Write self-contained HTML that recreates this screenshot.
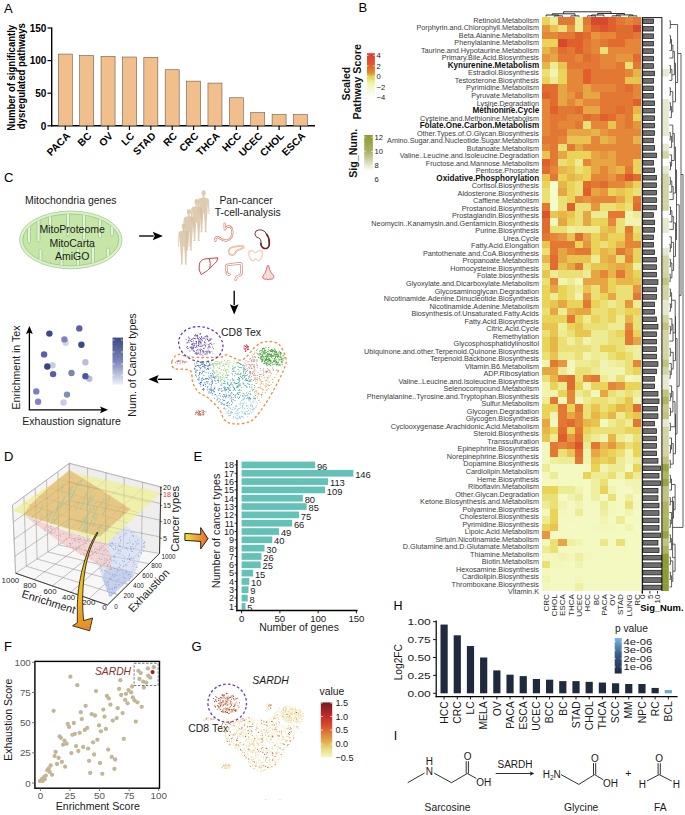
<!DOCTYPE html>
<html><head><meta charset="utf-8"><style>
html,body{margin:0;padding:0;background:#fff;overflow:hidden;width:685px;height:815px;}
svg{display:block;font-family:"Liberation Sans", sans-serif;}
</style></head><body>
<svg width="685" height="815" viewBox="0 0 685 815">
<rect x="0" y="0" width="685" height="815" fill="#fff"/>
<text x="4.00" y="12.60" font-size="13" text-anchor="start" fill="#000">A</text>
<line x1="51.70" y1="27.40" x2="51.70" y2="126.40" stroke="#000" stroke-width="1.4"/>
<line x1="51.00" y1="125.80" x2="315.00" y2="125.80" stroke="#000" stroke-width="1.4"/>
<line x1="47.50" y1="125.80" x2="51.70" y2="125.80" stroke="#000" stroke-width="1.2"/>
<text x="46.40" y="129.60" font-size="10" text-anchor="end" font-weight="bold" fill="#000">0</text>
<line x1="47.50" y1="93.20" x2="51.70" y2="93.20" stroke="#000" stroke-width="1.2"/>
<text x="46.40" y="97.00" font-size="10" text-anchor="end" font-weight="bold" fill="#000">50</text>
<line x1="47.50" y1="60.60" x2="51.70" y2="60.60" stroke="#000" stroke-width="1.2"/>
<text x="46.40" y="64.40" font-size="10" text-anchor="end" font-weight="bold" fill="#000">100</text>
<line x1="47.50" y1="28.00" x2="51.70" y2="28.00" stroke="#000" stroke-width="1.2"/>
<text x="46.40" y="31.80" font-size="10" text-anchor="end" font-weight="bold" fill="#000">150</text>
<rect x="58.30" y="54.08" width="14.00" height="71.72" fill="#f1bf8b" stroke="#6b5a4a" stroke-width="0.6"/>
<line x1="65.30" y1="125.80" x2="65.30" y2="130.00" stroke="#000" stroke-width="1.2"/>
<text x="70.90" y="136.60" font-size="10.2" text-anchor="end" font-weight="bold" fill="#000" transform="rotate(-45 70.89999999999999 136.6)">PACA</text>
<rect x="79.68" y="55.58" width="14.00" height="70.22" fill="#f1bf8b" stroke="#6b5a4a" stroke-width="0.6"/>
<line x1="86.68" y1="125.80" x2="86.68" y2="130.00" stroke="#000" stroke-width="1.2"/>
<text x="92.28" y="136.60" font-size="10.2" text-anchor="end" font-weight="bold" fill="#000" transform="rotate(-45 92.27999999999999 136.6)">BC</text>
<rect x="101.06" y="56.36" width="14.00" height="69.44" fill="#f1bf8b" stroke="#6b5a4a" stroke-width="0.6"/>
<line x1="108.06" y1="125.80" x2="108.06" y2="130.00" stroke="#000" stroke-width="1.2"/>
<text x="113.66" y="136.60" font-size="10.2" text-anchor="end" font-weight="bold" fill="#000" transform="rotate(-45 113.66 136.6)">OV</text>
<rect x="122.44" y="57.01" width="14.00" height="68.79" fill="#f1bf8b" stroke="#6b5a4a" stroke-width="0.6"/>
<line x1="129.44" y1="125.80" x2="129.44" y2="130.00" stroke="#000" stroke-width="1.2"/>
<text x="135.04" y="136.60" font-size="10.2" text-anchor="end" font-weight="bold" fill="#000" transform="rotate(-45 135.04 136.6)">LC</text>
<rect x="143.82" y="57.34" width="14.00" height="68.46" fill="#f1bf8b" stroke="#6b5a4a" stroke-width="0.6"/>
<line x1="150.82" y1="125.80" x2="150.82" y2="130.00" stroke="#000" stroke-width="1.2"/>
<text x="156.42" y="136.60" font-size="10.2" text-anchor="end" font-weight="bold" fill="#000" transform="rotate(-45 156.42 136.6)">STAD</text>
<rect x="165.20" y="69.73" width="14.00" height="56.07" fill="#f1bf8b" stroke="#6b5a4a" stroke-width="0.6"/>
<line x1="172.20" y1="125.80" x2="172.20" y2="130.00" stroke="#000" stroke-width="1.2"/>
<text x="177.80" y="136.60" font-size="10.2" text-anchor="end" font-weight="bold" fill="#000" transform="rotate(-45 177.79999999999998 136.6)">RC</text>
<rect x="186.58" y="81.14" width="14.00" height="44.66" fill="#f1bf8b" stroke="#6b5a4a" stroke-width="0.6"/>
<line x1="193.58" y1="125.80" x2="193.58" y2="130.00" stroke="#000" stroke-width="1.2"/>
<text x="199.18" y="136.60" font-size="10.2" text-anchor="end" font-weight="bold" fill="#000" transform="rotate(-45 199.17999999999998 136.6)">CRC</text>
<rect x="207.96" y="83.09" width="14.00" height="42.71" fill="#f1bf8b" stroke="#6b5a4a" stroke-width="0.6"/>
<line x1="214.96" y1="125.80" x2="214.96" y2="130.00" stroke="#000" stroke-width="1.2"/>
<text x="220.56" y="136.60" font-size="10.2" text-anchor="end" font-weight="bold" fill="#000" transform="rotate(-45 220.55999999999997 136.6)">THCA</text>
<rect x="229.34" y="97.76" width="14.00" height="28.04" fill="#f1bf8b" stroke="#6b5a4a" stroke-width="0.6"/>
<line x1="236.34" y1="125.80" x2="236.34" y2="130.00" stroke="#000" stroke-width="1.2"/>
<text x="241.94" y="136.60" font-size="10.2" text-anchor="end" font-weight="bold" fill="#000" transform="rotate(-45 241.93999999999997 136.6)">HCC</text>
<rect x="250.72" y="112.63" width="14.00" height="13.17" fill="#f1bf8b" stroke="#6b5a4a" stroke-width="0.6"/>
<line x1="257.72" y1="125.80" x2="257.72" y2="130.00" stroke="#000" stroke-width="1.2"/>
<text x="263.32" y="136.60" font-size="10.2" text-anchor="end" font-weight="bold" fill="#000" transform="rotate(-45 263.32 136.6)">UCEC</text>
<rect x="272.10" y="114.59" width="14.00" height="11.21" fill="#f1bf8b" stroke="#6b5a4a" stroke-width="0.6"/>
<line x1="279.10" y1="125.80" x2="279.10" y2="130.00" stroke="#000" stroke-width="1.2"/>
<text x="284.70" y="136.60" font-size="10.2" text-anchor="end" font-weight="bold" fill="#000" transform="rotate(-45 284.7 136.6)">CHOL</text>
<rect x="293.48" y="114.59" width="14.00" height="11.21" fill="#f1bf8b" stroke="#6b5a4a" stroke-width="0.6"/>
<line x1="300.48" y1="125.80" x2="300.48" y2="130.00" stroke="#000" stroke-width="1.2"/>
<text x="306.08" y="136.60" font-size="10.2" text-anchor="end" font-weight="bold" fill="#000" transform="rotate(-45 306.08 136.6)">ESCA</text>
<text x="0" y="0" font-size="10.1" text-anchor="middle" font-weight="bold" fill="#000" transform="translate(14.80 77.80) rotate(-90) scale(0.945 1)">Number of significantly</text>
<text x="0" y="0" font-size="10.1" text-anchor="middle" font-weight="bold" fill="#000" transform="translate(25.00 76.20) rotate(-90) scale(0.95 1)">dysregulated pathways</text>
<text x="358.50" y="12.20" font-size="13" text-anchor="start" fill="#000">B</text>
<rect x="541.95" y="17.06" width="8.61" height="7.80" fill="#e9d458" shape-rendering="crispEdges"/>
<rect x="550.21" y="17.06" width="8.61" height="7.80" fill="#edec94" shape-rendering="crispEdges"/>
<rect x="558.46" y="17.06" width="8.61" height="7.80" fill="#e37834" shape-rendering="crispEdges"/>
<rect x="566.72" y="17.06" width="8.61" height="7.80" fill="#e37834" shape-rendering="crispEdges"/>
<rect x="574.97" y="17.06" width="8.61" height="7.80" fill="#edec94" shape-rendering="crispEdges"/>
<rect x="583.23" y="17.06" width="8.61" height="7.80" fill="#e37834" shape-rendering="crispEdges"/>
<rect x="591.49" y="17.06" width="8.61" height="7.80" fill="#d8482d" shape-rendering="crispEdges"/>
<rect x="599.74" y="17.06" width="8.61" height="7.80" fill="#d8482d" shape-rendering="crispEdges"/>
<rect x="608.00" y="17.06" width="8.61" height="7.80" fill="#df5f2d" shape-rendering="crispEdges"/>
<rect x="616.25" y="17.06" width="8.61" height="7.80" fill="#e37834" shape-rendering="crispEdges"/>
<rect x="624.51" y="17.06" width="8.61" height="7.80" fill="#e48739" shape-rendering="crispEdges"/>
<rect x="632.77" y="17.06" width="8.61" height="7.80" fill="#e37834" shape-rendering="crispEdges"/>
<rect x="541.95" y="24.51" width="8.61" height="7.80" fill="#e5963e" shape-rendering="crispEdges"/>
<rect x="550.21" y="24.51" width="8.61" height="7.80" fill="#e8c550" shape-rendering="crispEdges"/>
<rect x="558.46" y="24.51" width="8.61" height="7.80" fill="#ebe076" shape-rendering="crispEdges"/>
<rect x="566.72" y="24.51" width="8.61" height="7.80" fill="#e5963e" shape-rendering="crispEdges"/>
<rect x="574.97" y="24.51" width="8.61" height="7.80" fill="#edec94" shape-rendering="crispEdges"/>
<rect x="583.23" y="24.51" width="8.61" height="7.80" fill="#e48739" shape-rendering="crispEdges"/>
<rect x="591.49" y="24.51" width="8.61" height="7.80" fill="#df5f2d" shape-rendering="crispEdges"/>
<rect x="599.74" y="24.51" width="8.61" height="7.80" fill="#dc542d" shape-rendering="crispEdges"/>
<rect x="608.00" y="24.51" width="8.61" height="7.80" fill="#df5f2d" shape-rendering="crispEdges"/>
<rect x="616.25" y="24.51" width="8.61" height="7.80" fill="#e16c30" shape-rendering="crispEdges"/>
<rect x="624.51" y="24.51" width="8.61" height="7.80" fill="#e16c30" shape-rendering="crispEdges"/>
<rect x="632.77" y="24.51" width="8.61" height="7.80" fill="#d8482d" shape-rendering="crispEdges"/>
<rect x="541.95" y="31.96" width="8.61" height="7.80" fill="#e48739" shape-rendering="crispEdges"/>
<rect x="550.21" y="31.96" width="8.61" height="7.80" fill="#e48739" shape-rendering="crispEdges"/>
<rect x="558.46" y="31.96" width="8.61" height="7.80" fill="#e37834" shape-rendering="crispEdges"/>
<rect x="566.72" y="31.96" width="8.61" height="7.80" fill="#e37834" shape-rendering="crispEdges"/>
<rect x="574.97" y="31.96" width="8.61" height="7.80" fill="#df5f2d" shape-rendering="crispEdges"/>
<rect x="583.23" y="31.96" width="8.61" height="7.80" fill="#e16c30" shape-rendering="crispEdges"/>
<rect x="591.49" y="31.96" width="8.61" height="7.80" fill="#e5963e" shape-rendering="crispEdges"/>
<rect x="599.74" y="31.96" width="8.61" height="7.80" fill="#e48739" shape-rendering="crispEdges"/>
<rect x="608.00" y="31.96" width="8.61" height="7.80" fill="#e48739" shape-rendering="crispEdges"/>
<rect x="616.25" y="31.96" width="8.61" height="7.80" fill="#e16c30" shape-rendering="crispEdges"/>
<rect x="624.51" y="31.96" width="8.61" height="7.80" fill="#e16c30" shape-rendering="crispEdges"/>
<rect x="632.77" y="31.96" width="8.61" height="7.80" fill="#e37834" shape-rendering="crispEdges"/>
<rect x="541.95" y="39.41" width="8.61" height="7.80" fill="#e9d458" shape-rendering="crispEdges"/>
<rect x="550.21" y="39.41" width="8.61" height="7.80" fill="#e9d458" shape-rendering="crispEdges"/>
<rect x="558.46" y="39.41" width="8.61" height="7.80" fill="#d8482d" shape-rendering="crispEdges"/>
<rect x="566.72" y="39.41" width="8.61" height="7.80" fill="#df5f2d" shape-rendering="crispEdges"/>
<rect x="574.97" y="39.41" width="8.61" height="7.80" fill="#df5f2d" shape-rendering="crispEdges"/>
<rect x="583.23" y="39.41" width="8.61" height="7.80" fill="#e37834" shape-rendering="crispEdges"/>
<rect x="591.49" y="39.41" width="8.61" height="7.80" fill="#e48739" shape-rendering="crispEdges"/>
<rect x="599.74" y="39.41" width="8.61" height="7.80" fill="#e37834" shape-rendering="crispEdges"/>
<rect x="608.00" y="39.41" width="8.61" height="7.80" fill="#e16c30" shape-rendering="crispEdges"/>
<rect x="616.25" y="39.41" width="8.61" height="7.80" fill="#e16c30" shape-rendering="crispEdges"/>
<rect x="624.51" y="39.41" width="8.61" height="7.80" fill="#e48739" shape-rendering="crispEdges"/>
<rect x="632.77" y="39.41" width="8.61" height="7.80" fill="#e48739" shape-rendering="crispEdges"/>
<rect x="541.95" y="46.86" width="8.61" height="7.80" fill="#e8b648" shape-rendering="crispEdges"/>
<rect x="550.21" y="46.86" width="8.61" height="7.80" fill="#e5963e" shape-rendering="crispEdges"/>
<rect x="558.46" y="46.86" width="8.61" height="7.80" fill="#e16c30" shape-rendering="crispEdges"/>
<rect x="566.72" y="46.86" width="8.61" height="7.80" fill="#e37834" shape-rendering="crispEdges"/>
<rect x="574.97" y="46.86" width="8.61" height="7.80" fill="#df5f2d" shape-rendering="crispEdges"/>
<rect x="583.23" y="46.86" width="8.61" height="7.80" fill="#e37834" shape-rendering="crispEdges"/>
<rect x="591.49" y="46.86" width="8.61" height="7.80" fill="#e48739" shape-rendering="crispEdges"/>
<rect x="599.74" y="46.86" width="8.61" height="7.80" fill="#ebe076" shape-rendering="crispEdges"/>
<rect x="608.00" y="46.86" width="8.61" height="7.80" fill="#e48739" shape-rendering="crispEdges"/>
<rect x="616.25" y="46.86" width="8.61" height="7.80" fill="#e48739" shape-rendering="crispEdges"/>
<rect x="624.51" y="46.86" width="8.61" height="7.80" fill="#e48739" shape-rendering="crispEdges"/>
<rect x="632.77" y="46.86" width="8.61" height="7.80" fill="#e48739" shape-rendering="crispEdges"/>
<rect x="541.95" y="54.31" width="8.61" height="7.80" fill="#e5963e" shape-rendering="crispEdges"/>
<rect x="550.21" y="54.31" width="8.61" height="7.80" fill="#e6a643" shape-rendering="crispEdges"/>
<rect x="558.46" y="54.31" width="8.61" height="7.80" fill="#e37834" shape-rendering="crispEdges"/>
<rect x="566.72" y="54.31" width="8.61" height="7.80" fill="#e37834" shape-rendering="crispEdges"/>
<rect x="574.97" y="54.31" width="8.61" height="7.80" fill="#e48739" shape-rendering="crispEdges"/>
<rect x="583.23" y="54.31" width="8.61" height="7.80" fill="#e16c30" shape-rendering="crispEdges"/>
<rect x="591.49" y="54.31" width="8.61" height="7.80" fill="#e37834" shape-rendering="crispEdges"/>
<rect x="599.74" y="54.31" width="8.61" height="7.80" fill="#e48739" shape-rendering="crispEdges"/>
<rect x="608.00" y="54.31" width="8.61" height="7.80" fill="#e48739" shape-rendering="crispEdges"/>
<rect x="616.25" y="54.31" width="8.61" height="7.80" fill="#e5963e" shape-rendering="crispEdges"/>
<rect x="624.51" y="54.31" width="8.61" height="7.80" fill="#e5963e" shape-rendering="crispEdges"/>
<rect x="632.77" y="54.31" width="8.61" height="7.80" fill="#e16c30" shape-rendering="crispEdges"/>
<rect x="541.95" y="61.76" width="8.61" height="7.80" fill="#e8b648" shape-rendering="crispEdges"/>
<rect x="550.21" y="61.76" width="8.61" height="7.80" fill="#edec94" shape-rendering="crispEdges"/>
<rect x="558.46" y="61.76" width="8.61" height="7.80" fill="#e8c550" shape-rendering="crispEdges"/>
<rect x="566.72" y="61.76" width="8.61" height="7.80" fill="#e37834" shape-rendering="crispEdges"/>
<rect x="574.97" y="61.76" width="8.61" height="7.80" fill="#e37834" shape-rendering="crispEdges"/>
<rect x="583.23" y="61.76" width="8.61" height="7.80" fill="#e37834" shape-rendering="crispEdges"/>
<rect x="591.49" y="61.76" width="8.61" height="7.80" fill="#e37834" shape-rendering="crispEdges"/>
<rect x="599.74" y="61.76" width="8.61" height="7.80" fill="#e48739" shape-rendering="crispEdges"/>
<rect x="608.00" y="61.76" width="8.61" height="7.80" fill="#e48739" shape-rendering="crispEdges"/>
<rect x="616.25" y="61.76" width="8.61" height="7.80" fill="#e37834" shape-rendering="crispEdges"/>
<rect x="624.51" y="61.76" width="8.61" height="7.80" fill="#ebe076" shape-rendering="crispEdges"/>
<rect x="632.77" y="61.76" width="8.61" height="7.80" fill="#e37834" shape-rendering="crispEdges"/>
<rect x="541.95" y="69.21" width="8.61" height="7.80" fill="#ebe076" shape-rendering="crispEdges"/>
<rect x="550.21" y="69.21" width="8.61" height="7.80" fill="#f0f4b0" shape-rendering="crispEdges"/>
<rect x="558.46" y="69.21" width="8.61" height="7.80" fill="#e9d458" shape-rendering="crispEdges"/>
<rect x="566.72" y="69.21" width="8.61" height="7.80" fill="#e48739" shape-rendering="crispEdges"/>
<rect x="574.97" y="69.21" width="8.61" height="7.80" fill="#e48739" shape-rendering="crispEdges"/>
<rect x="583.23" y="69.21" width="8.61" height="7.80" fill="#df5f2d" shape-rendering="crispEdges"/>
<rect x="591.49" y="69.21" width="8.61" height="7.80" fill="#e37834" shape-rendering="crispEdges"/>
<rect x="599.74" y="69.21" width="8.61" height="7.80" fill="#e37834" shape-rendering="crispEdges"/>
<rect x="608.00" y="69.21" width="8.61" height="7.80" fill="#e37834" shape-rendering="crispEdges"/>
<rect x="616.25" y="69.21" width="8.61" height="7.80" fill="#e37834" shape-rendering="crispEdges"/>
<rect x="624.51" y="69.21" width="8.61" height="7.80" fill="#e48739" shape-rendering="crispEdges"/>
<rect x="632.77" y="69.21" width="8.61" height="7.80" fill="#e8b648" shape-rendering="crispEdges"/>
<rect x="541.95" y="76.66" width="8.61" height="7.80" fill="#e9d458" shape-rendering="crispEdges"/>
<rect x="550.21" y="76.66" width="8.61" height="7.80" fill="#edec94" shape-rendering="crispEdges"/>
<rect x="558.46" y="76.66" width="8.61" height="7.80" fill="#e9d458" shape-rendering="crispEdges"/>
<rect x="566.72" y="76.66" width="8.61" height="7.80" fill="#e48739" shape-rendering="crispEdges"/>
<rect x="574.97" y="76.66" width="8.61" height="7.80" fill="#e48739" shape-rendering="crispEdges"/>
<rect x="583.23" y="76.66" width="8.61" height="7.80" fill="#df5f2d" shape-rendering="crispEdges"/>
<rect x="591.49" y="76.66" width="8.61" height="7.80" fill="#e37834" shape-rendering="crispEdges"/>
<rect x="599.74" y="76.66" width="8.61" height="7.80" fill="#e37834" shape-rendering="crispEdges"/>
<rect x="608.00" y="76.66" width="8.61" height="7.80" fill="#e37834" shape-rendering="crispEdges"/>
<rect x="616.25" y="76.66" width="8.61" height="7.80" fill="#e37834" shape-rendering="crispEdges"/>
<rect x="624.51" y="76.66" width="8.61" height="7.80" fill="#e8c550" shape-rendering="crispEdges"/>
<rect x="632.77" y="76.66" width="8.61" height="7.80" fill="#e8c550" shape-rendering="crispEdges"/>
<rect x="541.95" y="84.11" width="8.61" height="7.80" fill="#e16c30" shape-rendering="crispEdges"/>
<rect x="550.21" y="84.11" width="8.61" height="7.80" fill="#e16c30" shape-rendering="crispEdges"/>
<rect x="558.46" y="84.11" width="8.61" height="7.80" fill="#e6a643" shape-rendering="crispEdges"/>
<rect x="566.72" y="84.11" width="8.61" height="7.80" fill="#e48739" shape-rendering="crispEdges"/>
<rect x="574.97" y="84.11" width="8.61" height="7.80" fill="#e48739" shape-rendering="crispEdges"/>
<rect x="583.23" y="84.11" width="8.61" height="7.80" fill="#e6a643" shape-rendering="crispEdges"/>
<rect x="591.49" y="84.11" width="8.61" height="7.80" fill="#e48739" shape-rendering="crispEdges"/>
<rect x="599.74" y="84.11" width="8.61" height="7.80" fill="#e48739" shape-rendering="crispEdges"/>
<rect x="608.00" y="84.11" width="8.61" height="7.80" fill="#e48739" shape-rendering="crispEdges"/>
<rect x="616.25" y="84.11" width="8.61" height="7.80" fill="#e37834" shape-rendering="crispEdges"/>
<rect x="624.51" y="84.11" width="8.61" height="7.80" fill="#e16c30" shape-rendering="crispEdges"/>
<rect x="632.77" y="84.11" width="8.61" height="7.80" fill="#e48739" shape-rendering="crispEdges"/>
<rect x="541.95" y="91.56" width="8.61" height="7.80" fill="#df5f2d" shape-rendering="crispEdges"/>
<rect x="550.21" y="91.56" width="8.61" height="7.80" fill="#e16c30" shape-rendering="crispEdges"/>
<rect x="558.46" y="91.56" width="8.61" height="7.80" fill="#e6a643" shape-rendering="crispEdges"/>
<rect x="566.72" y="91.56" width="8.61" height="7.80" fill="#e5963e" shape-rendering="crispEdges"/>
<rect x="574.97" y="91.56" width="8.61" height="7.80" fill="#e37834" shape-rendering="crispEdges"/>
<rect x="583.23" y="91.56" width="8.61" height="7.80" fill="#e6a643" shape-rendering="crispEdges"/>
<rect x="591.49" y="91.56" width="8.61" height="7.80" fill="#e6a643" shape-rendering="crispEdges"/>
<rect x="599.74" y="91.56" width="8.61" height="7.80" fill="#e37834" shape-rendering="crispEdges"/>
<rect x="608.00" y="91.56" width="8.61" height="7.80" fill="#e37834" shape-rendering="crispEdges"/>
<rect x="616.25" y="91.56" width="8.61" height="7.80" fill="#e37834" shape-rendering="crispEdges"/>
<rect x="624.51" y="91.56" width="8.61" height="7.80" fill="#e37834" shape-rendering="crispEdges"/>
<rect x="632.77" y="91.56" width="8.61" height="7.80" fill="#e48739" shape-rendering="crispEdges"/>
<rect x="541.95" y="99.01" width="8.61" height="7.80" fill="#e48739" shape-rendering="crispEdges"/>
<rect x="550.21" y="99.01" width="8.61" height="7.80" fill="#e16c30" shape-rendering="crispEdges"/>
<rect x="558.46" y="99.01" width="8.61" height="7.80" fill="#e6a643" shape-rendering="crispEdges"/>
<rect x="566.72" y="99.01" width="8.61" height="7.80" fill="#e48739" shape-rendering="crispEdges"/>
<rect x="574.97" y="99.01" width="8.61" height="7.80" fill="#e6a643" shape-rendering="crispEdges"/>
<rect x="583.23" y="99.01" width="8.61" height="7.80" fill="#e48739" shape-rendering="crispEdges"/>
<rect x="591.49" y="99.01" width="8.61" height="7.80" fill="#e48739" shape-rendering="crispEdges"/>
<rect x="599.74" y="99.01" width="8.61" height="7.80" fill="#e37834" shape-rendering="crispEdges"/>
<rect x="608.00" y="99.01" width="8.61" height="7.80" fill="#e37834" shape-rendering="crispEdges"/>
<rect x="616.25" y="99.01" width="8.61" height="7.80" fill="#e37834" shape-rendering="crispEdges"/>
<rect x="624.51" y="99.01" width="8.61" height="7.80" fill="#e37834" shape-rendering="crispEdges"/>
<rect x="632.77" y="99.01" width="8.61" height="7.80" fill="#df5f2d" shape-rendering="crispEdges"/>
<rect x="541.95" y="106.46" width="8.61" height="7.80" fill="#e48739" shape-rendering="crispEdges"/>
<rect x="550.21" y="106.46" width="8.61" height="7.80" fill="#df5f2d" shape-rendering="crispEdges"/>
<rect x="558.46" y="106.46" width="8.61" height="7.80" fill="#e37834" shape-rendering="crispEdges"/>
<rect x="566.72" y="106.46" width="8.61" height="7.80" fill="#e37834" shape-rendering="crispEdges"/>
<rect x="574.97" y="106.46" width="8.61" height="7.80" fill="#e16c30" shape-rendering="crispEdges"/>
<rect x="583.23" y="106.46" width="8.61" height="7.80" fill="#e6a643" shape-rendering="crispEdges"/>
<rect x="591.49" y="106.46" width="8.61" height="7.80" fill="#e6a643" shape-rendering="crispEdges"/>
<rect x="599.74" y="106.46" width="8.61" height="7.80" fill="#e37834" shape-rendering="crispEdges"/>
<rect x="608.00" y="106.46" width="8.61" height="7.80" fill="#e37834" shape-rendering="crispEdges"/>
<rect x="616.25" y="106.46" width="8.61" height="7.80" fill="#e16c30" shape-rendering="crispEdges"/>
<rect x="624.51" y="106.46" width="8.61" height="7.80" fill="#e37834" shape-rendering="crispEdges"/>
<rect x="632.77" y="106.46" width="8.61" height="7.80" fill="#e8b648" shape-rendering="crispEdges"/>
<rect x="541.95" y="113.91" width="8.61" height="7.80" fill="#e48739" shape-rendering="crispEdges"/>
<rect x="550.21" y="113.91" width="8.61" height="7.80" fill="#e37834" shape-rendering="crispEdges"/>
<rect x="558.46" y="113.91" width="8.61" height="7.80" fill="#e37834" shape-rendering="crispEdges"/>
<rect x="566.72" y="113.91" width="8.61" height="7.80" fill="#e48739" shape-rendering="crispEdges"/>
<rect x="574.97" y="113.91" width="8.61" height="7.80" fill="#e48739" shape-rendering="crispEdges"/>
<rect x="583.23" y="113.91" width="8.61" height="7.80" fill="#e16c30" shape-rendering="crispEdges"/>
<rect x="591.49" y="113.91" width="8.61" height="7.80" fill="#e37834" shape-rendering="crispEdges"/>
<rect x="599.74" y="113.91" width="8.61" height="7.80" fill="#df5f2d" shape-rendering="crispEdges"/>
<rect x="608.00" y="113.91" width="8.61" height="7.80" fill="#e16c30" shape-rendering="crispEdges"/>
<rect x="616.25" y="113.91" width="8.61" height="7.80" fill="#e48739" shape-rendering="crispEdges"/>
<rect x="624.51" y="113.91" width="8.61" height="7.80" fill="#e37834" shape-rendering="crispEdges"/>
<rect x="632.77" y="113.91" width="8.61" height="7.80" fill="#e9d458" shape-rendering="crispEdges"/>
<rect x="541.95" y="121.36" width="8.61" height="7.80" fill="#e48739" shape-rendering="crispEdges"/>
<rect x="550.21" y="121.36" width="8.61" height="7.80" fill="#e37834" shape-rendering="crispEdges"/>
<rect x="558.46" y="121.36" width="8.61" height="7.80" fill="#e48739" shape-rendering="crispEdges"/>
<rect x="566.72" y="121.36" width="8.61" height="7.80" fill="#e48739" shape-rendering="crispEdges"/>
<rect x="574.97" y="121.36" width="8.61" height="7.80" fill="#e37834" shape-rendering="crispEdges"/>
<rect x="583.23" y="121.36" width="8.61" height="7.80" fill="#ebe076" shape-rendering="crispEdges"/>
<rect x="591.49" y="121.36" width="8.61" height="7.80" fill="#e48739" shape-rendering="crispEdges"/>
<rect x="599.74" y="121.36" width="8.61" height="7.80" fill="#e48739" shape-rendering="crispEdges"/>
<rect x="608.00" y="121.36" width="8.61" height="7.80" fill="#e8c550" shape-rendering="crispEdges"/>
<rect x="616.25" y="121.36" width="8.61" height="7.80" fill="#e48739" shape-rendering="crispEdges"/>
<rect x="624.51" y="121.36" width="8.61" height="7.80" fill="#e37834" shape-rendering="crispEdges"/>
<rect x="632.77" y="121.36" width="8.61" height="7.80" fill="#e5963e" shape-rendering="crispEdges"/>
<rect x="541.95" y="128.81" width="8.61" height="7.80" fill="#e48739" shape-rendering="crispEdges"/>
<rect x="550.21" y="128.81" width="8.61" height="7.80" fill="#e37834" shape-rendering="crispEdges"/>
<rect x="558.46" y="128.81" width="8.61" height="7.80" fill="#e37834" shape-rendering="crispEdges"/>
<rect x="566.72" y="128.81" width="8.61" height="7.80" fill="#e6a643" shape-rendering="crispEdges"/>
<rect x="574.97" y="128.81" width="8.61" height="7.80" fill="#e6a643" shape-rendering="crispEdges"/>
<rect x="583.23" y="128.81" width="8.61" height="7.80" fill="#e6a643" shape-rendering="crispEdges"/>
<rect x="591.49" y="128.81" width="8.61" height="7.80" fill="#e8b648" shape-rendering="crispEdges"/>
<rect x="599.74" y="128.81" width="8.61" height="7.80" fill="#e5963e" shape-rendering="crispEdges"/>
<rect x="608.00" y="128.81" width="8.61" height="7.80" fill="#e48739" shape-rendering="crispEdges"/>
<rect x="616.25" y="128.81" width="8.61" height="7.80" fill="#e48739" shape-rendering="crispEdges"/>
<rect x="624.51" y="128.81" width="8.61" height="7.80" fill="#e48739" shape-rendering="crispEdges"/>
<rect x="632.77" y="128.81" width="8.61" height="7.80" fill="#e48739" shape-rendering="crispEdges"/>
<rect x="541.95" y="136.26" width="8.61" height="7.80" fill="#e37834" shape-rendering="crispEdges"/>
<rect x="550.21" y="136.26" width="8.61" height="7.80" fill="#e37834" shape-rendering="crispEdges"/>
<rect x="558.46" y="136.26" width="8.61" height="7.80" fill="#e48739" shape-rendering="crispEdges"/>
<rect x="566.72" y="136.26" width="8.61" height="7.80" fill="#e8c550" shape-rendering="crispEdges"/>
<rect x="574.97" y="136.26" width="8.61" height="7.80" fill="#e8c550" shape-rendering="crispEdges"/>
<rect x="583.23" y="136.26" width="8.61" height="7.80" fill="#e8c550" shape-rendering="crispEdges"/>
<rect x="591.49" y="136.26" width="8.61" height="7.80" fill="#e48739" shape-rendering="crispEdges"/>
<rect x="599.74" y="136.26" width="8.61" height="7.80" fill="#e8b648" shape-rendering="crispEdges"/>
<rect x="608.00" y="136.26" width="8.61" height="7.80" fill="#e6a643" shape-rendering="crispEdges"/>
<rect x="616.25" y="136.26" width="8.61" height="7.80" fill="#e48739" shape-rendering="crispEdges"/>
<rect x="624.51" y="136.26" width="8.61" height="7.80" fill="#e48739" shape-rendering="crispEdges"/>
<rect x="632.77" y="136.26" width="8.61" height="7.80" fill="#e8b648" shape-rendering="crispEdges"/>
<rect x="541.95" y="143.71" width="8.61" height="7.80" fill="#e48739" shape-rendering="crispEdges"/>
<rect x="550.21" y="143.71" width="8.61" height="7.80" fill="#e37834" shape-rendering="crispEdges"/>
<rect x="558.46" y="143.71" width="8.61" height="7.80" fill="#ebe076" shape-rendering="crispEdges"/>
<rect x="566.72" y="143.71" width="8.61" height="7.80" fill="#e37834" shape-rendering="crispEdges"/>
<rect x="574.97" y="143.71" width="8.61" height="7.80" fill="#e6a643" shape-rendering="crispEdges"/>
<rect x="583.23" y="143.71" width="8.61" height="7.80" fill="#e48739" shape-rendering="crispEdges"/>
<rect x="591.49" y="143.71" width="8.61" height="7.80" fill="#e48739" shape-rendering="crispEdges"/>
<rect x="599.74" y="143.71" width="8.61" height="7.80" fill="#e48739" shape-rendering="crispEdges"/>
<rect x="608.00" y="143.71" width="8.61" height="7.80" fill="#e48739" shape-rendering="crispEdges"/>
<rect x="616.25" y="143.71" width="8.61" height="7.80" fill="#e48739" shape-rendering="crispEdges"/>
<rect x="624.51" y="143.71" width="8.61" height="7.80" fill="#e48739" shape-rendering="crispEdges"/>
<rect x="632.77" y="143.71" width="8.61" height="7.80" fill="#e48739" shape-rendering="crispEdges"/>
<rect x="541.95" y="151.16" width="8.61" height="7.80" fill="#e8c550" shape-rendering="crispEdges"/>
<rect x="550.21" y="151.16" width="8.61" height="7.80" fill="#e37834" shape-rendering="crispEdges"/>
<rect x="558.46" y="151.16" width="8.61" height="7.80" fill="#e6a643" shape-rendering="crispEdges"/>
<rect x="566.72" y="151.16" width="8.61" height="7.80" fill="#e9d458" shape-rendering="crispEdges"/>
<rect x="574.97" y="151.16" width="8.61" height="7.80" fill="#e9d458" shape-rendering="crispEdges"/>
<rect x="583.23" y="151.16" width="8.61" height="7.80" fill="#e9d458" shape-rendering="crispEdges"/>
<rect x="591.49" y="151.16" width="8.61" height="7.80" fill="#e6a643" shape-rendering="crispEdges"/>
<rect x="599.74" y="151.16" width="8.61" height="7.80" fill="#e5963e" shape-rendering="crispEdges"/>
<rect x="608.00" y="151.16" width="8.61" height="7.80" fill="#e6a643" shape-rendering="crispEdges"/>
<rect x="616.25" y="151.16" width="8.61" height="7.80" fill="#e48739" shape-rendering="crispEdges"/>
<rect x="624.51" y="151.16" width="8.61" height="7.80" fill="#e48739" shape-rendering="crispEdges"/>
<rect x="632.77" y="151.16" width="8.61" height="7.80" fill="#e48739" shape-rendering="crispEdges"/>
<rect x="541.95" y="158.61" width="8.61" height="7.80" fill="#df5f2d" shape-rendering="crispEdges"/>
<rect x="550.21" y="158.61" width="8.61" height="7.80" fill="#e37834" shape-rendering="crispEdges"/>
<rect x="558.46" y="158.61" width="8.61" height="7.80" fill="#ebe076" shape-rendering="crispEdges"/>
<rect x="566.72" y="158.61" width="8.61" height="7.80" fill="#e9d458" shape-rendering="crispEdges"/>
<rect x="574.97" y="158.61" width="8.61" height="7.80" fill="#edec94" shape-rendering="crispEdges"/>
<rect x="583.23" y="158.61" width="8.61" height="7.80" fill="#e48739" shape-rendering="crispEdges"/>
<rect x="591.49" y="158.61" width="8.61" height="7.80" fill="#e6a643" shape-rendering="crispEdges"/>
<rect x="599.74" y="158.61" width="8.61" height="7.80" fill="#e6a643" shape-rendering="crispEdges"/>
<rect x="608.00" y="158.61" width="8.61" height="7.80" fill="#e6a643" shape-rendering="crispEdges"/>
<rect x="616.25" y="158.61" width="8.61" height="7.80" fill="#e48739" shape-rendering="crispEdges"/>
<rect x="624.51" y="158.61" width="8.61" height="7.80" fill="#e48739" shape-rendering="crispEdges"/>
<rect x="632.77" y="158.61" width="8.61" height="7.80" fill="#e9d458" shape-rendering="crispEdges"/>
<rect x="541.95" y="166.06" width="8.61" height="7.80" fill="#e16c30" shape-rendering="crispEdges"/>
<rect x="550.21" y="166.06" width="8.61" height="7.80" fill="#e48739" shape-rendering="crispEdges"/>
<rect x="558.46" y="166.06" width="8.61" height="7.80" fill="#e8b648" shape-rendering="crispEdges"/>
<rect x="566.72" y="166.06" width="8.61" height="7.80" fill="#e8c550" shape-rendering="crispEdges"/>
<rect x="574.97" y="166.06" width="8.61" height="7.80" fill="#ebe076" shape-rendering="crispEdges"/>
<rect x="583.23" y="166.06" width="8.61" height="7.80" fill="#e9d458" shape-rendering="crispEdges"/>
<rect x="591.49" y="166.06" width="8.61" height="7.80" fill="#e6a643" shape-rendering="crispEdges"/>
<rect x="599.74" y="166.06" width="8.61" height="7.80" fill="#e48739" shape-rendering="crispEdges"/>
<rect x="608.00" y="166.06" width="8.61" height="7.80" fill="#e6a643" shape-rendering="crispEdges"/>
<rect x="616.25" y="166.06" width="8.61" height="7.80" fill="#e8b648" shape-rendering="crispEdges"/>
<rect x="624.51" y="166.06" width="8.61" height="7.80" fill="#e37834" shape-rendering="crispEdges"/>
<rect x="632.77" y="166.06" width="8.61" height="7.80" fill="#e9d458" shape-rendering="crispEdges"/>
<rect x="541.95" y="173.51" width="8.61" height="7.80" fill="#e8c550" shape-rendering="crispEdges"/>
<rect x="550.21" y="173.51" width="8.61" height="7.80" fill="#e37834" shape-rendering="crispEdges"/>
<rect x="558.46" y="173.51" width="8.61" height="7.80" fill="#e9d458" shape-rendering="crispEdges"/>
<rect x="566.72" y="173.51" width="8.61" height="7.80" fill="#e8b648" shape-rendering="crispEdges"/>
<rect x="574.97" y="173.51" width="8.61" height="7.80" fill="#e8c550" shape-rendering="crispEdges"/>
<rect x="583.23" y="173.51" width="8.61" height="7.80" fill="#e9d458" shape-rendering="crispEdges"/>
<rect x="591.49" y="173.51" width="8.61" height="7.80" fill="#e48739" shape-rendering="crispEdges"/>
<rect x="599.74" y="173.51" width="8.61" height="7.80" fill="#e48739" shape-rendering="crispEdges"/>
<rect x="608.00" y="173.51" width="8.61" height="7.80" fill="#e5963e" shape-rendering="crispEdges"/>
<rect x="616.25" y="173.51" width="8.61" height="7.80" fill="#e37834" shape-rendering="crispEdges"/>
<rect x="624.51" y="173.51" width="8.61" height="7.80" fill="#dc542d" shape-rendering="crispEdges"/>
<rect x="632.77" y="173.51" width="8.61" height="7.80" fill="#e16c30" shape-rendering="crispEdges"/>
<rect x="541.95" y="180.96" width="8.61" height="7.80" fill="#e9d458" shape-rendering="crispEdges"/>
<rect x="550.21" y="180.96" width="8.61" height="7.80" fill="#f4fccc" shape-rendering="crispEdges"/>
<rect x="558.46" y="180.96" width="8.61" height="7.80" fill="#e8b648" shape-rendering="crispEdges"/>
<rect x="566.72" y="180.96" width="8.61" height="7.80" fill="#e9d458" shape-rendering="crispEdges"/>
<rect x="574.97" y="180.96" width="8.61" height="7.80" fill="#ebe076" shape-rendering="crispEdges"/>
<rect x="583.23" y="180.96" width="8.61" height="7.80" fill="#e16c30" shape-rendering="crispEdges"/>
<rect x="591.49" y="180.96" width="8.61" height="7.80" fill="#e37834" shape-rendering="crispEdges"/>
<rect x="599.74" y="180.96" width="8.61" height="7.80" fill="#e16c30" shape-rendering="crispEdges"/>
<rect x="608.00" y="180.96" width="8.61" height="7.80" fill="#e48739" shape-rendering="crispEdges"/>
<rect x="616.25" y="180.96" width="8.61" height="7.80" fill="#e48739" shape-rendering="crispEdges"/>
<rect x="624.51" y="180.96" width="8.61" height="7.80" fill="#e6a643" shape-rendering="crispEdges"/>
<rect x="632.77" y="180.96" width="8.61" height="7.80" fill="#e9d458" shape-rendering="crispEdges"/>
<rect x="541.95" y="188.41" width="8.61" height="7.80" fill="#ebe076" shape-rendering="crispEdges"/>
<rect x="550.21" y="188.41" width="8.61" height="7.80" fill="#f4fccc" shape-rendering="crispEdges"/>
<rect x="558.46" y="188.41" width="8.61" height="7.80" fill="#e6a643" shape-rendering="crispEdges"/>
<rect x="566.72" y="188.41" width="8.61" height="7.80" fill="#e9d458" shape-rendering="crispEdges"/>
<rect x="574.97" y="188.41" width="8.61" height="7.80" fill="#ebe076" shape-rendering="crispEdges"/>
<rect x="583.23" y="188.41" width="8.61" height="7.80" fill="#df5f2d" shape-rendering="crispEdges"/>
<rect x="591.49" y="188.41" width="8.61" height="7.80" fill="#e6a643" shape-rendering="crispEdges"/>
<rect x="599.74" y="188.41" width="8.61" height="7.80" fill="#e5963e" shape-rendering="crispEdges"/>
<rect x="608.00" y="188.41" width="8.61" height="7.80" fill="#e9d458" shape-rendering="crispEdges"/>
<rect x="616.25" y="188.41" width="8.61" height="7.80" fill="#e8c550" shape-rendering="crispEdges"/>
<rect x="624.51" y="188.41" width="8.61" height="7.80" fill="#e9d458" shape-rendering="crispEdges"/>
<rect x="632.77" y="188.41" width="8.61" height="7.80" fill="#ebe076" shape-rendering="crispEdges"/>
<rect x="541.95" y="195.86" width="8.61" height="7.80" fill="#ebe076" shape-rendering="crispEdges"/>
<rect x="550.21" y="195.86" width="8.61" height="7.80" fill="#f4fccc" shape-rendering="crispEdges"/>
<rect x="558.46" y="195.86" width="8.61" height="7.80" fill="#ebe076" shape-rendering="crispEdges"/>
<rect x="566.72" y="195.86" width="8.61" height="7.80" fill="#e9d458" shape-rendering="crispEdges"/>
<rect x="574.97" y="195.86" width="8.61" height="7.80" fill="#e48739" shape-rendering="crispEdges"/>
<rect x="583.23" y="195.86" width="8.61" height="7.80" fill="#e5963e" shape-rendering="crispEdges"/>
<rect x="591.49" y="195.86" width="8.61" height="7.80" fill="#e48739" shape-rendering="crispEdges"/>
<rect x="599.74" y="195.86" width="8.61" height="7.80" fill="#e48739" shape-rendering="crispEdges"/>
<rect x="608.00" y="195.86" width="8.61" height="7.80" fill="#e48739" shape-rendering="crispEdges"/>
<rect x="616.25" y="195.86" width="8.61" height="7.80" fill="#e6a643" shape-rendering="crispEdges"/>
<rect x="624.51" y="195.86" width="8.61" height="7.80" fill="#e9d458" shape-rendering="crispEdges"/>
<rect x="632.77" y="195.86" width="8.61" height="7.80" fill="#e37834" shape-rendering="crispEdges"/>
<rect x="541.95" y="203.31" width="8.61" height="7.80" fill="#e37834" shape-rendering="crispEdges"/>
<rect x="550.21" y="203.31" width="8.61" height="7.80" fill="#f4fccc" shape-rendering="crispEdges"/>
<rect x="558.46" y="203.31" width="8.61" height="7.80" fill="#ebe076" shape-rendering="crispEdges"/>
<rect x="566.72" y="203.31" width="8.61" height="7.80" fill="#df5f2d" shape-rendering="crispEdges"/>
<rect x="574.97" y="203.31" width="8.61" height="7.80" fill="#ebe076" shape-rendering="crispEdges"/>
<rect x="583.23" y="203.31" width="8.61" height="7.80" fill="#ebe076" shape-rendering="crispEdges"/>
<rect x="591.49" y="203.31" width="8.61" height="7.80" fill="#e5963e" shape-rendering="crispEdges"/>
<rect x="599.74" y="203.31" width="8.61" height="7.80" fill="#ebe076" shape-rendering="crispEdges"/>
<rect x="608.00" y="203.31" width="8.61" height="7.80" fill="#ebe076" shape-rendering="crispEdges"/>
<rect x="616.25" y="203.31" width="8.61" height="7.80" fill="#e9d458" shape-rendering="crispEdges"/>
<rect x="624.51" y="203.31" width="8.61" height="7.80" fill="#ebe076" shape-rendering="crispEdges"/>
<rect x="632.77" y="203.31" width="8.61" height="7.80" fill="#e16c30" shape-rendering="crispEdges"/>
<rect x="541.95" y="210.76" width="8.61" height="7.80" fill="#dc542d" shape-rendering="crispEdges"/>
<rect x="550.21" y="210.76" width="8.61" height="7.80" fill="#e8c550" shape-rendering="crispEdges"/>
<rect x="558.46" y="210.76" width="8.61" height="7.80" fill="#e8b648" shape-rendering="crispEdges"/>
<rect x="566.72" y="210.76" width="8.61" height="7.80" fill="#e8c550" shape-rendering="crispEdges"/>
<rect x="574.97" y="210.76" width="8.61" height="7.80" fill="#ebe076" shape-rendering="crispEdges"/>
<rect x="583.23" y="210.76" width="8.61" height="7.80" fill="#e6a643" shape-rendering="crispEdges"/>
<rect x="591.49" y="210.76" width="8.61" height="7.80" fill="#edec94" shape-rendering="crispEdges"/>
<rect x="599.74" y="210.76" width="8.61" height="7.80" fill="#edec94" shape-rendering="crispEdges"/>
<rect x="608.00" y="210.76" width="8.61" height="7.80" fill="#e37834" shape-rendering="crispEdges"/>
<rect x="616.25" y="210.76" width="8.61" height="7.80" fill="#e37834" shape-rendering="crispEdges"/>
<rect x="624.51" y="210.76" width="8.61" height="7.80" fill="#f0f4b0" shape-rendering="crispEdges"/>
<rect x="632.77" y="210.76" width="8.61" height="7.80" fill="#edec94" shape-rendering="crispEdges"/>
<rect x="541.95" y="218.21" width="8.61" height="7.80" fill="#e16c30" shape-rendering="crispEdges"/>
<rect x="550.21" y="218.21" width="8.61" height="7.80" fill="#f2f7bb" shape-rendering="crispEdges"/>
<rect x="558.46" y="218.21" width="8.61" height="7.80" fill="#e6a643" shape-rendering="crispEdges"/>
<rect x="566.72" y="218.21" width="8.61" height="7.80" fill="#e9d458" shape-rendering="crispEdges"/>
<rect x="574.97" y="218.21" width="8.61" height="7.80" fill="#ebe076" shape-rendering="crispEdges"/>
<rect x="583.23" y="218.21" width="8.61" height="7.80" fill="#e6a643" shape-rendering="crispEdges"/>
<rect x="591.49" y="218.21" width="8.61" height="7.80" fill="#e9d458" shape-rendering="crispEdges"/>
<rect x="599.74" y="218.21" width="8.61" height="7.80" fill="#e9d458" shape-rendering="crispEdges"/>
<rect x="608.00" y="218.21" width="8.61" height="7.80" fill="#e48739" shape-rendering="crispEdges"/>
<rect x="616.25" y="218.21" width="8.61" height="7.80" fill="#ebe076" shape-rendering="crispEdges"/>
<rect x="624.51" y="218.21" width="8.61" height="7.80" fill="#f0f4b0" shape-rendering="crispEdges"/>
<rect x="632.77" y="218.21" width="8.61" height="7.80" fill="#f0f4b0" shape-rendering="crispEdges"/>
<rect x="541.95" y="225.66" width="8.61" height="7.80" fill="#e16c30" shape-rendering="crispEdges"/>
<rect x="550.21" y="225.66" width="8.61" height="7.80" fill="#ebe076" shape-rendering="crispEdges"/>
<rect x="558.46" y="225.66" width="8.61" height="7.80" fill="#ebe076" shape-rendering="crispEdges"/>
<rect x="566.72" y="225.66" width="8.61" height="7.80" fill="#eeef9f" shape-rendering="crispEdges"/>
<rect x="574.97" y="225.66" width="8.61" height="7.80" fill="#edec94" shape-rendering="crispEdges"/>
<rect x="583.23" y="225.66" width="8.61" height="7.80" fill="#edec94" shape-rendering="crispEdges"/>
<rect x="591.49" y="225.66" width="8.61" height="7.80" fill="#edec94" shape-rendering="crispEdges"/>
<rect x="599.74" y="225.66" width="8.61" height="7.80" fill="#e8c550" shape-rendering="crispEdges"/>
<rect x="608.00" y="225.66" width="8.61" height="7.80" fill="#e8b648" shape-rendering="crispEdges"/>
<rect x="616.25" y="225.66" width="8.61" height="7.80" fill="#ebe076" shape-rendering="crispEdges"/>
<rect x="624.51" y="225.66" width="8.61" height="7.80" fill="#e37834" shape-rendering="crispEdges"/>
<rect x="632.77" y="225.66" width="8.61" height="7.80" fill="#ebe076" shape-rendering="crispEdges"/>
<rect x="541.95" y="233.11" width="8.61" height="7.80" fill="#e37834" shape-rendering="crispEdges"/>
<rect x="550.21" y="233.11" width="8.61" height="7.80" fill="#e48739" shape-rendering="crispEdges"/>
<rect x="558.46" y="233.11" width="8.61" height="7.80" fill="#e5963e" shape-rendering="crispEdges"/>
<rect x="566.72" y="233.11" width="8.61" height="7.80" fill="#e8c550" shape-rendering="crispEdges"/>
<rect x="574.97" y="233.11" width="8.61" height="7.80" fill="#e16c30" shape-rendering="crispEdges"/>
<rect x="583.23" y="233.11" width="8.61" height="7.80" fill="#e6a643" shape-rendering="crispEdges"/>
<rect x="591.49" y="233.11" width="8.61" height="7.80" fill="#e9d458" shape-rendering="crispEdges"/>
<rect x="599.74" y="233.11" width="8.61" height="7.80" fill="#e8b648" shape-rendering="crispEdges"/>
<rect x="608.00" y="233.11" width="8.61" height="7.80" fill="#e9d458" shape-rendering="crispEdges"/>
<rect x="616.25" y="233.11" width="8.61" height="7.80" fill="#e9d458" shape-rendering="crispEdges"/>
<rect x="624.51" y="233.11" width="8.61" height="7.80" fill="#e48739" shape-rendering="crispEdges"/>
<rect x="632.77" y="233.11" width="8.61" height="7.80" fill="#e9d458" shape-rendering="crispEdges"/>
<rect x="541.95" y="240.56" width="8.61" height="7.80" fill="#e8c550" shape-rendering="crispEdges"/>
<rect x="550.21" y="240.56" width="8.61" height="7.80" fill="#e37834" shape-rendering="crispEdges"/>
<rect x="558.46" y="240.56" width="8.61" height="7.80" fill="#e37834" shape-rendering="crispEdges"/>
<rect x="566.72" y="240.56" width="8.61" height="7.80" fill="#e37834" shape-rendering="crispEdges"/>
<rect x="574.97" y="240.56" width="8.61" height="7.80" fill="#e9d458" shape-rendering="crispEdges"/>
<rect x="583.23" y="240.56" width="8.61" height="7.80" fill="#e5963e" shape-rendering="crispEdges"/>
<rect x="591.49" y="240.56" width="8.61" height="7.80" fill="#e9d458" shape-rendering="crispEdges"/>
<rect x="599.74" y="240.56" width="8.61" height="7.80" fill="#ebe076" shape-rendering="crispEdges"/>
<rect x="608.00" y="240.56" width="8.61" height="7.80" fill="#e9d458" shape-rendering="crispEdges"/>
<rect x="616.25" y="240.56" width="8.61" height="7.80" fill="#e8b648" shape-rendering="crispEdges"/>
<rect x="624.51" y="240.56" width="8.61" height="7.80" fill="#e48739" shape-rendering="crispEdges"/>
<rect x="632.77" y="240.56" width="8.61" height="7.80" fill="#e48739" shape-rendering="crispEdges"/>
<rect x="541.95" y="248.01" width="8.61" height="7.80" fill="#ebe076" shape-rendering="crispEdges"/>
<rect x="550.21" y="248.01" width="8.61" height="7.80" fill="#e37834" shape-rendering="crispEdges"/>
<rect x="558.46" y="248.01" width="8.61" height="7.80" fill="#e6a643" shape-rendering="crispEdges"/>
<rect x="566.72" y="248.01" width="8.61" height="7.80" fill="#e48739" shape-rendering="crispEdges"/>
<rect x="574.97" y="248.01" width="8.61" height="7.80" fill="#e37834" shape-rendering="crispEdges"/>
<rect x="583.23" y="248.01" width="8.61" height="7.80" fill="#e37834" shape-rendering="crispEdges"/>
<rect x="591.49" y="248.01" width="8.61" height="7.80" fill="#e9d458" shape-rendering="crispEdges"/>
<rect x="599.74" y="248.01" width="8.61" height="7.80" fill="#e8b648" shape-rendering="crispEdges"/>
<rect x="608.00" y="248.01" width="8.61" height="7.80" fill="#e8c550" shape-rendering="crispEdges"/>
<rect x="616.25" y="248.01" width="8.61" height="7.80" fill="#e37834" shape-rendering="crispEdges"/>
<rect x="624.51" y="248.01" width="8.61" height="7.80" fill="#e5963e" shape-rendering="crispEdges"/>
<rect x="632.77" y="248.01" width="8.61" height="7.80" fill="#e9d458" shape-rendering="crispEdges"/>
<rect x="541.95" y="255.46" width="8.61" height="7.80" fill="#e8b648" shape-rendering="crispEdges"/>
<rect x="550.21" y="255.46" width="8.61" height="7.80" fill="#e16c30" shape-rendering="crispEdges"/>
<rect x="558.46" y="255.46" width="8.61" height="7.80" fill="#e6a643" shape-rendering="crispEdges"/>
<rect x="566.72" y="255.46" width="8.61" height="7.80" fill="#e8c550" shape-rendering="crispEdges"/>
<rect x="574.97" y="255.46" width="8.61" height="7.80" fill="#e8c550" shape-rendering="crispEdges"/>
<rect x="583.23" y="255.46" width="8.61" height="7.80" fill="#e8c550" shape-rendering="crispEdges"/>
<rect x="591.49" y="255.46" width="8.61" height="7.80" fill="#edec94" shape-rendering="crispEdges"/>
<rect x="599.74" y="255.46" width="8.61" height="7.80" fill="#e8b648" shape-rendering="crispEdges"/>
<rect x="608.00" y="255.46" width="8.61" height="7.80" fill="#e6a643" shape-rendering="crispEdges"/>
<rect x="616.25" y="255.46" width="8.61" height="7.80" fill="#ebe076" shape-rendering="crispEdges"/>
<rect x="624.51" y="255.46" width="8.61" height="7.80" fill="#e48739" shape-rendering="crispEdges"/>
<rect x="632.77" y="255.46" width="8.61" height="7.80" fill="#e9d458" shape-rendering="crispEdges"/>
<rect x="541.95" y="262.91" width="8.61" height="7.80" fill="#ebe076" shape-rendering="crispEdges"/>
<rect x="550.21" y="262.91" width="8.61" height="7.80" fill="#e16c30" shape-rendering="crispEdges"/>
<rect x="558.46" y="262.91" width="8.61" height="7.80" fill="#e8c550" shape-rendering="crispEdges"/>
<rect x="566.72" y="262.91" width="8.61" height="7.80" fill="#e6a643" shape-rendering="crispEdges"/>
<rect x="574.97" y="262.91" width="8.61" height="7.80" fill="#e37834" shape-rendering="crispEdges"/>
<rect x="583.23" y="262.91" width="8.61" height="7.80" fill="#ebe076" shape-rendering="crispEdges"/>
<rect x="591.49" y="262.91" width="8.61" height="7.80" fill="#e8c550" shape-rendering="crispEdges"/>
<rect x="599.74" y="262.91" width="8.61" height="7.80" fill="#e8c550" shape-rendering="crispEdges"/>
<rect x="608.00" y="262.91" width="8.61" height="7.80" fill="#e8b648" shape-rendering="crispEdges"/>
<rect x="616.25" y="262.91" width="8.61" height="7.80" fill="#e6a643" shape-rendering="crispEdges"/>
<rect x="624.51" y="262.91" width="8.61" height="7.80" fill="#e8b648" shape-rendering="crispEdges"/>
<rect x="632.77" y="262.91" width="8.61" height="7.80" fill="#eeef9f" shape-rendering="crispEdges"/>
<rect x="541.95" y="270.36" width="8.61" height="7.80" fill="#e8c550" shape-rendering="crispEdges"/>
<rect x="550.21" y="270.36" width="8.61" height="7.80" fill="#edec94" shape-rendering="crispEdges"/>
<rect x="558.46" y="270.36" width="8.61" height="7.80" fill="#ebe076" shape-rendering="crispEdges"/>
<rect x="566.72" y="270.36" width="8.61" height="7.80" fill="#ebe076" shape-rendering="crispEdges"/>
<rect x="574.97" y="270.36" width="8.61" height="7.80" fill="#ebe076" shape-rendering="crispEdges"/>
<rect x="583.23" y="270.36" width="8.61" height="7.80" fill="#edec94" shape-rendering="crispEdges"/>
<rect x="591.49" y="270.36" width="8.61" height="7.80" fill="#e6a643" shape-rendering="crispEdges"/>
<rect x="599.74" y="270.36" width="8.61" height="7.80" fill="#e48739" shape-rendering="crispEdges"/>
<rect x="608.00" y="270.36" width="8.61" height="7.80" fill="#e8b648" shape-rendering="crispEdges"/>
<rect x="616.25" y="270.36" width="8.61" height="7.80" fill="#e37834" shape-rendering="crispEdges"/>
<rect x="624.51" y="270.36" width="8.61" height="7.80" fill="#e8b648" shape-rendering="crispEdges"/>
<rect x="632.77" y="270.36" width="8.61" height="7.80" fill="#e9d458" shape-rendering="crispEdges"/>
<rect x="541.95" y="277.81" width="8.61" height="7.80" fill="#ebe076" shape-rendering="crispEdges"/>
<rect x="550.21" y="277.81" width="8.61" height="7.80" fill="#e48739" shape-rendering="crispEdges"/>
<rect x="558.46" y="277.81" width="8.61" height="7.80" fill="#f0f4b0" shape-rendering="crispEdges"/>
<rect x="566.72" y="277.81" width="8.61" height="7.80" fill="#edec94" shape-rendering="crispEdges"/>
<rect x="574.97" y="277.81" width="8.61" height="7.80" fill="#f2f7bb" shape-rendering="crispEdges"/>
<rect x="583.23" y="277.81" width="8.61" height="7.80" fill="#e6a643" shape-rendering="crispEdges"/>
<rect x="591.49" y="277.81" width="8.61" height="7.80" fill="#e6a643" shape-rendering="crispEdges"/>
<rect x="599.74" y="277.81" width="8.61" height="7.80" fill="#e6a643" shape-rendering="crispEdges"/>
<rect x="608.00" y="277.81" width="8.61" height="7.80" fill="#e9d458" shape-rendering="crispEdges"/>
<rect x="616.25" y="277.81" width="8.61" height="7.80" fill="#e8b648" shape-rendering="crispEdges"/>
<rect x="624.51" y="277.81" width="8.61" height="7.80" fill="#e8b648" shape-rendering="crispEdges"/>
<rect x="632.77" y="277.81" width="8.61" height="7.80" fill="#e8c550" shape-rendering="crispEdges"/>
<rect x="541.95" y="285.26" width="8.61" height="7.80" fill="#e9d458" shape-rendering="crispEdges"/>
<rect x="550.21" y="285.26" width="8.61" height="7.80" fill="#e6a643" shape-rendering="crispEdges"/>
<rect x="558.46" y="285.26" width="8.61" height="7.80" fill="#e9d458" shape-rendering="crispEdges"/>
<rect x="566.72" y="285.26" width="8.61" height="7.80" fill="#ebe076" shape-rendering="crispEdges"/>
<rect x="574.97" y="285.26" width="8.61" height="7.80" fill="#edec94" shape-rendering="crispEdges"/>
<rect x="583.23" y="285.26" width="8.61" height="7.80" fill="#e8c550" shape-rendering="crispEdges"/>
<rect x="591.49" y="285.26" width="8.61" height="7.80" fill="#ebe076" shape-rendering="crispEdges"/>
<rect x="599.74" y="285.26" width="8.61" height="7.80" fill="#e6a643" shape-rendering="crispEdges"/>
<rect x="608.00" y="285.26" width="8.61" height="7.80" fill="#e9d458" shape-rendering="crispEdges"/>
<rect x="616.25" y="285.26" width="8.61" height="7.80" fill="#ebe076" shape-rendering="crispEdges"/>
<rect x="624.51" y="285.26" width="8.61" height="7.80" fill="#ebe076" shape-rendering="crispEdges"/>
<rect x="632.77" y="285.26" width="8.61" height="7.80" fill="#e5963e" shape-rendering="crispEdges"/>
<rect x="541.95" y="292.71" width="8.61" height="7.80" fill="#e9d458" shape-rendering="crispEdges"/>
<rect x="550.21" y="292.71" width="8.61" height="7.80" fill="#edec94" shape-rendering="crispEdges"/>
<rect x="558.46" y="292.71" width="8.61" height="7.80" fill="#e9d458" shape-rendering="crispEdges"/>
<rect x="566.72" y="292.71" width="8.61" height="7.80" fill="#ebe076" shape-rendering="crispEdges"/>
<rect x="574.97" y="292.71" width="8.61" height="7.80" fill="#f0f4b0" shape-rendering="crispEdges"/>
<rect x="583.23" y="292.71" width="8.61" height="7.80" fill="#e5963e" shape-rendering="crispEdges"/>
<rect x="591.49" y="292.71" width="8.61" height="7.80" fill="#ebe076" shape-rendering="crispEdges"/>
<rect x="599.74" y="292.71" width="8.61" height="7.80" fill="#e9d458" shape-rendering="crispEdges"/>
<rect x="608.00" y="292.71" width="8.61" height="7.80" fill="#e6a643" shape-rendering="crispEdges"/>
<rect x="616.25" y="292.71" width="8.61" height="7.80" fill="#ebe076" shape-rendering="crispEdges"/>
<rect x="624.51" y="292.71" width="8.61" height="7.80" fill="#ebe076" shape-rendering="crispEdges"/>
<rect x="632.77" y="292.71" width="8.61" height="7.80" fill="#e37834" shape-rendering="crispEdges"/>
<rect x="541.95" y="300.16" width="8.61" height="7.80" fill="#e9d458" shape-rendering="crispEdges"/>
<rect x="550.21" y="300.16" width="8.61" height="7.80" fill="#e8c550" shape-rendering="crispEdges"/>
<rect x="558.46" y="300.16" width="8.61" height="7.80" fill="#e6a643" shape-rendering="crispEdges"/>
<rect x="566.72" y="300.16" width="8.61" height="7.80" fill="#e9d458" shape-rendering="crispEdges"/>
<rect x="574.97" y="300.16" width="8.61" height="7.80" fill="#e9d458" shape-rendering="crispEdges"/>
<rect x="583.23" y="300.16" width="8.61" height="7.80" fill="#e37834" shape-rendering="crispEdges"/>
<rect x="591.49" y="300.16" width="8.61" height="7.80" fill="#e9d458" shape-rendering="crispEdges"/>
<rect x="599.74" y="300.16" width="8.61" height="7.80" fill="#ebe076" shape-rendering="crispEdges"/>
<rect x="608.00" y="300.16" width="8.61" height="7.80" fill="#edec94" shape-rendering="crispEdges"/>
<rect x="616.25" y="300.16" width="8.61" height="7.80" fill="#ebe076" shape-rendering="crispEdges"/>
<rect x="624.51" y="300.16" width="8.61" height="7.80" fill="#e5963e" shape-rendering="crispEdges"/>
<rect x="632.77" y="300.16" width="8.61" height="7.80" fill="#edec94" shape-rendering="crispEdges"/>
<rect x="541.95" y="307.61" width="8.61" height="7.80" fill="#ebe076" shape-rendering="crispEdges"/>
<rect x="550.21" y="307.61" width="8.61" height="7.80" fill="#e6a643" shape-rendering="crispEdges"/>
<rect x="558.46" y="307.61" width="8.61" height="7.80" fill="#edec94" shape-rendering="crispEdges"/>
<rect x="566.72" y="307.61" width="8.61" height="7.80" fill="#e8b648" shape-rendering="crispEdges"/>
<rect x="574.97" y="307.61" width="8.61" height="7.80" fill="#e6a643" shape-rendering="crispEdges"/>
<rect x="583.23" y="307.61" width="8.61" height="7.80" fill="#e6a643" shape-rendering="crispEdges"/>
<rect x="591.49" y="307.61" width="8.61" height="7.80" fill="#ebe076" shape-rendering="crispEdges"/>
<rect x="599.74" y="307.61" width="8.61" height="7.80" fill="#ebe076" shape-rendering="crispEdges"/>
<rect x="608.00" y="307.61" width="8.61" height="7.80" fill="#e9d458" shape-rendering="crispEdges"/>
<rect x="616.25" y="307.61" width="8.61" height="7.80" fill="#ebe076" shape-rendering="crispEdges"/>
<rect x="624.51" y="307.61" width="8.61" height="7.80" fill="#e9d458" shape-rendering="crispEdges"/>
<rect x="632.77" y="307.61" width="8.61" height="7.80" fill="#e9d458" shape-rendering="crispEdges"/>
<rect x="541.95" y="315.06" width="8.61" height="7.80" fill="#e9d458" shape-rendering="crispEdges"/>
<rect x="550.21" y="315.06" width="8.61" height="7.80" fill="#e9d458" shape-rendering="crispEdges"/>
<rect x="558.46" y="315.06" width="8.61" height="7.80" fill="#e9d458" shape-rendering="crispEdges"/>
<rect x="566.72" y="315.06" width="8.61" height="7.80" fill="#e37834" shape-rendering="crispEdges"/>
<rect x="574.97" y="315.06" width="8.61" height="7.80" fill="#e9d458" shape-rendering="crispEdges"/>
<rect x="583.23" y="315.06" width="8.61" height="7.80" fill="#edec94" shape-rendering="crispEdges"/>
<rect x="591.49" y="315.06" width="8.61" height="7.80" fill="#e9d458" shape-rendering="crispEdges"/>
<rect x="599.74" y="315.06" width="8.61" height="7.80" fill="#ebe076" shape-rendering="crispEdges"/>
<rect x="608.00" y="315.06" width="8.61" height="7.80" fill="#e9d458" shape-rendering="crispEdges"/>
<rect x="616.25" y="315.06" width="8.61" height="7.80" fill="#edec94" shape-rendering="crispEdges"/>
<rect x="624.51" y="315.06" width="8.61" height="7.80" fill="#e8b648" shape-rendering="crispEdges"/>
<rect x="632.77" y="315.06" width="8.61" height="7.80" fill="#ebe076" shape-rendering="crispEdges"/>
<rect x="541.95" y="322.51" width="8.61" height="7.80" fill="#e8c550" shape-rendering="crispEdges"/>
<rect x="550.21" y="322.51" width="8.61" height="7.80" fill="#e8c550" shape-rendering="crispEdges"/>
<rect x="558.46" y="322.51" width="8.61" height="7.80" fill="#eeef9f" shape-rendering="crispEdges"/>
<rect x="566.72" y="322.51" width="8.61" height="7.80" fill="#e9d458" shape-rendering="crispEdges"/>
<rect x="574.97" y="322.51" width="8.61" height="7.80" fill="#e8c550" shape-rendering="crispEdges"/>
<rect x="583.23" y="322.51" width="8.61" height="7.80" fill="#ebe076" shape-rendering="crispEdges"/>
<rect x="591.49" y="322.51" width="8.61" height="7.80" fill="#ebe076" shape-rendering="crispEdges"/>
<rect x="599.74" y="322.51" width="8.61" height="7.80" fill="#ebe076" shape-rendering="crispEdges"/>
<rect x="608.00" y="322.51" width="8.61" height="7.80" fill="#edec94" shape-rendering="crispEdges"/>
<rect x="616.25" y="322.51" width="8.61" height="7.80" fill="#edec94" shape-rendering="crispEdges"/>
<rect x="624.51" y="322.51" width="8.61" height="7.80" fill="#e48739" shape-rendering="crispEdges"/>
<rect x="632.77" y="322.51" width="8.61" height="7.80" fill="#ebe076" shape-rendering="crispEdges"/>
<rect x="541.95" y="329.96" width="8.61" height="7.80" fill="#ebe076" shape-rendering="crispEdges"/>
<rect x="550.21" y="329.96" width="8.61" height="7.80" fill="#e8c550" shape-rendering="crispEdges"/>
<rect x="558.46" y="329.96" width="8.61" height="7.80" fill="#edec94" shape-rendering="crispEdges"/>
<rect x="566.72" y="329.96" width="8.61" height="7.80" fill="#ebe076" shape-rendering="crispEdges"/>
<rect x="574.97" y="329.96" width="8.61" height="7.80" fill="#e8c550" shape-rendering="crispEdges"/>
<rect x="583.23" y="329.96" width="8.61" height="7.80" fill="#e8c550" shape-rendering="crispEdges"/>
<rect x="591.49" y="329.96" width="8.61" height="7.80" fill="#edec94" shape-rendering="crispEdges"/>
<rect x="599.74" y="329.96" width="8.61" height="7.80" fill="#edec94" shape-rendering="crispEdges"/>
<rect x="608.00" y="329.96" width="8.61" height="7.80" fill="#ebe076" shape-rendering="crispEdges"/>
<rect x="616.25" y="329.96" width="8.61" height="7.80" fill="#e9d458" shape-rendering="crispEdges"/>
<rect x="624.51" y="329.96" width="8.61" height="7.80" fill="#e37834" shape-rendering="crispEdges"/>
<rect x="632.77" y="329.96" width="8.61" height="7.80" fill="#e9d458" shape-rendering="crispEdges"/>
<rect x="541.95" y="337.41" width="8.61" height="7.80" fill="#e9d458" shape-rendering="crispEdges"/>
<rect x="550.21" y="337.41" width="8.61" height="7.80" fill="#e8b648" shape-rendering="crispEdges"/>
<rect x="558.46" y="337.41" width="8.61" height="7.80" fill="#ebe076" shape-rendering="crispEdges"/>
<rect x="566.72" y="337.41" width="8.61" height="7.80" fill="#eeef9f" shape-rendering="crispEdges"/>
<rect x="574.97" y="337.41" width="8.61" height="7.80" fill="#ebe076" shape-rendering="crispEdges"/>
<rect x="583.23" y="337.41" width="8.61" height="7.80" fill="#f0f4b0" shape-rendering="crispEdges"/>
<rect x="591.49" y="337.41" width="8.61" height="7.80" fill="#edec94" shape-rendering="crispEdges"/>
<rect x="599.74" y="337.41" width="8.61" height="7.80" fill="#edec94" shape-rendering="crispEdges"/>
<rect x="608.00" y="337.41" width="8.61" height="7.80" fill="#ebe076" shape-rendering="crispEdges"/>
<rect x="616.25" y="337.41" width="8.61" height="7.80" fill="#ebe076" shape-rendering="crispEdges"/>
<rect x="624.51" y="337.41" width="8.61" height="7.80" fill="#e37834" shape-rendering="crispEdges"/>
<rect x="632.77" y="337.41" width="8.61" height="7.80" fill="#e6a643" shape-rendering="crispEdges"/>
<rect x="541.95" y="344.86" width="8.61" height="7.80" fill="#e9d458" shape-rendering="crispEdges"/>
<rect x="550.21" y="344.86" width="8.61" height="7.80" fill="#e8b648" shape-rendering="crispEdges"/>
<rect x="558.46" y="344.86" width="8.61" height="7.80" fill="#ebe076" shape-rendering="crispEdges"/>
<rect x="566.72" y="344.86" width="8.61" height="7.80" fill="#ebe076" shape-rendering="crispEdges"/>
<rect x="574.97" y="344.86" width="8.61" height="7.80" fill="#ebe076" shape-rendering="crispEdges"/>
<rect x="583.23" y="344.86" width="8.61" height="7.80" fill="#ebe076" shape-rendering="crispEdges"/>
<rect x="591.49" y="344.86" width="8.61" height="7.80" fill="#edec94" shape-rendering="crispEdges"/>
<rect x="599.74" y="344.86" width="8.61" height="7.80" fill="#e9d458" shape-rendering="crispEdges"/>
<rect x="608.00" y="344.86" width="8.61" height="7.80" fill="#e9d458" shape-rendering="crispEdges"/>
<rect x="616.25" y="344.86" width="8.61" height="7.80" fill="#ebe076" shape-rendering="crispEdges"/>
<rect x="624.51" y="344.86" width="8.61" height="7.80" fill="#edec94" shape-rendering="crispEdges"/>
<rect x="632.77" y="344.86" width="8.61" height="7.80" fill="#eeef9f" shape-rendering="crispEdges"/>
<rect x="541.95" y="352.31" width="8.61" height="7.80" fill="#ebe076" shape-rendering="crispEdges"/>
<rect x="550.21" y="352.31" width="8.61" height="7.80" fill="#e8c550" shape-rendering="crispEdges"/>
<rect x="558.46" y="352.31" width="8.61" height="7.80" fill="#edec94" shape-rendering="crispEdges"/>
<rect x="566.72" y="352.31" width="8.61" height="7.80" fill="#edec94" shape-rendering="crispEdges"/>
<rect x="574.97" y="352.31" width="8.61" height="7.80" fill="#ebe076" shape-rendering="crispEdges"/>
<rect x="583.23" y="352.31" width="8.61" height="7.80" fill="#f0f4b0" shape-rendering="crispEdges"/>
<rect x="591.49" y="352.31" width="8.61" height="7.80" fill="#edec94" shape-rendering="crispEdges"/>
<rect x="599.74" y="352.31" width="8.61" height="7.80" fill="#eeef9f" shape-rendering="crispEdges"/>
<rect x="608.00" y="352.31" width="8.61" height="7.80" fill="#ebe076" shape-rendering="crispEdges"/>
<rect x="616.25" y="352.31" width="8.61" height="7.80" fill="#e9d458" shape-rendering="crispEdges"/>
<rect x="624.51" y="352.31" width="8.61" height="7.80" fill="#ebe076" shape-rendering="crispEdges"/>
<rect x="632.77" y="352.31" width="8.61" height="7.80" fill="#eeef9f" shape-rendering="crispEdges"/>
<rect x="541.95" y="359.76" width="8.61" height="7.80" fill="#f0f4b0" shape-rendering="crispEdges"/>
<rect x="550.21" y="359.76" width="8.61" height="7.80" fill="#e37834" shape-rendering="crispEdges"/>
<rect x="558.46" y="359.76" width="8.61" height="7.80" fill="#e5963e" shape-rendering="crispEdges"/>
<rect x="566.72" y="359.76" width="8.61" height="7.80" fill="#f2f7bb" shape-rendering="crispEdges"/>
<rect x="574.97" y="359.76" width="8.61" height="7.80" fill="#edec94" shape-rendering="crispEdges"/>
<rect x="583.23" y="359.76" width="8.61" height="7.80" fill="#edec94" shape-rendering="crispEdges"/>
<rect x="591.49" y="359.76" width="8.61" height="7.80" fill="#ece582" shape-rendering="crispEdges"/>
<rect x="599.74" y="359.76" width="8.61" height="7.80" fill="#f0f4b0" shape-rendering="crispEdges"/>
<rect x="608.00" y="359.76" width="8.61" height="7.80" fill="#eeef9f" shape-rendering="crispEdges"/>
<rect x="616.25" y="359.76" width="8.61" height="7.80" fill="#edec94" shape-rendering="crispEdges"/>
<rect x="624.51" y="359.76" width="8.61" height="7.80" fill="#ebe076" shape-rendering="crispEdges"/>
<rect x="632.77" y="359.76" width="8.61" height="7.80" fill="#e48739" shape-rendering="crispEdges"/>
<rect x="541.95" y="367.21" width="8.61" height="7.80" fill="#e6a643" shape-rendering="crispEdges"/>
<rect x="550.21" y="367.21" width="8.61" height="7.80" fill="#e6a643" shape-rendering="crispEdges"/>
<rect x="558.46" y="367.21" width="8.61" height="7.80" fill="#edec94" shape-rendering="crispEdges"/>
<rect x="566.72" y="367.21" width="8.61" height="7.80" fill="#f2f7bb" shape-rendering="crispEdges"/>
<rect x="574.97" y="367.21" width="8.61" height="7.80" fill="#ebe076" shape-rendering="crispEdges"/>
<rect x="583.23" y="367.21" width="8.61" height="7.80" fill="#ebe076" shape-rendering="crispEdges"/>
<rect x="591.49" y="367.21" width="8.61" height="7.80" fill="#edec94" shape-rendering="crispEdges"/>
<rect x="599.74" y="367.21" width="8.61" height="7.80" fill="#f0f4b0" shape-rendering="crispEdges"/>
<rect x="608.00" y="367.21" width="8.61" height="7.80" fill="#f0f4b0" shape-rendering="crispEdges"/>
<rect x="616.25" y="367.21" width="8.61" height="7.80" fill="#f0f4b0" shape-rendering="crispEdges"/>
<rect x="624.51" y="367.21" width="8.61" height="7.80" fill="#ebe076" shape-rendering="crispEdges"/>
<rect x="632.77" y="367.21" width="8.61" height="7.80" fill="#e9d458" shape-rendering="crispEdges"/>
<rect x="541.95" y="374.66" width="8.61" height="7.80" fill="#ebe076" shape-rendering="crispEdges"/>
<rect x="550.21" y="374.66" width="8.61" height="7.80" fill="#e8b648" shape-rendering="crispEdges"/>
<rect x="558.46" y="374.66" width="8.61" height="7.80" fill="#e37834" shape-rendering="crispEdges"/>
<rect x="566.72" y="374.66" width="8.61" height="7.80" fill="#e16c30" shape-rendering="crispEdges"/>
<rect x="574.97" y="374.66" width="8.61" height="7.80" fill="#ebe076" shape-rendering="crispEdges"/>
<rect x="583.23" y="374.66" width="8.61" height="7.80" fill="#e48739" shape-rendering="crispEdges"/>
<rect x="591.49" y="374.66" width="8.61" height="7.80" fill="#e37834" shape-rendering="crispEdges"/>
<rect x="599.74" y="374.66" width="8.61" height="7.80" fill="#edec94" shape-rendering="crispEdges"/>
<rect x="608.00" y="374.66" width="8.61" height="7.80" fill="#f0f4b0" shape-rendering="crispEdges"/>
<rect x="616.25" y="374.66" width="8.61" height="7.80" fill="#ebe076" shape-rendering="crispEdges"/>
<rect x="624.51" y="374.66" width="8.61" height="7.80" fill="#f2f7bb" shape-rendering="crispEdges"/>
<rect x="632.77" y="374.66" width="8.61" height="7.80" fill="#f0f4b0" shape-rendering="crispEdges"/>
<rect x="541.95" y="382.11" width="8.61" height="7.80" fill="#f0f4b0" shape-rendering="crispEdges"/>
<rect x="550.21" y="382.11" width="8.61" height="7.80" fill="#e9d458" shape-rendering="crispEdges"/>
<rect x="558.46" y="382.11" width="8.61" height="7.80" fill="#edec94" shape-rendering="crispEdges"/>
<rect x="566.72" y="382.11" width="8.61" height="7.80" fill="#e16c30" shape-rendering="crispEdges"/>
<rect x="574.97" y="382.11" width="8.61" height="7.80" fill="#e9d458" shape-rendering="crispEdges"/>
<rect x="583.23" y="382.11" width="8.61" height="7.80" fill="#f0f4b0" shape-rendering="crispEdges"/>
<rect x="591.49" y="382.11" width="8.61" height="7.80" fill="#e9d458" shape-rendering="crispEdges"/>
<rect x="599.74" y="382.11" width="8.61" height="7.80" fill="#e9d458" shape-rendering="crispEdges"/>
<rect x="608.00" y="382.11" width="8.61" height="7.80" fill="#e48739" shape-rendering="crispEdges"/>
<rect x="616.25" y="382.11" width="8.61" height="7.80" fill="#e5963e" shape-rendering="crispEdges"/>
<rect x="624.51" y="382.11" width="8.61" height="7.80" fill="#e9d458" shape-rendering="crispEdges"/>
<rect x="632.77" y="382.11" width="8.61" height="7.80" fill="#e9d458" shape-rendering="crispEdges"/>
<rect x="541.95" y="389.56" width="8.61" height="7.80" fill="#f0f4b0" shape-rendering="crispEdges"/>
<rect x="550.21" y="389.56" width="8.61" height="7.80" fill="#f0f4b0" shape-rendering="crispEdges"/>
<rect x="558.46" y="389.56" width="8.61" height="7.80" fill="#e9d458" shape-rendering="crispEdges"/>
<rect x="566.72" y="389.56" width="8.61" height="7.80" fill="#e48739" shape-rendering="crispEdges"/>
<rect x="574.97" y="389.56" width="8.61" height="7.80" fill="#edec94" shape-rendering="crispEdges"/>
<rect x="583.23" y="389.56" width="8.61" height="7.80" fill="#ebe076" shape-rendering="crispEdges"/>
<rect x="591.49" y="389.56" width="8.61" height="7.80" fill="#f2f7bb" shape-rendering="crispEdges"/>
<rect x="599.74" y="389.56" width="8.61" height="7.80" fill="#e6a643" shape-rendering="crispEdges"/>
<rect x="608.00" y="389.56" width="8.61" height="7.80" fill="#ebe076" shape-rendering="crispEdges"/>
<rect x="616.25" y="389.56" width="8.61" height="7.80" fill="#edec94" shape-rendering="crispEdges"/>
<rect x="624.51" y="389.56" width="8.61" height="7.80" fill="#ebe076" shape-rendering="crispEdges"/>
<rect x="632.77" y="389.56" width="8.61" height="7.80" fill="#edec94" shape-rendering="crispEdges"/>
<rect x="541.95" y="397.01" width="8.61" height="7.80" fill="#edec94" shape-rendering="crispEdges"/>
<rect x="550.21" y="397.01" width="8.61" height="7.80" fill="#e37834" shape-rendering="crispEdges"/>
<rect x="558.46" y="397.01" width="8.61" height="7.80" fill="#f2f7bb" shape-rendering="crispEdges"/>
<rect x="566.72" y="397.01" width="8.61" height="7.80" fill="#e48739" shape-rendering="crispEdges"/>
<rect x="574.97" y="397.01" width="8.61" height="7.80" fill="#f2f7bb" shape-rendering="crispEdges"/>
<rect x="583.23" y="397.01" width="8.61" height="7.80" fill="#edec94" shape-rendering="crispEdges"/>
<rect x="591.49" y="397.01" width="8.61" height="7.80" fill="#ebe076" shape-rendering="crispEdges"/>
<rect x="599.74" y="397.01" width="8.61" height="7.80" fill="#ebe076" shape-rendering="crispEdges"/>
<rect x="608.00" y="397.01" width="8.61" height="7.80" fill="#edec94" shape-rendering="crispEdges"/>
<rect x="616.25" y="397.01" width="8.61" height="7.80" fill="#ebe076" shape-rendering="crispEdges"/>
<rect x="624.51" y="397.01" width="8.61" height="7.80" fill="#e8c550" shape-rendering="crispEdges"/>
<rect x="632.77" y="397.01" width="8.61" height="7.80" fill="#f0f4b0" shape-rendering="crispEdges"/>
<rect x="541.95" y="404.46" width="8.61" height="7.80" fill="#e9d458" shape-rendering="crispEdges"/>
<rect x="550.21" y="404.46" width="8.61" height="7.80" fill="#e9d458" shape-rendering="crispEdges"/>
<rect x="558.46" y="404.46" width="8.61" height="7.80" fill="#e37834" shape-rendering="crispEdges"/>
<rect x="566.72" y="404.46" width="8.61" height="7.80" fill="#e9d458" shape-rendering="crispEdges"/>
<rect x="574.97" y="404.46" width="8.61" height="7.80" fill="#e37834" shape-rendering="crispEdges"/>
<rect x="583.23" y="404.46" width="8.61" height="7.80" fill="#ebe076" shape-rendering="crispEdges"/>
<rect x="591.49" y="404.46" width="8.61" height="7.80" fill="#e8c550" shape-rendering="crispEdges"/>
<rect x="599.74" y="404.46" width="8.61" height="7.80" fill="#ebe076" shape-rendering="crispEdges"/>
<rect x="608.00" y="404.46" width="8.61" height="7.80" fill="#e9d458" shape-rendering="crispEdges"/>
<rect x="616.25" y="404.46" width="8.61" height="7.80" fill="#e8b648" shape-rendering="crispEdges"/>
<rect x="624.51" y="404.46" width="8.61" height="7.80" fill="#e8c550" shape-rendering="crispEdges"/>
<rect x="632.77" y="404.46" width="8.61" height="7.80" fill="#e16c30" shape-rendering="crispEdges"/>
<rect x="541.95" y="411.91" width="8.61" height="7.80" fill="#e9d458" shape-rendering="crispEdges"/>
<rect x="550.21" y="411.91" width="8.61" height="7.80" fill="#f0f4b0" shape-rendering="crispEdges"/>
<rect x="558.46" y="411.91" width="8.61" height="7.80" fill="#e37834" shape-rendering="crispEdges"/>
<rect x="566.72" y="411.91" width="8.61" height="7.80" fill="#e6a643" shape-rendering="crispEdges"/>
<rect x="574.97" y="411.91" width="8.61" height="7.80" fill="#e48739" shape-rendering="crispEdges"/>
<rect x="583.23" y="411.91" width="8.61" height="7.80" fill="#ebe076" shape-rendering="crispEdges"/>
<rect x="591.49" y="411.91" width="8.61" height="7.80" fill="#e8b648" shape-rendering="crispEdges"/>
<rect x="599.74" y="411.91" width="8.61" height="7.80" fill="#e9d458" shape-rendering="crispEdges"/>
<rect x="608.00" y="411.91" width="8.61" height="7.80" fill="#e8b648" shape-rendering="crispEdges"/>
<rect x="616.25" y="411.91" width="8.61" height="7.80" fill="#edec94" shape-rendering="crispEdges"/>
<rect x="624.51" y="411.91" width="8.61" height="7.80" fill="#e9d458" shape-rendering="crispEdges"/>
<rect x="632.77" y="411.91" width="8.61" height="7.80" fill="#e8c550" shape-rendering="crispEdges"/>
<rect x="541.95" y="419.36" width="8.61" height="7.80" fill="#e6a643" shape-rendering="crispEdges"/>
<rect x="550.21" y="419.36" width="8.61" height="7.80" fill="#f2f7bb" shape-rendering="crispEdges"/>
<rect x="558.46" y="419.36" width="8.61" height="7.80" fill="#e37834" shape-rendering="crispEdges"/>
<rect x="566.72" y="419.36" width="8.61" height="7.80" fill="#e16c30" shape-rendering="crispEdges"/>
<rect x="574.97" y="419.36" width="8.61" height="7.80" fill="#e48739" shape-rendering="crispEdges"/>
<rect x="583.23" y="419.36" width="8.61" height="7.80" fill="#e8b648" shape-rendering="crispEdges"/>
<rect x="591.49" y="419.36" width="8.61" height="7.80" fill="#e8c550" shape-rendering="crispEdges"/>
<rect x="599.74" y="419.36" width="8.61" height="7.80" fill="#f2f7bb" shape-rendering="crispEdges"/>
<rect x="608.00" y="419.36" width="8.61" height="7.80" fill="#edec94" shape-rendering="crispEdges"/>
<rect x="616.25" y="419.36" width="8.61" height="7.80" fill="#ebe076" shape-rendering="crispEdges"/>
<rect x="624.51" y="419.36" width="8.61" height="7.80" fill="#edec94" shape-rendering="crispEdges"/>
<rect x="632.77" y="419.36" width="8.61" height="7.80" fill="#e37834" shape-rendering="crispEdges"/>
<rect x="541.95" y="426.81" width="8.61" height="7.80" fill="#e8b648" shape-rendering="crispEdges"/>
<rect x="550.21" y="426.81" width="8.61" height="7.80" fill="#e9d458" shape-rendering="crispEdges"/>
<rect x="558.46" y="426.81" width="8.61" height="7.80" fill="#e16c30" shape-rendering="crispEdges"/>
<rect x="566.72" y="426.81" width="8.61" height="7.80" fill="#e9d458" shape-rendering="crispEdges"/>
<rect x="574.97" y="426.81" width="8.61" height="7.80" fill="#e37834" shape-rendering="crispEdges"/>
<rect x="583.23" y="426.81" width="8.61" height="7.80" fill="#e9d458" shape-rendering="crispEdges"/>
<rect x="591.49" y="426.81" width="8.61" height="7.80" fill="#ebe076" shape-rendering="crispEdges"/>
<rect x="599.74" y="426.81" width="8.61" height="7.80" fill="#ebe076" shape-rendering="crispEdges"/>
<rect x="608.00" y="426.81" width="8.61" height="7.80" fill="#ebe076" shape-rendering="crispEdges"/>
<rect x="616.25" y="426.81" width="8.61" height="7.80" fill="#ebe076" shape-rendering="crispEdges"/>
<rect x="624.51" y="426.81" width="8.61" height="7.80" fill="#e9d458" shape-rendering="crispEdges"/>
<rect x="632.77" y="426.81" width="8.61" height="7.80" fill="#e9d458" shape-rendering="crispEdges"/>
<rect x="541.95" y="434.26" width="8.61" height="7.80" fill="#e8c550" shape-rendering="crispEdges"/>
<rect x="550.21" y="434.26" width="8.61" height="7.80" fill="#edec94" shape-rendering="crispEdges"/>
<rect x="558.46" y="434.26" width="8.61" height="7.80" fill="#df5f2d" shape-rendering="crispEdges"/>
<rect x="566.72" y="434.26" width="8.61" height="7.80" fill="#e5963e" shape-rendering="crispEdges"/>
<rect x="574.97" y="434.26" width="8.61" height="7.80" fill="#e16c30" shape-rendering="crispEdges"/>
<rect x="583.23" y="434.26" width="8.61" height="7.80" fill="#ebe076" shape-rendering="crispEdges"/>
<rect x="591.49" y="434.26" width="8.61" height="7.80" fill="#edec94" shape-rendering="crispEdges"/>
<rect x="599.74" y="434.26" width="8.61" height="7.80" fill="#f0f4b0" shape-rendering="crispEdges"/>
<rect x="608.00" y="434.26" width="8.61" height="7.80" fill="#e8b648" shape-rendering="crispEdges"/>
<rect x="616.25" y="434.26" width="8.61" height="7.80" fill="#edec94" shape-rendering="crispEdges"/>
<rect x="624.51" y="434.26" width="8.61" height="7.80" fill="#f0f4b0" shape-rendering="crispEdges"/>
<rect x="632.77" y="434.26" width="8.61" height="7.80" fill="#ebe076" shape-rendering="crispEdges"/>
<rect x="541.95" y="441.71" width="8.61" height="7.80" fill="#f2f7bb" shape-rendering="crispEdges"/>
<rect x="550.21" y="441.71" width="8.61" height="7.80" fill="#e37834" shape-rendering="crispEdges"/>
<rect x="558.46" y="441.71" width="8.61" height="7.80" fill="#e48739" shape-rendering="crispEdges"/>
<rect x="566.72" y="441.71" width="8.61" height="7.80" fill="#e37834" shape-rendering="crispEdges"/>
<rect x="574.97" y="441.71" width="8.61" height="7.80" fill="#dc542d" shape-rendering="crispEdges"/>
<rect x="583.23" y="441.71" width="8.61" height="7.80" fill="#edec94" shape-rendering="crispEdges"/>
<rect x="591.49" y="441.71" width="8.61" height="7.80" fill="#e37834" shape-rendering="crispEdges"/>
<rect x="599.74" y="441.71" width="8.61" height="7.80" fill="#e8b648" shape-rendering="crispEdges"/>
<rect x="608.00" y="441.71" width="8.61" height="7.80" fill="#e5963e" shape-rendering="crispEdges"/>
<rect x="616.25" y="441.71" width="8.61" height="7.80" fill="#e8c550" shape-rendering="crispEdges"/>
<rect x="624.51" y="441.71" width="8.61" height="7.80" fill="#ebe076" shape-rendering="crispEdges"/>
<rect x="632.77" y="441.71" width="8.61" height="7.80" fill="#e9d458" shape-rendering="crispEdges"/>
<rect x="541.95" y="449.16" width="8.61" height="7.80" fill="#f2f7bb" shape-rendering="crispEdges"/>
<rect x="550.21" y="449.16" width="8.61" height="7.80" fill="#e37834" shape-rendering="crispEdges"/>
<rect x="558.46" y="449.16" width="8.61" height="7.80" fill="#ebe076" shape-rendering="crispEdges"/>
<rect x="566.72" y="449.16" width="8.61" height="7.80" fill="#e8c550" shape-rendering="crispEdges"/>
<rect x="574.97" y="449.16" width="8.61" height="7.80" fill="#e16c30" shape-rendering="crispEdges"/>
<rect x="583.23" y="449.16" width="8.61" height="7.80" fill="#f0f4b0" shape-rendering="crispEdges"/>
<rect x="591.49" y="449.16" width="8.61" height="7.80" fill="#e6a643" shape-rendering="crispEdges"/>
<rect x="599.74" y="449.16" width="8.61" height="7.80" fill="#e8c550" shape-rendering="crispEdges"/>
<rect x="608.00" y="449.16" width="8.61" height="7.80" fill="#e9d458" shape-rendering="crispEdges"/>
<rect x="616.25" y="449.16" width="8.61" height="7.80" fill="#ebe076" shape-rendering="crispEdges"/>
<rect x="624.51" y="449.16" width="8.61" height="7.80" fill="#f0f4b0" shape-rendering="crispEdges"/>
<rect x="632.77" y="449.16" width="8.61" height="7.80" fill="#e9d458" shape-rendering="crispEdges"/>
<rect x="541.95" y="456.61" width="8.61" height="7.80" fill="#f2f7bb" shape-rendering="crispEdges"/>
<rect x="550.21" y="456.61" width="8.61" height="7.80" fill="#eeef9f" shape-rendering="crispEdges"/>
<rect x="558.46" y="456.61" width="8.61" height="7.80" fill="#edec94" shape-rendering="crispEdges"/>
<rect x="566.72" y="456.61" width="8.61" height="7.80" fill="#edec94" shape-rendering="crispEdges"/>
<rect x="574.97" y="456.61" width="8.61" height="7.80" fill="#e37834" shape-rendering="crispEdges"/>
<rect x="583.23" y="456.61" width="8.61" height="7.80" fill="#f0f4b0" shape-rendering="crispEdges"/>
<rect x="591.49" y="456.61" width="8.61" height="7.80" fill="#e8c550" shape-rendering="crispEdges"/>
<rect x="599.74" y="456.61" width="8.61" height="7.80" fill="#e9d458" shape-rendering="crispEdges"/>
<rect x="608.00" y="456.61" width="8.61" height="7.80" fill="#e8c550" shape-rendering="crispEdges"/>
<rect x="616.25" y="456.61" width="8.61" height="7.80" fill="#edec94" shape-rendering="crispEdges"/>
<rect x="624.51" y="456.61" width="8.61" height="7.80" fill="#f0f4b0" shape-rendering="crispEdges"/>
<rect x="632.77" y="456.61" width="8.61" height="7.80" fill="#edec94" shape-rendering="crispEdges"/>
<rect x="541.95" y="464.06" width="8.61" height="7.80" fill="#edec94" shape-rendering="crispEdges"/>
<rect x="550.21" y="464.06" width="8.61" height="7.80" fill="#f3f9c1" shape-rendering="crispEdges"/>
<rect x="558.46" y="464.06" width="8.61" height="7.80" fill="#f3f9c1" shape-rendering="crispEdges"/>
<rect x="566.72" y="464.06" width="8.61" height="7.80" fill="#f3f9c1" shape-rendering="crispEdges"/>
<rect x="574.97" y="464.06" width="8.61" height="7.80" fill="#f3f9c1" shape-rendering="crispEdges"/>
<rect x="583.23" y="464.06" width="8.61" height="7.80" fill="#f3f9c1" shape-rendering="crispEdges"/>
<rect x="591.49" y="464.06" width="8.61" height="7.80" fill="#e9d458" shape-rendering="crispEdges"/>
<rect x="599.74" y="464.06" width="8.61" height="7.80" fill="#f0f4b0" shape-rendering="crispEdges"/>
<rect x="608.00" y="464.06" width="8.61" height="7.80" fill="#edec94" shape-rendering="crispEdges"/>
<rect x="616.25" y="464.06" width="8.61" height="7.80" fill="#edec94" shape-rendering="crispEdges"/>
<rect x="624.51" y="464.06" width="8.61" height="7.80" fill="#f3f9c1" shape-rendering="crispEdges"/>
<rect x="632.77" y="464.06" width="8.61" height="7.80" fill="#e9d458" shape-rendering="crispEdges"/>
<rect x="541.95" y="471.51" width="8.61" height="7.80" fill="#f2f7bb" shape-rendering="crispEdges"/>
<rect x="550.21" y="471.51" width="8.61" height="7.80" fill="#edec94" shape-rendering="crispEdges"/>
<rect x="558.46" y="471.51" width="8.61" height="7.80" fill="#f3f9c1" shape-rendering="crispEdges"/>
<rect x="566.72" y="471.51" width="8.61" height="7.80" fill="#f3f9c1" shape-rendering="crispEdges"/>
<rect x="574.97" y="471.51" width="8.61" height="7.80" fill="#f3f9c1" shape-rendering="crispEdges"/>
<rect x="583.23" y="471.51" width="8.61" height="7.80" fill="#e9d458" shape-rendering="crispEdges"/>
<rect x="591.49" y="471.51" width="8.61" height="7.80" fill="#edec94" shape-rendering="crispEdges"/>
<rect x="599.74" y="471.51" width="8.61" height="7.80" fill="#edec94" shape-rendering="crispEdges"/>
<rect x="608.00" y="471.51" width="8.61" height="7.80" fill="#ebe076" shape-rendering="crispEdges"/>
<rect x="616.25" y="471.51" width="8.61" height="7.80" fill="#f0f4b0" shape-rendering="crispEdges"/>
<rect x="624.51" y="471.51" width="8.61" height="7.80" fill="#e9d458" shape-rendering="crispEdges"/>
<rect x="632.77" y="471.51" width="8.61" height="7.80" fill="#edec94" shape-rendering="crispEdges"/>
<rect x="541.95" y="478.96" width="8.61" height="7.80" fill="#f3f9c1" shape-rendering="crispEdges"/>
<rect x="550.21" y="478.96" width="8.61" height="7.80" fill="#f3f9c1" shape-rendering="crispEdges"/>
<rect x="558.46" y="478.96" width="8.61" height="7.80" fill="#f3f9c1" shape-rendering="crispEdges"/>
<rect x="566.72" y="478.96" width="8.61" height="7.80" fill="#f3f9c1" shape-rendering="crispEdges"/>
<rect x="574.97" y="478.96" width="8.61" height="7.80" fill="#f3f9c1" shape-rendering="crispEdges"/>
<rect x="583.23" y="478.96" width="8.61" height="7.80" fill="#f3f9c1" shape-rendering="crispEdges"/>
<rect x="591.49" y="478.96" width="8.61" height="7.80" fill="#eeef9f" shape-rendering="crispEdges"/>
<rect x="599.74" y="478.96" width="8.61" height="7.80" fill="#ebe076" shape-rendering="crispEdges"/>
<rect x="608.00" y="478.96" width="8.61" height="7.80" fill="#f3f9c1" shape-rendering="crispEdges"/>
<rect x="616.25" y="478.96" width="8.61" height="7.80" fill="#f3f9c1" shape-rendering="crispEdges"/>
<rect x="624.51" y="478.96" width="8.61" height="7.80" fill="#f0f4b0" shape-rendering="crispEdges"/>
<rect x="632.77" y="478.96" width="8.61" height="7.80" fill="#f0f4b0" shape-rendering="crispEdges"/>
<rect x="541.95" y="486.41" width="8.61" height="7.80" fill="#e9d458" shape-rendering="crispEdges"/>
<rect x="550.21" y="486.41" width="8.61" height="7.80" fill="#e9d458" shape-rendering="crispEdges"/>
<rect x="558.46" y="486.41" width="8.61" height="7.80" fill="#edec94" shape-rendering="crispEdges"/>
<rect x="566.72" y="486.41" width="8.61" height="7.80" fill="#edec94" shape-rendering="crispEdges"/>
<rect x="574.97" y="486.41" width="8.61" height="7.80" fill="#f0f4b0" shape-rendering="crispEdges"/>
<rect x="583.23" y="486.41" width="8.61" height="7.80" fill="#f3f9c1" shape-rendering="crispEdges"/>
<rect x="591.49" y="486.41" width="8.61" height="7.80" fill="#eeef9f" shape-rendering="crispEdges"/>
<rect x="599.74" y="486.41" width="8.61" height="7.80" fill="#e9d458" shape-rendering="crispEdges"/>
<rect x="608.00" y="486.41" width="8.61" height="7.80" fill="#f0f4b0" shape-rendering="crispEdges"/>
<rect x="616.25" y="486.41" width="8.61" height="7.80" fill="#f3f9c1" shape-rendering="crispEdges"/>
<rect x="624.51" y="486.41" width="8.61" height="7.80" fill="#f3f9c1" shape-rendering="crispEdges"/>
<rect x="632.77" y="486.41" width="8.61" height="7.80" fill="#f0f4b0" shape-rendering="crispEdges"/>
<rect x="541.95" y="493.86" width="8.61" height="7.80" fill="#ebe076" shape-rendering="crispEdges"/>
<rect x="550.21" y="493.86" width="8.61" height="7.80" fill="#ebe076" shape-rendering="crispEdges"/>
<rect x="558.46" y="493.86" width="8.61" height="7.80" fill="#f3f9c1" shape-rendering="crispEdges"/>
<rect x="566.72" y="493.86" width="8.61" height="7.80" fill="#f0f4b0" shape-rendering="crispEdges"/>
<rect x="574.97" y="493.86" width="8.61" height="7.80" fill="#edec94" shape-rendering="crispEdges"/>
<rect x="583.23" y="493.86" width="8.61" height="7.80" fill="#f3f9c1" shape-rendering="crispEdges"/>
<rect x="591.49" y="493.86" width="8.61" height="7.80" fill="#eeef9f" shape-rendering="crispEdges"/>
<rect x="599.74" y="493.86" width="8.61" height="7.80" fill="#f3f9c1" shape-rendering="crispEdges"/>
<rect x="608.00" y="493.86" width="8.61" height="7.80" fill="#ebe076" shape-rendering="crispEdges"/>
<rect x="616.25" y="493.86" width="8.61" height="7.80" fill="#f3f9c1" shape-rendering="crispEdges"/>
<rect x="624.51" y="493.86" width="8.61" height="7.80" fill="#eeef9f" shape-rendering="crispEdges"/>
<rect x="632.77" y="493.86" width="8.61" height="7.80" fill="#f3f9c1" shape-rendering="crispEdges"/>
<rect x="541.95" y="501.31" width="8.61" height="7.80" fill="#edec94" shape-rendering="crispEdges"/>
<rect x="550.21" y="501.31" width="8.61" height="7.80" fill="#ebe076" shape-rendering="crispEdges"/>
<rect x="558.46" y="501.31" width="8.61" height="7.80" fill="#f0f4b0" shape-rendering="crispEdges"/>
<rect x="566.72" y="501.31" width="8.61" height="7.80" fill="#f3f9c1" shape-rendering="crispEdges"/>
<rect x="574.97" y="501.31" width="8.61" height="7.80" fill="#f0f4b0" shape-rendering="crispEdges"/>
<rect x="583.23" y="501.31" width="8.61" height="7.80" fill="#f3f9c1" shape-rendering="crispEdges"/>
<rect x="591.49" y="501.31" width="8.61" height="7.80" fill="#f3f9c1" shape-rendering="crispEdges"/>
<rect x="599.74" y="501.31" width="8.61" height="7.80" fill="#edec94" shape-rendering="crispEdges"/>
<rect x="608.00" y="501.31" width="8.61" height="7.80" fill="#f2f7bb" shape-rendering="crispEdges"/>
<rect x="616.25" y="501.31" width="8.61" height="7.80" fill="#f3f9c1" shape-rendering="crispEdges"/>
<rect x="624.51" y="501.31" width="8.61" height="7.80" fill="#ebe076" shape-rendering="crispEdges"/>
<rect x="632.77" y="501.31" width="8.61" height="7.80" fill="#f2f7bb" shape-rendering="crispEdges"/>
<rect x="541.95" y="508.76" width="8.61" height="7.80" fill="#f2f7bb" shape-rendering="crispEdges"/>
<rect x="550.21" y="508.76" width="8.61" height="7.80" fill="#e9d458" shape-rendering="crispEdges"/>
<rect x="558.46" y="508.76" width="8.61" height="7.80" fill="#f2f7bb" shape-rendering="crispEdges"/>
<rect x="566.72" y="508.76" width="8.61" height="7.80" fill="#f3f9c1" shape-rendering="crispEdges"/>
<rect x="574.97" y="508.76" width="8.61" height="7.80" fill="#edec94" shape-rendering="crispEdges"/>
<rect x="583.23" y="508.76" width="8.61" height="7.80" fill="#f3f9c1" shape-rendering="crispEdges"/>
<rect x="591.49" y="508.76" width="8.61" height="7.80" fill="#f3f9c1" shape-rendering="crispEdges"/>
<rect x="599.74" y="508.76" width="8.61" height="7.80" fill="#eeef9f" shape-rendering="crispEdges"/>
<rect x="608.00" y="508.76" width="8.61" height="7.80" fill="#f2f7bb" shape-rendering="crispEdges"/>
<rect x="616.25" y="508.76" width="8.61" height="7.80" fill="#f3f9c1" shape-rendering="crispEdges"/>
<rect x="624.51" y="508.76" width="8.61" height="7.80" fill="#f0f4b0" shape-rendering="crispEdges"/>
<rect x="632.77" y="508.76" width="8.61" height="7.80" fill="#f3f9c1" shape-rendering="crispEdges"/>
<rect x="541.95" y="516.21" width="8.61" height="7.80" fill="#edec94" shape-rendering="crispEdges"/>
<rect x="550.21" y="516.21" width="8.61" height="7.80" fill="#e9d458" shape-rendering="crispEdges"/>
<rect x="558.46" y="516.21" width="8.61" height="7.80" fill="#f3f9c1" shape-rendering="crispEdges"/>
<rect x="566.72" y="516.21" width="8.61" height="7.80" fill="#f3f9c1" shape-rendering="crispEdges"/>
<rect x="574.97" y="516.21" width="8.61" height="7.80" fill="#f3f9c1" shape-rendering="crispEdges"/>
<rect x="583.23" y="516.21" width="8.61" height="7.80" fill="#f3f9c1" shape-rendering="crispEdges"/>
<rect x="591.49" y="516.21" width="8.61" height="7.80" fill="#f3f9c1" shape-rendering="crispEdges"/>
<rect x="599.74" y="516.21" width="8.61" height="7.80" fill="#f0f4b0" shape-rendering="crispEdges"/>
<rect x="608.00" y="516.21" width="8.61" height="7.80" fill="#f3f9c1" shape-rendering="crispEdges"/>
<rect x="616.25" y="516.21" width="8.61" height="7.80" fill="#edec94" shape-rendering="crispEdges"/>
<rect x="624.51" y="516.21" width="8.61" height="7.80" fill="#f3f9c1" shape-rendering="crispEdges"/>
<rect x="632.77" y="516.21" width="8.61" height="7.80" fill="#f3f9c1" shape-rendering="crispEdges"/>
<rect x="541.95" y="523.66" width="8.61" height="7.80" fill="#e9d458" shape-rendering="crispEdges"/>
<rect x="550.21" y="523.66" width="8.61" height="7.80" fill="#e8c550" shape-rendering="crispEdges"/>
<rect x="558.46" y="523.66" width="8.61" height="7.80" fill="#f3f9c1" shape-rendering="crispEdges"/>
<rect x="566.72" y="523.66" width="8.61" height="7.80" fill="#f3fac6" shape-rendering="crispEdges"/>
<rect x="574.97" y="523.66" width="8.61" height="7.80" fill="#f3f9c1" shape-rendering="crispEdges"/>
<rect x="583.23" y="523.66" width="8.61" height="7.80" fill="#f3f9c1" shape-rendering="crispEdges"/>
<rect x="591.49" y="523.66" width="8.61" height="7.80" fill="#f2f7bb" shape-rendering="crispEdges"/>
<rect x="599.74" y="523.66" width="8.61" height="7.80" fill="#f2f7bb" shape-rendering="crispEdges"/>
<rect x="608.00" y="523.66" width="8.61" height="7.80" fill="#f2f7bb" shape-rendering="crispEdges"/>
<rect x="616.25" y="523.66" width="8.61" height="7.80" fill="#f3f9c1" shape-rendering="crispEdges"/>
<rect x="624.51" y="523.66" width="8.61" height="7.80" fill="#f0f4b0" shape-rendering="crispEdges"/>
<rect x="632.77" y="523.66" width="8.61" height="7.80" fill="#f3f9c1" shape-rendering="crispEdges"/>
<rect x="541.95" y="531.11" width="8.61" height="7.80" fill="#e5963e" shape-rendering="crispEdges"/>
<rect x="550.21" y="531.11" width="8.61" height="7.80" fill="#f3f9c1" shape-rendering="crispEdges"/>
<rect x="558.46" y="531.11" width="8.61" height="7.80" fill="#f3f9c1" shape-rendering="crispEdges"/>
<rect x="566.72" y="531.11" width="8.61" height="7.80" fill="#f3f9c1" shape-rendering="crispEdges"/>
<rect x="574.97" y="531.11" width="8.61" height="7.80" fill="#f3f9c1" shape-rendering="crispEdges"/>
<rect x="583.23" y="531.11" width="8.61" height="7.80" fill="#f3f9c1" shape-rendering="crispEdges"/>
<rect x="591.49" y="531.11" width="8.61" height="7.80" fill="#f3f9c1" shape-rendering="crispEdges"/>
<rect x="599.74" y="531.11" width="8.61" height="7.80" fill="#f3f9c1" shape-rendering="crispEdges"/>
<rect x="608.00" y="531.11" width="8.61" height="7.80" fill="#f3f9c1" shape-rendering="crispEdges"/>
<rect x="616.25" y="531.11" width="8.61" height="7.80" fill="#f3f9c1" shape-rendering="crispEdges"/>
<rect x="624.51" y="531.11" width="8.61" height="7.80" fill="#f3f9c1" shape-rendering="crispEdges"/>
<rect x="632.77" y="531.11" width="8.61" height="7.80" fill="#f3f9c1" shape-rendering="crispEdges"/>
<rect x="541.95" y="538.56" width="8.61" height="7.80" fill="#f2f7bb" shape-rendering="crispEdges"/>
<rect x="550.21" y="538.56" width="8.61" height="7.80" fill="#ebe076" shape-rendering="crispEdges"/>
<rect x="558.46" y="538.56" width="8.61" height="7.80" fill="#e6a643" shape-rendering="crispEdges"/>
<rect x="566.72" y="538.56" width="8.61" height="7.80" fill="#eeef9f" shape-rendering="crispEdges"/>
<rect x="574.97" y="538.56" width="8.61" height="7.80" fill="#f0f4b0" shape-rendering="crispEdges"/>
<rect x="583.23" y="538.56" width="8.61" height="7.80" fill="#f3f9c1" shape-rendering="crispEdges"/>
<rect x="591.49" y="538.56" width="8.61" height="7.80" fill="#f3f9c1" shape-rendering="crispEdges"/>
<rect x="599.74" y="538.56" width="8.61" height="7.80" fill="#ece788" shape-rendering="crispEdges"/>
<rect x="608.00" y="538.56" width="8.61" height="7.80" fill="#f3f9c1" shape-rendering="crispEdges"/>
<rect x="616.25" y="538.56" width="8.61" height="7.80" fill="#ebe076" shape-rendering="crispEdges"/>
<rect x="624.51" y="538.56" width="8.61" height="7.80" fill="#f3f9c1" shape-rendering="crispEdges"/>
<rect x="632.77" y="538.56" width="8.61" height="7.80" fill="#f3f9c1" shape-rendering="crispEdges"/>
<rect x="541.95" y="546.01" width="8.61" height="7.80" fill="#edec94" shape-rendering="crispEdges"/>
<rect x="550.21" y="546.01" width="8.61" height="7.80" fill="#ebe076" shape-rendering="crispEdges"/>
<rect x="558.46" y="546.01" width="8.61" height="7.80" fill="#f3f9c1" shape-rendering="crispEdges"/>
<rect x="566.72" y="546.01" width="8.61" height="7.80" fill="#f3f9c1" shape-rendering="crispEdges"/>
<rect x="574.97" y="546.01" width="8.61" height="7.80" fill="#f3f9c1" shape-rendering="crispEdges"/>
<rect x="583.23" y="546.01" width="8.61" height="7.80" fill="#f3f9c1" shape-rendering="crispEdges"/>
<rect x="591.49" y="546.01" width="8.61" height="7.80" fill="#f3f9c1" shape-rendering="crispEdges"/>
<rect x="599.74" y="546.01" width="8.61" height="7.80" fill="#f3f9c1" shape-rendering="crispEdges"/>
<rect x="608.00" y="546.01" width="8.61" height="7.80" fill="#f3f9c1" shape-rendering="crispEdges"/>
<rect x="616.25" y="546.01" width="8.61" height="7.80" fill="#f3f9c1" shape-rendering="crispEdges"/>
<rect x="624.51" y="546.01" width="8.61" height="7.80" fill="#f3f9c1" shape-rendering="crispEdges"/>
<rect x="632.77" y="546.01" width="8.61" height="7.80" fill="#f3f9c1" shape-rendering="crispEdges"/>
<rect x="541.95" y="553.46" width="8.61" height="7.80" fill="#f2f7bb" shape-rendering="crispEdges"/>
<rect x="550.21" y="553.46" width="8.61" height="7.80" fill="#f2f7bb" shape-rendering="crispEdges"/>
<rect x="558.46" y="553.46" width="8.61" height="7.80" fill="#f0f4b0" shape-rendering="crispEdges"/>
<rect x="566.72" y="553.46" width="8.61" height="7.80" fill="#f2f7bb" shape-rendering="crispEdges"/>
<rect x="574.97" y="553.46" width="8.61" height="7.80" fill="#eeef9f" shape-rendering="crispEdges"/>
<rect x="583.23" y="553.46" width="8.61" height="7.80" fill="#f2f7bb" shape-rendering="crispEdges"/>
<rect x="591.49" y="553.46" width="8.61" height="7.80" fill="#f3f9c1" shape-rendering="crispEdges"/>
<rect x="599.74" y="553.46" width="8.61" height="7.80" fill="#f3f9c1" shape-rendering="crispEdges"/>
<rect x="608.00" y="553.46" width="8.61" height="7.80" fill="#f3f9c1" shape-rendering="crispEdges"/>
<rect x="616.25" y="553.46" width="8.61" height="7.80" fill="#f3f9c1" shape-rendering="crispEdges"/>
<rect x="624.51" y="553.46" width="8.61" height="7.80" fill="#f3f9c1" shape-rendering="crispEdges"/>
<rect x="632.77" y="553.46" width="8.61" height="7.80" fill="#f3f9c1" shape-rendering="crispEdges"/>
<rect x="541.95" y="560.91" width="8.61" height="7.80" fill="#ebe076" shape-rendering="crispEdges"/>
<rect x="550.21" y="560.91" width="8.61" height="7.80" fill="#f2f7bb" shape-rendering="crispEdges"/>
<rect x="558.46" y="560.91" width="8.61" height="7.80" fill="#f2f7bb" shape-rendering="crispEdges"/>
<rect x="566.72" y="560.91" width="8.61" height="7.80" fill="#f3f9c1" shape-rendering="crispEdges"/>
<rect x="574.97" y="560.91" width="8.61" height="7.80" fill="#f0f4b0" shape-rendering="crispEdges"/>
<rect x="583.23" y="560.91" width="8.61" height="7.80" fill="#f3f9c1" shape-rendering="crispEdges"/>
<rect x="591.49" y="560.91" width="8.61" height="7.80" fill="#f3f9c1" shape-rendering="crispEdges"/>
<rect x="599.74" y="560.91" width="8.61" height="7.80" fill="#f3f9c1" shape-rendering="crispEdges"/>
<rect x="608.00" y="560.91" width="8.61" height="7.80" fill="#f3f9c1" shape-rendering="crispEdges"/>
<rect x="616.25" y="560.91" width="8.61" height="7.80" fill="#f3f9c1" shape-rendering="crispEdges"/>
<rect x="624.51" y="560.91" width="8.61" height="7.80" fill="#f3f9c1" shape-rendering="crispEdges"/>
<rect x="632.77" y="560.91" width="8.61" height="7.80" fill="#f3f9c1" shape-rendering="crispEdges"/>
<rect x="541.95" y="568.36" width="8.61" height="7.80" fill="#f2f7bb" shape-rendering="crispEdges"/>
<rect x="550.21" y="568.36" width="8.61" height="7.80" fill="#f3f9c1" shape-rendering="crispEdges"/>
<rect x="558.46" y="568.36" width="8.61" height="7.80" fill="#f3f9c1" shape-rendering="crispEdges"/>
<rect x="566.72" y="568.36" width="8.61" height="7.80" fill="#f3f9c1" shape-rendering="crispEdges"/>
<rect x="574.97" y="568.36" width="8.61" height="7.80" fill="#f3f9c1" shape-rendering="crispEdges"/>
<rect x="583.23" y="568.36" width="8.61" height="7.80" fill="#f3f9c1" shape-rendering="crispEdges"/>
<rect x="591.49" y="568.36" width="8.61" height="7.80" fill="#f3f9c1" shape-rendering="crispEdges"/>
<rect x="599.74" y="568.36" width="8.61" height="7.80" fill="#f3f9c1" shape-rendering="crispEdges"/>
<rect x="608.00" y="568.36" width="8.61" height="7.80" fill="#f3f9c1" shape-rendering="crispEdges"/>
<rect x="616.25" y="568.36" width="8.61" height="7.80" fill="#f3f9c1" shape-rendering="crispEdges"/>
<rect x="624.51" y="568.36" width="8.61" height="7.80" fill="#f3f9c1" shape-rendering="crispEdges"/>
<rect x="632.77" y="568.36" width="8.61" height="7.80" fill="#f3f9c1" shape-rendering="crispEdges"/>
<rect x="541.95" y="575.81" width="8.61" height="7.80" fill="#f0f4b0" shape-rendering="crispEdges"/>
<rect x="550.21" y="575.81" width="8.61" height="7.80" fill="#f3f9c1" shape-rendering="crispEdges"/>
<rect x="558.46" y="575.81" width="8.61" height="7.80" fill="#f3f9c1" shape-rendering="crispEdges"/>
<rect x="566.72" y="575.81" width="8.61" height="7.80" fill="#f3fac6" shape-rendering="crispEdges"/>
<rect x="574.97" y="575.81" width="8.61" height="7.80" fill="#f2f7bb" shape-rendering="crispEdges"/>
<rect x="583.23" y="575.81" width="8.61" height="7.80" fill="#f3f9c1" shape-rendering="crispEdges"/>
<rect x="591.49" y="575.81" width="8.61" height="7.80" fill="#f3f9c1" shape-rendering="crispEdges"/>
<rect x="599.74" y="575.81" width="8.61" height="7.80" fill="#f3f9c1" shape-rendering="crispEdges"/>
<rect x="608.00" y="575.81" width="8.61" height="7.80" fill="#f3f9c1" shape-rendering="crispEdges"/>
<rect x="616.25" y="575.81" width="8.61" height="7.80" fill="#f3f9c1" shape-rendering="crispEdges"/>
<rect x="624.51" y="575.81" width="8.61" height="7.80" fill="#f3f9c1" shape-rendering="crispEdges"/>
<rect x="632.77" y="575.81" width="8.61" height="7.80" fill="#f3f9c1" shape-rendering="crispEdges"/>
<rect x="541.95" y="583.26" width="8.61" height="7.80" fill="#f2f7bb" shape-rendering="crispEdges"/>
<rect x="550.21" y="583.26" width="8.61" height="7.80" fill="#f3f9c1" shape-rendering="crispEdges"/>
<rect x="558.46" y="583.26" width="8.61" height="7.80" fill="#f3f9c1" shape-rendering="crispEdges"/>
<rect x="566.72" y="583.26" width="8.61" height="7.80" fill="#f3f9c1" shape-rendering="crispEdges"/>
<rect x="574.97" y="583.26" width="8.61" height="7.80" fill="#eeef9f" shape-rendering="crispEdges"/>
<rect x="583.23" y="583.26" width="8.61" height="7.80" fill="#f3f9c1" shape-rendering="crispEdges"/>
<rect x="591.49" y="583.26" width="8.61" height="7.80" fill="#f3f9c1" shape-rendering="crispEdges"/>
<rect x="599.74" y="583.26" width="8.61" height="7.80" fill="#f3f9c1" shape-rendering="crispEdges"/>
<rect x="608.00" y="583.26" width="8.61" height="7.80" fill="#f3f9c1" shape-rendering="crispEdges"/>
<rect x="616.25" y="583.26" width="8.61" height="7.80" fill="#f3f9c1" shape-rendering="crispEdges"/>
<rect x="624.51" y="583.26" width="8.61" height="7.80" fill="#f3f9c1" shape-rendering="crispEdges"/>
<rect x="632.77" y="583.26" width="8.61" height="7.80" fill="#f3f9c1" shape-rendering="crispEdges"/>
<text x="539.00" y="22.80" font-size="7.26" text-anchor="end" fill="#3c3c3c">Retinoid.Metabolism</text>
<text x="539.00" y="30.32" font-size="7.26" text-anchor="end" fill="#3c3c3c">Porphyrin.and.Chlorophyll.Metabolism</text>
<text x="539.00" y="37.84" font-size="7.26" text-anchor="end" fill="#3c3c3c">Beta.Alanine.Metabolism</text>
<text x="539.00" y="45.36" font-size="7.26" text-anchor="end" fill="#3c3c3c">Phenylalanine.Metabolism</text>
<text x="539.00" y="52.88" font-size="7.26" text-anchor="end" fill="#3c3c3c">Taurine.and.Hypotaurine.Metabolism</text>
<text x="539.00" y="60.40" font-size="7.26" text-anchor="end" fill="#3c3c3c">Primary.Bile.Acid.Biosynthesis</text>
<text x="539.30" y="68.22" font-size="8.15" text-anchor="end" font-weight="bold" fill="#111">Kynurenine.Metabolism</text>
<text x="539.00" y="75.44" font-size="7.26" text-anchor="end" fill="#3c3c3c">Estradiol.Biosynthesis</text>
<text x="539.00" y="82.96" font-size="7.26" text-anchor="end" fill="#3c3c3c">Testosterone.Biosynthesis</text>
<text x="539.00" y="90.48" font-size="7.26" text-anchor="end" fill="#3c3c3c">Pyrimidine.Metabolism</text>
<text x="539.00" y="98.00" font-size="7.26" text-anchor="end" fill="#3c3c3c">Pyruvate.Metabolism</text>
<text x="539.00" y="105.52" font-size="7.26" text-anchor="end" fill="#3c3c3c">Lysine.Degradation</text>
<text x="539.30" y="113.34" font-size="8.15" text-anchor="end" font-weight="bold" fill="#111">Methionine.Cycle</text>
<text x="539.00" y="120.56" font-size="7.26" text-anchor="end" fill="#3c3c3c">Cysteine.and.Methionine.Metabolism</text>
<text x="539.30" y="128.38" font-size="8.15" text-anchor="end" font-weight="bold" fill="#111">Folate.One.Carbon.Metabolism</text>
<text x="539.00" y="135.60" font-size="7.26" text-anchor="end" fill="#3c3c3c">Other.Types.of.O.Glycan.Biosynthesis</text>
<text x="539.00" y="143.12" font-size="7.26" text-anchor="end" fill="#3c3c3c">Amino.Sugar.and.Nucleotide.Sugar.Metabolism</text>
<text x="539.00" y="150.64" font-size="7.26" text-anchor="end" fill="#3c3c3c">Butanoate.Metabolism</text>
<text x="539.00" y="158.16" font-size="7.26" text-anchor="end" fill="#3c3c3c">Valine..Leucine.and.Isoleucine.Degradation</text>
<text x="539.00" y="165.68" font-size="7.26" text-anchor="end" fill="#3c3c3c">Fructose.and.Mannose.Metabolism</text>
<text x="539.00" y="173.20" font-size="7.26" text-anchor="end" fill="#3c3c3c">Pentose.Phosphate</text>
<text x="539.30" y="181.02" font-size="8.15" text-anchor="end" font-weight="bold" fill="#111">Oxidative.Phosphorylation</text>
<text x="539.00" y="188.24" font-size="7.26" text-anchor="end" fill="#3c3c3c">Cortisol.Biosynthesis</text>
<text x="539.00" y="195.76" font-size="7.26" text-anchor="end" fill="#3c3c3c">Aldosterone.Biosynthesis</text>
<text x="539.00" y="203.28" font-size="7.26" text-anchor="end" fill="#3c3c3c">Caffiene.Metabolism</text>
<text x="539.00" y="210.80" font-size="7.26" text-anchor="end" fill="#3c3c3c">Prostanoid.Biosynthesis</text>
<text x="539.00" y="218.32" font-size="7.26" text-anchor="end" fill="#3c3c3c">Prostaglandin.Biosynthesis</text>
<text x="539.00" y="225.84" font-size="7.26" text-anchor="end" fill="#3c3c3c">Neomycin..Kanamysin.and.Gentamicin.Biosynthesis</text>
<text x="539.00" y="233.36" font-size="7.26" text-anchor="end" fill="#3c3c3c">Purine.Biosynthesis</text>
<text x="539.00" y="240.88" font-size="7.26" text-anchor="end" fill="#3c3c3c">Urea.Cycle</text>
<text x="539.00" y="248.40" font-size="7.26" text-anchor="end" fill="#3c3c3c">Fatty.Acid.Elongation</text>
<text x="539.00" y="255.92" font-size="7.26" text-anchor="end" fill="#3c3c3c">Pantothenate.and.CoA.Biosynthesis</text>
<text x="539.00" y="263.44" font-size="7.26" text-anchor="end" fill="#3c3c3c">Propanoate.Metabolism</text>
<text x="539.00" y="270.96" font-size="7.26" text-anchor="end" fill="#3c3c3c">Homocysteine.Biosynthesis</text>
<text x="539.00" y="278.48" font-size="7.26" text-anchor="end" fill="#3c3c3c">Folate.biosynthesis</text>
<text x="539.00" y="286.00" font-size="7.26" text-anchor="end" fill="#3c3c3c">Glyoxylate.and.Dicarboxylate.Metabolism</text>
<text x="539.00" y="293.52" font-size="7.26" text-anchor="end" fill="#3c3c3c">Glycosaminoglycan.Degradation</text>
<text x="539.00" y="301.04" font-size="7.26" text-anchor="end" fill="#3c3c3c">Nicotinamide.Adenine.Dinucleotide.Biosynthesis</text>
<text x="539.00" y="308.56" font-size="7.26" text-anchor="end" fill="#3c3c3c">Nicotinamide.Adenine.Metabolism</text>
<text x="539.00" y="316.08" font-size="7.26" text-anchor="end" fill="#3c3c3c">Biosynthesis.of.Unsaturated.Fatty.Acids</text>
<text x="539.00" y="323.60" font-size="7.26" text-anchor="end" fill="#3c3c3c">Fatty.Acid.Biosynthesis</text>
<text x="539.00" y="331.12" font-size="7.26" text-anchor="end" fill="#3c3c3c">Citric.Acid.Cycle</text>
<text x="539.00" y="338.64" font-size="7.26" text-anchor="end" fill="#3c3c3c">Remethylation</text>
<text x="539.00" y="346.16" font-size="7.26" text-anchor="end" fill="#3c3c3c">Glycosphosphatidylinositol</text>
<text x="539.00" y="353.68" font-size="7.26" text-anchor="end" fill="#3c3c3c">Ubiquinone.and.other.Terpenoid.Quinone.Biosynthesis</text>
<text x="539.00" y="361.20" font-size="7.26" text-anchor="end" fill="#3c3c3c">Terpenoid.Backbone.Biosynthesis</text>
<text x="539.00" y="368.72" font-size="7.26" text-anchor="end" fill="#3c3c3c">Vitamin.B6.Metabolism</text>
<text x="539.00" y="376.24" font-size="7.26" text-anchor="end" fill="#3c3c3c">ADP.Ribosylation</text>
<text x="539.00" y="383.76" font-size="7.26" text-anchor="end" fill="#3c3c3c">Valine..Leucine.and.Isoleucine.Biosynthesis</text>
<text x="539.00" y="391.28" font-size="7.26" text-anchor="end" fill="#3c3c3c">Selenocompound.Metabolism</text>
<text x="539.00" y="398.80" font-size="7.26" text-anchor="end" fill="#3c3c3c">Phenylalanine..Tyrosine.and.Tryptophan.Biosynthesis</text>
<text x="539.00" y="406.32" font-size="7.26" text-anchor="end" fill="#3c3c3c">Sulfur.Metabolism</text>
<text x="539.00" y="413.84" font-size="7.26" text-anchor="end" fill="#3c3c3c">Glycogen.Degradation</text>
<text x="539.00" y="421.36" font-size="7.26" text-anchor="end" fill="#3c3c3c">Glycogen.Biosynthesis</text>
<text x="539.00" y="428.88" font-size="7.26" text-anchor="end" fill="#3c3c3c">Cyclooxygenase.Arachidonic.Acid.Metabolism</text>
<text x="539.00" y="436.40" font-size="7.26" text-anchor="end" fill="#3c3c3c">Steroid.Biosynthesis</text>
<text x="539.00" y="443.92" font-size="7.26" text-anchor="end" fill="#3c3c3c">Transsulfuration</text>
<text x="539.00" y="451.44" font-size="7.26" text-anchor="end" fill="#3c3c3c">Epinephrine.Biosynthesis</text>
<text x="539.00" y="458.96" font-size="7.26" text-anchor="end" fill="#3c3c3c">Norepinephrine.Biosynthesis</text>
<text x="539.00" y="466.48" font-size="7.26" text-anchor="end" fill="#3c3c3c">Dopamine.Biosynthesis</text>
<text x="539.00" y="474.00" font-size="7.26" text-anchor="end" fill="#3c3c3c">Cardiolipin.Metabolism</text>
<text x="539.00" y="481.52" font-size="7.26" text-anchor="end" fill="#3c3c3c">Heme.Biosynthesis</text>
<text x="539.00" y="489.04" font-size="7.26" text-anchor="end" fill="#3c3c3c">Riboflavin.Metabolism</text>
<text x="539.00" y="496.56" font-size="7.26" text-anchor="end" fill="#3c3c3c">Other.Glycan.Degradation</text>
<text x="539.00" y="504.08" font-size="7.26" text-anchor="end" fill="#3c3c3c">Ketone.Biosynthesis.and.Metabolism</text>
<text x="539.00" y="511.60" font-size="7.26" text-anchor="end" fill="#3c3c3c">Polyamine.Biosynthesis</text>
<text x="539.00" y="519.12" font-size="7.26" text-anchor="end" fill="#3c3c3c">Cholesterol.Biosynthesis</text>
<text x="539.00" y="526.64" font-size="7.26" text-anchor="end" fill="#3c3c3c">Pyrimidine.Biosynthesis</text>
<text x="539.00" y="534.16" font-size="7.26" text-anchor="end" fill="#3c3c3c">Lipoic.Acid.Metabolism</text>
<text x="539.00" y="541.68" font-size="7.26" text-anchor="end" fill="#3c3c3c">Sirtuin.Nicotinamide.Metabolism</text>
<text x="539.00" y="549.20" font-size="7.26" text-anchor="end" fill="#3c3c3c">D.Glutamine.and.D.Glutamate.Metabolism</text>
<text x="539.00" y="556.72" font-size="7.26" text-anchor="end" fill="#3c3c3c">Thiamine.Metabolism</text>
<text x="539.00" y="564.24" font-size="7.26" text-anchor="end" fill="#3c3c3c">Biotin.Metabolism</text>
<text x="539.00" y="571.76" font-size="7.26" text-anchor="end" fill="#3c3c3c">Hexosamine.Biosynthesis</text>
<text x="539.00" y="579.28" font-size="7.26" text-anchor="end" fill="#3c3c3c">Cardiolipin.Biosynthesis</text>
<text x="539.00" y="586.80" font-size="7.26" text-anchor="end" fill="#3c3c3c">Thromboxane.Biosynthesis</text>
<text x="539.00" y="594.32" font-size="7.26" text-anchor="end" fill="#3c3c3c">Vitamin.K</text>
<text x="548.98" y="594.20" font-size="8.0" text-anchor="end" fill="#262626" transform="rotate(-90 548.9780000000001 594.2)">CRC</text>
<text x="557.23" y="594.20" font-size="8.0" text-anchor="end" fill="#262626" transform="rotate(-90 557.234 594.2)">CHOL</text>
<text x="565.49" y="594.20" font-size="8.0" text-anchor="end" fill="#262626" transform="rotate(-90 565.49 594.2)">ESCA</text>
<text x="573.75" y="594.20" font-size="8.0" text-anchor="end" fill="#262626" transform="rotate(-90 573.746 594.2)">THCA</text>
<text x="582.00" y="594.20" font-size="8.0" text-anchor="end" fill="#262626" transform="rotate(-90 582.0020000000001 594.2)">UCEC</text>
<text x="590.26" y="594.20" font-size="8.0" text-anchor="end" fill="#262626" transform="rotate(-90 590.258 594.2)">HCC</text>
<text x="598.51" y="594.20" font-size="8.0" text-anchor="end" fill="#262626" transform="rotate(-90 598.514 594.2)">BC</text>
<text x="606.77" y="594.20" font-size="8.0" text-anchor="end" fill="#262626" transform="rotate(-90 606.77 594.2)">PACA</text>
<text x="615.03" y="594.20" font-size="8.0" text-anchor="end" fill="#262626" transform="rotate(-90 615.0260000000001 594.2)">OV</text>
<text x="623.28" y="594.20" font-size="8.0" text-anchor="end" fill="#262626" transform="rotate(-90 623.282 594.2)">STAD</text>
<text x="631.54" y="594.20" font-size="8.0" text-anchor="end" fill="#262626" transform="rotate(-90 631.538 594.2)">LUNG</text>
<text x="639.79" y="594.20" font-size="8.0" text-anchor="end" fill="#262626" transform="rotate(-90 639.794 594.2)">RC</text>
<rect x="662.00" y="17.06" width="6.80" height="7.80" fill="#ffffff"/>
<rect x="642.90" y="18.98" width="10.65" height="4.60" fill="#6f6f6f" stroke="#111" stroke-width="0.7"/>
<rect x="662.00" y="24.51" width="6.80" height="7.80" fill="#ffffff"/>
<rect x="642.90" y="26.43" width="10.65" height="4.60" fill="#6f6f6f" stroke="#111" stroke-width="0.7"/>
<rect x="662.00" y="31.96" width="6.80" height="7.80" fill="#ffffff"/>
<rect x="642.90" y="33.89" width="10.65" height="4.60" fill="#6f6f6f" stroke="#111" stroke-width="0.7"/>
<rect x="662.00" y="39.41" width="6.80" height="7.80" fill="#ffffff"/>
<rect x="642.90" y="41.34" width="10.65" height="4.60" fill="#6f6f6f" stroke="#111" stroke-width="0.7"/>
<rect x="662.00" y="46.86" width="6.80" height="7.80" fill="#ffffff"/>
<rect x="642.90" y="48.78" width="10.65" height="4.60" fill="#6f6f6f" stroke="#111" stroke-width="0.7"/>
<rect x="662.00" y="54.31" width="6.80" height="7.80" fill="#ffffff"/>
<rect x="642.90" y="56.23" width="10.65" height="4.60" fill="#6f6f6f" stroke="#111" stroke-width="0.7"/>
<rect x="662.00" y="61.76" width="6.80" height="7.80" fill="#ffffff"/>
<rect x="642.90" y="63.69" width="10.65" height="4.60" fill="#6f6f6f" stroke="#111" stroke-width="0.7"/>
<rect x="662.00" y="69.21" width="6.80" height="7.80" fill="#e6e8d0"/>
<rect x="642.90" y="71.14" width="11.71" height="4.60" fill="#6f6f6f" stroke="#111" stroke-width="0.7"/>
<rect x="662.00" y="76.66" width="6.80" height="7.80" fill="#ffffff"/>
<rect x="642.90" y="78.59" width="10.65" height="4.60" fill="#6f6f6f" stroke="#111" stroke-width="0.7"/>
<rect x="662.00" y="84.11" width="6.80" height="7.80" fill="#ffffff"/>
<rect x="642.90" y="86.04" width="10.65" height="4.60" fill="#6f6f6f" stroke="#111" stroke-width="0.7"/>
<rect x="662.00" y="91.56" width="6.80" height="7.80" fill="#ffffff"/>
<rect x="642.90" y="93.49" width="10.65" height="4.60" fill="#6f6f6f" stroke="#111" stroke-width="0.7"/>
<rect x="662.00" y="99.01" width="6.80" height="7.80" fill="#e6e8d0"/>
<rect x="642.90" y="100.94" width="11.71" height="4.60" fill="#6f6f6f" stroke="#111" stroke-width="0.7"/>
<rect x="662.00" y="106.46" width="6.80" height="7.80" fill="#e6e8d0"/>
<rect x="642.90" y="108.39" width="11.71" height="4.60" fill="#6f6f6f" stroke="#111" stroke-width="0.7"/>
<rect x="662.00" y="113.91" width="6.80" height="7.80" fill="#e6e8d0"/>
<rect x="642.90" y="115.84" width="11.71" height="4.60" fill="#6f6f6f" stroke="#111" stroke-width="0.7"/>
<rect x="662.00" y="121.36" width="6.80" height="7.80" fill="#e6e8d0"/>
<rect x="642.90" y="123.29" width="11.71" height="4.60" fill="#6f6f6f" stroke="#111" stroke-width="0.7"/>
<rect x="662.00" y="128.81" width="6.80" height="7.80" fill="#e6e8d0"/>
<rect x="642.90" y="130.73" width="11.71" height="4.60" fill="#6f6f6f" stroke="#111" stroke-width="0.7"/>
<rect x="662.00" y="136.26" width="6.80" height="7.80" fill="#ffffff"/>
<rect x="642.90" y="138.18" width="10.65" height="4.60" fill="#6f6f6f" stroke="#111" stroke-width="0.7"/>
<rect x="662.00" y="143.71" width="6.80" height="7.80" fill="#e6e8d0"/>
<rect x="642.90" y="145.63" width="11.71" height="4.60" fill="#6f6f6f" stroke="#111" stroke-width="0.7"/>
<rect x="662.00" y="151.16" width="6.80" height="7.80" fill="#d2d5a3"/>
<rect x="642.90" y="153.09" width="13.54" height="4.60" fill="#6f6f6f" stroke="#111" stroke-width="0.7"/>
<rect x="662.00" y="158.61" width="6.80" height="7.80" fill="#ffffff"/>
<rect x="642.90" y="160.53" width="10.65" height="4.60" fill="#6f6f6f" stroke="#111" stroke-width="0.7"/>
<rect x="662.00" y="166.06" width="6.80" height="7.80" fill="#e6e8d0"/>
<rect x="642.90" y="167.98" width="11.71" height="4.60" fill="#6f6f6f" stroke="#111" stroke-width="0.7"/>
<rect x="662.00" y="173.51" width="6.80" height="7.80" fill="#d2d5a3"/>
<rect x="642.90" y="175.44" width="13.54" height="4.60" fill="#6f6f6f" stroke="#111" stroke-width="0.7"/>
<rect x="662.00" y="180.96" width="6.80" height="7.80" fill="#d2d5a3"/>
<rect x="642.90" y="182.88" width="13.54" height="4.60" fill="#6f6f6f" stroke="#111" stroke-width="0.7"/>
<rect x="662.00" y="188.41" width="6.80" height="7.80" fill="#d2d5a3"/>
<rect x="642.90" y="190.34" width="13.54" height="4.60" fill="#6f6f6f" stroke="#111" stroke-width="0.7"/>
<rect x="662.00" y="195.86" width="6.80" height="7.80" fill="#d2d5a3"/>
<rect x="642.90" y="197.78" width="13.54" height="4.60" fill="#6f6f6f" stroke="#111" stroke-width="0.7"/>
<rect x="662.00" y="203.31" width="6.80" height="7.80" fill="#d2d5a3"/>
<rect x="642.90" y="205.23" width="13.54" height="4.60" fill="#6f6f6f" stroke="#111" stroke-width="0.7"/>
<rect x="662.00" y="210.76" width="6.80" height="7.80" fill="#ffffff"/>
<rect x="642.90" y="212.69" width="10.65" height="4.60" fill="#6f6f6f" stroke="#111" stroke-width="0.7"/>
<rect x="662.00" y="218.21" width="6.80" height="7.80" fill="#e6e8d0"/>
<rect x="642.90" y="220.13" width="11.71" height="4.60" fill="#6f6f6f" stroke="#111" stroke-width="0.7"/>
<rect x="662.00" y="225.66" width="6.80" height="7.80" fill="#e6e8d0"/>
<rect x="642.90" y="227.59" width="11.71" height="4.60" fill="#6f6f6f" stroke="#111" stroke-width="0.7"/>
<rect x="662.00" y="233.11" width="6.80" height="7.80" fill="#ffffff"/>
<rect x="642.90" y="235.03" width="10.65" height="4.60" fill="#6f6f6f" stroke="#111" stroke-width="0.7"/>
<rect x="662.00" y="240.56" width="6.80" height="7.80" fill="#ffffff"/>
<rect x="642.90" y="242.48" width="10.65" height="4.60" fill="#6f6f6f" stroke="#111" stroke-width="0.7"/>
<rect x="662.00" y="248.01" width="6.80" height="7.80" fill="#e6e8d0"/>
<rect x="642.90" y="249.94" width="11.71" height="4.60" fill="#6f6f6f" stroke="#111" stroke-width="0.7"/>
<rect x="662.00" y="255.46" width="6.80" height="7.80" fill="#d2d5a3"/>
<rect x="642.90" y="257.38" width="13.54" height="4.60" fill="#6f6f6f" stroke="#111" stroke-width="0.7"/>
<rect x="662.00" y="262.91" width="6.80" height="7.80" fill="#d2d5a3"/>
<rect x="642.90" y="264.83" width="13.54" height="4.60" fill="#6f6f6f" stroke="#111" stroke-width="0.7"/>
<rect x="662.00" y="270.36" width="6.80" height="7.80" fill="#d2d5a3"/>
<rect x="642.90" y="272.29" width="13.54" height="4.60" fill="#6f6f6f" stroke="#111" stroke-width="0.7"/>
<rect x="662.00" y="277.81" width="6.80" height="7.80" fill="#c0c480"/>
<rect x="642.90" y="279.74" width="15.06" height="4.60" fill="#6f6f6f" stroke="#111" stroke-width="0.7"/>
<rect x="662.00" y="285.26" width="6.80" height="7.80" fill="#d2d5a3"/>
<rect x="642.90" y="287.19" width="13.54" height="4.60" fill="#6f6f6f" stroke="#111" stroke-width="0.7"/>
<rect x="662.00" y="292.71" width="6.80" height="7.80" fill="#d2d5a3"/>
<rect x="642.90" y="294.63" width="13.54" height="4.60" fill="#6f6f6f" stroke="#111" stroke-width="0.7"/>
<rect x="662.00" y="300.16" width="6.80" height="7.80" fill="#e6e8d0"/>
<rect x="642.90" y="302.08" width="11.71" height="4.60" fill="#6f6f6f" stroke="#111" stroke-width="0.7"/>
<rect x="662.00" y="307.61" width="6.80" height="7.80" fill="#e6e8d0"/>
<rect x="642.90" y="309.54" width="11.71" height="4.60" fill="#6f6f6f" stroke="#111" stroke-width="0.7"/>
<rect x="662.00" y="315.06" width="6.80" height="7.80" fill="#d2d5a3"/>
<rect x="642.90" y="316.99" width="13.54" height="4.60" fill="#6f6f6f" stroke="#111" stroke-width="0.7"/>
<rect x="662.00" y="322.51" width="6.80" height="7.80" fill="#c0c480"/>
<rect x="642.90" y="324.44" width="15.06" height="4.60" fill="#6f6f6f" stroke="#111" stroke-width="0.7"/>
<rect x="662.00" y="329.96" width="6.80" height="7.80" fill="#d2d5a3"/>
<rect x="642.90" y="331.88" width="13.54" height="4.60" fill="#6f6f6f" stroke="#111" stroke-width="0.7"/>
<rect x="662.00" y="337.41" width="6.80" height="7.80" fill="#d2d5a3"/>
<rect x="642.90" y="339.33" width="13.54" height="4.60" fill="#6f6f6f" stroke="#111" stroke-width="0.7"/>
<rect x="662.00" y="344.86" width="6.80" height="7.80" fill="#d2d5a3"/>
<rect x="642.90" y="346.79" width="13.54" height="4.60" fill="#6f6f6f" stroke="#111" stroke-width="0.7"/>
<rect x="662.00" y="352.31" width="6.80" height="7.80" fill="#d2d5a3"/>
<rect x="642.90" y="354.24" width="13.54" height="4.60" fill="#6f6f6f" stroke="#111" stroke-width="0.7"/>
<rect x="662.00" y="359.76" width="6.80" height="7.80" fill="#c0c480"/>
<rect x="642.90" y="361.69" width="15.06" height="4.60" fill="#6f6f6f" stroke="#111" stroke-width="0.7"/>
<rect x="662.00" y="367.21" width="6.80" height="7.80" fill="#d2d5a3"/>
<rect x="642.90" y="369.13" width="13.54" height="4.60" fill="#6f6f6f" stroke="#111" stroke-width="0.7"/>
<rect x="662.00" y="374.66" width="6.80" height="7.80" fill="#e6e8d0"/>
<rect x="642.90" y="376.58" width="11.71" height="4.60" fill="#6f6f6f" stroke="#111" stroke-width="0.7"/>
<rect x="662.00" y="382.11" width="6.80" height="7.80" fill="#e6e8d0"/>
<rect x="642.90" y="384.04" width="11.71" height="4.60" fill="#6f6f6f" stroke="#111" stroke-width="0.7"/>
<rect x="662.00" y="389.56" width="6.80" height="7.80" fill="#c0c480"/>
<rect x="642.90" y="391.49" width="15.06" height="4.60" fill="#6f6f6f" stroke="#111" stroke-width="0.7"/>
<rect x="662.00" y="397.01" width="6.80" height="7.80" fill="#afb662"/>
<rect x="642.90" y="398.94" width="16.12" height="4.60" fill="#6f6f6f" stroke="#111" stroke-width="0.7"/>
<rect x="662.00" y="404.46" width="6.80" height="7.80" fill="#c5c98b"/>
<rect x="642.90" y="406.38" width="14.60" height="4.60" fill="#6f6f6f" stroke="#111" stroke-width="0.7"/>
<rect x="662.00" y="411.91" width="6.80" height="7.80" fill="#c0c480"/>
<rect x="642.90" y="413.83" width="15.06" height="4.60" fill="#6f6f6f" stroke="#111" stroke-width="0.7"/>
<rect x="662.00" y="419.36" width="6.80" height="7.80" fill="#e6e8d0"/>
<rect x="642.90" y="421.29" width="11.71" height="4.60" fill="#6f6f6f" stroke="#111" stroke-width="0.7"/>
<rect x="662.00" y="426.81" width="6.80" height="7.80" fill="#d2d5a3"/>
<rect x="642.90" y="428.74" width="13.54" height="4.60" fill="#6f6f6f" stroke="#111" stroke-width="0.7"/>
<rect x="662.00" y="434.26" width="6.80" height="7.80" fill="#d2d5a3"/>
<rect x="642.90" y="436.19" width="13.54" height="4.60" fill="#6f6f6f" stroke="#111" stroke-width="0.7"/>
<rect x="662.00" y="441.71" width="6.80" height="7.80" fill="#d2d5a3"/>
<rect x="642.90" y="443.63" width="13.54" height="4.60" fill="#6f6f6f" stroke="#111" stroke-width="0.7"/>
<rect x="662.00" y="449.16" width="6.80" height="7.80" fill="#d2d5a3"/>
<rect x="642.90" y="451.08" width="13.54" height="4.60" fill="#6f6f6f" stroke="#111" stroke-width="0.7"/>
<rect x="662.00" y="456.61" width="6.80" height="7.80" fill="#c0c480"/>
<rect x="642.90" y="458.54" width="15.06" height="4.60" fill="#6f6f6f" stroke="#111" stroke-width="0.7"/>
<rect x="662.00" y="464.06" width="6.80" height="7.80" fill="#98a342"/>
<rect x="642.90" y="465.99" width="17.64" height="4.60" fill="#6f6f6f" stroke="#111" stroke-width="0.7"/>
<rect x="662.00" y="471.51" width="6.80" height="7.80" fill="#afb662"/>
<rect x="642.90" y="473.44" width="16.12" height="4.60" fill="#6f6f6f" stroke="#111" stroke-width="0.7"/>
<rect x="662.00" y="478.96" width="6.80" height="7.80" fill="#98a342"/>
<rect x="642.90" y="480.88" width="17.64" height="4.60" fill="#6f6f6f" stroke="#111" stroke-width="0.7"/>
<rect x="662.00" y="486.41" width="6.80" height="7.80" fill="#c0c480"/>
<rect x="642.90" y="488.33" width="15.06" height="4.60" fill="#6f6f6f" stroke="#111" stroke-width="0.7"/>
<rect x="662.00" y="493.86" width="6.80" height="7.80" fill="#c0c480"/>
<rect x="642.90" y="495.79" width="15.06" height="4.60" fill="#6f6f6f" stroke="#111" stroke-width="0.7"/>
<rect x="662.00" y="501.31" width="6.80" height="7.80" fill="#afb662"/>
<rect x="642.90" y="503.24" width="16.12" height="4.60" fill="#6f6f6f" stroke="#111" stroke-width="0.7"/>
<rect x="662.00" y="508.76" width="6.80" height="7.80" fill="#afb662"/>
<rect x="642.90" y="510.69" width="16.12" height="4.60" fill="#6f6f6f" stroke="#111" stroke-width="0.7"/>
<rect x="662.00" y="516.21" width="6.80" height="7.80" fill="#afb662"/>
<rect x="642.90" y="518.13" width="16.12" height="4.60" fill="#6f6f6f" stroke="#111" stroke-width="0.7"/>
<rect x="662.00" y="523.66" width="6.80" height="7.80" fill="#afb662"/>
<rect x="642.90" y="525.59" width="16.12" height="4.60" fill="#6f6f6f" stroke="#111" stroke-width="0.7"/>
<rect x="662.00" y="531.11" width="6.80" height="7.80" fill="#98a342"/>
<rect x="642.90" y="533.03" width="17.64" height="4.60" fill="#6f6f6f" stroke="#111" stroke-width="0.7"/>
<rect x="662.00" y="538.56" width="6.80" height="7.80" fill="#c0c480"/>
<rect x="642.90" y="540.49" width="15.06" height="4.60" fill="#6f6f6f" stroke="#111" stroke-width="0.7"/>
<rect x="662.00" y="546.01" width="6.80" height="7.80" fill="#afb662"/>
<rect x="642.90" y="547.94" width="16.12" height="4.60" fill="#6f6f6f" stroke="#111" stroke-width="0.7"/>
<rect x="662.00" y="553.46" width="6.80" height="7.80" fill="#8e9b36"/>
<rect x="642.90" y="555.38" width="18.40" height="4.60" fill="#6f6f6f" stroke="#111" stroke-width="0.7"/>
<rect x="662.00" y="560.91" width="6.80" height="7.80" fill="#8e9b36"/>
<rect x="642.90" y="562.84" width="18.40" height="4.60" fill="#6f6f6f" stroke="#111" stroke-width="0.7"/>
<rect x="662.00" y="568.36" width="6.80" height="7.80" fill="#8e9b36"/>
<rect x="642.90" y="570.28" width="18.40" height="4.60" fill="#6f6f6f" stroke="#111" stroke-width="0.7"/>
<rect x="662.00" y="575.81" width="6.80" height="7.80" fill="#8e9b36"/>
<rect x="642.90" y="577.74" width="18.40" height="4.60" fill="#6f6f6f" stroke="#111" stroke-width="0.7"/>
<rect x="662.00" y="583.26" width="6.80" height="7.80" fill="#8e9b36"/>
<rect x="642.90" y="585.19" width="18.40" height="4.60" fill="#6f6f6f" stroke="#111" stroke-width="0.7"/>
<line x1="642.30" y1="17.30" x2="642.30" y2="593.50" stroke="#000" stroke-width="1.1"/>
<line x1="642.30" y1="17.60" x2="661.90" y2="17.60" stroke="#000" stroke-width="0.9"/>
<line x1="661.90" y1="17.30" x2="661.90" y2="591.00" stroke="#000" stroke-width="0.9"/>
<line x1="642.30" y1="591.00" x2="642.30" y2="593.60" stroke="#000" stroke-width="0.8"/>
<text x="645.00" y="594.60" font-size="8.0" text-anchor="end" fill="#222" transform="rotate(-90 645.0 594.6)">0</text>
<line x1="649.90" y1="591.00" x2="649.90" y2="593.60" stroke="#000" stroke-width="0.8"/>
<text x="652.60" y="594.60" font-size="8.0" text-anchor="end" fill="#222" transform="rotate(-90 652.6 594.6)">5</text>
<line x1="657.50" y1="591.00" x2="657.50" y2="593.60" stroke="#000" stroke-width="0.8"/>
<text x="660.20" y="594.60" font-size="8.0" text-anchor="end" fill="#222" transform="rotate(-90 660.2 594.6)">10</text>
<text x="640.30" y="610.80" font-size="9.4" text-anchor="start" font-weight="bold" fill="#000">Sig_Num.</text>
<path d="M 669.4 20.8 L 670.4 20.8 L 670.4 28.2 L 669.4 28.2 M 669.4 35.7 L 670.5 35.7 L 670.5 43.1 L 669.4 43.1 M 670.5 39.4 L 671.5 39.4 L 671.5 50.6 L 669.4 50.6 M 671.5 45.0 L 672.9 45.0 L 672.9 58.0 L 669.4 58.0 M 669.4 65.5 L 670.4 65.5 L 670.4 72.9 L 669.4 72.9 M 670.4 69.2 L 671.9 69.2 L 671.9 80.4 L 669.4 80.4 M 672.9 51.5 L 674.4 51.5 L 674.4 74.8 L 671.9 74.8 M 669.4 87.8 L 670.3 87.8 L 670.3 95.3 L 669.4 95.3 M 669.4 102.7 L 670.4 102.7 L 670.4 110.2 L 669.4 110.2 M 670.4 106.5 L 671.4 106.5 L 671.4 117.6 L 669.4 117.6 M 670.3 91.6 L 672.8 91.6 L 672.8 112.0 L 671.4 112.0 M 674.4 63.2 L 675.5 63.2 L 675.5 101.8 L 672.8 101.8 M 670.4 24.5 L 677.6 24.5 L 677.6 82.5 L 675.5 82.5 M 669.4 132.5 L 670.3 132.5 L 670.3 140.0 L 669.4 140.0 M 670.3 136.3 L 671.6 136.3 L 671.6 147.4 L 669.4 147.4 M 669.4 125.1 L 672.8 125.1 L 672.8 141.8 L 671.6 141.8 M 669.4 162.3 L 670.5 162.3 L 670.5 169.8 L 669.4 169.8 M 669.4 154.9 L 671.6 154.9 L 671.6 166.1 L 670.5 166.1 M 672.8 133.5 L 674.3 133.5 L 674.3 160.5 L 671.6 160.5 M 669.4 177.2 L 670.3 177.2 L 670.3 184.7 L 669.4 184.7 M 670.3 181.0 L 671.8 181.0 L 671.8 192.1 L 669.4 192.1 M 671.8 186.5 L 673.2 186.5 L 673.2 199.6 L 669.4 199.6 M 674.3 147.0 L 675.5 147.0 L 675.5 193.1 L 673.2 193.1 M 669.4 207.0 L 670.5 207.0 L 670.5 214.5 L 669.4 214.5 M 670.5 210.8 L 671.9 210.8 L 671.9 221.9 L 669.4 221.9 M 671.9 216.3 L 673.3 216.3 L 673.3 229.4 L 669.4 229.4 M 669.4 244.3 L 670.3 244.3 L 670.3 251.7 L 669.4 251.7 M 669.4 236.8 L 671.3 236.8 L 671.3 248.0 L 670.3 248.0 M 669.4 259.2 L 670.4 259.2 L 670.4 266.6 L 669.4 266.6 M 669.4 274.1 L 670.2 274.1 L 670.2 281.5 L 669.4 281.5 M 670.4 262.9 L 671.9 262.9 L 671.9 277.8 L 670.2 277.8 M 671.3 242.4 L 673.6 242.4 L 673.6 270.4 L 671.9 270.4 M 673.3 222.9 L 675.5 222.9 L 675.5 256.4 L 673.6 256.4 M 675.5 170.0 L 676.5 170.0 L 676.5 239.6 L 675.5 239.6 M 669.4 289.0 L 670.4 289.0 L 670.4 296.4 L 669.4 296.4 M 669.4 303.9 L 670.4 303.9 L 670.4 311.3 L 669.4 311.3 M 670.4 292.7 L 671.6 292.7 L 671.6 307.6 L 670.4 307.6 M 669.4 326.2 L 670.4 326.2 L 670.4 333.7 L 669.4 333.7 M 669.4 318.8 L 671.9 318.8 L 671.9 330.0 L 670.4 330.0 M 671.9 324.4 L 673.0 324.4 L 673.0 341.1 L 669.4 341.1 M 671.6 300.2 L 675.2 300.2 L 675.2 332.8 L 673.0 332.8 M 669.4 348.6 L 670.4 348.6 L 670.4 356.0 L 669.4 356.0 M 669.4 370.9 L 670.2 370.9 L 670.2 378.4 L 669.4 378.4 M 669.4 363.5 L 671.3 363.5 L 671.3 374.7 L 670.2 374.7 M 670.4 352.3 L 673.2 352.3 L 673.2 369.1 L 671.3 369.1 M 675.2 316.5 L 675.5 316.5 L 675.5 360.7 L 673.2 360.7 M 669.4 393.3 L 670.3 393.3 L 670.3 400.7 L 669.4 400.7 M 669.4 385.8 L 671.6 385.8 L 671.6 397.0 L 670.3 397.0 M 669.4 408.2 L 670.5 408.2 L 670.5 415.6 L 669.4 415.6 M 671.6 391.4 L 672.9 391.4 L 672.9 411.9 L 670.5 411.9 M 669.4 423.1 L 670.4 423.1 L 670.4 430.5 L 669.4 430.5 M 672.9 401.7 L 675.0 401.7 L 675.0 426.8 L 670.4 426.8 M 669.4 445.4 L 670.5 445.4 L 670.5 452.9 L 669.4 452.9 M 669.4 438.0 L 671.5 438.0 L 671.5 449.2 L 670.5 449.2 M 669.4 460.3 L 670.3 460.3 L 670.3 467.8 L 669.4 467.8 M 671.5 443.6 L 673.2 443.6 L 673.2 464.1 L 670.3 464.1 M 675.0 414.2 L 675.5 414.2 L 675.5 453.8 L 673.2 453.8 M 675.5 338.6 L 677.0 338.6 L 677.0 434.0 L 675.5 434.0 M 676.5 204.8 L 679.2 204.8 L 679.2 386.3 L 677.0 386.3 M 677.6 53.5 L 681.0 53.5 L 681.0 295.6 L 679.2 295.6 M 669.4 475.2 L 670.4 475.2 L 670.4 482.7 L 669.4 482.7 M 670.4 479.0 L 671.5 479.0 L 671.5 490.1 L 669.4 490.1 M 669.4 497.6 L 670.3 497.6 L 670.3 505.0 L 669.4 505.0 M 669.4 519.9 L 670.3 519.9 L 670.3 527.4 L 669.4 527.4 M 669.4 512.5 L 671.6 512.5 L 671.6 523.7 L 670.3 523.7 M 670.3 501.3 L 673.5 501.3 L 673.5 518.1 L 671.6 518.1 M 671.5 484.5 L 675.1 484.5 L 675.1 509.7 L 673.5 509.7 M 669.4 534.8 L 670.4 534.8 L 670.4 542.3 L 669.4 542.3 M 670.4 538.6 L 671.6 538.6 L 671.6 549.7 L 669.4 549.7 M 669.4 557.2 L 670.4 557.2 L 670.4 564.6 L 669.4 564.6 M 669.4 572.1 L 670.4 572.1 L 670.4 579.5 L 669.4 579.5 M 670.4 575.8 L 671.6 575.8 L 671.6 587.0 L 669.4 587.0 M 670.4 560.9 L 672.8 560.9 L 672.8 581.4 L 671.6 581.4 M 671.6 544.1 L 675.1 544.1 L 675.1 571.2 L 672.8 571.2 M 675.1 497.1 L 672.6 497.1 L 672.6 557.7 L 675.1 557.7 M 681.0 174.5 L 683.0 174.5 L 683.0 527.4 L 672.6 527.4" fill="none" stroke="#333" stroke-width="0.8"/>
<path d="M 554.3 16.6 L 554.3 15.9 L 562.6 15.9 L 562.6 16.6 M 546.1 16.6 L 546.1 15.0 L 558.5 15.0 L 558.5 15.9 M 570.8 16.6 L 570.8 15.9 L 579.1 15.9 L 579.1 16.6 M 552.3 15.0 L 552.3 13.8 L 575.0 13.8 L 575.0 15.9 M 587.4 16.6 L 587.4 15.9 L 595.6 15.9 L 595.6 16.6 M 591.5 15.9 L 591.5 15.0 L 603.9 15.0 L 603.9 16.6 M 612.1 16.6 L 612.1 15.9 L 620.4 15.9 L 620.4 16.6 M 628.6 16.6 L 628.6 15.9 L 636.9 15.9 L 636.9 16.6 M 616.3 15.9 L 616.3 14.9 L 632.8 14.9 L 632.8 15.9 M 597.7 15.0 L 597.7 13.5 L 624.5 13.5 L 624.5 14.9 M 563.6 13.8 L 563.6 11.8 L 611.1 11.8 L 611.1 13.5" fill="none" stroke="#1a1a1a" stroke-width="0.9"/>
<defs><linearGradient id="gsps" x1="0" y1="0" x2="0" y2="1"><stop offset="0" stop-color="#d83c38"/><stop offset="0.27" stop-color="#e05a30"/><stop offset="0.45" stop-color="#e6862e"/><stop offset="0.52" stop-color="#e2b83a"/><stop offset="0.58" stop-color="#e4d860"/><stop offset="0.70" stop-color="#eef3a8"/><stop offset="0.85" stop-color="#f6f9d4"/><stop offset="1" stop-color="#fbfdee"/></linearGradient><linearGradient id="gsig" x1="0" y1="0" x2="0" y2="1"><stop offset="0" stop-color="#8e9a38"/><stop offset="0.45" stop-color="#a9b163"/><stop offset="0.8" stop-color="#dfe2c6"/><stop offset="1" stop-color="#ffffff"/></linearGradient></defs>
<rect x="367.00" y="53.20" width="7.90" height="42.50" fill="url(#gsps)"/>
<line x1="367.00" y1="55.30" x2="368.60" y2="55.30" stroke="#fff" stroke-width="0.7"/>
<line x1="373.30" y1="55.30" x2="374.90" y2="55.30" stroke="#fff" stroke-width="0.7"/>
<text x="376.60" y="58.00" font-size="7.6" text-anchor="start" fill="#1a1a1a">4</text>
<line x1="367.00" y1="65.90" x2="368.60" y2="65.90" stroke="#fff" stroke-width="0.7"/>
<line x1="373.30" y1="65.90" x2="374.90" y2="65.90" stroke="#fff" stroke-width="0.7"/>
<text x="376.60" y="68.60" font-size="7.6" text-anchor="start" fill="#1a1a1a">2</text>
<line x1="367.00" y1="76.50" x2="368.60" y2="76.50" stroke="#fff" stroke-width="0.7"/>
<line x1="373.30" y1="76.50" x2="374.90" y2="76.50" stroke="#fff" stroke-width="0.7"/>
<text x="376.60" y="79.20" font-size="7.6" text-anchor="start" fill="#1a1a1a">0</text>
<line x1="367.00" y1="87.10" x2="368.60" y2="87.10" stroke="#fff" stroke-width="0.7"/>
<line x1="373.30" y1="87.10" x2="374.90" y2="87.10" stroke="#fff" stroke-width="0.7"/>
<text x="376.60" y="89.80" font-size="7.6" text-anchor="start" fill="#1a1a1a">−2</text>
<text x="376.60" y="100.40" font-size="7.6" text-anchor="start" fill="#1a1a1a">−4</text>
<text x="349.80" y="83.70" font-size="10.4" text-anchor="middle" font-weight="bold" fill="#111" transform="rotate(-90 349.8 83.7)">Scaled</text>
<text x="360.60" y="81.90" font-size="10.6" text-anchor="middle" font-weight="bold" fill="#111" transform="rotate(-90 360.6 81.9)">Pathway Score</text>
<rect x="364.20" y="135.00" width="8.70" height="36.00" fill="url(#gsig)"/>
<line x1="364.20" y1="137.10" x2="365.80" y2="137.10" stroke="#fff" stroke-width="0.7"/>
<line x1="371.30" y1="137.10" x2="372.90" y2="137.10" stroke="#fff" stroke-width="0.7"/>
<text x="374.60" y="139.80" font-size="7.6" text-anchor="start" fill="#1a1a1a">12</text>
<line x1="364.20" y1="151.30" x2="365.80" y2="151.30" stroke="#fff" stroke-width="0.7"/>
<line x1="371.30" y1="151.30" x2="372.90" y2="151.30" stroke="#fff" stroke-width="0.7"/>
<text x="374.60" y="154.00" font-size="7.6" text-anchor="start" fill="#1a1a1a">10</text>
<line x1="364.20" y1="165.50" x2="365.80" y2="165.50" stroke="#fff" stroke-width="0.7"/>
<line x1="371.30" y1="165.50" x2="372.90" y2="165.50" stroke="#fff" stroke-width="0.7"/>
<text x="374.60" y="168.20" font-size="7.6" text-anchor="start" fill="#1a1a1a">8</text>
<text x="374.60" y="182.10" font-size="7.6" text-anchor="start" fill="#1a1a1a">6</text>
<text x="357.40" y="153.30" font-size="10.6" text-anchor="middle" font-weight="bold" fill="#111" transform="rotate(-90 357.4 153.3)">Sig_Num.</text>
<text x="4.00" y="182.30" font-size="13" text-anchor="start" fill="#000">C</text>
<text x="24.90" y="203.70" font-size="10.5" text-anchor="start" fill="#1a1a1a">Mitochondria genes</text>
<ellipse cx="70.8" cy="239.9" rx="51.2" ry="28.9" fill="#dcf0cc" stroke="#a9d193" stroke-width="0.9"/>
<clipPath id="mclip"><ellipse cx="70.8" cy="239.9" rx="48.0" ry="25.9"/></clipPath>
<ellipse cx="70.8" cy="239.9" rx="48.0" ry="25.9" fill="#c6e6a8" stroke="#9dcb8a" stroke-width="0.9"/>
<g clip-path="url(#mclip)"><path d="M 27.5 200 L 27.5 241.5 Q 27.5 243 29 243 Q 30.5 243 30.5 241.5 L 30.5 200 Z" fill="#e2f3d8" stroke="#9dcb8a" stroke-width="0.8"/><path d="M 37.0 200 L 37.0 240.5 Q 37.0 242 38.5 242 Q 40.0 242 40.0 240.5 L 40.0 200 Z" fill="#e2f3d8" stroke="#9dcb8a" stroke-width="0.8"/><path d="M 48.5 200 L 48.5 232.5 Q 48.5 234 50 234 Q 51.5 234 51.5 232.5 L 51.5 200 Z" fill="#e2f3d8" stroke="#9dcb8a" stroke-width="0.8"/><path d="M 66.5 200 L 66.5 234.5 Q 66.5 236 68 236 Q 69.5 236 69.5 234.5 L 69.5 200 Z" fill="#e2f3d8" stroke="#9dcb8a" stroke-width="0.8"/><path d="M 82.5 200 L 82.5 238.5 Q 82.5 240 84 240 Q 85.5 240 85.5 238.5 L 85.5 200 Z" fill="#e2f3d8" stroke="#9dcb8a" stroke-width="0.8"/><path d="M 98.5 200 L 98.5 236.5 Q 98.5 238 100 238 Q 101.5 238 101.5 236.5 L 101.5 200 Z" fill="#e2f3d8" stroke="#9dcb8a" stroke-width="0.8"/><path d="M 110.5 200 L 110.5 234.5 Q 110.5 236 112 236 Q 113.5 236 113.5 234.5 L 113.5 200 Z" fill="#e2f3d8" stroke="#9dcb8a" stroke-width="0.8"/><path d="M 39.0 280 L 39.0 250.5 Q 39.0 249 40.5 249 Q 42.0 249 42.0 250.5 L 42.0 280 Z" fill="#e2f3d8" stroke="#9dcb8a" stroke-width="0.8"/><path d="M 60.0 280 L 60.0 247.5 Q 60.0 246 61.5 246 Q 63.0 246 63.0 247.5 L 63.0 280 Z" fill="#e2f3d8" stroke="#9dcb8a" stroke-width="0.8"/><path d="M 76.5 280 L 76.5 249.5 Q 76.5 248 78 248 Q 79.5 248 79.5 249.5 L 79.5 280 Z" fill="#e2f3d8" stroke="#9dcb8a" stroke-width="0.8"/><path d="M 91.5 280 L 91.5 248.5 Q 91.5 247 93 247 Q 94.5 247 94.5 248.5 L 94.5 280 Z" fill="#e2f3d8" stroke="#9dcb8a" stroke-width="0.8"/><path d="M 106.5 280 L 106.5 249.5 Q 106.5 248 108 248 Q 109.5 248 109.5 249.5 L 109.5 280 Z" fill="#e2f3d8" stroke="#9dcb8a" stroke-width="0.8"/></g>
<text x="72.20" y="233.40" font-size="10.5" text-anchor="middle" fill="#1a1a1a">MitoProteome</text>
<text x="72.20" y="247.00" font-size="10.5" text-anchor="middle" fill="#1a1a1a">MitoCarta</text>
<text x="72.20" y="260.40" font-size="10.5" text-anchor="middle" fill="#1a1a1a">AmiGO</text>
<line x1="139.10" y1="236.00" x2="153.70" y2="236.00" stroke="#000" stroke-width="1.35"/>
<path d="M 162.90 236.00 L 152.70 240.30 L 154.70 236.00 L 152.70 231.70 Z" fill="#000"/>
<g transform="translate(203.6,190.2) scale(1.0)" fill="#d6bf9f" fill-opacity="0.8"><path d="M -0.9,5.8 L 0.9,5.8 L 1.1,7.2 L 4.2,8.0 Q 5.3,8.6 5.4,10.5 L 5.9,23.5 L 5.0,24 L 4.3,13 L 3.9,20 L 3.8,23 L 3.1,32 L 2.7,40.5 L 3.6,42 L 1.3,42 L 1.0,32 L 0.4,23.5 L -0.4,23.5 L -1.0,32 L -1.3,42 L -3.6,42 L -2.7,40.5 L -3.1,32 L -3.8,23 L -3.9,20 L -4.3,13 L -5.0,24 L -5.9,23.5 L -5.4,10.5 Q -5.3,8.6 -4.2,8.0 L -1.1,7.2 Z"/><ellipse cx="0" cy="2.9" rx="2.1" ry="2.9"/></g>
<g transform="translate(196.6,199.1) scale(1.0)" fill="#d6bf9f" fill-opacity="0.8"><path d="M -0.9,5.8 L 0.9,5.8 L 1.1,7.2 L 4.2,8.0 Q 5.3,8.6 5.4,10.5 L 5.9,23.5 L 5.0,24 L 4.3,13 L 3.9,20 L 3.8,23 L 3.1,32 L 2.7,40.5 L 3.6,42 L 1.3,42 L 1.0,32 L 0.4,23.5 L -0.4,23.5 L -1.0,32 L -1.3,42 L -3.6,42 L -2.7,40.5 L -3.1,32 L -3.8,23 L -3.9,20 L -4.3,13 L -5.0,24 L -5.9,23.5 L -5.4,10.5 Q -5.3,8.6 -4.2,8.0 L -1.1,7.2 Z"/><ellipse cx="0" cy="2.9" rx="2.1" ry="2.9"/></g>
<g transform="translate(188.9,209.0) scale(0.99)" fill="#d6bf9f" fill-opacity="0.8"><path d="M -0.9,5.8 L 0.9,5.8 L 1.1,7.2 L 4.2,8.0 Q 5.3,8.6 5.4,10.5 L 5.9,23.5 L 5.0,24 L 4.3,13 L 3.9,20 L 3.8,23 L 3.1,32 L 2.7,40.5 L 3.6,42 L 1.3,42 L 1.0,32 L 0.4,23.5 L -0.4,23.5 L -1.0,32 L -1.3,42 L -3.6,42 L -2.7,40.5 L -3.1,32 L -3.8,23 L -3.9,20 L -4.3,13 L -5.0,24 L -5.9,23.5 L -5.4,10.5 Q -5.3,8.6 -4.2,8.0 L -1.1,7.2 Z"/><ellipse cx="0" cy="2.9" rx="2.1" ry="2.9"/></g>
<g transform="translate(183.8,223.4) scale(0.98)" fill="#d6bf9f" fill-opacity="0.8"><path d="M -0.9,5.8 L 0.9,5.8 L 1.1,7.2 L 4.2,8.0 Q 5.3,8.6 5.4,10.5 L 5.9,23.5 L 5.0,24 L 4.3,13 L 3.9,20 L 3.8,23 L 3.1,32 L 2.7,40.5 L 3.6,42 L 1.3,42 L 1.0,32 L 0.4,23.5 L -0.4,23.5 L -1.0,32 L -1.3,42 L -3.6,42 L -2.7,40.5 L -3.1,32 L -3.8,23 L -3.9,20 L -4.3,13 L -5.0,24 L -5.9,23.5 L -5.4,10.5 Q -5.3,8.6 -4.2,8.0 L -1.1,7.2 Z"/><ellipse cx="0" cy="2.9" rx="2.1" ry="2.9"/></g>
<text x="219.40" y="203.70" font-size="10.45" text-anchor="start" fill="#1a1a1a">Pan-cancer</text>
<text x="214.70" y="215.90" font-size="10.45" text-anchor="start" fill="#1a1a1a">T-cell-analysis</text>
<path d="M 224.6,223.6 L 224.8,229.5 Q 226,226.2 229.2,226.4 Q 232.8,227.6 232.4,233.6 Q 231.4,239.8 226.2,240.6 Q 222,240.4 219.6,238 Q 217.6,236.6 216,237.6 Q 214.8,238.8 215.6,240.8" fill="none" stroke="#d8806a" stroke-width="2.2" stroke-linejoin="round" stroke-linecap="round"/>
<path d="M 224.6,223.6 L 224.8,229.5 Q 226,226.2 229.2,226.4 Q 232.8,227.6 232.4,233.6 Q 231.4,239.8 226.2,240.6 Q 222,240.4 219.6,238 Q 217.6,236.6 216,237.6 Q 214.8,238.8 215.6,240.8" fill="none" stroke="#fff" stroke-width="0.9" stroke-linejoin="round" stroke-linecap="round"/>
<path d="M 256,231 Q 261,228.2 265.2,232 Q 270.2,238 269.2,245 Q 268.2,249.6 263.6,248.2 Q 260.4,246.6 261,242 Q 261.5,239 258.8,238 Q 254.8,237 255,233.4 Z" fill="none" stroke="#8b2a2a" stroke-width="1.0"/>
<path d="M 266.5,234 Q 270.2,239 269.2,245 Q 268.2,249.6 263.6,248.2 Q 261,247 260.8,243.5" fill="none" stroke="#7a1f1f" stroke-width="1.5" stroke-linecap="round"/>
<path d="M 229,253.5 Q 227.6,248.4 233,247 Q 238.5,245.6 243.6,246.4 Q 244,248.2 240,249.2 Q 236,250.2 235.2,253 Q 233.4,256.6 229,253.5 Z" fill="none" stroke="#e8a07a" stroke-width="1.6" stroke-linejoin="round" stroke-linecap="round"/>
<path d="M 229,253.5 Q 227.6,248.4 233,247 Q 238.5,245.6 243.6,246.4 Q 244,248.2 240,249.2 Q 236,250.2 235.2,253 Q 233.4,256.6 229,253.5 Z" fill="none" stroke="#fff" stroke-width="0.5" stroke-linejoin="round" stroke-linecap="round"/>
<path d="M 249,251 Q 253,249.4 255.6,253 Q 258.2,249.4 262.2,251 Q 263.2,256 260.2,260 Q 258,262.4 256.6,259 L 254.6,259 Q 253,262.4 251,260 Q 247.8,256 249,251 Z" fill="none" stroke="#f0b898" stroke-width="0.9"/>
<path d="M 199.2,265 Q 200,259.4 206,258.8 Q 212,258.2 218,257.8 Q 217.4,262 213,265.2 Q 208,271 201.2,274.6 Q 198.2,270 199.2,265 Z M 209.4,259 Q 211,263 209.8,268.6" fill="none" stroke="#c0484a" stroke-width="1.0" stroke-linejoin="round"/>
<path d="M 227,272.8 L 226.2,266.8 Q 226.2,265 228,264.8 L 239.6,263.4 Q 241.4,263.4 241.4,265.2 L 241.6,272.4 Q 241.6,274.6 239.2,275.4 Q 236,276.6 235.6,279.6" fill="none" stroke="#d89080" stroke-width="2.6" stroke-linejoin="round" stroke-linecap="round"/>
<path d="M 227,272.8 L 226.2,266.8 Q 226.2,265 228,264.8 L 239.6,263.4 Q 241.4,263.4 241.4,265.2 L 241.6,272.4 Q 241.6,274.6 239.2,275.4 Q 236,276.6 235.6,279.6" fill="none" stroke="#fff" stroke-width="1.1" stroke-linejoin="round" stroke-linecap="round"/>
<path d="M 227,272.8 Q 227.6,275 229.4,274.6" fill="none" stroke="#d89080" stroke-width="2.6" stroke-linejoin="round" stroke-linecap="round"/>
<path d="M 227,272.8 Q 227.6,275 229.4,274.6" fill="none" stroke="#fff" stroke-width="1.1" stroke-linejoin="round" stroke-linecap="round"/>
<path d="M 267.4,265.2 Q 266.6,270 265,273.4 Q 262.2,275 262.8,277.8 Q 264.2,280 266.4,279 Q 268.2,280.6 270,279 Q 272.4,280 273.8,277.6 Q 274.4,275 271.6,273.4 Q 269.2,270 268.6,265.2" fill="#f6dcd6" stroke="#d07070" stroke-width="1.0" stroke-linejoin="round"/>
<line x1="234.20" y1="290.80" x2="234.20" y2="305.30" stroke="#000" stroke-width="1.35"/>
<path d="M 234.20 314.50 L 229.90 304.30 L 234.20 306.30 L 238.50 304.30 Z" fill="#000"/>
<text x="221.00" y="335.50" font-size="10.5" text-anchor="start" fill="#1a1a1a">CD8 Tex</text>
<circle cx="240.9" cy="373.2" r="0.5" fill="#2e9a8a"/><circle cx="230.3" cy="408.7" r="0.5" fill="#8fbfd8"/><circle cx="201.8" cy="362.2" r="0.5" fill="#2e6aaa"/><circle cx="244.8" cy="375.5" r="0.5" fill="#2e9a8a"/><circle cx="207.2" cy="389.8" r="0.5" fill="#2e6aaa"/><circle cx="250.7" cy="373.7" r="0.5" fill="#c08070"/><circle cx="254.6" cy="377.9" r="0.5" fill="#c08070"/><circle cx="219.8" cy="390.1" r="0.5" fill="#3f7fb0"/><circle cx="233.1" cy="368.1" r="0.5" fill="#2e9a8a"/><circle cx="213.2" cy="389.2" r="0.5" fill="#2e6aaa"/><circle cx="239.9" cy="412.4" r="0.5" fill="#8fbfd8"/><circle cx="229.7" cy="403.3" r="0.5" fill="#3f7fb0"/><circle cx="204.4" cy="382.7" r="0.5" fill="#2e6aaa"/><circle cx="262.6" cy="389.1" r="0.5" fill="#e0a060"/><circle cx="273.2" cy="369.2" r="0.5" fill="#c08070"/><circle cx="256.1" cy="390.8" r="0.5" fill="#e0a060"/><circle cx="245.1" cy="380.1" r="0.5" fill="#2e9a8a"/><circle cx="235.0" cy="396.1" r="0.5" fill="#3f7fb0"/><circle cx="226.7" cy="396.5" r="0.5" fill="#3f7fb0"/><circle cx="202.3" cy="364.1" r="0.5" fill="#2e6aaa"/><circle cx="227.1" cy="412.1" r="0.5" fill="#8fbfd8"/><circle cx="197.7" cy="379.6" r="0.5" fill="#2e6aaa"/><circle cx="242.2" cy="413.0" r="0.5" fill="#8fbfd8"/><circle cx="216.5" cy="377.0" r="0.5" fill="#9ad070"/><circle cx="206.7" cy="362.9" r="0.5" fill="#2e6aaa"/><circle cx="212.2" cy="382.3" r="0.5" fill="#2e6aaa"/><circle cx="246.0" cy="365.2" r="0.5" fill="#c08070"/><circle cx="225.1" cy="388.6" r="0.5" fill="#3f7fb0"/><circle cx="239.0" cy="392.6" r="0.5" fill="#2e9a8a"/><circle cx="227.3" cy="375.7" r="0.5" fill="#2e9a8a"/><circle cx="199.6" cy="373.0" r="0.5" fill="#2e6aaa"/><circle cx="214.0" cy="371.7" r="0.5" fill="#9ad070"/><circle cx="234.3" cy="382.3" r="0.5" fill="#2e9a8a"/><circle cx="222.6" cy="365.4" r="0.5" fill="#9ad070"/><circle cx="214.8" cy="373.2" r="0.5" fill="#9ad070"/><circle cx="240.6" cy="405.0" r="0.5" fill="#8fbfd8"/><circle cx="221.3" cy="362.2" r="0.5" fill="#9ad070"/><circle cx="211.5" cy="384.9" r="0.5" fill="#2e6aaa"/><circle cx="214.6" cy="398.3" r="0.5" fill="#2e6aaa"/><circle cx="210.9" cy="362.5" r="0.5" fill="#9ad070"/><circle cx="249.3" cy="414.3" r="0.5" fill="#8fbfd8"/><circle cx="269.8" cy="381.9" r="0.5" fill="#e0a060"/><circle cx="252.0" cy="406.6" r="0.5" fill="#8fbfd8"/><circle cx="261.3" cy="381.8" r="0.5" fill="#e0a060"/><circle cx="223.3" cy="387.2" r="0.5" fill="#3f7fb0"/><circle cx="240.0" cy="416.9" r="0.5" fill="#8fbfd8"/><circle cx="231.2" cy="412.1" r="0.5" fill="#8fbfd8"/><circle cx="213.9" cy="367.6" r="0.5" fill="#9ad070"/><circle cx="212.9" cy="390.2" r="0.5" fill="#2e6aaa"/><circle cx="214.6" cy="377.3" r="0.5" fill="#2e6aaa"/><circle cx="223.6" cy="380.3" r="0.5" fill="#9ad070"/><circle cx="245.4" cy="414.6" r="0.5" fill="#8fbfd8"/><circle cx="230.0" cy="415.7" r="0.5" fill="#8fbfd8"/><circle cx="237.7" cy="386.0" r="0.5" fill="#2e9a8a"/><circle cx="206.4" cy="381.5" r="0.5" fill="#2e6aaa"/><circle cx="258.9" cy="387.8" r="0.5" fill="#e0a060"/><circle cx="221.0" cy="384.9" r="0.5" fill="#2e6aaa"/><circle cx="242.8" cy="405.4" r="0.5" fill="#8fbfd8"/><circle cx="213.6" cy="366.3" r="0.5" fill="#9ad070"/><circle cx="263.4" cy="384.1" r="0.5" fill="#e0a060"/><circle cx="243.4" cy="403.5" r="0.5" fill="#8fbfd8"/><circle cx="248.2" cy="383.9" r="0.5" fill="#2e9a8a"/><circle cx="238.7" cy="398.3" r="0.5" fill="#3f7fb0"/><circle cx="233.0" cy="386.1" r="0.5" fill="#2e9a8a"/><circle cx="235.4" cy="417.5" r="0.5" fill="#8fbfd8"/><circle cx="243.2" cy="417.6" r="0.5" fill="#8fbfd8"/><circle cx="201.6" cy="379.0" r="0.5" fill="#2e6aaa"/><circle cx="196.9" cy="363.5" r="0.5" fill="#2e6aaa"/><circle cx="252.7" cy="356.0" r="0.5" fill="#c08070"/><circle cx="227.8" cy="382.5" r="0.5" fill="#2e9a8a"/><circle cx="205.3" cy="378.2" r="0.5" fill="#2e6aaa"/><circle cx="239.0" cy="371.1" r="0.5" fill="#2e9a8a"/><circle cx="208.6" cy="369.5" r="0.5" fill="#2e6aaa"/><circle cx="242.6" cy="378.9" r="0.5" fill="#2e9a8a"/><circle cx="249.3" cy="384.4" r="0.5" fill="#2e9a8a"/><circle cx="200.0" cy="365.4" r="0.5" fill="#2e6aaa"/><circle cx="230.1" cy="415.2" r="0.5" fill="#8fbfd8"/><circle cx="244.2" cy="398.9" r="0.5" fill="#8fbfd8"/><circle cx="255.4" cy="377.7" r="0.5" fill="#c08070"/><circle cx="250.3" cy="406.7" r="0.5" fill="#8fbfd8"/><circle cx="233.1" cy="371.1" r="0.5" fill="#2e9a8a"/><circle cx="242.5" cy="416.4" r="0.5" fill="#8fbfd8"/><circle cx="240.1" cy="363.4" r="0.5" fill="#2e9a8a"/><circle cx="219.6" cy="368.5" r="0.5" fill="#9ad070"/><circle cx="259.6" cy="387.4" r="0.5" fill="#e0a060"/><circle cx="208.0" cy="381.6" r="0.5" fill="#2e6aaa"/><circle cx="267.8" cy="378.3" r="0.5" fill="#e0a060"/><circle cx="237.0" cy="409.3" r="0.5" fill="#8fbfd8"/><circle cx="227.3" cy="384.0" r="0.5" fill="#2e9a8a"/><circle cx="257.1" cy="394.0" r="0.5" fill="#e0a060"/><circle cx="228.4" cy="371.8" r="0.5" fill="#9ad070"/><circle cx="216.8" cy="363.7" r="0.5" fill="#9ad070"/><circle cx="217.8" cy="380.4" r="0.5" fill="#2e6aaa"/><circle cx="205.0" cy="379.3" r="0.5" fill="#2e6aaa"/><circle cx="219.4" cy="372.5" r="0.5" fill="#9ad070"/><circle cx="235.1" cy="383.7" r="0.5" fill="#2e9a8a"/><circle cx="209.1" cy="383.9" r="0.5" fill="#2e6aaa"/><circle cx="198.5" cy="375.8" r="0.5" fill="#2e6aaa"/><circle cx="218.9" cy="362.9" r="0.5" fill="#9ad070"/><circle cx="245.6" cy="385.7" r="0.5" fill="#2e9a8a"/><circle cx="261.3" cy="395.6" r="0.5" fill="#e0a060"/><circle cx="227.0" cy="370.1" r="0.5" fill="#9ad070"/><circle cx="258.8" cy="394.5" r="0.5" fill="#e0a060"/><circle cx="203.2" cy="385.3" r="0.5" fill="#2e6aaa"/><circle cx="237.9" cy="409.3" r="0.5" fill="#8fbfd8"/><circle cx="245.5" cy="413.7" r="0.5" fill="#8fbfd8"/><circle cx="254.9" cy="398.4" r="0.5" fill="#2e9a8a"/><circle cx="202.6" cy="372.8" r="0.5" fill="#2e6aaa"/><circle cx="243.1" cy="393.3" r="0.5" fill="#2e9a8a"/><circle cx="249.5" cy="397.4" r="0.5" fill="#2e9a8a"/><circle cx="237.8" cy="386.2" r="0.5" fill="#2e9a8a"/><circle cx="197.1" cy="365.4" r="0.5" fill="#2e6aaa"/><circle cx="236.9" cy="374.5" r="0.5" fill="#2e9a8a"/><circle cx="235.5" cy="397.6" r="0.5" fill="#3f7fb0"/><circle cx="262.9" cy="392.5" r="0.5" fill="#e0a060"/><circle cx="204.0" cy="364.6" r="0.5" fill="#2e6aaa"/><circle cx="260.6" cy="368.4" r="0.5" fill="#c08070"/><circle cx="195.8" cy="365.7" r="0.5" fill="#2e6aaa"/><circle cx="253.8" cy="398.3" r="0.5" fill="#2e9a8a"/><circle cx="254.2" cy="367.4" r="0.5" fill="#c08070"/><circle cx="239.1" cy="380.8" r="0.5" fill="#2e9a8a"/><circle cx="232.7" cy="365.7" r="0.5" fill="#9ad070"/><circle cx="210.0" cy="389.8" r="0.5" fill="#2e6aaa"/><circle cx="203.5" cy="385.4" r="0.5" fill="#2e6aaa"/><circle cx="267.9" cy="384.2" r="0.5" fill="#e0a060"/><circle cx="232.8" cy="368.3" r="0.5" fill="#2e9a8a"/><circle cx="203.4" cy="371.5" r="0.5" fill="#2e6aaa"/><circle cx="225.4" cy="375.3" r="0.5" fill="#9ad070"/><circle cx="224.3" cy="378.0" r="0.5" fill="#9ad070"/><circle cx="213.7" cy="365.5" r="0.5" fill="#9ad070"/><circle cx="259.6" cy="379.7" r="0.5" fill="#e0a060"/><circle cx="261.5" cy="394.6" r="0.5" fill="#e0a060"/><circle cx="234.9" cy="371.5" r="0.5" fill="#2e9a8a"/><circle cx="218.3" cy="401.9" r="0.5" fill="#3f7fb0"/><circle cx="252.3" cy="368.2" r="0.5" fill="#c08070"/><circle cx="242.9" cy="375.4" r="0.5" fill="#2e9a8a"/><circle cx="237.2" cy="361.9" r="0.5" fill="#9ad070"/><circle cx="212.7" cy="364.9" r="0.5" fill="#9ad070"/><circle cx="244.1" cy="413.3" r="0.5" fill="#8fbfd8"/><circle cx="261.2" cy="376.8" r="0.5" fill="#c08070"/><circle cx="229.3" cy="385.4" r="0.5" fill="#2e9a8a"/><circle cx="225.8" cy="371.0" r="0.5" fill="#9ad070"/><circle cx="195.9" cy="366.4" r="0.5" fill="#2e6aaa"/><circle cx="237.8" cy="393.5" r="0.5" fill="#3f7fb0"/><circle cx="215.7" cy="364.1" r="0.5" fill="#9ad070"/><circle cx="228.0" cy="379.3" r="0.5" fill="#2e9a8a"/><circle cx="239.6" cy="397.5" r="0.5" fill="#2e9a8a"/><circle cx="251.5" cy="403.9" r="0.5" fill="#8fbfd8"/><circle cx="233.4" cy="387.5" r="0.5" fill="#2e9a8a"/><circle cx="251.3" cy="368.4" r="0.5" fill="#c08070"/><circle cx="202.2" cy="364.4" r="0.5" fill="#2e6aaa"/><circle cx="250.4" cy="398.8" r="0.5" fill="#2e9a8a"/><circle cx="239.8" cy="389.9" r="0.5" fill="#2e9a8a"/><circle cx="226.9" cy="362.2" r="0.5" fill="#9ad070"/><circle cx="218.6" cy="380.5" r="0.5" fill="#2e6aaa"/><circle cx="212.3" cy="364.0" r="0.5" fill="#9ad070"/><circle cx="237.3" cy="396.9" r="0.5" fill="#3f7fb0"/><circle cx="229.9" cy="364.8" r="0.5" fill="#9ad070"/><circle cx="222.1" cy="377.4" r="0.5" fill="#9ad070"/><circle cx="254.8" cy="360.3" r="0.5" fill="#c08070"/><circle cx="211.2" cy="377.1" r="0.5" fill="#2e6aaa"/><circle cx="203.9" cy="375.3" r="0.5" fill="#2e6aaa"/><circle cx="195.7" cy="375.3" r="0.5" fill="#2e6aaa"/><circle cx="278.5" cy="370.4" r="0.5" fill="#c08070"/><circle cx="253.1" cy="374.2" r="0.5" fill="#c08070"/><circle cx="225.5" cy="370.5" r="0.5" fill="#9ad070"/><circle cx="216.6" cy="372.1" r="0.5" fill="#9ad070"/><circle cx="223.9" cy="408.3" r="0.5" fill="#3f7fb0"/><circle cx="268.1" cy="378.3" r="0.5" fill="#e0a060"/><circle cx="208.3" cy="373.0" r="0.5" fill="#2e6aaa"/><circle cx="229.0" cy="407.5" r="0.5" fill="#8fbfd8"/><circle cx="222.2" cy="366.0" r="0.5" fill="#9ad070"/><circle cx="220.1" cy="366.2" r="0.5" fill="#9ad070"/><circle cx="212.2" cy="381.6" r="0.5" fill="#2e6aaa"/><circle cx="226.7" cy="364.3" r="0.5" fill="#9ad070"/><circle cx="230.8" cy="383.0" r="0.5" fill="#2e9a8a"/><circle cx="247.7" cy="370.2" r="0.5" fill="#c08070"/><circle cx="220.4" cy="372.9" r="0.5" fill="#9ad070"/><circle cx="199.2" cy="383.4" r="0.5" fill="#2e6aaa"/><circle cx="257.4" cy="379.4" r="0.5" fill="#e0a060"/><circle cx="212.2" cy="377.1" r="0.5" fill="#2e6aaa"/><circle cx="248.9" cy="396.9" r="0.5" fill="#2e9a8a"/><circle cx="253.1" cy="354.3" r="0.5" fill="#c08070"/><circle cx="243.9" cy="373.7" r="0.5" fill="#2e9a8a"/><circle cx="213.5" cy="363.9" r="0.5" fill="#9ad070"/><circle cx="244.9" cy="370.1" r="0.5" fill="#2e9a8a"/><circle cx="238.2" cy="362.8" r="0.5" fill="#2e9a8a"/><circle cx="235.1" cy="408.1" r="0.5" fill="#8fbfd8"/><circle cx="272.3" cy="379.6" r="0.5" fill="#e0a060"/><circle cx="246.6" cy="392.7" r="0.5" fill="#2e9a8a"/><circle cx="210.7" cy="373.4" r="0.5" fill="#2e6aaa"/><circle cx="214.2" cy="391.2" r="0.5" fill="#2e6aaa"/><circle cx="251.9" cy="360.7" r="0.5" fill="#c08070"/><circle cx="254.4" cy="359.3" r="0.5" fill="#c08070"/><circle cx="265.6" cy="387.2" r="0.5" fill="#e0a060"/><circle cx="227.6" cy="387.4" r="0.5" fill="#3f7fb0"/><circle cx="228.9" cy="366.8" r="0.5" fill="#9ad070"/><circle cx="219.7" cy="388.6" r="0.5" fill="#2e6aaa"/><circle cx="223.9" cy="377.1" r="0.5" fill="#9ad070"/><circle cx="224.6" cy="360.2" r="0.5" fill="#9ad070"/><circle cx="230.3" cy="408.2" r="0.5" fill="#8fbfd8"/><circle cx="228.6" cy="413.0" r="0.5" fill="#8fbfd8"/><circle cx="225.2" cy="383.8" r="0.5" fill="#2e9a8a"/><circle cx="203.9" cy="366.8" r="0.5" fill="#2e6aaa"/><circle cx="239.5" cy="416.3" r="0.5" fill="#8fbfd8"/><circle cx="200.3" cy="382.8" r="0.5" fill="#2e6aaa"/><circle cx="228.4" cy="410.2" r="0.5" fill="#8fbfd8"/><circle cx="210.7" cy="375.8" r="0.5" fill="#2e6aaa"/><circle cx="239.2" cy="374.5" r="0.5" fill="#2e9a8a"/><circle cx="201.7" cy="364.0" r="0.5" fill="#2e6aaa"/><circle cx="247.0" cy="387.4" r="0.5" fill="#2e9a8a"/><circle cx="249.6" cy="368.6" r="0.5" fill="#c08070"/><circle cx="229.9" cy="389.9" r="0.5" fill="#3f7fb0"/><circle cx="230.4" cy="395.7" r="0.5" fill="#3f7fb0"/><circle cx="232.4" cy="378.8" r="0.5" fill="#2e9a8a"/><circle cx="236.5" cy="363.1" r="0.5" fill="#9ad070"/><circle cx="202.2" cy="378.2" r="0.5" fill="#2e6aaa"/><circle cx="198.7" cy="379.0" r="0.5" fill="#2e6aaa"/><circle cx="237.9" cy="374.1" r="0.5" fill="#2e9a8a"/><circle cx="236.7" cy="418.7" r="0.5" fill="#8fbfd8"/><circle cx="196.2" cy="372.0" r="0.5" fill="#2e6aaa"/><circle cx="237.7" cy="415.8" r="0.5" fill="#8fbfd8"/><circle cx="209.8" cy="365.2" r="0.5" fill="#2e6aaa"/><circle cx="238.1" cy="369.6" r="0.5" fill="#2e9a8a"/><circle cx="200.9" cy="385.9" r="0.5" fill="#2e6aaa"/><circle cx="250.5" cy="372.7" r="0.5" fill="#c08070"/><circle cx="245.1" cy="413.0" r="0.5" fill="#8fbfd8"/><circle cx="249.8" cy="375.4" r="0.5" fill="#c08070"/><circle cx="224.2" cy="403.9" r="0.5" fill="#3f7fb0"/><circle cx="245.7" cy="396.1" r="0.5" fill="#2e9a8a"/><circle cx="248.5" cy="378.3" r="0.5" fill="#2e9a8a"/><circle cx="238.7" cy="414.0" r="0.5" fill="#8fbfd8"/><circle cx="202.5" cy="362.5" r="0.5" fill="#2e6aaa"/><circle cx="200.1" cy="372.5" r="0.5" fill="#2e6aaa"/><circle cx="211.3" cy="389.9" r="0.5" fill="#2e6aaa"/><circle cx="246.0" cy="360.7" r="0.5" fill="#c08070"/><circle cx="249.3" cy="381.6" r="0.5" fill="#2e9a8a"/><circle cx="228.2" cy="365.3" r="0.5" fill="#9ad070"/><circle cx="243.4" cy="372.0" r="0.5" fill="#2e9a8a"/><circle cx="251.3" cy="379.2" r="0.5" fill="#2e9a8a"/><circle cx="228.6" cy="363.3" r="0.5" fill="#9ad070"/><circle cx="209.0" cy="391.8" r="0.5" fill="#2e6aaa"/><circle cx="238.2" cy="394.4" r="0.5" fill="#3f7fb0"/><circle cx="219.4" cy="368.1" r="0.5" fill="#9ad070"/><circle cx="260.8" cy="380.8" r="0.5" fill="#e0a060"/><circle cx="260.5" cy="379.8" r="0.5" fill="#e0a060"/><circle cx="221.9" cy="402.7" r="0.5" fill="#3f7fb0"/><circle cx="257.6" cy="365.5" r="0.5" fill="#c08070"/><circle cx="242.6" cy="378.6" r="0.5" fill="#2e9a8a"/><circle cx="264.9" cy="385.3" r="0.5" fill="#e0a060"/><circle cx="215.2" cy="394.4" r="0.5" fill="#2e6aaa"/><circle cx="214.7" cy="363.2" r="0.5" fill="#9ad070"/><circle cx="260.9" cy="370.2" r="0.5" fill="#c08070"/><circle cx="273.6" cy="370.3" r="0.5" fill="#c08070"/><circle cx="249.9" cy="398.3" r="0.5" fill="#2e9a8a"/><circle cx="234.6" cy="409.7" r="0.5" fill="#8fbfd8"/><circle cx="231.5" cy="400.8" r="0.5" fill="#3f7fb0"/><circle cx="244.2" cy="368.7" r="0.5" fill="#2e9a8a"/><circle cx="210.1" cy="392.9" r="0.5" fill="#2e6aaa"/><circle cx="255.8" cy="393.8" r="0.5" fill="#e0a060"/><circle cx="256.2" cy="401.7" r="0.5" fill="#8fbfd8"/><circle cx="224.5" cy="408.0" r="0.5" fill="#3f7fb0"/><circle cx="250.2" cy="408.5" r="0.5" fill="#8fbfd8"/><circle cx="250.0" cy="367.1" r="0.5" fill="#c08070"/><circle cx="220.3" cy="377.6" r="0.5" fill="#9ad070"/><circle cx="216.8" cy="400.1" r="0.5" fill="#3f7fb0"/><circle cx="225.0" cy="369.7" r="0.5" fill="#9ad070"/><circle cx="231.5" cy="404.5" r="0.5" fill="#3f7fb0"/><circle cx="222.9" cy="399.3" r="0.5" fill="#3f7fb0"/><circle cx="236.7" cy="406.4" r="0.5" fill="#8fbfd8"/><circle cx="207.5" cy="383.1" r="0.5" fill="#2e6aaa"/><circle cx="217.0" cy="361.5" r="0.5" fill="#9ad070"/><circle cx="256.5" cy="383.4" r="0.5" fill="#e0a060"/><circle cx="256.2" cy="405.6" r="0.5" fill="#8fbfd8"/><circle cx="249.7" cy="372.4" r="0.5" fill="#c08070"/><circle cx="228.1" cy="375.4" r="0.5" fill="#2e9a8a"/><circle cx="209.6" cy="365.3" r="0.5" fill="#2e6aaa"/><circle cx="226.0" cy="413.1" r="0.5" fill="#8fbfd8"/><circle cx="212.2" cy="380.5" r="0.5" fill="#2e6aaa"/><circle cx="240.5" cy="403.1" r="0.5" fill="#8fbfd8"/><circle cx="261.5" cy="394.8" r="0.5" fill="#e0a060"/><circle cx="223.1" cy="370.2" r="0.5" fill="#9ad070"/><circle cx="252.9" cy="402.1" r="0.5" fill="#8fbfd8"/><circle cx="206.1" cy="378.8" r="0.5" fill="#2e6aaa"/><circle cx="263.5" cy="389.6" r="0.5" fill="#e0a060"/><circle cx="202.0" cy="380.6" r="0.5" fill="#2e6aaa"/><circle cx="208.2" cy="368.2" r="0.5" fill="#2e6aaa"/><circle cx="213.5" cy="370.1" r="0.5" fill="#9ad070"/><circle cx="199.7" cy="374.6" r="0.5" fill="#2e6aaa"/><circle cx="259.7" cy="378.5" r="0.5" fill="#e0a060"/><circle cx="227.9" cy="405.9" r="0.5" fill="#3f7fb0"/><circle cx="255.9" cy="383.5" r="0.5" fill="#e0a060"/><circle cx="250.1" cy="380.7" r="0.5" fill="#2e9a8a"/><circle cx="228.4" cy="402.1" r="0.5" fill="#3f7fb0"/><circle cx="244.5" cy="402.7" r="0.5" fill="#8fbfd8"/><circle cx="230.0" cy="362.6" r="0.5" fill="#9ad070"/><circle cx="250.9" cy="380.0" r="0.5" fill="#2e9a8a"/><circle cx="219.7" cy="393.4" r="0.5" fill="#3f7fb0"/><circle cx="199.3" cy="377.3" r="0.5" fill="#2e6aaa"/><circle cx="249.8" cy="364.3" r="0.5" fill="#c08070"/><circle cx="230.2" cy="380.0" r="0.5" fill="#2e9a8a"/><circle cx="249.0" cy="376.5" r="0.5" fill="#2e9a8a"/><circle cx="263.9" cy="374.9" r="0.5" fill="#c08070"/><circle cx="241.4" cy="400.2" r="0.5" fill="#8fbfd8"/><circle cx="238.7" cy="394.2" r="0.5" fill="#2e9a8a"/><circle cx="268.8" cy="385.2" r="0.5" fill="#e0a060"/><circle cx="227.3" cy="403.7" r="0.5" fill="#3f7fb0"/><circle cx="216.1" cy="375.8" r="0.5" fill="#9ad070"/><circle cx="230.0" cy="398.8" r="0.5" fill="#3f7fb0"/><circle cx="223.5" cy="365.4" r="0.5" fill="#9ad070"/><circle cx="227.2" cy="361.3" r="0.5" fill="#9ad070"/><circle cx="234.6" cy="388.3" r="0.5" fill="#3f7fb0"/><circle cx="223.5" cy="394.2" r="0.5" fill="#3f7fb0"/><circle cx="234.5" cy="367.7" r="0.5" fill="#2e9a8a"/><circle cx="269.2" cy="372.3" r="0.5" fill="#c08070"/><circle cx="225.7" cy="364.5" r="0.5" fill="#9ad070"/><circle cx="216.7" cy="363.9" r="0.5" fill="#9ad070"/><circle cx="218.7" cy="381.9" r="0.5" fill="#2e6aaa"/><circle cx="230.7" cy="394.1" r="0.5" fill="#3f7fb0"/><circle cx="252.6" cy="372.9" r="0.5" fill="#c08070"/><circle cx="252.3" cy="364.3" r="0.5" fill="#c08070"/><circle cx="247.8" cy="405.2" r="0.5" fill="#8fbfd8"/><circle cx="240.4" cy="402.1" r="0.5" fill="#8fbfd8"/><circle cx="231.7" cy="413.0" r="0.5" fill="#8fbfd8"/><circle cx="242.7" cy="365.4" r="0.5" fill="#2e9a8a"/><circle cx="236.7" cy="383.4" r="0.5" fill="#2e9a8a"/><circle cx="241.3" cy="411.4" r="0.5" fill="#8fbfd8"/><circle cx="234.5" cy="388.3" r="0.5" fill="#3f7fb0"/><circle cx="253.2" cy="409.7" r="0.5" fill="#8fbfd8"/><circle cx="225.6" cy="377.2" r="0.5" fill="#9ad070"/><circle cx="250.5" cy="394.0" r="0.5" fill="#2e9a8a"/><circle cx="238.5" cy="382.3" r="0.5" fill="#2e9a8a"/><circle cx="258.2" cy="393.1" r="0.5" fill="#e0a060"/><circle cx="224.8" cy="381.5" r="0.5" fill="#2e9a8a"/><circle cx="239.9" cy="404.3" r="0.5" fill="#8fbfd8"/><circle cx="210.0" cy="378.5" r="0.5" fill="#2e6aaa"/><circle cx="230.1" cy="387.7" r="0.5" fill="#3f7fb0"/><circle cx="268.6" cy="376.1" r="0.5" fill="#e0a060"/><circle cx="237.9" cy="365.9" r="0.5" fill="#2e9a8a"/><circle cx="252.2" cy="406.0" r="0.5" fill="#8fbfd8"/><circle cx="221.4" cy="369.4" r="0.5" fill="#9ad070"/><circle cx="218.4" cy="390.2" r="0.5" fill="#2e6aaa"/><circle cx="250.3" cy="405.4" r="0.5" fill="#8fbfd8"/><circle cx="194.7" cy="368.1" r="0.5" fill="#2e6aaa"/><circle cx="252.5" cy="405.8" r="0.5" fill="#8fbfd8"/><circle cx="248.6" cy="393.3" r="0.5" fill="#2e9a8a"/><circle cx="256.2" cy="390.9" r="0.5" fill="#e0a060"/><circle cx="254.7" cy="361.4" r="0.5" fill="#c08070"/><circle cx="253.4" cy="380.3" r="0.5" fill="#2e9a8a"/><circle cx="252.3" cy="373.4" r="0.5" fill="#c08070"/><circle cx="243.4" cy="364.9" r="0.5" fill="#c08070"/><circle cx="218.7" cy="377.5" r="0.5" fill="#9ad070"/><circle cx="220.3" cy="378.2" r="0.5" fill="#9ad070"/><circle cx="267.0" cy="389.3" r="0.5" fill="#e0a060"/><circle cx="251.2" cy="361.3" r="0.5" fill="#c08070"/><circle cx="249.7" cy="399.6" r="0.5" fill="#8fbfd8"/><circle cx="233.8" cy="416.8" r="0.5" fill="#8fbfd8"/><circle cx="219.6" cy="401.2" r="0.5" fill="#3f7fb0"/><circle cx="224.9" cy="389.3" r="0.5" fill="#3f7fb0"/><circle cx="231.7" cy="397.1" r="0.5" fill="#3f7fb0"/><circle cx="224.5" cy="394.7" r="0.5" fill="#3f7fb0"/><circle cx="249.8" cy="377.2" r="0.5" fill="#2e9a8a"/><circle cx="226.6" cy="405.5" r="0.5" fill="#3f7fb0"/><circle cx="243.8" cy="367.5" r="0.5" fill="#2e9a8a"/><circle cx="221.5" cy="391.6" r="0.5" fill="#3f7fb0"/><circle cx="247.1" cy="368.8" r="0.5" fill="#c08070"/><circle cx="230.7" cy="413.4" r="0.5" fill="#8fbfd8"/><circle cx="225.8" cy="397.7" r="0.5" fill="#3f7fb0"/><circle cx="247.2" cy="414.0" r="0.5" fill="#8fbfd8"/><circle cx="230.1" cy="390.2" r="0.5" fill="#3f7fb0"/><circle cx="244.3" cy="366.1" r="0.5" fill="#c08070"/><circle cx="242.6" cy="406.4" r="0.5" fill="#8fbfd8"/><circle cx="247.7" cy="397.2" r="0.5" fill="#2e9a8a"/><circle cx="234.2" cy="360.9" r="0.5" fill="#9ad070"/><circle cx="265.2" cy="380.4" r="0.5" fill="#e0a060"/><circle cx="245.1" cy="414.1" r="0.5" fill="#8fbfd8"/><circle cx="235.3" cy="390.4" r="0.5" fill="#3f7fb0"/><circle cx="224.5" cy="388.5" r="0.5" fill="#3f7fb0"/><circle cx="228.2" cy="384.8" r="0.5" fill="#2e9a8a"/><circle cx="246.7" cy="371.6" r="0.5" fill="#2e9a8a"/><circle cx="272.3" cy="382.4" r="0.5" fill="#e0a060"/><circle cx="243.9" cy="365.1" r="0.5" fill="#c08070"/><circle cx="264.0" cy="377.8" r="0.5" fill="#e0a060"/><circle cx="243.0" cy="412.0" r="0.5" fill="#8fbfd8"/><circle cx="233.5" cy="417.9" r="0.5" fill="#8fbfd8"/><circle cx="246.8" cy="375.6" r="0.5" fill="#2e9a8a"/><circle cx="214.4" cy="388.5" r="0.5" fill="#2e6aaa"/><circle cx="253.6" cy="375.3" r="0.5" fill="#c08070"/><circle cx="214.3" cy="372.1" r="0.5" fill="#9ad070"/><circle cx="254.3" cy="368.0" r="0.5" fill="#c08070"/><circle cx="246.2" cy="403.4" r="0.5" fill="#8fbfd8"/><circle cx="200.0" cy="369.9" r="0.5" fill="#2e6aaa"/><circle cx="203.3" cy="379.4" r="0.5" fill="#2e6aaa"/><circle cx="233.0" cy="371.2" r="0.5" fill="#2e9a8a"/><circle cx="268.2" cy="381.8" r="0.5" fill="#e0a060"/><circle cx="257.8" cy="387.6" r="0.5" fill="#e0a060"/><circle cx="215.3" cy="376.7" r="0.5" fill="#2e6aaa"/><circle cx="204.8" cy="365.9" r="0.5" fill="#2e6aaa"/><circle cx="269.8" cy="370.8" r="0.5" fill="#c08070"/><circle cx="205.9" cy="382.8" r="0.5" fill="#2e6aaa"/><circle cx="253.5" cy="361.3" r="0.5" fill="#c08070"/><circle cx="235.4" cy="367.0" r="0.5" fill="#2e9a8a"/><circle cx="199.3" cy="367.3" r="0.5" fill="#2e6aaa"/><circle cx="266.7" cy="371.2" r="0.5" fill="#c08070"/><circle cx="269.1" cy="385.5" r="0.5" fill="#e0a060"/><circle cx="207.7" cy="378.5" r="0.5" fill="#2e6aaa"/><circle cx="257.6" cy="360.1" r="0.5" fill="#c08070"/><circle cx="247.8" cy="383.2" r="0.5" fill="#2e9a8a"/><circle cx="248.2" cy="399.5" r="0.5" fill="#8fbfd8"/><circle cx="267.1" cy="389.9" r="0.5" fill="#e0a060"/><circle cx="259.6" cy="376.4" r="0.5" fill="#c08070"/><circle cx="267.0" cy="370.8" r="0.5" fill="#c08070"/><circle cx="225.3" cy="390.8" r="0.5" fill="#3f7fb0"/><circle cx="232.3" cy="384.7" r="0.5" fill="#2e9a8a"/><circle cx="220.5" cy="399.8" r="0.5" fill="#3f7fb0"/><circle cx="226.2" cy="402.9" r="0.5" fill="#3f7fb0"/><circle cx="238.8" cy="385.8" r="0.5" fill="#2e9a8a"/><circle cx="256.4" cy="360.0" r="0.5" fill="#c08070"/><circle cx="244.8" cy="385.3" r="0.5" fill="#2e9a8a"/><circle cx="256.8" cy="352.9" r="0.5" fill="#c08070"/><circle cx="236.9" cy="383.6" r="0.5" fill="#2e9a8a"/><circle cx="246.2" cy="411.3" r="0.5" fill="#8fbfd8"/><circle cx="204.0" cy="389.1" r="0.5" fill="#2e6aaa"/><circle cx="226.9" cy="377.4" r="0.5" fill="#2e9a8a"/><circle cx="269.8" cy="385.5" r="0.5" fill="#e0a060"/><circle cx="263.8" cy="371.1" r="0.5" fill="#c08070"/><circle cx="212.8" cy="370.8" r="0.5" fill="#2e6aaa"/><circle cx="213.7" cy="377.5" r="0.5" fill="#2e6aaa"/><circle cx="250.1" cy="373.1" r="0.5" fill="#c08070"/><circle cx="231.1" cy="383.9" r="0.5" fill="#2e9a8a"/><circle cx="250.9" cy="365.5" r="0.5" fill="#c08070"/><circle cx="254.5" cy="366.1" r="0.5" fill="#c08070"/><circle cx="241.5" cy="416.2" r="0.5" fill="#8fbfd8"/><circle cx="249.0" cy="364.3" r="0.5" fill="#c08070"/><circle cx="239.4" cy="378.4" r="0.5" fill="#2e9a8a"/><circle cx="219.0" cy="394.9" r="0.5" fill="#3f7fb0"/><circle cx="215.5" cy="380.9" r="0.5" fill="#2e6aaa"/><circle cx="217.9" cy="376.3" r="0.5" fill="#9ad070"/><circle cx="217.4" cy="363.7" r="0.5" fill="#9ad070"/><circle cx="244.2" cy="395.1" r="0.5" fill="#2e9a8a"/><circle cx="233.8" cy="387.2" r="0.5" fill="#2e9a8a"/><circle cx="248.2" cy="381.1" r="0.5" fill="#2e9a8a"/><circle cx="219.5" cy="363.7" r="0.5" fill="#9ad070"/><circle cx="211.1" cy="384.5" r="0.5" fill="#2e6aaa"/><circle cx="226.4" cy="390.1" r="0.5" fill="#3f7fb0"/><circle cx="242.9" cy="382.8" r="0.5" fill="#2e9a8a"/><circle cx="272.8" cy="378.9" r="0.5" fill="#e0a060"/><circle cx="195.9" cy="374.9" r="0.5" fill="#2e6aaa"/><circle cx="231.8" cy="401.6" r="0.5" fill="#3f7fb0"/><circle cx="200.4" cy="362.3" r="0.5" fill="#2e6aaa"/><circle cx="204.7" cy="371.0" r="0.5" fill="#2e6aaa"/><circle cx="223.5" cy="397.0" r="0.5" fill="#3f7fb0"/><circle cx="248.5" cy="410.4" r="0.5" fill="#8fbfd8"/><circle cx="268.0" cy="384.9" r="0.5" fill="#e0a060"/><circle cx="260.2" cy="402.2" r="0.5" fill="#e0a060"/><circle cx="262.2" cy="381.6" r="0.5" fill="#e0a060"/><circle cx="262.7" cy="390.1" r="0.5" fill="#e0a060"/><circle cx="237.3" cy="419.1" r="0.5" fill="#8fbfd8"/><circle cx="244.3" cy="377.2" r="0.5" fill="#2e9a8a"/><circle cx="247.7" cy="374.2" r="0.5" fill="#2e9a8a"/><circle cx="233.0" cy="380.3" r="0.5" fill="#2e9a8a"/><circle cx="227.1" cy="387.8" r="0.5" fill="#3f7fb0"/><circle cx="226.5" cy="369.8" r="0.5" fill="#9ad070"/><circle cx="237.5" cy="379.2" r="0.5" fill="#2e9a8a"/><circle cx="207.5" cy="368.4" r="0.5" fill="#2e6aaa"/><circle cx="203.8" cy="389.3" r="0.5" fill="#2e6aaa"/><circle cx="277.4" cy="369.9" r="0.5" fill="#c08070"/><circle cx="230.5" cy="415.1" r="0.5" fill="#8fbfd8"/><circle cx="243.7" cy="383.3" r="0.5" fill="#2e9a8a"/><circle cx="239.2" cy="384.8" r="0.5" fill="#2e9a8a"/><circle cx="255.1" cy="375.0" r="0.5" fill="#c08070"/><circle cx="224.0" cy="390.8" r="0.5" fill="#3f7fb0"/><circle cx="254.3" cy="385.4" r="0.5" fill="#2e9a8a"/><circle cx="199.4" cy="373.8" r="0.5" fill="#2e6aaa"/><circle cx="228.1" cy="388.2" r="0.5" fill="#3f7fb0"/><circle cx="244.5" cy="412.7" r="0.5" fill="#8fbfd8"/><circle cx="231.8" cy="393.1" r="0.5" fill="#3f7fb0"/><circle cx="240.4" cy="407.8" r="0.5" fill="#8fbfd8"/><circle cx="206.2" cy="369.5" r="0.5" fill="#2e6aaa"/><circle cx="274.4" cy="377.4" r="0.5" fill="#e0a060"/><circle cx="204.9" cy="367.3" r="0.5" fill="#2e6aaa"/><circle cx="238.6" cy="383.9" r="0.5" fill="#2e9a8a"/><circle cx="249.9" cy="391.4" r="0.5" fill="#2e9a8a"/><circle cx="229.1" cy="405.6" r="0.5" fill="#3f7fb0"/><circle cx="219.1" cy="398.2" r="0.5" fill="#3f7fb0"/><circle cx="253.5" cy="360.1" r="0.5" fill="#c08070"/><circle cx="237.3" cy="387.6" r="0.5" fill="#2e9a8a"/><circle cx="215.3" cy="394.8" r="0.5" fill="#2e6aaa"/><circle cx="244.6" cy="376.7" r="0.5" fill="#2e9a8a"/><circle cx="239.6" cy="408.4" r="0.5" fill="#8fbfd8"/><circle cx="248.2" cy="407.1" r="0.5" fill="#8fbfd8"/><circle cx="263.2" cy="369.9" r="0.5" fill="#c08070"/><circle cx="258.0" cy="372.2" r="0.5" fill="#c08070"/><circle cx="206.1" cy="365.5" r="0.5" fill="#2e6aaa"/><circle cx="245.3" cy="371.9" r="0.5" fill="#2e9a8a"/><circle cx="232.7" cy="374.7" r="0.5" fill="#2e9a8a"/><circle cx="231.8" cy="392.8" r="0.5" fill="#3f7fb0"/><circle cx="267.5" cy="368.4" r="0.5" fill="#c08070"/><circle cx="237.1" cy="418.1" r="0.5" fill="#8fbfd8"/><circle cx="213.1" cy="375.0" r="0.5" fill="#2e6aaa"/><circle cx="236.0" cy="406.0" r="0.5" fill="#8fbfd8"/><circle cx="240.7" cy="374.7" r="0.5" fill="#2e9a8a"/><circle cx="223.4" cy="363.9" r="0.5" fill="#9ad070"/><circle cx="208.2" cy="366.8" r="0.5" fill="#2e6aaa"/><circle cx="253.1" cy="371.3" r="0.5" fill="#c08070"/><circle cx="198.8" cy="365.8" r="0.5" fill="#2e6aaa"/><circle cx="232.1" cy="409.4" r="0.5" fill="#8fbfd8"/><circle cx="223.5" cy="400.6" r="0.5" fill="#3f7fb0"/><circle cx="238.0" cy="362.5" r="0.5" fill="#2e9a8a"/><circle cx="257.1" cy="365.1" r="0.5" fill="#c08070"/><circle cx="225.0" cy="364.0" r="0.5" fill="#9ad070"/><circle cx="247.8" cy="361.4" r="0.5" fill="#c08070"/><circle cx="238.7" cy="386.8" r="0.5" fill="#2e9a8a"/><circle cx="226.6" cy="395.6" r="0.5" fill="#3f7fb0"/><circle cx="243.9" cy="368.9" r="0.5" fill="#2e9a8a"/><circle cx="220.5" cy="396.0" r="0.5" fill="#3f7fb0"/><circle cx="224.3" cy="383.5" r="0.5" fill="#2e9a8a"/><circle cx="219.6" cy="362.4" r="0.5" fill="#9ad070"/><circle cx="216.8" cy="376.1" r="0.5" fill="#9ad070"/><circle cx="202.6" cy="366.3" r="0.5" fill="#2e6aaa"/><circle cx="253.0" cy="372.1" r="0.5" fill="#c08070"/><circle cx="229.2" cy="395.7" r="0.5" fill="#3f7fb0"/><circle cx="256.4" cy="364.1" r="0.5" fill="#c08070"/><circle cx="270.4" cy="372.1" r="0.5" fill="#c08070"/><circle cx="249.7" cy="359.0" r="0.5" fill="#c08070"/><circle cx="259.7" cy="399.9" r="0.5" fill="#e0a060"/><circle cx="218.8" cy="374.3" r="0.5" fill="#9ad070"/><circle cx="250.6" cy="358.8" r="0.5" fill="#c08070"/><circle cx="231.3" cy="397.7" r="0.5" fill="#3f7fb0"/><circle cx="194.5" cy="363.8" r="0.5" fill="#2e6aaa"/><circle cx="256.0" cy="375.3" r="0.5" fill="#c08070"/><circle cx="249.7" cy="379.9" r="0.5" fill="#2e9a8a"/><circle cx="230.7" cy="384.4" r="0.5" fill="#2e9a8a"/><circle cx="256.8" cy="407.0" r="0.5" fill="#8fbfd8"/><circle cx="214.8" cy="387.1" r="0.5" fill="#2e6aaa"/><circle cx="241.7" cy="364.2" r="0.5" fill="#2e9a8a"/><circle cx="195.6" cy="372.6" r="0.5" fill="#2e6aaa"/><circle cx="229.1" cy="360.5" r="0.5" fill="#9ad070"/><circle cx="257.2" cy="396.6" r="0.5" fill="#e0a060"/><circle cx="212.6" cy="363.6" r="0.5" fill="#9ad070"/><circle cx="239.0" cy="379.3" r="0.5" fill="#2e9a8a"/><circle cx="203.5" cy="388.4" r="0.5" fill="#2e6aaa"/><circle cx="242.1" cy="403.6" r="0.5" fill="#8fbfd8"/><circle cx="246.9" cy="380.5" r="0.5" fill="#2e9a8a"/><circle cx="200.9" cy="367.3" r="0.5" fill="#2e6aaa"/><circle cx="224.2" cy="360.9" r="0.5" fill="#9ad070"/><circle cx="195.7" cy="366.6" r="0.5" fill="#2e6aaa"/><circle cx="220.8" cy="381.1" r="0.5" fill="#2e6aaa"/><circle cx="200.3" cy="382.6" r="0.5" fill="#2e6aaa"/><circle cx="252.0" cy="364.4" r="0.5" fill="#c08070"/><circle cx="268.4" cy="369.7" r="0.5" fill="#c08070"/><circle cx="225.0" cy="387.4" r="0.5" fill="#3f7fb0"/><circle cx="225.1" cy="409.0" r="0.5" fill="#8fbfd8"/><circle cx="243.9" cy="393.4" r="0.5" fill="#2e9a8a"/><circle cx="237.0" cy="383.5" r="0.5" fill="#2e9a8a"/><circle cx="205.0" cy="368.1" r="0.5" fill="#2e6aaa"/><circle cx="255.4" cy="357.6" r="0.5" fill="#c08070"/><circle cx="264.8" cy="377.8" r="0.5" fill="#e0a060"/><circle cx="216.9" cy="395.9" r="0.5" fill="#3f7fb0"/><circle cx="238.9" cy="377.4" r="0.5" fill="#2e9a8a"/><circle cx="222.2" cy="378.8" r="0.5" fill="#9ad070"/><circle cx="253.3" cy="408.6" r="0.5" fill="#8fbfd8"/><circle cx="218.1" cy="379.1" r="0.5" fill="#2e6aaa"/><circle cx="243.5" cy="371.8" r="0.5" fill="#2e9a8a"/><circle cx="220.8" cy="380.5" r="0.5" fill="#9ad070"/><circle cx="254.3" cy="391.9" r="0.5" fill="#2e9a8a"/><circle cx="218.2" cy="389.0" r="0.5" fill="#2e6aaa"/><circle cx="251.5" cy="368.0" r="0.5" fill="#c08070"/><circle cx="254.5" cy="379.4" r="0.5" fill="#e0a060"/><circle cx="225.3" cy="389.7" r="0.5" fill="#3f7fb0"/><circle cx="229.6" cy="385.8" r="0.5" fill="#2e9a8a"/><circle cx="243.7" cy="375.5" r="0.5" fill="#2e9a8a"/><circle cx="240.4" cy="364.4" r="0.5" fill="#2e9a8a"/><circle cx="236.5" cy="387.7" r="0.5" fill="#2e9a8a"/><circle cx="211.5" cy="389.1" r="0.5" fill="#2e6aaa"/><circle cx="200.7" cy="384.5" r="0.5" fill="#2e6aaa"/><circle cx="231.8" cy="411.5" r="0.5" fill="#8fbfd8"/><circle cx="242.3" cy="400.0" r="0.5" fill="#8fbfd8"/><circle cx="212.5" cy="373.7" r="0.5" fill="#2e6aaa"/><circle cx="210.2" cy="368.1" r="0.5" fill="#2e6aaa"/><circle cx="257.2" cy="377.8" r="0.5" fill="#c08070"/><circle cx="222.4" cy="403.8" r="0.5" fill="#3f7fb0"/><circle cx="254.6" cy="408.6" r="0.5" fill="#8fbfd8"/><circle cx="201.7" cy="373.7" r="0.5" fill="#2e6aaa"/><circle cx="242.1" cy="406.8" r="0.5" fill="#8fbfd8"/><circle cx="254.1" cy="364.6" r="0.5" fill="#c08070"/><circle cx="208.3" cy="379.4" r="0.5" fill="#2e6aaa"/><circle cx="207.6" cy="387.7" r="0.5" fill="#2e6aaa"/><circle cx="217.6" cy="397.9" r="0.5" fill="#3f7fb0"/><circle cx="255.5" cy="407.2" r="0.5" fill="#8fbfd8"/><circle cx="237.7" cy="412.2" r="0.5" fill="#8fbfd8"/><circle cx="254.6" cy="375.2" r="0.5" fill="#c08070"/><circle cx="270.3" cy="375.3" r="0.5" fill="#c08070"/><circle cx="197.2" cy="370.4" r="0.5" fill="#2e6aaa"/><circle cx="206.1" cy="372.8" r="0.5" fill="#2e6aaa"/><circle cx="234.4" cy="389.4" r="0.5" fill="#3f7fb0"/><circle cx="226.8" cy="372.2" r="0.5" fill="#9ad070"/><circle cx="253.7" cy="366.0" r="0.5" fill="#c08070"/><circle cx="216.0" cy="383.5" r="0.5" fill="#2e6aaa"/><circle cx="214.9" cy="388.8" r="0.5" fill="#2e6aaa"/><circle cx="240.2" cy="418.7" r="0.5" fill="#8fbfd8"/><circle cx="243.3" cy="404.4" r="0.5" fill="#8fbfd8"/><circle cx="250.1" cy="393.9" r="0.5" fill="#2e9a8a"/><circle cx="224.5" cy="366.7" r="0.5" fill="#9ad070"/><circle cx="260.3" cy="384.2" r="0.5" fill="#e0a060"/><circle cx="250.3" cy="372.0" r="0.5" fill="#c08070"/><circle cx="242.3" cy="376.3" r="0.5" fill="#2e9a8a"/><circle cx="195.7" cy="371.0" r="0.5" fill="#2e6aaa"/><circle cx="235.7" cy="373.3" r="0.5" fill="#2e9a8a"/><circle cx="213.1" cy="363.1" r="0.5" fill="#9ad070"/><circle cx="233.0" cy="379.3" r="0.5" fill="#2e9a8a"/><circle cx="244.0" cy="368.3" r="0.5" fill="#2e9a8a"/><circle cx="218.6" cy="368.8" r="0.5" fill="#9ad070"/><circle cx="259.0" cy="387.4" r="0.5" fill="#e0a060"/><circle cx="223.9" cy="404.6" r="0.5" fill="#3f7fb0"/><circle cx="230.7" cy="411.9" r="0.5" fill="#8fbfd8"/><circle cx="205.6" cy="365.6" r="0.5" fill="#2e6aaa"/><circle cx="256.9" cy="361.8" r="0.5" fill="#c08070"/><circle cx="228.0" cy="360.4" r="0.5" fill="#9ad070"/><circle cx="247.3" cy="411.5" r="0.5" fill="#8fbfd8"/><circle cx="251.6" cy="360.1" r="0.5" fill="#c08070"/><circle cx="207.9" cy="386.3" r="0.5" fill="#2e6aaa"/><circle cx="221.0" cy="402.7" r="0.5" fill="#3f7fb0"/><circle cx="251.6" cy="376.2" r="0.5" fill="#c08070"/><circle cx="254.5" cy="371.0" r="0.5" fill="#c08070"/><circle cx="221.8" cy="383.1" r="0.5" fill="#2e6aaa"/><circle cx="246.8" cy="364.8" r="0.5" fill="#c08070"/><circle cx="248.3" cy="400.8" r="0.5" fill="#8fbfd8"/><circle cx="267.3" cy="377.6" r="0.5" fill="#e0a060"/><circle cx="241.2" cy="390.3" r="0.5" fill="#2e9a8a"/><circle cx="242.7" cy="395.6" r="0.5" fill="#2e9a8a"/><circle cx="247.1" cy="370.5" r="0.5" fill="#c08070"/><circle cx="257.6" cy="403.8" r="0.5" fill="#8fbfd8"/><circle cx="263.7" cy="368.8" r="0.5" fill="#c08070"/><circle cx="233.1" cy="366.4" r="0.5" fill="#9ad070"/><circle cx="239.7" cy="417.5" r="0.5" fill="#8fbfd8"/><circle cx="235.2" cy="395.5" r="0.5" fill="#3f7fb0"/><circle cx="263.5" cy="372.9" r="0.5" fill="#c08070"/><circle cx="250.4" cy="371.5" r="0.5" fill="#c08070"/><circle cx="266.1" cy="380.4" r="0.5" fill="#e0a060"/><circle cx="228.2" cy="411.5" r="0.5" fill="#8fbfd8"/><circle cx="228.9" cy="415.8" r="0.5" fill="#8fbfd8"/><circle cx="211.3" cy="364.4" r="0.5" fill="#9ad070"/><circle cx="214.9" cy="378.4" r="0.5" fill="#2e6aaa"/><circle cx="262.1" cy="394.5" r="0.5" fill="#e0a060"/><circle cx="210.6" cy="388.9" r="0.5" fill="#2e6aaa"/><circle cx="216.8" cy="370.5" r="0.5" fill="#9ad070"/><circle cx="236.1" cy="413.6" r="0.5" fill="#8fbfd8"/><circle cx="246.8" cy="379.9" r="0.5" fill="#2e9a8a"/><circle cx="245.0" cy="413.0" r="0.5" fill="#8fbfd8"/><circle cx="224.2" cy="405.0" r="0.5" fill="#3f7fb0"/><circle cx="254.9" cy="351.9" r="0.5" fill="#c08070"/><circle cx="238.0" cy="362.8" r="0.5" fill="#2e9a8a"/><circle cx="201.4" cy="382.5" r="0.5" fill="#2e6aaa"/><circle cx="202.9" cy="378.0" r="0.5" fill="#2e6aaa"/><circle cx="223.6" cy="383.2" r="0.5" fill="#2e9a8a"/><circle cx="277.3" cy="371.9" r="0.5" fill="#c08070"/><circle cx="228.8" cy="387.9" r="0.5" fill="#3f7fb0"/><circle cx="255.4" cy="395.3" r="0.5" fill="#2e9a8a"/><circle cx="241.7" cy="387.3" r="0.5" fill="#2e9a8a"/><circle cx="227.9" cy="369.5" r="0.5" fill="#9ad070"/><circle cx="226.8" cy="374.7" r="0.5" fill="#9ad070"/><circle cx="247.7" cy="416.3" r="0.5" fill="#8fbfd8"/><circle cx="214.2" cy="392.0" r="0.5" fill="#2e6aaa"/><circle cx="225.8" cy="363.5" r="0.5" fill="#9ad070"/><circle cx="255.9" cy="370.0" r="0.5" fill="#c08070"/><circle cx="251.4" cy="387.3" r="0.5" fill="#2e9a8a"/><circle cx="271.1" cy="384.3" r="0.5" fill="#e0a060"/><circle cx="212.3" cy="393.5" r="0.5" fill="#2e6aaa"/><circle cx="260.6" cy="374.2" r="0.5" fill="#c08070"/><circle cx="257.7" cy="375.3" r="0.5" fill="#c08070"/><circle cx="240.0" cy="392.2" r="0.5" fill="#2e9a8a"/><circle cx="254.3" cy="369.8" r="0.5" fill="#c08070"/><circle cx="249.7" cy="386.8" r="0.5" fill="#2e9a8a"/><circle cx="211.2" cy="392.2" r="0.5" fill="#2e6aaa"/><circle cx="235.0" cy="400.6" r="0.5" fill="#3f7fb0"/><circle cx="239.6" cy="381.7" r="0.5" fill="#2e9a8a"/><circle cx="239.8" cy="385.6" r="0.5" fill="#2e9a8a"/><circle cx="233.7" cy="394.3" r="0.5" fill="#3f7fb0"/><circle cx="226.2" cy="409.1" r="0.5" fill="#8fbfd8"/><circle cx="204.6" cy="364.4" r="0.5" fill="#2e6aaa"/><circle cx="199.8" cy="372.5" r="0.5" fill="#2e6aaa"/><circle cx="266.3" cy="385.1" r="0.5" fill="#e0a060"/><circle cx="256.0" cy="379.6" r="0.5" fill="#e0a060"/><circle cx="235.4" cy="406.5" r="0.5" fill="#8fbfd8"/><circle cx="254.6" cy="373.3" r="0.5" fill="#c08070"/><circle cx="239.5" cy="363.3" r="0.5" fill="#2e9a8a"/><circle cx="225.2" cy="371.2" r="0.5" fill="#9ad070"/><circle cx="209.1" cy="388.9" r="0.5" fill="#2e6aaa"/><circle cx="220.8" cy="363.6" r="0.5" fill="#9ad070"/><circle cx="250.4" cy="411.1" r="0.5" fill="#8fbfd8"/><circle cx="209.2" cy="377.6" r="0.5" fill="#2e6aaa"/><circle cx="265.3" cy="392.6" r="0.5" fill="#e0a060"/><circle cx="232.0" cy="373.3" r="0.5" fill="#2e9a8a"/><circle cx="257.7" cy="367.7" r="0.5" fill="#c08070"/><circle cx="228.8" cy="394.9" r="0.5" fill="#3f7fb0"/><circle cx="267.0" cy="372.1" r="0.5" fill="#c08070"/><circle cx="226.6" cy="389.6" r="0.5" fill="#3f7fb0"/><circle cx="225.4" cy="396.3" r="0.5" fill="#3f7fb0"/><circle cx="261.8" cy="374.2" r="0.5" fill="#c08070"/><circle cx="240.0" cy="383.2" r="0.5" fill="#2e9a8a"/><circle cx="233.9" cy="380.6" r="0.5" fill="#2e9a8a"/><circle cx="269.8" cy="376.9" r="0.5" fill="#e0a060"/><circle cx="235.0" cy="413.6" r="0.5" fill="#8fbfd8"/><circle cx="231.8" cy="382.8" r="0.5" fill="#2e9a8a"/><circle cx="238.6" cy="408.5" r="0.5" fill="#8fbfd8"/><circle cx="253.7" cy="402.0" r="0.5" fill="#8fbfd8"/><circle cx="254.6" cy="387.6" r="0.5" fill="#e0a060"/><circle cx="201.2" cy="362.0" r="0.5" fill="#2e6aaa"/><circle cx="261.6" cy="388.5" r="0.5" fill="#e0a060"/><circle cx="257.6" cy="382.2" r="0.5" fill="#e0a060"/><circle cx="229.7" cy="390.0" r="0.5" fill="#3f7fb0"/><circle cx="221.8" cy="384.9" r="0.5" fill="#2e6aaa"/><circle cx="216.1" cy="365.2" r="0.5" fill="#9ad070"/><circle cx="219.7" cy="364.6" r="0.5" fill="#9ad070"/><circle cx="238.5" cy="377.4" r="0.5" fill="#2e9a8a"/><circle cx="194.9" cy="368.4" r="0.5" fill="#2e6aaa"/><circle cx="241.0" cy="373.8" r="0.5" fill="#2e9a8a"/><circle cx="234.1" cy="382.7" r="0.5" fill="#2e9a8a"/><circle cx="245.5" cy="373.2" r="0.5" fill="#2e9a8a"/><circle cx="194.9" cy="369.2" r="0.5" fill="#2e6aaa"/><circle cx="240.6" cy="376.5" r="0.5" fill="#2e9a8a"/><circle cx="243.7" cy="369.9" r="0.5" fill="#2e9a8a"/><circle cx="217.7" cy="399.7" r="0.5" fill="#3f7fb0"/><circle cx="266.2" cy="390.6" r="0.5" fill="#e0a060"/><circle cx="233.2" cy="417.0" r="0.5" fill="#8fbfd8"/><circle cx="232.3" cy="412.6" r="0.5" fill="#8fbfd8"/><circle cx="266.1" cy="383.4" r="0.5" fill="#e0a060"/><circle cx="254.0" cy="397.0" r="0.5" fill="#2e9a8a"/><circle cx="218.0" cy="361.2" r="0.5" fill="#9ad070"/><circle cx="229.4" cy="395.7" r="0.5" fill="#3f7fb0"/><circle cx="255.2" cy="356.9" r="0.5" fill="#c08070"/><circle cx="217.9" cy="362.9" r="0.5" fill="#9ad070"/><circle cx="245.3" cy="369.5" r="0.5" fill="#2e9a8a"/><circle cx="276.6" cy="370.0" r="0.5" fill="#c08070"/><circle cx="226.1" cy="394.3" r="0.5" fill="#3f7fb0"/><circle cx="211.2" cy="387.0" r="0.5" fill="#2e6aaa"/><circle cx="198.9" cy="380.8" r="0.5" fill="#2e6aaa"/><circle cx="259.2" cy="378.1" r="0.5" fill="#c08070"/><circle cx="254.5" cy="353.8" r="0.5" fill="#c08070"/><circle cx="217.6" cy="371.8" r="0.5" fill="#9ad070"/><circle cx="261.3" cy="383.2" r="0.5" fill="#e0a060"/><circle cx="236.1" cy="411.5" r="0.5" fill="#8fbfd8"/><circle cx="246.8" cy="386.6" r="0.5" fill="#2e9a8a"/><circle cx="221.6" cy="379.6" r="0.5" fill="#9ad070"/><circle cx="242.4" cy="405.7" r="0.5" fill="#8fbfd8"/><circle cx="246.6" cy="380.5" r="0.5" fill="#2e9a8a"/><circle cx="202.5" cy="389.5" r="0.5" fill="#2e6aaa"/><circle cx="223.5" cy="373.9" r="0.5" fill="#9ad070"/><circle cx="253.0" cy="357.6" r="0.5" fill="#c08070"/><circle cx="273.0" cy="382.0" r="0.5" fill="#e0a060"/><circle cx="237.1" cy="386.3" r="0.5" fill="#2e9a8a"/><circle cx="201.2" cy="381.0" r="0.5" fill="#2e6aaa"/><circle cx="205.6" cy="386.2" r="0.5" fill="#2e6aaa"/><circle cx="238.1" cy="373.3" r="0.5" fill="#2e9a8a"/><circle cx="208.8" cy="376.1" r="0.5" fill="#2e6aaa"/><circle cx="237.7" cy="413.6" r="0.5" fill="#8fbfd8"/><circle cx="236.4" cy="405.9" r="0.5" fill="#8fbfd8"/><circle cx="244.2" cy="398.0" r="0.5" fill="#2e9a8a"/><circle cx="204.6" cy="365.3" r="0.5" fill="#2e6aaa"/><circle cx="239.2" cy="367.5" r="0.5" fill="#2e9a8a"/><circle cx="245.0" cy="363.0" r="0.5" fill="#c08070"/><circle cx="246.6" cy="405.4" r="0.5" fill="#8fbfd8"/><circle cx="257.5" cy="349.8" r="0.5" fill="#c08070"/><circle cx="213.3" cy="391.1" r="0.5" fill="#2e6aaa"/><circle cx="248.7" cy="398.3" r="0.5" fill="#2e9a8a"/><circle cx="267.4" cy="371.3" r="0.5" fill="#c08070"/><circle cx="267.0" cy="380.6" r="0.5" fill="#e0a060"/><circle cx="254.5" cy="356.6" r="0.5" fill="#c08070"/><circle cx="208.8" cy="361.9" r="0.5" fill="#2e6aaa"/><circle cx="235.6" cy="383.3" r="0.5" fill="#2e9a8a"/><circle cx="261.4" cy="394.0" r="0.5" fill="#e0a060"/><circle cx="208.9" cy="393.1" r="0.5" fill="#2e6aaa"/><circle cx="246.1" cy="378.5" r="0.5" fill="#2e9a8a"/><circle cx="272.7" cy="368.0" r="0.5" fill="#c08070"/><circle cx="233.5" cy="363.2" r="0.5" fill="#9ad070"/><circle cx="236.8" cy="414.9" r="0.5" fill="#8fbfd8"/><circle cx="255.1" cy="399.7" r="0.5" fill="#8fbfd8"/><circle cx="227.2" cy="405.4" r="0.5" fill="#3f7fb0"/><circle cx="252.0" cy="409.4" r="0.5" fill="#8fbfd8"/><circle cx="222.3" cy="390.8" r="0.5" fill="#3f7fb0"/><circle cx="267.2" cy="377.2" r="0.5" fill="#e0a060"/><circle cx="247.5" cy="380.2" r="0.5" fill="#2e9a8a"/><circle cx="221.9" cy="361.5" r="0.5" fill="#9ad070"/><circle cx="248.8" cy="367.5" r="0.5" fill="#c08070"/><circle cx="198.4" cy="365.9" r="0.5" fill="#2e6aaa"/><circle cx="256.6" cy="379.0" r="0.5" fill="#e0a060"/><circle cx="252.8" cy="407.1" r="0.5" fill="#8fbfd8"/><circle cx="207.5" cy="365.9" r="0.5" fill="#2e6aaa"/><circle cx="248.0" cy="413.8" r="0.5" fill="#8fbfd8"/><circle cx="227.5" cy="383.5" r="0.5" fill="#2e9a8a"/><circle cx="233.2" cy="407.3" r="0.5" fill="#8fbfd8"/><circle cx="213.8" cy="372.1" r="0.5" fill="#9ad070"/><circle cx="224.4" cy="395.9" r="0.5" fill="#3f7fb0"/><circle cx="250.0" cy="373.9" r="0.5" fill="#c08070"/><circle cx="239.6" cy="397.1" r="0.5" fill="#2e9a8a"/><circle cx="254.9" cy="387.9" r="0.5" fill="#e0a060"/><circle cx="232.5" cy="402.8" r="0.5" fill="#3f7fb0"/><circle cx="203.7" cy="390.2" r="0.5" fill="#2e6aaa"/><circle cx="227.3" cy="402.5" r="0.5" fill="#3f7fb0"/><circle cx="250.9" cy="366.6" r="0.5" fill="#c08070"/><circle cx="241.7" cy="377.4" r="0.5" fill="#2e9a8a"/><circle cx="257.4" cy="398.2" r="0.5" fill="#e0a060"/><circle cx="244.6" cy="408.6" r="0.5" fill="#8fbfd8"/><circle cx="265.4" cy="371.7" r="0.5" fill="#c08070"/><circle cx="203.3" cy="384.7" r="0.5" fill="#2e6aaa"/><circle cx="218.3" cy="374.5" r="0.5" fill="#9ad070"/><circle cx="207.8" cy="368.8" r="0.5" fill="#2e6aaa"/><circle cx="220.5" cy="378.7" r="0.5" fill="#9ad070"/><circle cx="200.3" cy="365.0" r="0.5" fill="#2e6aaa"/><circle cx="227.4" cy="374.7" r="0.5" fill="#9ad070"/><circle cx="232.8" cy="409.5" r="0.5" fill="#8fbfd8"/><circle cx="250.5" cy="405.0" r="0.5" fill="#8fbfd8"/><circle cx="261.9" cy="381.2" r="0.5" fill="#e0a060"/><circle cx="243.1" cy="396.6" r="0.5" fill="#2e9a8a"/><circle cx="240.3" cy="367.2" r="0.5" fill="#2e9a8a"/><circle cx="249.9" cy="365.0" r="0.5" fill="#c08070"/><circle cx="268.5" cy="388.6" r="0.5" fill="#e0a060"/><circle cx="215.2" cy="363.7" r="0.5" fill="#9ad070"/><circle cx="261.6" cy="397.2" r="0.5" fill="#e0a060"/><circle cx="229.2" cy="407.2" r="0.5" fill="#8fbfd8"/><circle cx="200.6" cy="368.6" r="0.5" fill="#2e6aaa"/><circle cx="250.2" cy="398.3" r="0.5" fill="#2e9a8a"/><circle cx="263.6" cy="375.4" r="0.5" fill="#c08070"/><circle cx="222.5" cy="375.2" r="0.5" fill="#9ad070"/><circle cx="266.5" cy="371.9" r="0.5" fill="#c08070"/><circle cx="240.5" cy="385.1" r="0.5" fill="#2e9a8a"/><circle cx="202.7" cy="371.1" r="0.5" fill="#2e6aaa"/><circle cx="196.3" cy="376.8" r="0.5" fill="#2e6aaa"/><circle cx="237.7" cy="410.6" r="0.5" fill="#8fbfd8"/><circle cx="253.4" cy="389.5" r="0.5" fill="#2e9a8a"/><circle cx="228.3" cy="389.2" r="0.5" fill="#3f7fb0"/><circle cx="261.6" cy="383.5" r="0.5" fill="#e0a060"/><circle cx="251.6" cy="412.7" r="0.5" fill="#8fbfd8"/><circle cx="256.9" cy="392.2" r="0.5" fill="#e0a060"/><circle cx="247.3" cy="408.5" r="0.5" fill="#8fbfd8"/><circle cx="215.9" cy="361.4" r="0.5" fill="#9ad070"/><circle cx="266.2" cy="372.7" r="0.5" fill="#c08070"/><circle cx="256.4" cy="350.6" r="0.5" fill="#c08070"/><circle cx="269.7" cy="370.0" r="0.5" fill="#c08070"/><circle cx="203.2" cy="366.2" r="0.5" fill="#2e6aaa"/><circle cx="242.7" cy="407.2" r="0.5" fill="#8fbfd8"/><circle cx="200.5" cy="362.3" r="0.5" fill="#2e6aaa"/><circle cx="249.8" cy="371.2" r="0.5" fill="#c08070"/><circle cx="221.4" cy="388.8" r="0.5" fill="#3f7fb0"/><circle cx="266.8" cy="386.4" r="0.5" fill="#e0a060"/><circle cx="249.9" cy="400.8" r="0.5" fill="#8fbfd8"/><circle cx="245.6" cy="375.8" r="0.5" fill="#2e9a8a"/><circle cx="238.6" cy="390.3" r="0.5" fill="#2e9a8a"/><circle cx="233.1" cy="397.6" r="0.5" fill="#3f7fb0"/><circle cx="257.3" cy="380.0" r="0.5" fill="#e0a060"/><circle cx="228.3" cy="366.8" r="0.5" fill="#9ad070"/><circle cx="239.0" cy="378.8" r="0.5" fill="#2e9a8a"/><circle cx="208.7" cy="365.5" r="0.5" fill="#2e6aaa"/><circle cx="243.2" cy="399.0" r="0.5" fill="#8fbfd8"/><circle cx="258.6" cy="400.4" r="0.5" fill="#e0a060"/><circle cx="258.6" cy="393.5" r="0.5" fill="#e0a060"/><circle cx="215.1" cy="372.4" r="0.5" fill="#9ad070"/><circle cx="266.4" cy="380.0" r="0.5" fill="#e0a060"/><circle cx="235.2" cy="408.3" r="0.5" fill="#8fbfd8"/><circle cx="243.5" cy="384.1" r="0.5" fill="#2e9a8a"/><circle cx="209.9" cy="364.4" r="0.5" fill="#2e6aaa"/><circle cx="259.6" cy="374.6" r="0.5" fill="#c08070"/><circle cx="210.3" cy="390.1" r="0.5" fill="#2e6aaa"/><circle cx="196.7" cy="369.9" r="0.5" fill="#2e6aaa"/><circle cx="249.3" cy="413.2" r="0.5" fill="#8fbfd8"/><circle cx="236.0" cy="394.2" r="0.5" fill="#3f7fb0"/><circle cx="209.5" cy="363.7" r="0.5" fill="#2e6aaa"/><circle cx="276.1" cy="374.5" r="0.5" fill="#e0a060"/><circle cx="233.4" cy="390.1" r="0.5" fill="#3f7fb0"/><circle cx="250.5" cy="399.4" r="0.5" fill="#8fbfd8"/><circle cx="234.7" cy="375.8" r="0.5" fill="#2e9a8a"/><circle cx="253.9" cy="400.0" r="0.5" fill="#8fbfd8"/><circle cx="212.8" cy="395.0" r="0.5" fill="#2e6aaa"/><circle cx="255.7" cy="381.3" r="0.5" fill="#e0a060"/><circle cx="211.7" cy="375.2" r="0.5" fill="#2e6aaa"/><circle cx="250.2" cy="402.1" r="0.5" fill="#8fbfd8"/><circle cx="205.5" cy="384.4" r="0.5" fill="#2e6aaa"/><circle cx="242.8" cy="408.2" r="0.5" fill="#8fbfd8"/><circle cx="237.7" cy="392.7" r="0.5" fill="#2e9a8a"/><circle cx="246.5" cy="406.6" r="0.5" fill="#8fbfd8"/><circle cx="241.8" cy="367.4" r="0.5" fill="#2e9a8a"/><circle cx="251.8" cy="360.9" r="0.5" fill="#c08070"/><circle cx="224.9" cy="368.3" r="0.5" fill="#9ad070"/><circle cx="255.8" cy="391.1" r="0.5" fill="#e0a060"/><circle cx="239.4" cy="380.1" r="0.5" fill="#2e9a8a"/><circle cx="228.7" cy="392.0" r="0.5" fill="#3f7fb0"/><circle cx="230.9" cy="412.6" r="0.5" fill="#8fbfd8"/><circle cx="232.0" cy="399.4" r="0.5" fill="#3f7fb0"/><circle cx="214.0" cy="368.1" r="0.5" fill="#9ad070"/><circle cx="223.1" cy="370.0" r="0.5" fill="#9ad070"/><circle cx="199.0" cy="379.1" r="0.5" fill="#2e6aaa"/><circle cx="213.7" cy="376.8" r="0.5" fill="#2e6aaa"/><circle cx="221.2" cy="404.3" r="0.5" fill="#3f7fb0"/><circle cx="265.5" cy="386.0" r="0.5" fill="#e0a060"/><circle cx="219.8" cy="393.3" r="0.5" fill="#3f7fb0"/><circle cx="224.9" cy="386.4" r="0.5" fill="#3f7fb0"/><circle cx="240.4" cy="395.0" r="0.5" fill="#2e9a8a"/><circle cx="241.1" cy="417.2" r="0.5" fill="#8fbfd8"/><circle cx="228.7" cy="415.4" r="0.5" fill="#8fbfd8"/><circle cx="198.5" cy="361.4" r="0.5" fill="#2e6aaa"/><circle cx="206.7" cy="378.7" r="0.5" fill="#2e6aaa"/><circle cx="255.3" cy="398.2" r="0.5" fill="#2e9a8a"/><circle cx="213.6" cy="364.8" r="0.5" fill="#9ad070"/><circle cx="209.9" cy="365.0" r="0.5" fill="#2e6aaa"/><circle cx="246.2" cy="395.5" r="0.5" fill="#2e9a8a"/><circle cx="246.8" cy="398.5" r="0.5" fill="#2e9a8a"/><circle cx="200.7" cy="383.0" r="0.5" fill="#2e6aaa"/><circle cx="218.8" cy="376.5" r="0.5" fill="#9ad070"/><circle cx="255.5" cy="379.3" r="0.5" fill="#e0a060"/><circle cx="278.6" cy="371.4" r="0.5" fill="#c08070"/><circle cx="253.7" cy="366.4" r="0.5" fill="#c08070"/><circle cx="252.6" cy="390.2" r="0.5" fill="#2e9a8a"/><circle cx="252.8" cy="358.9" r="0.5" fill="#c08070"/><circle cx="252.0" cy="388.9" r="0.5" fill="#2e9a8a"/><circle cx="224.5" cy="400.6" r="0.5" fill="#3f7fb0"/><circle cx="213.9" cy="373.2" r="0.5" fill="#9ad070"/><circle cx="217.1" cy="374.3" r="0.5" fill="#9ad070"/><circle cx="208.4" cy="361.9" r="0.5" fill="#2e6aaa"/><circle cx="226.5" cy="373.1" r="0.5" fill="#9ad070"/><circle cx="250.9" cy="381.3" r="0.5" fill="#2e9a8a"/><circle cx="253.0" cy="409.4" r="0.5" fill="#8fbfd8"/><circle cx="233.7" cy="399.8" r="0.5" fill="#3f7fb0"/><circle cx="211.9" cy="378.9" r="0.5" fill="#2e6aaa"/><circle cx="224.3" cy="381.1" r="0.5" fill="#2e9a8a"/><circle cx="196.8" cy="362.1" r="0.5" fill="#2e6aaa"/><circle cx="260.7" cy="388.3" r="0.5" fill="#e0a060"/><circle cx="197.9" cy="365.4" r="0.5" fill="#2e6aaa"/><circle cx="233.0" cy="369.5" r="0.5" fill="#2e9a8a"/><circle cx="252.0" cy="384.6" r="0.5" fill="#2e9a8a"/><circle cx="260.3" cy="386.4" r="0.5" fill="#e0a060"/><circle cx="212.2" cy="383.4" r="0.5" fill="#2e6aaa"/><circle cx="247.5" cy="395.1" r="0.5" fill="#2e9a8a"/><circle cx="271.4" cy="373.3" r="0.5" fill="#c08070"/><circle cx="211.6" cy="391.0" r="0.5" fill="#2e6aaa"/><circle cx="228.2" cy="397.3" r="0.5" fill="#3f7fb0"/><circle cx="212.1" cy="381.7" r="0.5" fill="#2e6aaa"/><circle cx="238.6" cy="418.0" r="0.5" fill="#8fbfd8"/><circle cx="249.0" cy="361.7" r="0.5" fill="#c08070"/><circle cx="220.6" cy="376.3" r="0.5" fill="#9ad070"/><circle cx="222.6" cy="396.5" r="0.5" fill="#3f7fb0"/><circle cx="214.5" cy="380.0" r="0.5" fill="#2e6aaa"/><circle cx="243.4" cy="399.8" r="0.5" fill="#8fbfd8"/><circle cx="203.1" cy="363.5" r="0.5" fill="#2e6aaa"/><circle cx="239.6" cy="389.8" r="0.5" fill="#2e9a8a"/><circle cx="245.6" cy="379.8" r="0.5" fill="#2e9a8a"/><circle cx="228.8" cy="413.4" r="0.5" fill="#8fbfd8"/><circle cx="252.9" cy="411.2" r="0.5" fill="#8fbfd8"/><circle cx="217.5" cy="367.3" r="0.5" fill="#9ad070"/><circle cx="229.9" cy="385.8" r="0.5" fill="#2e9a8a"/><circle cx="278.7" cy="365.2" r="0.5" fill="#3e9a2e"/><circle cx="273.4" cy="350.5" r="0.5" fill="#3e9a2e"/><circle cx="274.8" cy="359.8" r="0.5" fill="#3e9a2e"/><circle cx="281.3" cy="361.5" r="0.5" fill="#3e9a2e"/><circle cx="277.4" cy="354.4" r="0.5" fill="#3e9a2e"/><circle cx="267.3" cy="356.3" r="0.5" fill="#3e9a2e"/><circle cx="258.3" cy="357.6" r="0.5" fill="#3e9a2e"/><circle cx="269.3" cy="359.7" r="0.5" fill="#3e9a2e"/><circle cx="275.8" cy="361.3" r="0.5" fill="#3e9a2e"/><circle cx="264.2" cy="353.6" r="0.5" fill="#3e9a2e"/><circle cx="263.6" cy="353.0" r="0.5" fill="#3e9a2e"/><circle cx="266.4" cy="358.6" r="0.5" fill="#3e9a2e"/><circle cx="262.5" cy="349.1" r="0.5" fill="#3e9a2e"/><circle cx="261.8" cy="352.4" r="0.5" fill="#3e9a2e"/><circle cx="273.8" cy="355.2" r="0.5" fill="#3e9a2e"/><circle cx="271.0" cy="350.9" r="0.5" fill="#3e9a2e"/><circle cx="276.4" cy="365.0" r="0.5" fill="#3e9a2e"/><circle cx="273.5" cy="361.6" r="0.5" fill="#3e9a2e"/><circle cx="261.5" cy="359.1" r="0.5" fill="#3e9a2e"/><circle cx="262.8" cy="360.5" r="0.5" fill="#3e9a2e"/><circle cx="275.0" cy="352.5" r="0.5" fill="#3e9a2e"/><circle cx="270.7" cy="361.2" r="0.5" fill="#3e9a2e"/><circle cx="261.2" cy="357.7" r="0.5" fill="#3e9a2e"/><circle cx="265.0" cy="350.7" r="0.5" fill="#3e9a2e"/><circle cx="266.5" cy="356.0" r="0.5" fill="#3e9a2e"/><circle cx="268.9" cy="356.0" r="0.5" fill="#3e9a2e"/><circle cx="273.3" cy="361.4" r="0.5" fill="#3e9a2e"/><circle cx="277.6" cy="363.3" r="0.5" fill="#3e9a2e"/><circle cx="272.4" cy="351.6" r="0.5" fill="#3e9a2e"/><circle cx="275.0" cy="349.8" r="0.5" fill="#3e9a2e"/><circle cx="276.8" cy="356.6" r="0.5" fill="#3e9a2e"/><circle cx="262.2" cy="359.9" r="0.5" fill="#3e9a2e"/><circle cx="259.7" cy="355.1" r="0.5" fill="#3e9a2e"/><circle cx="274.9" cy="363.9" r="0.5" fill="#3e9a2e"/><circle cx="266.0" cy="347.8" r="0.5" fill="#3e9a2e"/><circle cx="274.7" cy="351.3" r="0.5" fill="#3e9a2e"/><circle cx="275.3" cy="350.9" r="0.5" fill="#3e9a2e"/><circle cx="265.4" cy="350.7" r="0.5" fill="#3e9a2e"/><circle cx="270.7" cy="361.1" r="0.5" fill="#3e9a2e"/><circle cx="278.5" cy="354.1" r="0.5" fill="#3e9a2e"/><circle cx="273.7" cy="361.4" r="0.5" fill="#3e9a2e"/><circle cx="283.3" cy="355.2" r="0.5" fill="#3e9a2e"/><circle cx="276.6" cy="354.2" r="0.5" fill="#3e9a2e"/><circle cx="262.2" cy="359.4" r="0.5" fill="#3e9a2e"/><circle cx="279.9" cy="356.2" r="0.5" fill="#3e9a2e"/><circle cx="279.3" cy="351.2" r="0.5" fill="#3e9a2e"/><circle cx="281.3" cy="359.5" r="0.5" fill="#3e9a2e"/><circle cx="260.8" cy="354.0" r="0.5" fill="#3e9a2e"/><circle cx="266.2" cy="359.6" r="0.5" fill="#3e9a2e"/><circle cx="280.5" cy="352.5" r="0.5" fill="#3e9a2e"/><circle cx="268.1" cy="355.8" r="0.5" fill="#3e9a2e"/><circle cx="277.0" cy="353.6" r="0.5" fill="#3e9a2e"/><circle cx="269.3" cy="360.5" r="0.5" fill="#3e9a2e"/><circle cx="267.8" cy="355.0" r="0.5" fill="#3e9a2e"/><circle cx="282.0" cy="362.6" r="0.5" fill="#3e9a2e"/><circle cx="269.1" cy="359.0" r="0.5" fill="#3e9a2e"/><circle cx="269.5" cy="358.8" r="0.5" fill="#3e9a2e"/><circle cx="271.5" cy="349.4" r="0.5" fill="#3e9a2e"/><circle cx="270.1" cy="363.0" r="0.5" fill="#3e9a2e"/><circle cx="260.9" cy="358.9" r="0.5" fill="#3e9a2e"/><circle cx="268.7" cy="349.2" r="0.5" fill="#3e9a2e"/><circle cx="263.3" cy="359.1" r="0.5" fill="#3e9a2e"/><circle cx="274.9" cy="354.2" r="0.5" fill="#3e9a2e"/><circle cx="275.5" cy="362.8" r="0.5" fill="#3e9a2e"/><circle cx="268.0" cy="351.3" r="0.5" fill="#3e9a2e"/><circle cx="267.6" cy="365.2" r="0.5" fill="#3e9a2e"/><circle cx="281.4" cy="356.9" r="0.5" fill="#3e9a2e"/><circle cx="278.4" cy="356.3" r="0.5" fill="#3e9a2e"/><circle cx="267.1" cy="361.9" r="0.5" fill="#3e9a2e"/><circle cx="264.5" cy="361.6" r="0.5" fill="#3e9a2e"/><circle cx="265.5" cy="352.8" r="0.5" fill="#3e9a2e"/><circle cx="267.7" cy="353.7" r="0.5" fill="#3e9a2e"/><circle cx="261.5" cy="361.8" r="0.5" fill="#3e9a2e"/><circle cx="272.6" cy="364.8" r="0.5" fill="#3e9a2e"/><circle cx="276.2" cy="364.5" r="0.5" fill="#3e9a2e"/><circle cx="275.8" cy="356.2" r="0.5" fill="#3e9a2e"/><circle cx="261.0" cy="354.6" r="0.5" fill="#3e9a2e"/><circle cx="280.4" cy="357.0" r="0.5" fill="#3e9a2e"/><circle cx="276.6" cy="362.1" r="0.5" fill="#3e9a2e"/><circle cx="272.5" cy="356.6" r="0.5" fill="#3e9a2e"/><circle cx="264.2" cy="351.9" r="0.5" fill="#3e9a2e"/><circle cx="261.2" cy="350.7" r="0.5" fill="#3e9a2e"/><circle cx="280.4" cy="354.8" r="0.5" fill="#3e9a2e"/><circle cx="258.2" cy="357.6" r="0.5" fill="#3e9a2e"/><circle cx="270.5" cy="355.0" r="0.5" fill="#3e9a2e"/><circle cx="284.2" cy="357.5" r="0.5" fill="#3e9a2e"/><circle cx="278.3" cy="355.7" r="0.5" fill="#3e9a2e"/><circle cx="275.1" cy="350.8" r="0.5" fill="#3e9a2e"/><circle cx="279.7" cy="360.0" r="0.5" fill="#3e9a2e"/><circle cx="266.7" cy="362.9" r="0.5" fill="#3e9a2e"/><circle cx="263.9" cy="352.2" r="0.5" fill="#3e9a2e"/><circle cx="282.2" cy="364.2" r="0.5" fill="#3e9a2e"/><circle cx="273.8" cy="356.6" r="0.5" fill="#3e9a2e"/><circle cx="271.3" cy="349.4" r="0.5" fill="#3e9a2e"/><circle cx="278.0" cy="364.6" r="0.5" fill="#3e9a2e"/><circle cx="262.3" cy="358.9" r="0.5" fill="#3e9a2e"/><circle cx="269.9" cy="354.4" r="0.5" fill="#3e9a2e"/><circle cx="266.6" cy="352.4" r="0.5" fill="#3e9a2e"/><circle cx="262.4" cy="355.2" r="0.5" fill="#3e9a2e"/><circle cx="271.0" cy="361.9" r="0.5" fill="#3e9a2e"/><circle cx="265.0" cy="363.1" r="0.5" fill="#3e9a2e"/><circle cx="269.0" cy="364.5" r="0.5" fill="#3e9a2e"/><circle cx="260.8" cy="356.3" r="0.5" fill="#3e9a2e"/><circle cx="268.4" cy="358.1" r="0.5" fill="#3e9a2e"/><circle cx="265.4" cy="353.8" r="0.5" fill="#3e9a2e"/><circle cx="272.3" cy="349.7" r="0.5" fill="#3e9a2e"/><circle cx="265.6" cy="359.4" r="0.5" fill="#3e9a2e"/><circle cx="265.3" cy="350.6" r="0.5" fill="#3e9a2e"/><circle cx="261.8" cy="356.1" r="0.5" fill="#3e9a2e"/><circle cx="262.6" cy="356.0" r="0.5" fill="#3e9a2e"/><circle cx="276.5" cy="362.7" r="0.5" fill="#3e9a2e"/><circle cx="271.7" cy="349.4" r="0.5" fill="#3e9a2e"/><circle cx="278.0" cy="362.5" r="0.5" fill="#3e9a2e"/><circle cx="269.2" cy="359.1" r="0.5" fill="#3e9a2e"/><circle cx="265.2" cy="360.2" r="0.5" fill="#3e9a2e"/><circle cx="264.7" cy="348.7" r="0.5" fill="#3e9a2e"/><circle cx="275.2" cy="354.6" r="0.5" fill="#3e9a2e"/><circle cx="263.8" cy="351.3" r="0.5" fill="#3e9a2e"/><circle cx="262.6" cy="354.0" r="0.5" fill="#3e9a2e"/><circle cx="271.8" cy="351.6" r="0.5" fill="#3e9a2e"/><circle cx="263.3" cy="348.4" r="0.5" fill="#3e9a2e"/><circle cx="269.2" cy="353.7" r="0.5" fill="#3e9a2e"/><circle cx="266.0" cy="359.1" r="0.5" fill="#3e9a2e"/><circle cx="277.9" cy="356.4" r="0.5" fill="#3e9a2e"/><circle cx="282.8" cy="358.8" r="0.5" fill="#3e9a2e"/><circle cx="265.3" cy="356.3" r="0.5" fill="#3e9a2e"/><circle cx="262.2" cy="351.8" r="0.5" fill="#3e9a2e"/><circle cx="278.3" cy="361.0" r="0.5" fill="#3e9a2e"/><circle cx="264.4" cy="363.3" r="0.5" fill="#3e9a2e"/><circle cx="270.1" cy="350.7" r="0.5" fill="#3e9a2e"/><circle cx="280.0" cy="365.5" r="0.5" fill="#3e9a2e"/><circle cx="266.4" cy="355.2" r="0.5" fill="#3e9a2e"/><circle cx="265.2" cy="362.7" r="0.5" fill="#3e9a2e"/><circle cx="269.6" cy="364.6" r="0.5" fill="#3e9a2e"/><circle cx="271.3" cy="353.9" r="0.5" fill="#3e9a2e"/><circle cx="272.4" cy="362.8" r="0.5" fill="#3e9a2e"/><circle cx="268.1" cy="354.0" r="0.5" fill="#3e9a2e"/><circle cx="281.8" cy="361.1" r="0.5" fill="#3e9a2e"/><circle cx="264.8" cy="361.1" r="0.5" fill="#3e9a2e"/><circle cx="281.1" cy="353.5" r="0.5" fill="#3e9a2e"/><circle cx="276.1" cy="362.7" r="0.5" fill="#3e9a2e"/><circle cx="270.9" cy="351.2" r="0.5" fill="#3e9a2e"/><circle cx="281.2" cy="358.0" r="0.5" fill="#3e9a2e"/><circle cx="279.6" cy="364.4" r="0.5" fill="#3e9a2e"/><circle cx="276.5" cy="351.4" r="0.5" fill="#3e9a2e"/><circle cx="261.9" cy="356.2" r="0.5" fill="#3e9a2e"/><circle cx="269.8" cy="354.6" r="0.5" fill="#3e9a2e"/><circle cx="264.0" cy="348.8" r="0.5" fill="#3e9a2e"/><circle cx="265.8" cy="359.8" r="0.5" fill="#3e9a2e"/><circle cx="270.8" cy="360.4" r="0.5" fill="#3e9a2e"/><circle cx="267.8" cy="361.5" r="0.5" fill="#3e9a2e"/><circle cx="267.7" cy="363.2" r="0.5" fill="#3e9a2e"/><circle cx="267.2" cy="353.9" r="0.5" fill="#3e9a2e"/><circle cx="274.5" cy="351.4" r="0.5" fill="#3e9a2e"/><circle cx="266.9" cy="359.3" r="0.5" fill="#3e9a2e"/><circle cx="277.6" cy="364.4" r="0.5" fill="#3e9a2e"/><circle cx="267.8" cy="359.2" r="0.5" fill="#3e9a2e"/><circle cx="277.6" cy="357.3" r="0.5" fill="#3e9a2e"/><circle cx="275.1" cy="354.8" r="0.5" fill="#3e9a2e"/><circle cx="277.0" cy="355.4" r="0.5" fill="#3e9a2e"/><circle cx="264.1" cy="356.9" r="0.5" fill="#3e9a2e"/><circle cx="280.6" cy="359.8" r="0.5" fill="#3e9a2e"/><circle cx="260.2" cy="358.6" r="0.5" fill="#3e9a2e"/><circle cx="281.4" cy="361.9" r="0.5" fill="#3e9a2e"/><circle cx="280.5" cy="352.5" r="0.5" fill="#3e9a2e"/><circle cx="268.2" cy="360.4" r="0.5" fill="#3e9a2e"/><circle cx="276.4" cy="361.5" r="0.5" fill="#3e9a2e"/><circle cx="269.7" cy="360.8" r="0.5" fill="#3e9a2e"/><circle cx="276.3" cy="354.5" r="0.5" fill="#3e9a2e"/><circle cx="271.3" cy="362.9" r="0.5" fill="#3e9a2e"/><circle cx="267.9" cy="362.9" r="0.5" fill="#3e9a2e"/><circle cx="283.2" cy="360.3" r="0.5" fill="#3e9a2e"/><circle cx="279.6" cy="353.0" r="0.5" fill="#3e9a2e"/><circle cx="270.8" cy="361.5" r="0.5" fill="#3e9a2e"/><circle cx="275.3" cy="356.0" r="0.5" fill="#3e9a2e"/><circle cx="270.2" cy="356.2" r="0.5" fill="#3e9a2e"/><circle cx="278.0" cy="356.2" r="0.5" fill="#3e9a2e"/><circle cx="262.5" cy="348.5" r="0.5" fill="#3e9a2e"/><circle cx="268.8" cy="361.7" r="0.5" fill="#3e9a2e"/><circle cx="274.3" cy="358.6" r="0.5" fill="#3e9a2e"/><circle cx="278.2" cy="362.7" r="0.5" fill="#3e9a2e"/><circle cx="264.0" cy="354.2" r="0.5" fill="#3e9a2e"/><circle cx="260.9" cy="357.4" r="0.5" fill="#3e9a2e"/><circle cx="270.2" cy="350.5" r="0.5" fill="#3e9a2e"/><circle cx="270.2" cy="356.6" r="0.5" fill="#3e9a2e"/><circle cx="267.2" cy="356.8" r="0.5" fill="#3e9a2e"/><circle cx="275.2" cy="351.9" r="0.5" fill="#3e9a2e"/><circle cx="267.7" cy="356.9" r="0.5" fill="#3e9a2e"/><circle cx="262.1" cy="350.2" r="0.5" fill="#3e9a2e"/><circle cx="270.3" cy="365.2" r="0.5" fill="#3e9a2e"/><circle cx="264.9" cy="363.6" r="0.5" fill="#3e9a2e"/><circle cx="270.2" cy="363.6" r="0.5" fill="#3e9a2e"/><circle cx="266.7" cy="357.6" r="0.5" fill="#3e9a2e"/><circle cx="257.6" cy="353.9" r="0.5" fill="#3e9a2e"/><circle cx="273.2" cy="350.5" r="0.5" fill="#3e9a2e"/><circle cx="274.5" cy="361.6" r="0.5" fill="#3e9a2e"/><circle cx="265.6" cy="356.6" r="0.5" fill="#3e9a2e"/><circle cx="266.6" cy="363.2" r="0.5" fill="#3e9a2e"/><circle cx="262.8" cy="361.6" r="0.5" fill="#3e9a2e"/><circle cx="263.8" cy="363.6" r="0.5" fill="#3e9a2e"/><circle cx="278.8" cy="355.1" r="0.5" fill="#3e9a2e"/><circle cx="266.5" cy="358.7" r="0.5" fill="#3e9a2e"/><circle cx="273.5" cy="360.7" r="0.5" fill="#3e9a2e"/><circle cx="276.8" cy="359.8" r="0.5" fill="#3e9a2e"/><circle cx="283.0" cy="356.1" r="0.5" fill="#3e9a2e"/><circle cx="263.7" cy="348.1" r="0.5" fill="#3e9a2e"/><circle cx="280.9" cy="353.6" r="0.5" fill="#3e9a2e"/><circle cx="272.7" cy="358.7" r="0.5" fill="#3e9a2e"/><circle cx="274.7" cy="349.0" r="0.5" fill="#3e9a2e"/><circle cx="270.3" cy="351.8" r="0.5" fill="#3e9a2e"/><circle cx="262.4" cy="360.4" r="0.5" fill="#3e9a2e"/><circle cx="260.2" cy="353.2" r="0.5" fill="#3e9a2e"/><circle cx="265.2" cy="360.2" r="0.5" fill="#3e9a2e"/><circle cx="273.8" cy="364.2" r="0.5" fill="#3e9a2e"/><circle cx="268.8" cy="364.3" r="0.5" fill="#3e9a2e"/><circle cx="260.7" cy="350.6" r="0.5" fill="#3e9a2e"/><circle cx="275.4" cy="356.9" r="0.5" fill="#3e9a2e"/><circle cx="269.0" cy="364.6" r="0.5" fill="#3e9a2e"/><circle cx="262.8" cy="350.8" r="0.5" fill="#3e9a2e"/><circle cx="280.9" cy="363.9" r="0.5" fill="#3e9a2e"/><circle cx="276.8" cy="352.3" r="0.5" fill="#3e9a2e"/><circle cx="259.2" cy="353.5" r="0.5" fill="#3e9a2e"/><circle cx="273.1" cy="351.4" r="0.5" fill="#3e9a2e"/><circle cx="268.4" cy="359.2" r="0.5" fill="#3e9a2e"/><circle cx="264.1" cy="353.0" r="0.5" fill="#3e9a2e"/><circle cx="267.8" cy="351.6" r="0.5" fill="#3e9a2e"/><circle cx="264.1" cy="353.0" r="0.5" fill="#3e9a2e"/><circle cx="271.0" cy="350.5" r="0.5" fill="#3e9a2e"/><circle cx="260.3" cy="353.7" r="0.5" fill="#3e9a2e"/><circle cx="261.9" cy="357.4" r="0.5" fill="#3e9a2e"/><circle cx="279.6" cy="359.1" r="0.5" fill="#3e9a2e"/><circle cx="272.5" cy="350.5" r="0.5" fill="#3e9a2e"/><circle cx="275.9" cy="360.0" r="0.5" fill="#3e9a2e"/><circle cx="281.1" cy="352.8" r="0.5" fill="#3e9a2e"/><circle cx="258.6" cy="354.7" r="0.5" fill="#3e9a2e"/><circle cx="265.9" cy="359.1" r="0.5" fill="#3e9a2e"/><circle cx="276.5" cy="352.2" r="0.5" fill="#3e9a2e"/><circle cx="278.8" cy="352.2" r="0.5" fill="#3e9a2e"/><circle cx="270.9" cy="365.8" r="0.5" fill="#3e9a2e"/><circle cx="282.6" cy="361.8" r="0.5" fill="#3e9a2e"/><circle cx="271.6" cy="356.9" r="0.5" fill="#3e9a2e"/><circle cx="267.6" cy="356.1" r="0.5" fill="#3e9a2e"/><circle cx="264.8" cy="350.9" r="0.5" fill="#3e9a2e"/><circle cx="271.5" cy="355.6" r="0.5" fill="#3e9a2e"/><circle cx="262.4" cy="354.9" r="0.5" fill="#3e9a2e"/><circle cx="277.1" cy="362.7" r="0.5" fill="#3e9a2e"/><circle cx="272.8" cy="352.8" r="0.5" fill="#3e9a2e"/><circle cx="272.0" cy="354.9" r="0.5" fill="#3e9a2e"/><circle cx="267.3" cy="359.8" r="0.5" fill="#3e9a2e"/><circle cx="269.3" cy="360.8" r="0.5" fill="#3e9a2e"/><circle cx="270.5" cy="354.2" r="0.5" fill="#3e9a2e"/><circle cx="265.9" cy="360.2" r="0.5" fill="#3e9a2e"/><circle cx="264.6" cy="350.0" r="0.5" fill="#3e9a2e"/><circle cx="274.2" cy="361.3" r="0.5" fill="#3e9a2e"/><circle cx="277.4" cy="354.7" r="0.5" fill="#3e9a2e"/><circle cx="270.8" cy="360.1" r="0.5" fill="#3e9a2e"/><circle cx="280.6" cy="354.9" r="0.5" fill="#3e9a2e"/><circle cx="271.4" cy="354.6" r="0.5" fill="#3e9a2e"/><circle cx="269.5" cy="360.5" r="0.5" fill="#3e9a2e"/><circle cx="269.8" cy="355.1" r="0.5" fill="#3e9a2e"/><circle cx="281.8" cy="359.0" r="0.5" fill="#3e9a2e"/><circle cx="279.0" cy="357.1" r="0.5" fill="#3e9a2e"/><circle cx="282.1" cy="359.3" r="0.5" fill="#3e9a2e"/><circle cx="274.9" cy="353.6" r="0.5" fill="#3e9a2e"/><circle cx="268.7" cy="354.0" r="0.5" fill="#3e9a2e"/><circle cx="266.2" cy="360.4" r="0.5" fill="#3e9a2e"/><circle cx="275.1" cy="360.6" r="0.5" fill="#3e9a2e"/><circle cx="275.1" cy="354.4" r="0.5" fill="#3e9a2e"/><circle cx="263.4" cy="356.3" r="0.5" fill="#3e9a2e"/><circle cx="268.7" cy="347.6" r="0.5" fill="#3e9a2e"/><circle cx="274.3" cy="359.9" r="0.5" fill="#3e9a2e"/><circle cx="262.4" cy="348.9" r="0.5" fill="#3e9a2e"/><circle cx="269.5" cy="354.0" r="0.5" fill="#3e9a2e"/><circle cx="262.2" cy="361.0" r="0.5" fill="#3e9a2e"/><circle cx="274.0" cy="355.6" r="0.5" fill="#3e9a2e"/><circle cx="277.3" cy="364.8" r="0.5" fill="#3e9a2e"/><circle cx="278.5" cy="358.9" r="0.5" fill="#3e9a2e"/><circle cx="259.7" cy="351.3" r="0.5" fill="#3e9a2e"/><circle cx="272.9" cy="362.8" r="0.5" fill="#3e9a2e"/><circle cx="272.9" cy="355.5" r="0.5" fill="#3e9a2e"/><circle cx="266.8" cy="365.0" r="0.5" fill="#3e9a2e"/><circle cx="271.5" cy="351.7" r="0.5" fill="#3e9a2e"/><circle cx="267.9" cy="354.8" r="0.5" fill="#3e9a2e"/><circle cx="264.3" cy="358.7" r="0.5" fill="#3e9a2e"/><circle cx="271.3" cy="357.0" r="0.5" fill="#3e9a2e"/><circle cx="268.1" cy="353.0" r="0.5" fill="#3e9a2e"/><circle cx="273.8" cy="353.8" r="0.5" fill="#3e9a2e"/><circle cx="283.9" cy="358.5" r="0.5" fill="#3e9a2e"/><circle cx="275.0" cy="358.8" r="0.5" fill="#3e9a2e"/><circle cx="264.6" cy="361.5" r="0.5" fill="#3e9a2e"/><circle cx="266.4" cy="364.2" r="0.5" fill="#3e9a2e"/><circle cx="270.2" cy="350.4" r="0.5" fill="#3e9a2e"/><circle cx="275.7" cy="357.4" r="0.5" fill="#3e9a2e"/><circle cx="262.3" cy="359.8" r="0.5" fill="#3e9a2e"/><circle cx="280.5" cy="357.6" r="0.5" fill="#3e9a2e"/><circle cx="271.1" cy="356.5" r="0.5" fill="#3e9a2e"/><circle cx="261.5" cy="356.8" r="0.5" fill="#3e9a2e"/><circle cx="263.8" cy="357.5" r="0.5" fill="#3e9a2e"/><circle cx="275.8" cy="352.3" r="0.5" fill="#3e9a2e"/><circle cx="265.8" cy="356.3" r="0.5" fill="#3e9a2e"/><circle cx="199.1" cy="346.3" r="0.5" fill="#5a3a9a"/><circle cx="193.8" cy="346.9" r="0.5" fill="#5a3a9a"/><circle cx="202.6" cy="350.3" r="0.5" fill="#5a3a9a"/><circle cx="191.9" cy="341.6" r="0.5" fill="#5a3a9a"/><circle cx="201.2" cy="349.6" r="0.5" fill="#5a3a9a"/><circle cx="205.8" cy="336.5" r="0.5" fill="#5a3a9a"/><circle cx="192.0" cy="350.1" r="0.5" fill="#5a3a9a"/><circle cx="209.7" cy="345.9" r="0.5" fill="#5a3a9a"/><circle cx="211.8" cy="344.5" r="0.5" fill="#5a3a9a"/><circle cx="205.5" cy="345.5" r="0.5" fill="#5a3a9a"/><circle cx="189.9" cy="350.9" r="0.5" fill="#5a3a9a"/><circle cx="204.9" cy="336.7" r="0.5" fill="#5a3a9a"/><circle cx="194.5" cy="338.5" r="0.5" fill="#5a3a9a"/><circle cx="207.7" cy="339.4" r="0.5" fill="#5a3a9a"/><circle cx="212.4" cy="347.0" r="0.5" fill="#5a3a9a"/><circle cx="206.0" cy="344.1" r="0.5" fill="#5a3a9a"/><circle cx="199.6" cy="337.5" r="0.5" fill="#5a3a9a"/><circle cx="192.7" cy="348.1" r="0.5" fill="#5a3a9a"/><circle cx="191.9" cy="346.9" r="0.5" fill="#5a3a9a"/><circle cx="196.1" cy="343.6" r="0.5" fill="#5a3a9a"/><circle cx="206.1" cy="352.9" r="0.5" fill="#5a3a9a"/><circle cx="191.9" cy="339.5" r="0.5" fill="#5a3a9a"/><circle cx="205.0" cy="342.8" r="0.5" fill="#5a3a9a"/><circle cx="199.1" cy="344.0" r="0.5" fill="#5a3a9a"/><circle cx="190.3" cy="347.3" r="0.5" fill="#5a3a9a"/><circle cx="192.9" cy="345.8" r="0.5" fill="#5a3a9a"/><circle cx="196.1" cy="345.1" r="0.5" fill="#5a3a9a"/><circle cx="209.6" cy="340.2" r="0.5" fill="#5a3a9a"/><circle cx="201.2" cy="346.3" r="0.5" fill="#5a3a9a"/><circle cx="188.0" cy="348.1" r="0.5" fill="#5a3a9a"/><circle cx="209.9" cy="351.6" r="0.5" fill="#5a3a9a"/><circle cx="209.5" cy="344.1" r="0.5" fill="#5a3a9a"/><circle cx="188.4" cy="340.4" r="0.5" fill="#5a3a9a"/><circle cx="197.8" cy="336.2" r="0.5" fill="#5a3a9a"/><circle cx="203.3" cy="337.9" r="0.5" fill="#5a3a9a"/><circle cx="201.3" cy="342.9" r="0.5" fill="#5a3a9a"/><circle cx="202.0" cy="345.1" r="0.5" fill="#5a3a9a"/><circle cx="208.9" cy="341.2" r="0.5" fill="#5a3a9a"/><circle cx="191.7" cy="344.3" r="0.5" fill="#5a3a9a"/><circle cx="196.3" cy="343.0" r="0.5" fill="#5a3a9a"/><circle cx="203.7" cy="348.6" r="0.5" fill="#5a3a9a"/><circle cx="200.8" cy="349.1" r="0.5" fill="#5a3a9a"/><circle cx="188.4" cy="337.0" r="0.5" fill="#5a3a9a"/><circle cx="200.5" cy="338.8" r="0.5" fill="#5a3a9a"/><circle cx="199.3" cy="341.2" r="0.5" fill="#5a3a9a"/><circle cx="207.8" cy="337.0" r="0.5" fill="#5a3a9a"/><circle cx="196.0" cy="352.6" r="0.5" fill="#5a3a9a"/><circle cx="200.5" cy="342.8" r="0.5" fill="#5a3a9a"/><circle cx="206.9" cy="352.1" r="0.5" fill="#5a3a9a"/><circle cx="190.7" cy="340.6" r="0.5" fill="#5a3a9a"/><circle cx="196.8" cy="346.9" r="0.5" fill="#5a3a9a"/><circle cx="198.6" cy="345.4" r="0.5" fill="#5a3a9a"/><circle cx="200.6" cy="351.8" r="0.5" fill="#5a3a9a"/><circle cx="202.8" cy="351.7" r="0.5" fill="#5a3a9a"/><circle cx="189.7" cy="338.2" r="0.5" fill="#5a3a9a"/><circle cx="207.7" cy="338.9" r="0.5" fill="#5a3a9a"/><circle cx="204.2" cy="348.0" r="0.5" fill="#5a3a9a"/><circle cx="198.8" cy="340.1" r="0.5" fill="#5a3a9a"/><circle cx="196.3" cy="335.5" r="0.5" fill="#5a3a9a"/><circle cx="192.8" cy="349.1" r="0.5" fill="#5a3a9a"/><circle cx="200.4" cy="350.6" r="0.5" fill="#5a3a9a"/><circle cx="197.1" cy="336.8" r="0.5" fill="#5a3a9a"/><circle cx="200.3" cy="342.2" r="0.5" fill="#5a3a9a"/><circle cx="201.3" cy="340.0" r="0.5" fill="#5a3a9a"/><circle cx="196.7" cy="342.1" r="0.5" fill="#5a3a9a"/><circle cx="203.3" cy="351.6" r="0.5" fill="#5a3a9a"/><circle cx="208.3" cy="340.6" r="0.5" fill="#5a3a9a"/><circle cx="191.4" cy="341.4" r="0.5" fill="#5a3a9a"/><circle cx="194.5" cy="335.8" r="0.5" fill="#5a3a9a"/><circle cx="192.0" cy="344.1" r="0.5" fill="#5a3a9a"/><circle cx="193.9" cy="344.9" r="0.5" fill="#5a3a9a"/><circle cx="189.0" cy="338.1" r="0.5" fill="#5a3a9a"/><circle cx="186.1" cy="339.3" r="0.5" fill="#5a3a9a"/><circle cx="200.7" cy="333.8" r="0.5" fill="#5a3a9a"/><circle cx="201.7" cy="336.5" r="0.5" fill="#5a3a9a"/><circle cx="198.3" cy="338.5" r="0.5" fill="#5a3a9a"/><circle cx="197.0" cy="345.6" r="0.5" fill="#5a3a9a"/><circle cx="205.5" cy="346.7" r="0.5" fill="#5a3a9a"/><circle cx="193.4" cy="342.9" r="0.5" fill="#5a3a9a"/><circle cx="198.8" cy="339.2" r="0.5" fill="#5a3a9a"/><circle cx="194.7" cy="338.4" r="0.5" fill="#5a3a9a"/><circle cx="200.7" cy="338.4" r="0.5" fill="#5a3a9a"/><circle cx="200.2" cy="344.1" r="0.5" fill="#5a3a9a"/><circle cx="196.5" cy="341.6" r="0.5" fill="#5a3a9a"/><circle cx="209.0" cy="347.7" r="0.5" fill="#5a3a9a"/><circle cx="209.0" cy="346.6" r="0.5" fill="#5a3a9a"/><circle cx="211.8" cy="338.9" r="0.5" fill="#5a3a9a"/><circle cx="204.4" cy="338.2" r="0.5" fill="#5a3a9a"/><circle cx="207.6" cy="336.6" r="0.5" fill="#5a3a9a"/><circle cx="188.3" cy="341.7" r="0.5" fill="#5a3a9a"/><circle cx="207.0" cy="335.4" r="0.5" fill="#5a3a9a"/><circle cx="214.0" cy="343.8" r="0.5" fill="#5a3a9a"/><circle cx="195.7" cy="347.5" r="0.5" fill="#5a3a9a"/><circle cx="204.8" cy="342.6" r="0.5" fill="#5a3a9a"/><circle cx="201.4" cy="337.6" r="0.5" fill="#5a3a9a"/><circle cx="191.5" cy="347.9" r="0.5" fill="#5a3a9a"/><circle cx="199.9" cy="340.0" r="0.5" fill="#5a3a9a"/><circle cx="206.1" cy="337.9" r="0.5" fill="#5a3a9a"/><circle cx="202.9" cy="338.3" r="0.5" fill="#5a3a9a"/><circle cx="207.3" cy="339.2" r="0.5" fill="#5a3a9a"/><circle cx="193.8" cy="350.5" r="0.5" fill="#5a3a9a"/><circle cx="193.4" cy="340.8" r="0.5" fill="#5a3a9a"/><circle cx="198.5" cy="341.2" r="0.5" fill="#5a3a9a"/><circle cx="211.1" cy="343.0" r="0.5" fill="#5a3a9a"/><circle cx="187.5" cy="346.6" r="0.5" fill="#5a3a9a"/><circle cx="200.9" cy="338.7" r="0.5" fill="#5a3a9a"/><circle cx="205.3" cy="351.4" r="0.5" fill="#5a3a9a"/><circle cx="200.5" cy="350.7" r="0.5" fill="#5a3a9a"/><circle cx="201.9" cy="339.3" r="0.5" fill="#5a3a9a"/><circle cx="190.2" cy="346.9" r="0.5" fill="#5a3a9a"/><circle cx="207.9" cy="347.9" r="0.5" fill="#5a3a9a"/><circle cx="202.5" cy="340.7" r="0.5" fill="#5a3a9a"/><circle cx="197.4" cy="335.2" r="0.5" fill="#5a3a9a"/><circle cx="204.8" cy="353.9" r="0.5" fill="#5a3a9a"/><circle cx="198.5" cy="343.0" r="0.5" fill="#5a3a9a"/><circle cx="195.8" cy="335.1" r="0.5" fill="#5a3a9a"/><circle cx="210.0" cy="340.2" r="0.5" fill="#5a3a9a"/><circle cx="189.2" cy="342.2" r="0.5" fill="#5a3a9a"/><circle cx="197.5" cy="349.8" r="0.5" fill="#5a3a9a"/><circle cx="200.1" cy="333.8" r="0.5" fill="#5a3a9a"/><circle cx="196.0" cy="353.0" r="0.5" fill="#5a3a9a"/><circle cx="209.5" cy="351.4" r="0.5" fill="#5a3a9a"/><circle cx="192.8" cy="338.8" r="0.5" fill="#5a3a9a"/><circle cx="196.4" cy="346.6" r="0.5" fill="#5a3a9a"/><circle cx="194.4" cy="345.4" r="0.5" fill="#5a3a9a"/><circle cx="191.7" cy="339.3" r="0.5" fill="#5a3a9a"/><circle cx="196.7" cy="350.6" r="0.5" fill="#5a3a9a"/><circle cx="202.3" cy="346.1" r="0.5" fill="#5a3a9a"/><circle cx="197.3" cy="338.5" r="0.5" fill="#5a3a9a"/><circle cx="187.0" cy="342.9" r="0.5" fill="#5a3a9a"/><circle cx="200.1" cy="342.0" r="0.5" fill="#5a3a9a"/><circle cx="205.9" cy="351.3" r="0.5" fill="#5a3a9a"/><circle cx="205.6" cy="340.1" r="0.5" fill="#5a3a9a"/><circle cx="192.3" cy="344.5" r="0.5" fill="#5a3a9a"/><circle cx="193.1" cy="348.5" r="0.5" fill="#5a3a9a"/><circle cx="194.9" cy="344.1" r="0.5" fill="#5a3a9a"/><circle cx="200.7" cy="352.9" r="0.5" fill="#5a3a9a"/><circle cx="198.6" cy="344.9" r="0.5" fill="#5a3a9a"/><circle cx="213.5" cy="348.7" r="0.5" fill="#5a3a9a"/><circle cx="203.9" cy="345.3" r="0.5" fill="#5a3a9a"/><circle cx="193.5" cy="351.0" r="0.5" fill="#5a3a9a"/><circle cx="203.5" cy="350.9" r="0.5" fill="#5a3a9a"/><circle cx="197.3" cy="337.8" r="0.5" fill="#5a3a9a"/><circle cx="200.5" cy="346.3" r="0.5" fill="#5a3a9a"/><circle cx="200.8" cy="341.7" r="0.5" fill="#5a3a9a"/><circle cx="210.0" cy="338.6" r="0.5" fill="#5a3a9a"/><circle cx="198.4" cy="353.0" r="0.5" fill="#5a3a9a"/><circle cx="210.4" cy="343.4" r="0.5" fill="#5a3a9a"/><circle cx="196.0" cy="336.1" r="0.5" fill="#5a3a9a"/><circle cx="193.5" cy="347.3" r="0.5" fill="#5a3a9a"/><circle cx="187.8" cy="348.6" r="0.5" fill="#5a3a9a"/><circle cx="210.1" cy="339.8" r="0.5" fill="#5a3a9a"/><circle cx="209.9" cy="352.4" r="0.5" fill="#5a3a9a"/><circle cx="207.0" cy="350.9" r="0.5" fill="#5a3a9a"/><circle cx="193.9" cy="347.0" r="0.5" fill="#5a3a9a"/><circle cx="210.1" cy="347.0" r="0.5" fill="#5a3a9a"/><circle cx="192.5" cy="343.8" r="0.5" fill="#5a3a9a"/><circle cx="191.7" cy="346.9" r="0.5" fill="#5a3a9a"/><circle cx="195.5" cy="334.8" r="0.5" fill="#5a3a9a"/><circle cx="208.2" cy="344.5" r="0.5" fill="#5a3a9a"/><circle cx="194.3" cy="351.2" r="0.5" fill="#5a3a9a"/><circle cx="186.6" cy="347.3" r="0.5" fill="#5a3a9a"/><circle cx="206.3" cy="336.1" r="0.5" fill="#5a3a9a"/><circle cx="203.7" cy="352.5" r="0.5" fill="#5a3a9a"/><circle cx="200.0" cy="334.0" r="0.5" fill="#5a3a9a"/><circle cx="191.4" cy="348.8" r="0.5" fill="#5a3a9a"/><circle cx="208.3" cy="345.9" r="0.5" fill="#5a3a9a"/><circle cx="189.3" cy="339.9" r="0.5" fill="#5a3a9a"/><circle cx="192.8" cy="348.0" r="0.5" fill="#5a3a9a"/><circle cx="195.5" cy="338.7" r="0.5" fill="#5a3a9a"/><circle cx="204.2" cy="344.2" r="0.5" fill="#5a3a9a"/><circle cx="198.3" cy="345.2" r="0.5" fill="#5a3a9a"/><circle cx="193.5" cy="337.9" r="0.5" fill="#5a3a9a"/><circle cx="199.2" cy="349.6" r="0.5" fill="#5a3a9a"/><circle cx="196.5" cy="353.9" r="0.5" fill="#5a3a9a"/><circle cx="197.5" cy="335.6" r="0.5" fill="#5a3a9a"/><circle cx="205.8" cy="353.9" r="0.5" fill="#5a3a9a"/><circle cx="194.2" cy="343.4" r="0.5" fill="#5a3a9a"/><circle cx="198.5" cy="343.1" r="0.5" fill="#5a3a9a"/><circle cx="197.9" cy="353.5" r="0.5" fill="#5a3a9a"/><circle cx="195.9" cy="353.8" r="0.5" fill="#5a3a9a"/><circle cx="209.3" cy="352.2" r="0.5" fill="#5a3a9a"/><circle cx="210.6" cy="339.5" r="0.5" fill="#5a3a9a"/><circle cx="199.3" cy="342.0" r="0.5" fill="#5a3a9a"/><circle cx="208.2" cy="350.1" r="0.5" fill="#5a3a9a"/><circle cx="196.6" cy="341.7" r="0.5" fill="#5a3a9a"/><circle cx="204.4" cy="341.8" r="0.5" fill="#5a3a9a"/><circle cx="187.2" cy="342.5" r="0.5" fill="#5a3a9a"/><circle cx="196.9" cy="353.8" r="0.5" fill="#5a3a9a"/><circle cx="195.8" cy="341.6" r="0.5" fill="#5a3a9a"/><circle cx="212.8" cy="353.5" r="0.5" fill="#a090d0"/><circle cx="202.5" cy="351.5" r="0.5" fill="#a090d0"/><circle cx="203.9" cy="352.7" r="0.5" fill="#a090d0"/><circle cx="205.3" cy="351.2" r="0.5" fill="#a090d0"/><circle cx="197.2" cy="352.1" r="0.5" fill="#a090d0"/><circle cx="202.8" cy="353.2" r="0.5" fill="#a090d0"/><circle cx="207.4" cy="354.1" r="0.5" fill="#a090d0"/><circle cx="200.0" cy="350.4" r="0.5" fill="#a090d0"/><circle cx="207.1" cy="351.3" r="0.5" fill="#a090d0"/><circle cx="206.5" cy="351.7" r="0.5" fill="#a090d0"/><circle cx="198.7" cy="351.1" r="0.5" fill="#a090d0"/><circle cx="210.3" cy="352.7" r="0.5" fill="#a090d0"/><circle cx="201.0" cy="354.8" r="0.5" fill="#a090d0"/><circle cx="207.1" cy="352.4" r="0.5" fill="#a090d0"/><circle cx="207.4" cy="353.2" r="0.5" fill="#a090d0"/><circle cx="196.0" cy="352.0" r="0.5" fill="#a090d0"/><circle cx="202.9" cy="355.2" r="0.5" fill="#a090d0"/><circle cx="208.4" cy="351.8" r="0.5" fill="#a090d0"/><circle cx="208.1" cy="351.8" r="0.5" fill="#a090d0"/><circle cx="201.0" cy="354.6" r="0.5" fill="#a090d0"/><circle cx="194.6" cy="353.3" r="0.5" fill="#a090d0"/><circle cx="209.4" cy="351.9" r="0.5" fill="#a090d0"/><circle cx="209.7" cy="353.3" r="0.5" fill="#a090d0"/><circle cx="198.4" cy="352.8" r="0.5" fill="#a090d0"/><circle cx="199.2" cy="354.0" r="0.5" fill="#a090d0"/><circle cx="206.7" cy="352.7" r="0.5" fill="#a090d0"/><circle cx="207.4" cy="351.2" r="0.5" fill="#a090d0"/><circle cx="206.0" cy="354.4" r="0.5" fill="#a090d0"/><circle cx="200.2" cy="352.1" r="0.5" fill="#a090d0"/><circle cx="201.0" cy="354.4" r="0.5" fill="#a090d0"/><circle cx="197.5" cy="354.4" r="0.5" fill="#a090d0"/><circle cx="209.0" cy="350.9" r="0.5" fill="#a090d0"/><circle cx="199.0" cy="353.1" r="0.5" fill="#a090d0"/><circle cx="199.7" cy="354.5" r="0.5" fill="#a090d0"/><circle cx="205.2" cy="351.5" r="0.5" fill="#a090d0"/><circle cx="200.6" cy="351.9" r="0.5" fill="#a090d0"/><circle cx="202.6" cy="355.4" r="0.5" fill="#a090d0"/><circle cx="210.7" cy="351.9" r="0.5" fill="#a090d0"/><circle cx="212.0" cy="351.6" r="0.5" fill="#a090d0"/><circle cx="196.3" cy="352.2" r="0.5" fill="#a090d0"/><circle cx="244.1" cy="346.3" r="0.5" fill="#c8283c"/><circle cx="245.7" cy="346.6" r="0.5" fill="#c8283c"/><circle cx="247.6" cy="349.6" r="0.5" fill="#c8283c"/><circle cx="246.4" cy="347.8" r="0.5" fill="#c8283c"/><circle cx="247.2" cy="346.2" r="0.5" fill="#c8283c"/><circle cx="248.0" cy="347.0" r="0.5" fill="#c8283c"/><circle cx="247.0" cy="345.8" r="0.5" fill="#c8283c"/><circle cx="245.6" cy="351.4" r="0.5" fill="#c8283c"/><circle cx="244.6" cy="345.3" r="0.5" fill="#c8283c"/><circle cx="246.2" cy="345.7" r="0.5" fill="#c8283c"/><circle cx="245.8" cy="351.0" r="0.5" fill="#c8283c"/><circle cx="245.4" cy="351.2" r="0.5" fill="#c8283c"/><circle cx="244.2" cy="348.3" r="0.5" fill="#c8283c"/><circle cx="247.6" cy="349.7" r="0.5" fill="#c8283c"/><circle cx="244.9" cy="349.3" r="0.5" fill="#c8283c"/><circle cx="245.8" cy="350.2" r="0.5" fill="#c8283c"/><circle cx="246.3" cy="344.7" r="0.5" fill="#c8283c"/><circle cx="247.1" cy="347.5" r="0.5" fill="#c8283c"/><circle cx="245.6" cy="348.7" r="0.5" fill="#c8283c"/><circle cx="248.5" cy="346.4" r="0.5" fill="#c8283c"/><circle cx="247.4" cy="346.0" r="0.5" fill="#c8283c"/><circle cx="248.4" cy="349.2" r="0.5" fill="#c8283c"/><circle cx="248.0" cy="349.6" r="0.5" fill="#c8283c"/><circle cx="247.2" cy="348.0" r="0.5" fill="#c8283c"/><circle cx="243.9" cy="348.1" r="0.5" fill="#c8283c"/><circle cx="245.5" cy="346.4" r="0.5" fill="#c8283c"/><circle cx="245.8" cy="349.0" r="0.5" fill="#c8283c"/><circle cx="248.3" cy="348.1" r="0.5" fill="#c8283c"/><circle cx="198.3" cy="410.6" r="0.5" fill="#b06040"/><circle cx="200.3" cy="415.4" r="0.5" fill="#b06040"/><circle cx="203.3" cy="414.7" r="0.5" fill="#b06040"/><circle cx="203.2" cy="411.1" r="0.5" fill="#b06040"/><circle cx="201.6" cy="414.8" r="0.5" fill="#b06040"/><circle cx="198.6" cy="415.1" r="0.5" fill="#b06040"/><circle cx="203.4" cy="413.9" r="0.5" fill="#b06040"/><circle cx="200.7" cy="413.4" r="0.5" fill="#b06040"/><circle cx="202.3" cy="414.0" r="0.5" fill="#b06040"/><circle cx="200.4" cy="414.6" r="0.5" fill="#b06040"/><circle cx="196.0" cy="412.5" r="0.5" fill="#b06040"/><circle cx="199.7" cy="413.4" r="0.5" fill="#b06040"/><circle cx="199.2" cy="412.5" r="0.5" fill="#b06040"/><circle cx="199.2" cy="412.7" r="0.5" fill="#b06040"/><circle cx="198.9" cy="411.3" r="0.5" fill="#b06040"/><circle cx="197.9" cy="412.8" r="0.5" fill="#b06040"/><circle cx="204.5" cy="411.3" r="0.5" fill="#b06040"/><circle cx="202.9" cy="414.9" r="0.5" fill="#b06040"/><circle cx="199.1" cy="411.3" r="0.5" fill="#b06040"/><circle cx="203.1" cy="412.7" r="0.5" fill="#b06040"/><circle cx="195.2" cy="414.5" r="0.5" fill="#b06040"/><circle cx="204.2" cy="414.1" r="0.5" fill="#b06040"/><circle cx="201.9" cy="410.4" r="0.5" fill="#b06040"/><circle cx="199.6" cy="411.4" r="0.5" fill="#b06040"/><circle cx="203.3" cy="410.6" r="0.5" fill="#b06040"/><circle cx="198.6" cy="413.5" r="0.5" fill="#b06040"/><circle cx="199.8" cy="415.0" r="0.5" fill="#b06040"/><circle cx="203.1" cy="411.9" r="0.5" fill="#b06040"/><circle cx="205.9" cy="411.9" r="0.5" fill="#b06040"/><circle cx="195.8" cy="412.4" r="0.5" fill="#b06040"/><circle cx="202.2" cy="412.0" r="0.5" fill="#b06040"/><circle cx="196.0" cy="413.4" r="0.5" fill="#b06040"/><circle cx="198.2" cy="413.8" r="0.5" fill="#b06040"/><circle cx="200.7" cy="411.4" r="0.5" fill="#b06040"/><circle cx="197.8" cy="414.8" r="0.5" fill="#b06040"/><circle cx="197.6" cy="412.6" r="0.5" fill="#b06040"/><circle cx="196.5" cy="411.0" r="0.5" fill="#b06040"/><circle cx="197.1" cy="411.9" r="0.5" fill="#b06040"/><circle cx="203.6" cy="412.4" r="0.5" fill="#b06040"/><circle cx="199.3" cy="414.8" r="0.5" fill="#b06040"/><circle cx="180.1" cy="363.7" r="0.5" fill="#d06060"/><circle cx="186.7" cy="362.1" r="0.5" fill="#d06060"/><circle cx="179.6" cy="361.1" r="0.5" fill="#d06060"/><circle cx="185.6" cy="361.4" r="0.5" fill="#d06060"/><circle cx="180.5" cy="362.1" r="0.5" fill="#d06060"/><circle cx="177.1" cy="361.3" r="0.5" fill="#d06060"/><circle cx="180.2" cy="360.3" r="0.5" fill="#d06060"/><circle cx="177.5" cy="363.3" r="0.5" fill="#d06060"/><circle cx="178.9" cy="361.0" r="0.5" fill="#d06060"/><circle cx="178.4" cy="361.4" r="0.5" fill="#d06060"/><circle cx="184.5" cy="362.8" r="0.5" fill="#d06060"/><circle cx="182.8" cy="360.5" r="0.5" fill="#d06060"/><circle cx="177.0" cy="361.0" r="0.5" fill="#d06060"/><circle cx="184.9" cy="362.3" r="0.5" fill="#d06060"/><circle cx="184.0" cy="361.4" r="0.5" fill="#d06060"/><circle cx="182.8" cy="361.4" r="0.5" fill="#d06060"/><circle cx="178.6" cy="360.4" r="0.5" fill="#d06060"/><circle cx="182.7" cy="362.7" r="0.5" fill="#d06060"/><circle cx="175.5" cy="362.4" r="0.5" fill="#d06060"/><circle cx="177.2" cy="361.7" r="0.5" fill="#d06060"/><circle cx="178.0" cy="360.7" r="0.5" fill="#d06060"/><circle cx="182.9" cy="362.0" r="0.5" fill="#d06060"/>
<path d="M 171.90 361.80 C 172.53 359.50 174.75 355.40 177.60 354.60 C 180.45 353.80 184.43 356.52 189.00 357.00 C 193.57 357.48 199.63 357.50 205.00 357.50 C 210.37 357.50 217.53 357.42 221.20 357.00 C 224.87 356.58 223.52 354.52 227.00 355.00 C 230.48 355.48 237.37 361.30 242.10 359.90 C 246.83 358.50 251.60 349.62 255.40 346.60 C 259.20 343.58 261.10 342.28 264.90 341.80 C 268.70 341.32 274.72 341.00 278.20 343.70 C 281.68 346.40 284.85 353.73 285.80 358.00 C 286.75 362.27 286.12 363.62 283.90 369.30 C 281.68 374.98 275.98 385.77 272.50 392.10 C 269.02 398.43 266.48 402.55 263.00 407.30 C 259.52 412.05 256.03 417.82 251.60 420.60 C 247.17 423.38 240.83 424.00 236.40 424.00 C 231.97 424.00 227.85 423.07 225.00 420.60 C 222.15 418.13 222.13 413.00 219.30 409.20 C 216.47 405.40 211.47 400.65 208.00 397.80 C 204.53 394.95 201.03 394.63 198.50 392.10 C 195.97 389.57 194.07 386.08 192.80 382.60 C 191.53 379.12 192.48 373.42 190.90 371.20 C 189.32 368.98 186.15 369.77 183.30 369.30 C 180.45 368.83 175.70 369.65 173.80 368.40 C 171.90 367.15 171.27 364.10 171.90 361.80 Z" fill="none" stroke="#e8903a" stroke-width="1.3" stroke-dasharray="2.6 2.2"/>
<ellipse cx="200.8" cy="344.2" rx="22.3" ry="17.4" fill="none" stroke="#6a3fb0" stroke-width="1.3" stroke-dasharray="2.6 2.2" transform="rotate(12 200.8 344.2)"/>
<line x1="172.00" y1="379.30" x2="157.70" y2="379.30" stroke="#000" stroke-width="1.35"/>
<path d="M 148.50 379.30 L 158.70 375.00 L 156.70 379.30 L 158.70 383.60 Z" fill="#000"/>
<line x1="29.40" y1="332.00" x2="29.40" y2="409.80" stroke="#000" stroke-width="1.3"/>
<path d="M 29.4 326.0 L 26.0 334.0 L 29.4 332.4 L 32.8 334.0 Z" fill="#000"/>
<line x1="28.80" y1="409.80" x2="102.00" y2="409.80" stroke="#000" stroke-width="1.3"/>
<path d="M 108.0 409.8 L 100.0 406.4 L 101.6 409.8 L 100.0 413.2 Z" fill="#000"/>
<circle cx="65.7" cy="342.8" r="3.2" fill="#d0d4e8"/>
<circle cx="52.5" cy="365.2" r="3.2" fill="#c8cce6"/>
<circle cx="89.3" cy="378.8" r="3.2" fill="#b8bed8"/>
<circle cx="49.4" cy="333.6" r="3.2" fill="#3d4a8a"/>
<circle cx="79.3" cy="328.4" r="3.2" fill="#5a5fa8"/>
<circle cx="64.4" cy="339.4" r="3.2" fill="#7e82c0"/>
<circle cx="81.4" cy="344.7" r="3.2" fill="#3d4a8a"/>
<circle cx="44.1" cy="354.4" r="3.2" fill="#5a60b0"/>
<circle cx="47.3" cy="366.5" r="3.2" fill="#3a4580"/>
<circle cx="85.4" cy="362.3" r="3.2" fill="#b8bed8"/>
<circle cx="53.1" cy="374.1" r="3.2" fill="#5a5ea8"/>
<circle cx="71.5" cy="373.0" r="3.2" fill="#7a88a8"/>
<circle cx="85.4" cy="376.2" r="3.2" fill="#4a58a0"/>
<circle cx="36.3" cy="391.4" r="3.2" fill="#7a7ec0"/>
<circle cx="67.0" cy="394.6" r="3.2" fill="#8090b0"/>
<circle cx="38.1" cy="401.7" r="3.2" fill="#8084c4"/>
<circle cx="63.6" cy="402.5" r="3.2" fill="#c8cce6"/>
<defs><linearGradient id="gnum" x1="0" y1="0" x2="0" y2="1"><stop offset="0" stop-color="#3a4a80"/><stop offset="0.5" stop-color="#7d86b8"/><stop offset="1" stop-color="#eef0f8"/></linearGradient></defs>
<rect x="112.50" y="337.60" width="10.50" height="47.00" fill="url(#gnum)"/>
<line x1="112.50" y1="340.00" x2="114.50" y2="340.00" stroke="#fff" stroke-width="0.7"/>
<line x1="121.00" y1="340.00" x2="123.00" y2="340.00" stroke="#fff" stroke-width="0.7"/>
<line x1="112.50" y1="352.00" x2="114.50" y2="352.00" stroke="#fff" stroke-width="0.7"/>
<line x1="121.00" y1="352.00" x2="123.00" y2="352.00" stroke="#fff" stroke-width="0.7"/>
<line x1="112.50" y1="364.00" x2="114.50" y2="364.00" stroke="#fff" stroke-width="0.7"/>
<line x1="121.00" y1="364.00" x2="123.00" y2="364.00" stroke="#fff" stroke-width="0.7"/>
<line x1="112.50" y1="375.20" x2="114.50" y2="375.20" stroke="#fff" stroke-width="0.7"/>
<line x1="121.00" y1="375.20" x2="123.00" y2="375.20" stroke="#fff" stroke-width="0.7"/>
<text x="136.40" y="365.00" font-size="10.7" text-anchor="middle" fill="#1a1a1a" transform="rotate(-90 136.4 365.0)">Num. of Cancer types</text>
<text x="19.60" y="367.50" font-size="10.6" text-anchor="middle" fill="#1a1a1a" transform="rotate(-90 19.6 367.5)">Enrichment in Tex</text>
<text x="22.30" y="424.80" font-size="10.55" text-anchor="start" fill="#1a1a1a">Exhaustion signature</text>
<text x="4.00" y="461.00" font-size="13" text-anchor="start" fill="#000">D</text>
<polygon points="12.50,505.00 69.30,463.30 69.30,537.70 15.60,573.20" fill="#f5f5f5"/>
<polygon points="69.30,463.30 160.90,486.90 159.50,553.50 69.30,537.70" fill="#eeeeee"/>
<polygon points="15.60,573.20 69.30,537.70 159.50,553.50 107.50,605.00" fill="#f7f7f7"/>
<line x1="12.50" y1="505.00" x2="15.60" y2="573.20" stroke="#bcbcbc" stroke-width="0.65"/>
<line x1="69.30" y1="463.30" x2="69.30" y2="537.70" stroke="#bcbcbc" stroke-width="0.65"/>
<line x1="15.60" y1="573.20" x2="69.30" y2="537.70" stroke="#bcbcbc" stroke-width="0.65"/>
<line x1="15.60" y1="573.20" x2="107.50" y2="605.00" stroke="#bcbcbc" stroke-width="0.65"/>
<line x1="23.86" y1="496.66" x2="26.34" y2="566.10" stroke="#bcbcbc" stroke-width="0.65"/>
<line x1="87.62" y1="468.02" x2="87.34" y2="540.86" stroke="#bcbcbc" stroke-width="0.65"/>
<line x1="33.98" y1="579.56" x2="87.34" y2="540.86" stroke="#bcbcbc" stroke-width="0.65"/>
<line x1="26.34" y1="566.10" x2="117.90" y2="594.70" stroke="#bcbcbc" stroke-width="0.65"/>
<line x1="35.22" y1="488.32" x2="37.08" y2="559.00" stroke="#bcbcbc" stroke-width="0.65"/>
<line x1="105.94" y1="472.74" x2="105.38" y2="544.02" stroke="#bcbcbc" stroke-width="0.65"/>
<line x1="52.36" y1="585.92" x2="105.38" y2="544.02" stroke="#bcbcbc" stroke-width="0.65"/>
<line x1="37.08" y1="559.00" x2="128.30" y2="584.40" stroke="#bcbcbc" stroke-width="0.65"/>
<line x1="46.58" y1="479.98" x2="47.82" y2="551.90" stroke="#bcbcbc" stroke-width="0.65"/>
<line x1="124.26" y1="477.46" x2="123.42" y2="547.18" stroke="#bcbcbc" stroke-width="0.65"/>
<line x1="70.74" y1="592.28" x2="123.42" y2="547.18" stroke="#bcbcbc" stroke-width="0.65"/>
<line x1="47.82" y1="551.90" x2="138.70" y2="574.10" stroke="#bcbcbc" stroke-width="0.65"/>
<line x1="57.94" y1="471.64" x2="58.56" y2="544.80" stroke="#bcbcbc" stroke-width="0.65"/>
<line x1="142.58" y1="482.18" x2="141.46" y2="550.34" stroke="#bcbcbc" stroke-width="0.65"/>
<line x1="89.12" y1="598.64" x2="141.46" y2="550.34" stroke="#bcbcbc" stroke-width="0.65"/>
<line x1="58.56" y1="544.80" x2="149.10" y2="563.80" stroke="#bcbcbc" stroke-width="0.65"/>
<line x1="69.30" y1="463.30" x2="69.30" y2="537.70" stroke="#bcbcbc" stroke-width="0.65"/>
<line x1="160.90" y1="486.90" x2="159.50" y2="553.50" stroke="#bcbcbc" stroke-width="0.65"/>
<line x1="107.50" y1="605.00" x2="159.50" y2="553.50" stroke="#bcbcbc" stroke-width="0.65"/>
<line x1="69.30" y1="537.70" x2="159.50" y2="553.50" stroke="#bcbcbc" stroke-width="0.65"/>
<line x1="14.82" y1="556.15" x2="69.30" y2="519.10" stroke="#bcbcbc" stroke-width="0.65"/>
<line x1="69.30" y1="519.10" x2="159.85" y2="536.85" stroke="#bcbcbc" stroke-width="0.65"/>
<line x1="14.05" y1="539.10" x2="69.30" y2="500.50" stroke="#bcbcbc" stroke-width="0.65"/>
<line x1="69.30" y1="500.50" x2="160.20" y2="520.20" stroke="#bcbcbc" stroke-width="0.65"/>
<line x1="13.28" y1="522.05" x2="69.30" y2="481.90" stroke="#bcbcbc" stroke-width="0.65"/>
<line x1="69.30" y1="481.90" x2="160.55" y2="503.55" stroke="#bcbcbc" stroke-width="0.65"/>
<line x1="12.50" y1="505.00" x2="69.30" y2="463.30" stroke="#bcbcbc" stroke-width="0.65"/>
<line x1="69.30" y1="463.30" x2="160.90" y2="486.90" stroke="#bcbcbc" stroke-width="0.65"/>
<line x1="12.50" y1="505.00" x2="69.30" y2="463.30" stroke="#bdbdbd" stroke-width="0.6"/>
<line x1="69.30" y1="463.30" x2="160.90" y2="486.90" stroke="#bdbdbd" stroke-width="0.6"/>
<line x1="12.50" y1="505.00" x2="15.60" y2="573.20" stroke="#bdbdbd" stroke-width="0.6"/>
<line x1="160.90" y1="486.90" x2="159.50" y2="553.50" stroke="#bdbdbd" stroke-width="0.6"/>
<line x1="15.60" y1="573.20" x2="107.50" y2="605.00" stroke="#222" stroke-width="0.9"/>
<line x1="107.50" y1="605.00" x2="159.50" y2="553.50" stroke="#222" stroke-width="0.9"/>
<line x1="159.50" y1="553.50" x2="160.90" y2="486.90" stroke="#222" stroke-width="0.9"/>
<polygon points="106.8,543.8 124.5,524.3 146.1,541.8 134,575.6 109.7,597.2 96.2,560.7 100,548" fill="#dbe1f4" fill-opacity="0.92"/>
<polygon points="108,566 126,570 134,575.6 109.7,597.2 102,578" fill="#c3cceb" fill-opacity="0.85"/>
<polygon points="23.6,514.6 60,529 106.8,543.8 112,560 110,571 90,560 60,542 35,524" fill="#f3cfcc" fill-opacity="0.85"/>
<polygon points="12.50,510.50 69.30,471.60 160.90,492.40 106.80,543.80" fill="#eef0a4" fill-opacity="0.9"/>
<polygon points="69.3,470.0 100,489 130.4,509.1 116,522 100,536.5 70,529 40,520 23.6,514.6 30,505 48,488" fill="#e2b676" fill-opacity="0.7"/>
<line x1="23.86" y1="502.72" x2="117.62" y2="533.52" stroke="#b89050" stroke-width="0.4" stroke-opacity="0.45"/>
<line x1="31.36" y1="517.16" x2="87.62" y2="475.76" stroke="#b89050" stroke-width="0.4" stroke-opacity="0.45"/>
<line x1="35.22" y1="494.94" x2="128.44" y2="523.24" stroke="#b89050" stroke-width="0.4" stroke-opacity="0.45"/>
<line x1="50.22" y1="523.82" x2="105.94" y2="479.92" stroke="#b89050" stroke-width="0.4" stroke-opacity="0.45"/>
<line x1="46.58" y1="487.16" x2="139.26" y2="512.96" stroke="#b89050" stroke-width="0.4" stroke-opacity="0.45"/>
<line x1="69.08" y1="530.48" x2="124.26" y2="484.08" stroke="#b89050" stroke-width="0.4" stroke-opacity="0.45"/>
<line x1="57.94" y1="479.38" x2="150.08" y2="502.68" stroke="#b89050" stroke-width="0.4" stroke-opacity="0.45"/>
<line x1="87.94" y1="537.14" x2="142.58" y2="488.24" stroke="#b89050" stroke-width="0.4" stroke-opacity="0.45"/>
<line x1="12.50" y1="505.00" x2="15.60" y2="573.20" stroke="#7a6040" stroke-width="0.55" stroke-opacity="0.28"/>
<line x1="69.30" y1="463.30" x2="69.30" y2="537.70" stroke="#7a6040" stroke-width="0.55" stroke-opacity="0.28"/>
<line x1="15.60" y1="573.20" x2="69.30" y2="537.70" stroke="#7a6040" stroke-width="0.55" stroke-opacity="0.28"/>
<line x1="15.60" y1="573.20" x2="107.50" y2="605.00" stroke="#7a6040" stroke-width="0.55" stroke-opacity="0.28"/>
<line x1="23.86" y1="496.66" x2="26.34" y2="566.10" stroke="#7a6040" stroke-width="0.55" stroke-opacity="0.28"/>
<line x1="87.62" y1="468.02" x2="87.34" y2="540.86" stroke="#7a6040" stroke-width="0.55" stroke-opacity="0.28"/>
<line x1="33.98" y1="579.56" x2="87.34" y2="540.86" stroke="#7a6040" stroke-width="0.55" stroke-opacity="0.28"/>
<line x1="26.34" y1="566.10" x2="117.90" y2="594.70" stroke="#7a6040" stroke-width="0.55" stroke-opacity="0.28"/>
<line x1="35.22" y1="488.32" x2="37.08" y2="559.00" stroke="#7a6040" stroke-width="0.55" stroke-opacity="0.28"/>
<line x1="105.94" y1="472.74" x2="105.38" y2="544.02" stroke="#7a6040" stroke-width="0.55" stroke-opacity="0.28"/>
<line x1="52.36" y1="585.92" x2="105.38" y2="544.02" stroke="#7a6040" stroke-width="0.55" stroke-opacity="0.28"/>
<line x1="37.08" y1="559.00" x2="128.30" y2="584.40" stroke="#7a6040" stroke-width="0.55" stroke-opacity="0.28"/>
<line x1="46.58" y1="479.98" x2="47.82" y2="551.90" stroke="#7a6040" stroke-width="0.55" stroke-opacity="0.28"/>
<line x1="124.26" y1="477.46" x2="123.42" y2="547.18" stroke="#7a6040" stroke-width="0.55" stroke-opacity="0.28"/>
<line x1="70.74" y1="592.28" x2="123.42" y2="547.18" stroke="#7a6040" stroke-width="0.55" stroke-opacity="0.28"/>
<line x1="47.82" y1="551.90" x2="138.70" y2="574.10" stroke="#7a6040" stroke-width="0.55" stroke-opacity="0.28"/>
<line x1="57.94" y1="471.64" x2="58.56" y2="544.80" stroke="#7a6040" stroke-width="0.55" stroke-opacity="0.28"/>
<line x1="142.58" y1="482.18" x2="141.46" y2="550.34" stroke="#7a6040" stroke-width="0.55" stroke-opacity="0.28"/>
<line x1="89.12" y1="598.64" x2="141.46" y2="550.34" stroke="#7a6040" stroke-width="0.55" stroke-opacity="0.28"/>
<line x1="58.56" y1="544.80" x2="149.10" y2="563.80" stroke="#7a6040" stroke-width="0.55" stroke-opacity="0.28"/>
<line x1="69.30" y1="463.30" x2="69.30" y2="537.70" stroke="#7a6040" stroke-width="0.55" stroke-opacity="0.28"/>
<line x1="160.90" y1="486.90" x2="159.50" y2="553.50" stroke="#7a6040" stroke-width="0.55" stroke-opacity="0.28"/>
<line x1="107.50" y1="605.00" x2="159.50" y2="553.50" stroke="#7a6040" stroke-width="0.55" stroke-opacity="0.28"/>
<line x1="69.30" y1="537.70" x2="159.50" y2="553.50" stroke="#7a6040" stroke-width="0.55" stroke-opacity="0.28"/>
<line x1="14.82" y1="556.15" x2="69.30" y2="519.10" stroke="#7a6040" stroke-width="0.55" stroke-opacity="0.28"/>
<line x1="69.30" y1="519.10" x2="159.85" y2="536.85" stroke="#7a6040" stroke-width="0.55" stroke-opacity="0.28"/>
<line x1="14.05" y1="539.10" x2="69.30" y2="500.50" stroke="#7a6040" stroke-width="0.55" stroke-opacity="0.28"/>
<line x1="69.30" y1="500.50" x2="160.20" y2="520.20" stroke="#7a6040" stroke-width="0.55" stroke-opacity="0.28"/>
<line x1="13.28" y1="522.05" x2="69.30" y2="481.90" stroke="#7a6040" stroke-width="0.55" stroke-opacity="0.28"/>
<line x1="69.30" y1="481.90" x2="160.55" y2="503.55" stroke="#7a6040" stroke-width="0.55" stroke-opacity="0.28"/>
<line x1="12.50" y1="505.00" x2="69.30" y2="463.30" stroke="#7a6040" stroke-width="0.55" stroke-opacity="0.28"/>
<line x1="69.30" y1="463.30" x2="160.90" y2="486.90" stroke="#7a6040" stroke-width="0.55" stroke-opacity="0.28"/>
<rect x="78.8" y="541.9" width="0.8" height="0.8" fill="#e09090"/><rect x="86.5" y="551.1" width="0.8" height="0.8" fill="#e09090"/><rect x="105.0" y="549.3" width="0.8" height="0.8" fill="#6aa6cc"/><rect x="87.5" y="552.5" width="0.8" height="0.8" fill="#7ab0d0"/><rect x="101.8" y="570.8" width="0.8" height="0.8" fill="#6aa6cc"/><rect x="82.9" y="543.8" width="0.8" height="0.8" fill="#e09090"/><rect x="134.7" y="547.7" width="0.8" height="0.8" fill="#6aa6cc"/><rect x="109.9" y="545.1" width="0.8" height="0.8" fill="#6aa6cc"/><rect x="111.1" y="595.1" width="0.8" height="0.8" fill="#6aa6cc"/><rect x="115.8" y="586.8" width="0.8" height="0.8" fill="#6aa6cc"/><rect x="115.8" y="560.9" width="0.8" height="0.8" fill="#6aa6cc"/><rect x="132.3" y="543.6" width="0.8" height="0.8" fill="#6aa6cc"/><rect x="95.7" y="548.4" width="0.8" height="0.8" fill="#7ab0d0"/><rect x="134.4" y="564.1" width="0.8" height="0.8" fill="#6aa6cc"/><rect x="84.6" y="549.1" width="0.8" height="0.8" fill="#e09090"/><rect x="137.7" y="555.1" width="0.8" height="0.8" fill="#6aa6cc"/><rect x="45.8" y="524.9" width="0.8" height="0.8" fill="#e09090"/><rect x="70.0" y="545.0" width="0.8" height="0.8" fill="#7ab0d0"/><rect x="128.8" y="580.0" width="0.8" height="0.8" fill="#6aa6cc"/><rect x="112.5" y="593.4" width="0.8" height="0.8" fill="#6aa6cc"/><rect x="112.1" y="543.3" width="0.8" height="0.8" fill="#6aa6cc"/><rect x="101.9" y="554.5" width="0.8" height="0.8" fill="#6aa6cc"/><rect x="99.9" y="567.8" width="0.8" height="0.8" fill="#6aa6cc"/><rect x="69.0" y="543.1" width="0.8" height="0.8" fill="#e09090"/><rect x="80.3" y="554.0" width="0.8" height="0.8" fill="#7ab0d0"/><rect x="113.9" y="576.0" width="0.8" height="0.8" fill="#6aa6cc"/><rect x="103.4" y="562.7" width="0.8" height="0.8" fill="#6aa6cc"/><rect x="129.2" y="559.0" width="0.8" height="0.8" fill="#6aa6cc"/><rect x="129.7" y="541.9" width="0.8" height="0.8" fill="#6aa6cc"/><rect x="55.0" y="530.5" width="0.8" height="0.8" fill="#7ab0d0"/><rect x="73.7" y="537.9" width="0.8" height="0.8" fill="#7ab0d0"/><rect x="130.7" y="548.7" width="0.8" height="0.8" fill="#6aa6cc"/><rect x="116.3" y="575.0" width="0.8" height="0.8" fill="#6aa6cc"/><rect x="108.7" y="588.3" width="0.8" height="0.8" fill="#6aa6cc"/><rect x="111.1" y="579.4" width="0.8" height="0.8" fill="#6aa6cc"/><rect x="43.6" y="527.9" width="0.8" height="0.8" fill="#e09090"/><rect x="124.2" y="561.0" width="0.8" height="0.8" fill="#6aa6cc"/><rect x="131.9" y="551.1" width="0.8" height="0.8" fill="#6aa6cc"/><rect x="72.6" y="547.1" width="0.8" height="0.8" fill="#7ab0d0"/><rect x="116.8" y="570.7" width="0.8" height="0.8" fill="#6aa6cc"/><rect x="110.3" y="569.3" width="0.8" height="0.8" fill="#6aa6cc"/><rect x="103.0" y="550.4" width="0.8" height="0.8" fill="#6aa6cc"/><rect x="111.2" y="568.5" width="0.8" height="0.8" fill="#6aa6cc"/><rect x="100.0" y="565.5" width="0.8" height="0.8" fill="#6aa6cc"/><rect x="88.5" y="546.9" width="0.8" height="0.8" fill="#7ab0d0"/><rect x="136.7" y="566.8" width="0.8" height="0.8" fill="#6aa6cc"/><rect x="126.2" y="547.7" width="0.8" height="0.8" fill="#6aa6cc"/><rect x="93.4" y="546.1" width="0.8" height="0.8" fill="#7ab0d0"/><rect x="91.6" y="551.3" width="0.8" height="0.8" fill="#7ab0d0"/><rect x="101.1" y="569.5" width="0.8" height="0.8" fill="#6aa6cc"/><rect x="118.7" y="584.3" width="0.8" height="0.8" fill="#6aa6cc"/><rect x="87.0" y="539.8" width="0.8" height="0.8" fill="#7ab0d0"/><rect x="115.8" y="586.7" width="0.8" height="0.8" fill="#6aa6cc"/><rect x="84.2" y="538.9" width="0.8" height="0.8" fill="#e09090"/><rect x="112.1" y="588.8" width="0.8" height="0.8" fill="#6aa6cc"/><rect x="106.7" y="580.7" width="0.8" height="0.8" fill="#6aa6cc"/><rect x="124.8" y="578.1" width="0.8" height="0.8" fill="#6aa6cc"/><rect x="112.3" y="573.9" width="0.8" height="0.8" fill="#6aa6cc"/><rect x="104.2" y="570.4" width="0.8" height="0.8" fill="#6aa6cc"/><rect x="79.6" y="545.1" width="0.8" height="0.8" fill="#e09090"/><rect x="60.5" y="540.4" width="0.8" height="0.8" fill="#e09090"/><rect x="64.5" y="540.3" width="0.8" height="0.8" fill="#e09090"/><rect x="112.7" y="548.0" width="0.8" height="0.8" fill="#6aa6cc"/><rect x="133.0" y="536.1" width="0.8" height="0.8" fill="#6aa6cc"/><rect x="130.0" y="576.5" width="0.8" height="0.8" fill="#6aa6cc"/><rect x="144.2" y="545.4" width="0.8" height="0.8" fill="#6aa6cc"/><rect x="33.7" y="520.0" width="0.8" height="0.8" fill="#7ab0d0"/><rect x="36.1" y="521.7" width="0.8" height="0.8" fill="#7ab0d0"/><rect x="86.5" y="553.4" width="0.8" height="0.8" fill="#e09090"/><rect x="122.7" y="555.2" width="0.8" height="0.8" fill="#6aa6cc"/><rect x="69.1" y="535.2" width="0.8" height="0.8" fill="#e09090"/><rect x="127.3" y="548.7" width="0.8" height="0.8" fill="#6aa6cc"/><rect x="137.4" y="540.4" width="0.8" height="0.8" fill="#6aa6cc"/><rect x="65.8" y="534.1" width="0.8" height="0.8" fill="#7ab0d0"/><rect x="142.8" y="550.8" width="0.8" height="0.8" fill="#6aa6cc"/><rect x="137.5" y="539.7" width="0.8" height="0.8" fill="#6aa6cc"/><rect x="92.9" y="542.0" width="0.8" height="0.8" fill="#7ab0d0"/><rect x="126.3" y="547.4" width="0.8" height="0.8" fill="#6aa6cc"/><rect x="107.3" y="565.4" width="0.8" height="0.8" fill="#6aa6cc"/><rect x="69.6" y="546.1" width="0.8" height="0.8" fill="#e09090"/><rect x="70.2" y="543.2" width="0.8" height="0.8" fill="#7ab0d0"/><rect x="101.1" y="559.0" width="0.8" height="0.8" fill="#6aa6cc"/><rect x="118.5" y="567.2" width="0.8" height="0.8" fill="#6aa6cc"/><rect x="114.3" y="586.8" width="0.8" height="0.8" fill="#6aa6cc"/><rect x="115.2" y="546.9" width="0.8" height="0.8" fill="#6aa6cc"/><rect x="106.5" y="582.4" width="0.8" height="0.8" fill="#6aa6cc"/><rect x="60.0" y="533.8" width="0.8" height="0.8" fill="#e09090"/><rect x="133.0" y="562.1" width="0.8" height="0.8" fill="#6aa6cc"/><rect x="106.1" y="584.7" width="0.8" height="0.8" fill="#6aa6cc"/><rect x="105.6" y="571.4" width="0.8" height="0.8" fill="#6aa6cc"/><rect x="129.9" y="558.3" width="0.8" height="0.8" fill="#6aa6cc"/><rect x="50.6" y="526.1" width="0.8" height="0.8" fill="#e09090"/><rect x="122.3" y="572.4" width="0.8" height="0.8" fill="#6aa6cc"/><rect x="50.7" y="532.6" width="0.8" height="0.8" fill="#7ab0d0"/><rect x="112.9" y="543.6" width="0.8" height="0.8" fill="#6aa6cc"/><rect x="137.9" y="543.1" width="0.8" height="0.8" fill="#6aa6cc"/><rect x="109.8" y="577.7" width="0.8" height="0.8" fill="#6aa6cc"/><rect x="51.4" y="528.9" width="0.8" height="0.8" fill="#e09090"/><rect x="132.4" y="546.0" width="0.8" height="0.8" fill="#6aa6cc"/><rect x="47.9" y="529.7" width="0.8" height="0.8" fill="#7ab0d0"/><rect x="108.3" y="581.9" width="0.8" height="0.8" fill="#6aa6cc"/><rect x="114.0" y="587.7" width="0.8" height="0.8" fill="#6aa6cc"/><rect x="120.2" y="536.5" width="0.8" height="0.8" fill="#6aa6cc"/><rect x="75.1" y="539.8" width="0.8" height="0.8" fill="#7ab0d0"/><rect x="114.3" y="555.9" width="0.8" height="0.8" fill="#6aa6cc"/><rect x="107.2" y="589.3" width="0.8" height="0.8" fill="#6aa6cc"/><rect x="62.7" y="533.6" width="0.8" height="0.8" fill="#7ab0d0"/><rect x="95.7" y="560.6" width="0.8" height="0.8" fill="#7ab0d0"/><rect x="135.9" y="542.7" width="0.8" height="0.8" fill="#6aa6cc"/><rect x="44.2" y="529.9" width="0.8" height="0.8" fill="#7ab0d0"/><rect x="120.3" y="550.8" width="0.8" height="0.8" fill="#6aa6cc"/><rect x="51.1" y="533.2" width="0.8" height="0.8" fill="#7ab0d0"/><rect x="91.3" y="550.4" width="0.8" height="0.8" fill="#7ab0d0"/><rect x="113.1" y="559.8" width="0.8" height="0.8" fill="#6aa6cc"/><rect x="109.3" y="595.2" width="0.8" height="0.8" fill="#6aa6cc"/><rect x="118.7" y="579.2" width="0.8" height="0.8" fill="#6aa6cc"/><rect x="127.7" y="542.9" width="0.8" height="0.8" fill="#6aa6cc"/><rect x="52.7" y="532.5" width="0.8" height="0.8" fill="#7ab0d0"/><rect x="49.6" y="531.7" width="0.8" height="0.8" fill="#7ab0d0"/><rect x="132.7" y="531.9" width="0.8" height="0.8" fill="#6aa6cc"/><rect x="91.6" y="554.7" width="0.8" height="0.8" fill="#7ab0d0"/><rect x="60.3" y="535.9" width="0.8" height="0.8" fill="#7ab0d0"/><rect x="125.3" y="572.6" width="0.8" height="0.8" fill="#6aa6cc"/><rect x="124.4" y="577.3" width="0.8" height="0.8" fill="#6aa6cc"/><rect x="91.0" y="557.8" width="0.8" height="0.8" fill="#7ab0d0"/><rect x="131.3" y="551.0" width="0.8" height="0.8" fill="#6aa6cc"/><rect x="85.6" y="542.9" width="0.8" height="0.8" fill="#7ab0d0"/><rect x="128.9" y="559.1" width="0.8" height="0.8" fill="#6aa6cc"/><rect x="78.1" y="546.3" width="0.8" height="0.8" fill="#7ab0d0"/><rect x="129.2" y="553.7" width="0.8" height="0.8" fill="#6aa6cc"/><rect x="123.7" y="535.5" width="0.8" height="0.8" fill="#6aa6cc"/><rect x="133.1" y="561.9" width="0.8" height="0.8" fill="#6aa6cc"/><rect x="79.0" y="538.8" width="0.8" height="0.8" fill="#e09090"/><rect x="124.0" y="580.9" width="0.8" height="0.8" fill="#6aa6cc"/><rect x="120.2" y="540.5" width="0.8" height="0.8" fill="#6aa6cc"/><rect x="130.4" y="549.5" width="0.8" height="0.8" fill="#6aa6cc"/><rect x="109.9" y="565.2" width="0.8" height="0.8" fill="#6aa6cc"/><rect x="131.1" y="557.3" width="0.8" height="0.8" fill="#6aa6cc"/><rect x="110.3" y="556.7" width="0.8" height="0.8" fill="#6aa6cc"/><rect x="130.5" y="546.0" width="0.8" height="0.8" fill="#6aa6cc"/><rect x="114.0" y="556.3" width="0.8" height="0.8" fill="#6aa6cc"/><rect x="104.5" y="560.5" width="0.8" height="0.8" fill="#6aa6cc"/><rect x="104.4" y="550.2" width="0.8" height="0.8" fill="#6aa6cc"/><rect x="125.5" y="564.5" width="0.8" height="0.8" fill="#6aa6cc"/><rect x="65.6" y="538.7" width="0.8" height="0.8" fill="#7ab0d0"/><rect x="59.2" y="535.0" width="0.8" height="0.8" fill="#7ab0d0"/><rect x="78.7" y="541.7" width="0.8" height="0.8" fill="#7ab0d0"/><rect x="72.8" y="548.8" width="0.8" height="0.8" fill="#e09090"/><rect x="126.4" y="564.9" width="0.8" height="0.8" fill="#6aa6cc"/><rect x="83.6" y="554.3" width="0.8" height="0.8" fill="#e09090"/><rect x="143.0" y="543.0" width="0.8" height="0.8" fill="#6aa6cc"/><rect x="117.4" y="532.3" width="0.8" height="0.8" fill="#6aa6cc"/><rect x="99.2" y="545.8" width="0.8" height="0.8" fill="#7ab0d0"/><rect x="126.5" y="572.1" width="0.8" height="0.8" fill="#6aa6cc"/><rect x="140.6" y="552.3" width="0.8" height="0.8" fill="#6aa6cc"/><rect x="117.9" y="544.5" width="0.8" height="0.8" fill="#6aa6cc"/><rect x="128.4" y="555.9" width="0.8" height="0.8" fill="#6aa6cc"/><rect x="144.0" y="541.9" width="0.8" height="0.8" fill="#6aa6cc"/><rect x="73.9" y="538.8" width="0.8" height="0.8" fill="#e09090"/><rect x="107.7" y="590.5" width="0.8" height="0.8" fill="#6aa6cc"/><rect x="70.5" y="543.8" width="0.8" height="0.8" fill="#e09090"/><rect x="66.6" y="545.1" width="0.8" height="0.8" fill="#7ab0d0"/><rect x="76.3" y="549.5" width="0.8" height="0.8" fill="#7ab0d0"/><rect x="110.8" y="543.0" width="0.8" height="0.8" fill="#6aa6cc"/><rect x="119.4" y="574.4" width="0.8" height="0.8" fill="#6aa6cc"/><rect x="89.5" y="548.5" width="0.8" height="0.8" fill="#7ab0d0"/><rect x="119.4" y="544.9" width="0.8" height="0.8" fill="#6aa6cc"/><rect x="56.1" y="535.2" width="0.8" height="0.8" fill="#e09090"/><rect x="131.1" y="548.4" width="0.8" height="0.8" fill="#6aa6cc"/><rect x="89.5" y="555.1" width="0.8" height="0.8" fill="#e09090"/><rect x="50.3" y="527.8" width="0.8" height="0.8" fill="#7ab0d0"/><rect x="114.8" y="592.6" width="0.8" height="0.8" fill="#6aa6cc"/><rect x="85.7" y="542.7" width="0.8" height="0.8" fill="#7ab0d0"/><rect x="131.2" y="571.6" width="0.8" height="0.8" fill="#6aa6cc"/><rect x="83.3" y="541.6" width="0.8" height="0.8" fill="#e09090"/><rect x="111.3" y="591.9" width="0.8" height="0.8" fill="#6aa6cc"/><rect x="83.7" y="546.0" width="0.8" height="0.8" fill="#7ab0d0"/><rect x="99.7" y="548.9" width="0.8" height="0.8" fill="#e09090"/><rect x="107.6" y="572.3" width="0.8" height="0.8" fill="#6aa6cc"/><rect x="112.9" y="592.8" width="0.8" height="0.8" fill="#6aa6cc"/><rect x="108.2" y="584.5" width="0.8" height="0.8" fill="#6aa6cc"/><rect x="88.5" y="539.3" width="0.8" height="0.8" fill="#7ab0d0"/><rect x="119.1" y="537.5" width="0.8" height="0.8" fill="#6aa6cc"/><rect x="79.8" y="547.6" width="0.8" height="0.8" fill="#e09090"/><rect x="123.9" y="533.9" width="0.8" height="0.8" fill="#6aa6cc"/><rect x="94.6" y="551.4" width="0.8" height="0.8" fill="#7ab0d0"/><rect x="82.6" y="552.7" width="0.8" height="0.8" fill="#e09090"/><rect x="75.4" y="541.3" width="0.8" height="0.8" fill="#e09090"/><rect x="128.4" y="574.1" width="0.8" height="0.8" fill="#6aa6cc"/><rect x="109.1" y="573.3" width="0.8" height="0.8" fill="#6aa6cc"/><rect x="112.5" y="574.9" width="0.8" height="0.8" fill="#6aa6cc"/><rect x="141.2" y="553.0" width="0.8" height="0.8" fill="#6aa6cc"/><rect x="132.8" y="569.5" width="0.8" height="0.8" fill="#6aa6cc"/><rect x="122.1" y="583.3" width="0.8" height="0.8" fill="#6aa6cc"/><rect x="105.0" y="570.3" width="0.8" height="0.8" fill="#6aa6cc"/><rect x="109.2" y="592.4" width="0.8" height="0.8" fill="#6aa6cc"/><rect x="66.2" y="537.6" width="0.8" height="0.8" fill="#e09090"/><rect x="109.1" y="568.6" width="0.8" height="0.8" fill="#6aa6cc"/><rect x="92.2" y="552.6" width="0.8" height="0.8" fill="#e09090"/><rect x="119.7" y="553.5" width="0.8" height="0.8" fill="#6aa6cc"/><rect x="36.6" y="524.2" width="0.8" height="0.8" fill="#7ab0d0"/><rect x="104.5" y="557.9" width="0.8" height="0.8" fill="#6aa6cc"/><rect x="130.8" y="532.2" width="0.8" height="0.8" fill="#6aa6cc"/><rect x="132.5" y="535.2" width="0.8" height="0.8" fill="#6aa6cc"/><rect x="122.9" y="561.5" width="0.8" height="0.8" fill="#6aa6cc"/><rect x="107.3" y="565.8" width="0.8" height="0.8" fill="#6aa6cc"/><rect x="120.1" y="539.2" width="0.8" height="0.8" fill="#6aa6cc"/><rect x="96.7" y="562.0" width="0.8" height="0.8" fill="#6aa6cc"/><rect x="119.0" y="566.6" width="0.8" height="0.8" fill="#6aa6cc"/><rect x="111.7" y="542.1" width="0.8" height="0.8" fill="#6aa6cc"/><rect x="79.8" y="537.9" width="0.8" height="0.8" fill="#e09090"/><rect x="110.0" y="559.1" width="0.8" height="0.8" fill="#6aa6cc"/><rect x="123.2" y="565.5" width="0.8" height="0.8" fill="#6aa6cc"/><rect x="54.4" y="532.6" width="0.8" height="0.8" fill="#7ab0d0"/><rect x="111.4" y="560.3" width="0.8" height="0.8" fill="#6aa6cc"/><rect x="48.4" y="530.6" width="0.8" height="0.8" fill="#7ab0d0"/><rect x="94.1" y="548.4" width="0.8" height="0.8" fill="#e09090"/><rect x="129.3" y="539.7" width="0.8" height="0.8" fill="#6aa6cc"/><rect x="118.0" y="550.2" width="0.8" height="0.8" fill="#6aa6cc"/><rect x="105.7" y="559.4" width="0.8" height="0.8" fill="#6aa6cc"/><rect x="70.7" y="534.5" width="0.8" height="0.8" fill="#7ab0d0"/><rect x="88.8" y="538.4" width="0.8" height="0.8" fill="#e09090"/><rect x="128.7" y="558.2" width="0.8" height="0.8" fill="#6aa6cc"/><rect x="109.9" y="566.3" width="0.8" height="0.8" fill="#6aa6cc"/><rect x="119.1" y="546.1" width="0.8" height="0.8" fill="#6aa6cc"/><rect x="78.1" y="539.8" width="0.8" height="0.8" fill="#7ab0d0"/><rect x="95.1" y="551.4" width="0.8" height="0.8" fill="#7ab0d0"/><rect x="144.5" y="541.8" width="0.8" height="0.8" fill="#6aa6cc"/><rect x="114.1" y="568.1" width="0.8" height="0.8" fill="#6aa6cc"/><rect x="107.1" y="550.9" width="0.8" height="0.8" fill="#6aa6cc"/><rect x="119.6" y="542.6" width="0.8" height="0.8" fill="#6aa6cc"/><rect x="44.6" y="529.7" width="0.8" height="0.8" fill="#e09090"/><rect x="100.6" y="566.4" width="0.8" height="0.8" fill="#6aa6cc"/><rect x="118.9" y="563.4" width="0.8" height="0.8" fill="#6aa6cc"/><rect x="130.0" y="547.4" width="0.8" height="0.8" fill="#6aa6cc"/><rect x="135.4" y="545.6" width="0.8" height="0.8" fill="#6aa6cc"/><rect x="71.0" y="539.5" width="0.8" height="0.8" fill="#e09090"/><rect x="111.9" y="587.9" width="0.8" height="0.8" fill="#6aa6cc"/><rect x="122.0" y="560.3" width="0.8" height="0.8" fill="#6aa6cc"/><rect x="136.7" y="544.2" width="0.8" height="0.8" fill="#6aa6cc"/><rect x="129.1" y="554.6" width="0.8" height="0.8" fill="#6aa6cc"/><rect x="72.5" y="542.5" width="0.8" height="0.8" fill="#7ab0d0"/><rect x="44.9" y="527.1" width="0.8" height="0.8" fill="#e09090"/><rect x="50.2" y="531.6" width="0.8" height="0.8" fill="#e09090"/><rect x="115.0" y="543.5" width="0.8" height="0.8" fill="#6aa6cc"/><rect x="127.2" y="558.3" width="0.8" height="0.8" fill="#6aa6cc"/><rect x="107.3" y="564.2" width="0.8" height="0.8" fill="#6aa6cc"/><rect x="134.9" y="541.1" width="0.8" height="0.8" fill="#6aa6cc"/><rect x="98.9" y="558.0" width="0.8" height="0.8" fill="#6aa6cc"/><rect x="57.7" y="528.2" width="0.8" height="0.8" fill="#7ab0d0"/><rect x="75.0" y="547.5" width="0.8" height="0.8" fill="#e09090"/><rect x="135.8" y="566.9" width="0.8" height="0.8" fill="#6aa6cc"/><rect x="47.8" y="526.9" width="0.8" height="0.8" fill="#7ab0d0"/><rect x="114.1" y="587.3" width="0.8" height="0.8" fill="#6aa6cc"/><rect x="84.5" y="553.1" width="0.8" height="0.8" fill="#7ab0d0"/><rect x="97.7" y="549.0" width="0.8" height="0.8" fill="#e09090"/><rect x="124.0" y="557.3" width="0.8" height="0.8" fill="#6aa6cc"/><rect x="78.9" y="547.0" width="0.8" height="0.8" fill="#7ab0d0"/><rect x="132.8" y="543.8" width="0.8" height="0.8" fill="#6aa6cc"/><rect x="118.5" y="553.2" width="0.8" height="0.8" fill="#6aa6cc"/><rect x="109.6" y="543.2" width="0.8" height="0.8" fill="#6aa6cc"/><rect x="122.5" y="576.9" width="0.8" height="0.8" fill="#6aa6cc"/><rect x="129.9" y="574.1" width="0.8" height="0.8" fill="#6aa6cc"/><rect x="119.9" y="546.0" width="0.8" height="0.8" fill="#6aa6cc"/><rect x="89.3" y="544.8" width="0.8" height="0.8" fill="#7ab0d0"/><rect x="104.3" y="563.0" width="0.8" height="0.8" fill="#6aa6cc"/><rect x="109.1" y="561.9" width="0.8" height="0.8" fill="#6aa6cc"/><rect x="62.4" y="542.8" width="0.8" height="0.8" fill="#7ab0d0"/><rect x="120.0" y="565.3" width="0.8" height="0.8" fill="#6aa6cc"/><rect x="129.1" y="557.9" width="0.8" height="0.8" fill="#6aa6cc"/><rect x="132.5" y="535.3" width="0.8" height="0.8" fill="#6aa6cc"/><rect x="142.5" y="546.6" width="0.8" height="0.8" fill="#6aa6cc"/><rect x="73.6" y="540.1" width="0.8" height="0.8" fill="#7ab0d0"/><rect x="63.6" y="532.9" width="0.8" height="0.8" fill="#7ab0d0"/><rect x="77.7" y="537.4" width="0.8" height="0.8" fill="#7ab0d0"/><rect x="114.4" y="557.0" width="0.8" height="0.8" fill="#6aa6cc"/><rect x="80.0" y="538.4" width="0.8" height="0.8" fill="#7ab0d0"/><rect x="117.8" y="549.3" width="0.8" height="0.8" fill="#6aa6cc"/><rect x="115.3" y="584.0" width="0.8" height="0.8" fill="#6aa6cc"/><rect x="76.6" y="546.7" width="0.8" height="0.8" fill="#e09090"/><rect x="51.8" y="528.7" width="0.8" height="0.8" fill="#7ab0d0"/><rect x="117.1" y="569.3" width="0.8" height="0.8" fill="#6aa6cc"/><rect x="88.3" y="555.4" width="0.8" height="0.8" fill="#7ab0d0"/><rect x="126.7" y="542.8" width="0.8" height="0.8" fill="#6aa6cc"/><rect x="128.7" y="578.6" width="0.8" height="0.8" fill="#6aa6cc"/><rect x="106.5" y="559.6" width="0.8" height="0.8" fill="#6aa6cc"/><rect x="114.1" y="573.9" width="0.8" height="0.8" fill="#6aa6cc"/><rect x="110.4" y="588.5" width="0.8" height="0.8" fill="#6aa6cc"/><rect x="132.8" y="548.4" width="0.8" height="0.8" fill="#6aa6cc"/><rect x="115.1" y="549.0" width="0.8" height="0.8" fill="#6aa6cc"/><rect x="138.4" y="556.2" width="0.8" height="0.8" fill="#6aa6cc"/><rect x="83.5" y="537.2" width="0.8" height="0.8" fill="#7ab0d0"/><rect x="126.0" y="569.6" width="0.8" height="0.8" fill="#6aa6cc"/><rect x="111.1" y="546.5" width="0.8" height="0.8" fill="#6aa6cc"/><rect x="132.6" y="565.8" width="0.8" height="0.8" fill="#6aa6cc"/><rect x="117.2" y="578.9" width="0.8" height="0.8" fill="#6aa6cc"/><rect x="101.2" y="547.8" width="0.8" height="0.8" fill="#6aa6cc"/><rect x="113.2" y="537.6" width="0.8" height="0.8" fill="#6aa6cc"/><rect x="126.4" y="533.5" width="0.8" height="0.8" fill="#6aa6cc"/><rect x="113.7" y="560.6" width="0.8" height="0.8" fill="#6aa6cc"/><rect x="99.6" y="550.1" width="0.8" height="0.8" fill="#6aa6cc"/><rect x="109.3" y="578.0" width="0.8" height="0.8" fill="#6aa6cc"/><rect x="76.3" y="549.3" width="0.8" height="0.8" fill="#7ab0d0"/><rect x="114.4" y="592.3" width="0.8" height="0.8" fill="#6aa6cc"/><rect x="124.5" y="548.0" width="0.8" height="0.8" fill="#6aa6cc"/><rect x="103.7" y="573.7" width="0.8" height="0.8" fill="#6aa6cc"/><rect x="132.8" y="558.0" width="0.8" height="0.8" fill="#6aa6cc"/><rect x="125.1" y="532.5" width="0.8" height="0.8" fill="#6aa6cc"/><rect x="127.8" y="574.4" width="0.8" height="0.8" fill="#6aa6cc"/><rect x="118.4" y="584.5" width="0.8" height="0.8" fill="#6aa6cc"/><rect x="116.1" y="580.7" width="0.8" height="0.8" fill="#6aa6cc"/><rect x="96.0" y="553.3" width="0.8" height="0.8" fill="#7ab0d0"/><rect x="142.7" y="546.0" width="0.8" height="0.8" fill="#6aa6cc"/><rect x="108.2" y="585.7" width="0.8" height="0.8" fill="#6aa6cc"/><rect x="100.9" y="544.8" width="0.8" height="0.8" fill="#7ab0d0"/><rect x="69.3" y="543.2" width="0.8" height="0.8" fill="#7ab0d0"/><rect x="103.5" y="547.2" width="0.8" height="0.8" fill="#6aa6cc"/><rect x="115.5" y="562.9" width="0.8" height="0.8" fill="#6aa6cc"/><rect x="113.4" y="549.3" width="0.8" height="0.8" fill="#6aa6cc"/><rect x="116.5" y="547.7" width="0.8" height="0.8" fill="#6aa6cc"/><rect x="81.3" y="541.0" width="0.8" height="0.8" fill="#e09090"/><rect x="144.1" y="547.1" width="0.8" height="0.8" fill="#6aa6cc"/><rect x="50.1" y="525.8" width="0.8" height="0.8" fill="#7ab0d0"/><rect x="123.4" y="574.2" width="0.8" height="0.8" fill="#6aa6cc"/><rect x="91.2" y="542.0" width="0.8" height="0.8" fill="#e09090"/><rect x="104.3" y="580.8" width="0.8" height="0.8" fill="#6aa6cc"/><rect x="109.5" y="545.4" width="0.8" height="0.8" fill="#6aa6cc"/><rect x="79.2" y="535.3" width="0.8" height="0.8" fill="#7ab0d0"/><rect x="77.9" y="539.0" width="0.8" height="0.8" fill="#e09090"/><rect x="129.0" y="571.7" width="0.8" height="0.8" fill="#6aa6cc"/><rect x="77.6" y="481.8" width="0.9" height="0.9" fill="#92c6a2"/><rect x="77.2" y="483.8" width="0.9" height="0.9" fill="#92c6a2"/><rect x="76.9" y="485.0" width="0.9" height="0.9" fill="#92c6a2"/><rect x="76.0" y="485.7" width="0.9" height="0.9" fill="#92c6a2"/><rect x="76.0" y="487.2" width="0.9" height="0.9" fill="#92c6a2"/><rect x="75.0" y="488.9" width="0.9" height="0.9" fill="#92c6a2"/><rect x="74.4" y="489.9" width="0.9" height="0.9" fill="#92c6a2"/><rect x="73.7" y="491.6" width="0.9" height="0.9" fill="#92c6a2"/><rect x="73.7" y="492.4" width="0.9" height="0.9" fill="#92c6a2"/><rect x="72.8" y="494.1" width="0.9" height="0.9" fill="#92c6a2"/><rect x="72.2" y="495.5" width="0.9" height="0.9" fill="#92c6a2"/><rect x="71.8" y="496.6" width="0.9" height="0.9" fill="#92c6a2"/><rect x="57.1" y="508.3" width="0.9" height="0.9" fill="#92c6a2"/><rect x="56.6" y="509.1" width="0.9" height="0.9" fill="#92c6a2"/><rect x="56.0" y="510.5" width="0.9" height="0.9" fill="#92c6a2"/><rect x="55.3" y="512.4" width="0.9" height="0.9" fill="#92c6a2"/><rect x="54.9" y="513.5" width="0.9" height="0.9" fill="#92c6a2"/><rect x="54.1" y="514.7" width="0.9" height="0.9" fill="#92c6a2"/><rect x="53.6" y="515.7" width="0.9" height="0.9" fill="#92c6a2"/><rect x="53.0" y="516.8" width="0.9" height="0.9" fill="#92c6a2"/><rect x="53.1" y="518.9" width="0.9" height="0.9" fill="#92c6a2"/><rect x="52.1" y="519.4" width="0.9" height="0.9" fill="#92c6a2"/><rect x="51.9" y="521.2" width="0.9" height="0.9" fill="#92c6a2"/><rect x="50.8" y="522.6" width="0.9" height="0.9" fill="#92c6a2"/><rect x="107.6" y="526.7" width="0.9" height="0.9" fill="#92c6a2"/><rect x="107.2" y="528.1" width="0.9" height="0.9" fill="#92c6a2"/><rect x="106.6" y="529.5" width="0.9" height="0.9" fill="#92c6a2"/><rect x="106.2" y="530.8" width="0.9" height="0.9" fill="#92c6a2"/><rect x="62.5" y="483.6" width="0.9" height="0.9" fill="#92c6a2"/><rect x="61.9" y="484.7" width="0.9" height="0.9" fill="#92c6a2"/><rect x="61.0" y="485.7" width="0.9" height="0.9" fill="#92c6a2"/><rect x="60.8" y="487.1" width="0.9" height="0.9" fill="#92c6a2"/><rect x="60.2" y="488.6" width="0.9" height="0.9" fill="#92c6a2"/><rect x="88.5" y="501.4" width="0.9" height="0.9" fill="#92c6a2"/><rect x="87.8" y="502.1" width="0.9" height="0.9" fill="#92c6a2"/><rect x="87.7" y="503.7" width="0.9" height="0.9" fill="#92c6a2"/><rect x="86.8" y="505.0" width="0.9" height="0.9" fill="#92c6a2"/><rect x="86.9" y="505.9" width="0.9" height="0.9" fill="#92c6a2"/><rect x="86.1" y="507.9" width="0.9" height="0.9" fill="#92c6a2"/><rect x="85.6" y="508.8" width="0.9" height="0.9" fill="#92c6a2"/><rect x="96.4" y="508.0" width="0.9" height="0.9" fill="#92c6a2"/><rect x="95.9" y="509.1" width="0.9" height="0.9" fill="#92c6a2"/><rect x="95.5" y="510.2" width="0.9" height="0.9" fill="#92c6a2"/><rect x="94.5" y="511.4" width="0.9" height="0.9" fill="#92c6a2"/><rect x="94.3" y="513.3" width="0.9" height="0.9" fill="#92c6a2"/><rect x="93.5" y="514.5" width="0.9" height="0.9" fill="#92c6a2"/><rect x="93.6" y="515.7" width="0.9" height="0.9" fill="#92c6a2"/><rect x="92.5" y="516.4" width="0.9" height="0.9" fill="#92c6a2"/><rect x="96.4" y="531.8" width="0.9" height="0.9" fill="#92c6a2"/><rect x="95.8" y="532.5" width="0.9" height="0.9" fill="#92c6a2"/><rect x="94.9" y="534.2" width="0.9" height="0.9" fill="#92c6a2"/><rect x="94.6" y="513.5" width="0.9" height="0.9" fill="#92c6a2"/><rect x="93.8" y="514.9" width="0.9" height="0.9" fill="#92c6a2"/><rect x="92.9" y="515.7" width="0.9" height="0.9" fill="#92c6a2"/><rect x="92.7" y="517.3" width="0.9" height="0.9" fill="#92c6a2"/><rect x="92.5" y="518.6" width="0.9" height="0.9" fill="#92c6a2"/><rect x="91.2" y="520.1" width="0.9" height="0.9" fill="#92c6a2"/><rect x="91.0" y="520.8" width="0.9" height="0.9" fill="#92c6a2"/><rect x="90.7" y="522.5" width="0.9" height="0.9" fill="#92c6a2"/><rect x="90.2" y="523.7" width="0.9" height="0.9" fill="#92c6a2"/><rect x="89.2" y="525.0" width="0.9" height="0.9" fill="#92c6a2"/><rect x="88.8" y="526.2" width="0.9" height="0.9" fill="#92c6a2"/><rect x="103.2" y="499.1" width="0.9" height="0.9" fill="#92c6a2"/><rect x="102.4" y="500.6" width="0.9" height="0.9" fill="#92c6a2"/><rect x="101.9" y="501.9" width="0.9" height="0.9" fill="#92c6a2"/><rect x="101.3" y="503.3" width="0.9" height="0.9" fill="#92c6a2"/><rect x="101.1" y="503.9" width="0.9" height="0.9" fill="#92c6a2"/><rect x="100.6" y="505.2" width="0.9" height="0.9" fill="#92c6a2"/><rect x="64.2" y="496.9" width="0.9" height="0.9" fill="#92c6a2"/><rect x="63.6" y="498.6" width="0.9" height="0.9" fill="#92c6a2"/><rect x="63.1" y="500.0" width="0.9" height="0.9" fill="#92c6a2"/><rect x="62.6" y="500.8" width="0.9" height="0.9" fill="#92c6a2"/><rect x="62.5" y="502.1" width="0.9" height="0.9" fill="#92c6a2"/><rect x="61.3" y="503.6" width="0.9" height="0.9" fill="#92c6a2"/><rect x="60.9" y="504.9" width="0.9" height="0.9" fill="#92c6a2"/><rect x="60.5" y="506.0" width="0.9" height="0.9" fill="#92c6a2"/><rect x="60.0" y="507.2" width="0.9" height="0.9" fill="#92c6a2"/><rect x="83.9" y="499.0" width="0.9" height="0.9" fill="#92c6a2"/><rect x="83.4" y="500.0" width="0.9" height="0.9" fill="#92c6a2"/><rect x="83.2" y="501.7" width="0.9" height="0.9" fill="#92c6a2"/><rect x="82.8" y="502.4" width="0.9" height="0.9" fill="#92c6a2"/><rect x="82.3" y="503.8" width="0.9" height="0.9" fill="#92c6a2"/><rect x="81.7" y="505.2" width="0.9" height="0.9" fill="#92c6a2"/><rect x="81.4" y="506.6" width="0.9" height="0.9" fill="#92c6a2"/><rect x="80.3" y="507.7" width="0.9" height="0.9" fill="#92c6a2"/><rect x="80.3" y="509.1" width="0.9" height="0.9" fill="#92c6a2"/><rect x="49.0" y="509.3" width="0.9" height="0.9" fill="#92c6a2"/><rect x="48.4" y="510.8" width="0.9" height="0.9" fill="#92c6a2"/><rect x="47.8" y="512.1" width="0.9" height="0.9" fill="#92c6a2"/><rect x="47.2" y="513.2" width="0.9" height="0.9" fill="#92c6a2"/><rect x="46.4" y="514.2" width="0.9" height="0.9" fill="#92c6a2"/><rect x="67.7" y="521.6" width="0.9" height="0.9" fill="#92c6a2"/><rect x="67.8" y="522.6" width="0.9" height="0.9" fill="#92c6a2"/><rect x="66.7" y="524.3" width="0.9" height="0.9" fill="#92c6a2"/><rect x="66.1" y="525.2" width="0.9" height="0.9" fill="#92c6a2"/><rect x="65.9" y="526.6" width="0.9" height="0.9" fill="#92c6a2"/><rect x="81.3" y="480.2" width="0.9" height="0.9" fill="#92c6a2"/><rect x="80.6" y="481.2" width="0.9" height="0.9" fill="#92c6a2"/><rect x="80.0" y="482.3" width="0.9" height="0.9" fill="#92c6a2"/><rect x="79.4" y="483.5" width="0.9" height="0.9" fill="#92c6a2"/><rect x="79.5" y="485.1" width="0.9" height="0.9" fill="#92c6a2"/><rect x="109.4" y="498.3" width="0.9" height="0.9" fill="#92c6a2"/><rect x="109.1" y="499.2" width="0.9" height="0.9" fill="#92c6a2"/><rect x="108.4" y="500.3" width="0.9" height="0.9" fill="#92c6a2"/><rect x="107.6" y="501.6" width="0.9" height="0.9" fill="#92c6a2"/><rect x="107.8" y="503.6" width="0.9" height="0.9" fill="#92c6a2"/><rect x="106.9" y="504.9" width="0.9" height="0.9" fill="#92c6a2"/><rect x="106.3" y="506.0" width="0.9" height="0.9" fill="#92c6a2"/><rect x="105.4" y="507.1" width="0.9" height="0.9" fill="#92c6a2"/><rect x="105.3" y="508.4" width="0.9" height="0.9" fill="#92c6a2"/><rect x="94.1" y="494.4" width="0.9" height="0.9" fill="#92c6a2"/><rect x="93.0" y="496.0" width="0.9" height="0.9" fill="#92c6a2"/><rect x="92.9" y="497.2" width="0.9" height="0.9" fill="#92c6a2"/><rect x="92.3" y="498.7" width="0.9" height="0.9" fill="#92c6a2"/><rect x="92.0" y="499.9" width="0.9" height="0.9" fill="#92c6a2"/><rect x="90.9" y="500.9" width="0.9" height="0.9" fill="#92c6a2"/><rect x="90.5" y="502.4" width="0.9" height="0.9" fill="#92c6a2"/><rect x="63.5" y="526.1" width="0.9" height="0.9" fill="#92c6a2"/><rect x="77.9" y="503.4" width="0.9" height="0.9" fill="#92c6a2"/><rect x="77.7" y="504.6" width="0.9" height="0.9" fill="#92c6a2"/><rect x="77.1" y="505.7" width="0.9" height="0.9" fill="#92c6a2"/><rect x="76.0" y="507.5" width="0.9" height="0.9" fill="#92c6a2"/><rect x="75.9" y="509.0" width="0.9" height="0.9" fill="#92c6a2"/><rect x="74.9" y="509.6" width="0.9" height="0.9" fill="#92c6a2"/><rect x="98.7" y="529.8" width="0.9" height="0.9" fill="#92c6a2"/><rect x="98.5" y="531.1" width="0.9" height="0.9" fill="#92c6a2"/><rect x="97.6" y="532.6" width="0.9" height="0.9" fill="#92c6a2"/><rect x="96.9" y="534.2" width="0.9" height="0.9" fill="#92c6a2"/><rect x="96.5" y="535.6" width="0.9" height="0.9" fill="#92c6a2"/><rect x="84.1" y="516.7" width="0.9" height="0.9" fill="#92c6a2"/><rect x="83.7" y="517.5" width="0.9" height="0.9" fill="#92c6a2"/><rect x="82.7" y="519.3" width="0.9" height="0.9" fill="#92c6a2"/><rect x="82.8" y="520.5" width="0.9" height="0.9" fill="#92c6a2"/><rect x="81.7" y="521.9" width="0.9" height="0.9" fill="#92c6a2"/><rect x="81.0" y="522.7" width="0.9" height="0.9" fill="#92c6a2"/><rect x="80.7" y="524.6" width="0.9" height="0.9" fill="#92c6a2"/><rect x="79.9" y="525.3" width="0.9" height="0.9" fill="#92c6a2"/><rect x="79.9" y="527.1" width="0.9" height="0.9" fill="#92c6a2"/><rect x="79.0" y="527.8" width="0.9" height="0.9" fill="#92c6a2"/><rect x="122.0" y="511.8" width="0.9" height="0.9" fill="#92c6a2"/><rect x="121.5" y="513.2" width="0.9" height="0.9" fill="#92c6a2"/><rect x="120.8" y="514.2" width="0.9" height="0.9" fill="#92c6a2"/><rect x="119.9" y="515.4" width="0.9" height="0.9" fill="#92c6a2"/><rect x="119.5" y="517.2" width="0.9" height="0.9" fill="#92c6a2"/><rect x="58.7" y="502.1" width="0.9" height="0.9" fill="#92c6a2"/><rect x="58.6" y="502.9" width="0.9" height="0.9" fill="#92c6a2"/><rect x="57.4" y="504.4" width="0.9" height="0.9" fill="#92c6a2"/><rect x="57.3" y="506.0" width="0.9" height="0.9" fill="#92c6a2"/><rect x="56.7" y="507.1" width="0.9" height="0.9" fill="#92c6a2"/><rect x="56.3" y="508.0" width="0.9" height="0.9" fill="#92c6a2"/><rect x="95.6" y="502.1" width="0.9" height="0.9" fill="#92c6a2"/><rect x="95.1" y="502.9" width="0.9" height="0.9" fill="#92c6a2"/><rect x="93.9" y="504.7" width="0.9" height="0.9" fill="#92c6a2"/><rect x="94.1" y="505.8" width="0.9" height="0.9" fill="#92c6a2"/><rect x="93.5" y="506.7" width="0.9" height="0.9" fill="#92c6a2"/><rect x="92.9" y="508.4" width="0.9" height="0.9" fill="#92c6a2"/><rect x="92.4" y="509.2" width="0.9" height="0.9" fill="#92c6a2"/><rect x="91.0" y="495.3" width="0.9" height="0.9" fill="#92c6a2"/><rect x="90.9" y="497.0" width="0.9" height="0.9" fill="#92c6a2"/><rect x="90.3" y="497.9" width="0.9" height="0.9" fill="#92c6a2"/><rect x="89.8" y="499.6" width="0.9" height="0.9" fill="#92c6a2"/><rect x="89.0" y="500.6" width="0.9" height="0.9" fill="#92c6a2"/><rect x="88.4" y="502.1" width="0.9" height="0.9" fill="#92c6a2"/><rect x="88.0" y="503.5" width="0.9" height="0.9" fill="#92c6a2"/><rect x="87.7" y="504.6" width="0.9" height="0.9" fill="#92c6a2"/><rect x="87.1" y="505.9" width="0.9" height="0.9" fill="#92c6a2"/><rect x="86.7" y="507.1" width="0.9" height="0.9" fill="#92c6a2"/><rect x="87.5" y="524.9" width="0.9" height="0.9" fill="#92c6a2"/><rect x="86.7" y="525.8" width="0.9" height="0.9" fill="#92c6a2"/><rect x="85.9" y="527.2" width="0.9" height="0.9" fill="#92c6a2"/><rect x="85.5" y="529.0" width="0.9" height="0.9" fill="#92c6a2"/><rect x="85.5" y="530.0" width="0.9" height="0.9" fill="#92c6a2"/><rect x="85.0" y="531.4" width="0.9" height="0.9" fill="#92c6a2"/><rect x="32.7" y="515.5" width="0.9" height="0.9" fill="#92c6a2"/><rect x="31.7" y="517.0" width="0.9" height="0.9" fill="#92c6a2"/><rect x="87.6" y="512.9" width="0.9" height="0.9" fill="#92c6a2"/><rect x="87.5" y="514.1" width="0.9" height="0.9" fill="#92c6a2"/><rect x="86.8" y="515.4" width="0.9" height="0.9" fill="#92c6a2"/><rect x="85.7" y="517.4" width="0.9" height="0.9" fill="#92c6a2"/><rect x="85.3" y="518.4" width="0.9" height="0.9" fill="#92c6a2"/><rect x="85.0" y="519.5" width="0.9" height="0.9" fill="#92c6a2"/><rect x="84.3" y="520.6" width="0.9" height="0.9" fill="#92c6a2"/><rect x="84.0" y="522.1" width="0.9" height="0.9" fill="#92c6a2"/><rect x="83.4" y="523.8" width="0.9" height="0.9" fill="#92c6a2"/><rect x="82.4" y="524.8" width="0.9" height="0.9" fill="#92c6a2"/><rect x="90.0" y="483.4" width="0.9" height="0.9" fill="#92c6a2"/><rect x="89.7" y="484.3" width="0.9" height="0.9" fill="#92c6a2"/><rect x="89.1" y="485.9" width="0.9" height="0.9" fill="#92c6a2"/><rect x="88.7" y="487.1" width="0.9" height="0.9" fill="#92c6a2"/><rect x="88.3" y="488.3" width="0.9" height="0.9" fill="#92c6a2"/><rect x="87.9" y="489.7" width="0.9" height="0.9" fill="#92c6a2"/><rect x="87.1" y="490.7" width="0.9" height="0.9" fill="#92c6a2"/><rect x="86.4" y="492.6" width="0.9" height="0.9" fill="#92c6a2"/><rect x="85.6" y="493.7" width="0.9" height="0.9" fill="#92c6a2"/><rect x="85.3" y="495.0" width="0.9" height="0.9" fill="#92c6a2"/><rect x="85.2" y="496.3" width="0.9" height="0.9" fill="#92c6a2"/><rect x="41.7" y="515.1" width="0.9" height="0.9" fill="#92c6a2"/><rect x="41.6" y="516.1" width="0.9" height="0.9" fill="#92c6a2"/><rect x="40.7" y="517.8" width="0.9" height="0.9" fill="#92c6a2"/><rect x="40.1" y="518.6" width="0.9" height="0.9" fill="#92c6a2"/><rect x="64.4" y="496.1" width="0.9" height="0.9" fill="#92c6a2"/><rect x="63.6" y="496.7" width="0.9" height="0.9" fill="#92c6a2"/><rect x="63.2" y="498.3" width="0.9" height="0.9" fill="#92c6a2"/><rect x="62.7" y="499.7" width="0.9" height="0.9" fill="#92c6a2"/><rect x="61.7" y="501.4" width="0.9" height="0.9" fill="#92c6a2"/><rect x="61.4" y="502.6" width="0.9" height="0.9" fill="#92c6a2"/><rect x="60.8" y="503.3" width="0.9" height="0.9" fill="#92c6a2"/><rect x="60.1" y="504.6" width="0.9" height="0.9" fill="#92c6a2"/><rect x="68.8" y="490.5" width="0.9" height="0.9" fill="#92c6a2"/><rect x="68.7" y="491.9" width="0.9" height="0.9" fill="#92c6a2"/><rect x="68.2" y="493.3" width="0.9" height="0.9" fill="#92c6a2"/><rect x="67.5" y="494.6" width="0.9" height="0.9" fill="#92c6a2"/><rect x="87.4" y="518.8" width="0.9" height="0.9" fill="#92c6a2"/><rect x="86.9" y="520.0" width="0.9" height="0.9" fill="#92c6a2"/><rect x="86.0" y="521.5" width="0.9" height="0.9" fill="#92c6a2"/><rect x="85.5" y="522.7" width="0.9" height="0.9" fill="#92c6a2"/><rect x="85.2" y="523.9" width="0.9" height="0.9" fill="#92c6a2"/><rect x="84.4" y="525.6" width="0.9" height="0.9" fill="#92c6a2"/><rect x="84.1" y="526.9" width="0.9" height="0.9" fill="#92c6a2"/><rect x="83.5" y="528.3" width="0.9" height="0.9" fill="#92c6a2"/><rect x="82.9" y="529.1" width="0.9" height="0.9" fill="#92c6a2"/><rect x="82.5" y="530.5" width="0.9" height="0.9" fill="#92c6a2"/><rect x="82.2" y="531.6" width="0.9" height="0.9" fill="#92c6a2"/><rect x="87.4" y="527.6" width="0.9" height="0.9" fill="#92c6a2"/><rect x="86.4" y="529.5" width="0.9" height="0.9" fill="#92c6a2"/><rect x="86.2" y="530.6" width="0.9" height="0.9" fill="#92c6a2"/><rect x="85.1" y="531.5" width="0.9" height="0.9" fill="#92c6a2"/><rect x="96.5" y="514.7" width="0.9" height="0.9" fill="#92c6a2"/><rect x="96.4" y="516.6" width="0.9" height="0.9" fill="#92c6a2"/><rect x="95.4" y="517.7" width="0.9" height="0.9" fill="#92c6a2"/><rect x="95.5" y="518.9" width="0.9" height="0.9" fill="#92c6a2"/><rect x="94.6" y="520.5" width="0.9" height="0.9" fill="#92c6a2"/><rect x="93.6" y="521.9" width="0.9" height="0.9" fill="#92c6a2"/><rect x="93.7" y="523.1" width="0.9" height="0.9" fill="#92c6a2"/><rect x="92.8" y="524.2" width="0.9" height="0.9" fill="#92c6a2"/><rect x="92.7" y="525.1" width="0.9" height="0.9" fill="#92c6a2"/><rect x="42.8" y="503.5" width="0.9" height="0.9" fill="#92c6a2"/><rect x="41.8" y="504.5" width="0.9" height="0.9" fill="#92c6a2"/><rect x="41.7" y="506.2" width="0.9" height="0.9" fill="#92c6a2"/><rect x="40.8" y="507.0" width="0.9" height="0.9" fill="#92c6a2"/><rect x="40.4" y="508.6" width="0.9" height="0.9" fill="#92c6a2"/><rect x="39.9" y="509.7" width="0.9" height="0.9" fill="#92c6a2"/><rect x="39.1" y="511.3" width="0.9" height="0.9" fill="#92c6a2"/><rect x="90.1" y="495.8" width="0.9" height="0.9" fill="#92c6a2"/><rect x="89.1" y="497.1" width="0.9" height="0.9" fill="#92c6a2"/><rect x="88.7" y="498.5" width="0.9" height="0.9" fill="#92c6a2"/><rect x="88.3" y="499.9" width="0.9" height="0.9" fill="#92c6a2"/><rect x="87.2" y="501.6" width="0.9" height="0.9" fill="#92c6a2"/><rect x="86.7" y="502.4" width="0.9" height="0.9" fill="#92c6a2"/><rect x="107.3" y="523.1" width="0.9" height="0.9" fill="#92c6a2"/><rect x="106.1" y="524.5" width="0.9" height="0.9" fill="#92c6a2"/><rect x="105.5" y="526.1" width="0.9" height="0.9" fill="#92c6a2"/><rect x="105.3" y="527.0" width="0.9" height="0.9" fill="#92c6a2"/><rect x="105.0" y="528.3" width="0.9" height="0.9" fill="#92c6a2"/><rect x="105.7" y="506.6" width="0.9" height="0.9" fill="#92c6a2"/><rect x="104.8" y="507.8" width="0.9" height="0.9" fill="#92c6a2"/><rect x="104.4" y="509.6" width="0.9" height="0.9" fill="#92c6a2"/><rect x="103.9" y="510.9" width="0.9" height="0.9" fill="#92c6a2"/><rect x="103.3" y="512.0" width="0.9" height="0.9" fill="#92c6a2"/><rect x="102.6" y="513.1" width="0.9" height="0.9" fill="#92c6a2"/><rect x="102.5" y="514.2" width="0.9" height="0.9" fill="#92c6a2"/><rect x="71.6" y="487.1" width="0.9" height="0.9" fill="#92c6a2"/><rect x="71.3" y="488.7" width="0.9" height="0.9" fill="#92c6a2"/><rect x="70.6" y="490.4" width="0.9" height="0.9" fill="#92c6a2"/><rect x="70.5" y="491.6" width="0.9" height="0.9" fill="#92c6a2"/><rect x="69.5" y="493.0" width="0.9" height="0.9" fill="#92c6a2"/><rect x="68.8" y="493.6" width="0.9" height="0.9" fill="#92c6a2"/><rect x="68.3" y="495.3" width="0.9" height="0.9" fill="#92c6a2"/><rect x="68.0" y="496.3" width="0.9" height="0.9" fill="#92c6a2"/><rect x="57.7" y="514.9" width="0.9" height="0.9" fill="#92c6a2"/><rect x="56.7" y="516.2" width="0.9" height="0.9" fill="#92c6a2"/><rect x="56.6" y="517.4" width="0.9" height="0.9" fill="#92c6a2"/><rect x="55.7" y="518.8" width="0.9" height="0.9" fill="#92c6a2"/><rect x="100.2" y="525.1" width="0.9" height="0.9" fill="#92c6a2"/><rect x="100.1" y="526.2" width="0.9" height="0.9" fill="#92c6a2"/><rect x="99.5" y="527.2" width="0.9" height="0.9" fill="#92c6a2"/><rect x="98.6" y="528.4" width="0.9" height="0.9" fill="#92c6a2"/><rect x="98.1" y="530.0" width="0.9" height="0.9" fill="#92c6a2"/><rect x="97.9" y="530.8" width="0.9" height="0.9" fill="#92c6a2"/><rect x="96.9" y="532.2" width="0.9" height="0.9" fill="#92c6a2"/><rect x="97.1" y="533.9" width="0.9" height="0.9" fill="#92c6a2"/><rect x="96.6" y="535.3" width="0.9" height="0.9" fill="#92c6a2"/><rect x="54.8" y="519.4" width="0.9" height="0.9" fill="#92c6a2"/><rect x="54.4" y="520.1" width="0.9" height="0.9" fill="#92c6a2"/><rect x="54.2" y="521.9" width="0.9" height="0.9" fill="#92c6a2"/><rect x="52.9" y="523.1" width="0.9" height="0.9" fill="#92c6a2"/><rect x="90.3" y="506.9" width="0.9" height="0.9" fill="#92c6a2"/><rect x="89.9" y="508.3" width="0.9" height="0.9" fill="#92c6a2"/><rect x="89.5" y="509.3" width="0.9" height="0.9" fill="#92c6a2"/><rect x="89.0" y="510.4" width="0.9" height="0.9" fill="#92c6a2"/><rect x="88.7" y="511.8" width="0.9" height="0.9" fill="#92c6a2"/><rect x="87.8" y="512.9" width="0.9" height="0.9" fill="#92c6a2"/><rect x="87.2" y="514.6" width="0.9" height="0.9" fill="#92c6a2"/><rect x="87.0" y="515.8" width="0.9" height="0.9" fill="#92c6a2"/><rect x="86.0" y="517.4" width="0.9" height="0.9" fill="#92c6a2"/><rect x="85.6" y="518.5" width="0.9" height="0.9" fill="#92c6a2"/><rect x="84.9" y="519.6" width="0.9" height="0.9" fill="#92c6a2"/><rect x="84.2" y="521.2" width="0.9" height="0.9" fill="#92c6a2"/><rect x="70.1" y="497.6" width="0.9" height="0.9" fill="#92c6a2"/><rect x="69.2" y="498.5" width="0.9" height="0.9" fill="#92c6a2"/><rect x="68.7" y="499.9" width="0.9" height="0.9" fill="#92c6a2"/><rect x="68.6" y="501.6" width="0.9" height="0.9" fill="#92c6a2"/><rect x="68.2" y="502.7" width="0.9" height="0.9" fill="#92c6a2"/><rect x="67.7" y="503.9" width="0.9" height="0.9" fill="#92c6a2"/><rect x="66.9" y="504.7" width="0.9" height="0.9" fill="#92c6a2"/><rect x="66.1" y="506.4" width="0.9" height="0.9" fill="#92c6a2"/><rect x="65.3" y="508.0" width="0.9" height="0.9" fill="#92c6a2"/><rect x="62.6" y="486.5" width="0.9" height="0.9" fill="#92c6a2"/><rect x="62.3" y="487.7" width="0.9" height="0.9" fill="#92c6a2"/><rect x="61.6" y="489.7" width="0.9" height="0.9" fill="#92c6a2"/><rect x="61.3" y="490.3" width="0.9" height="0.9" fill="#92c6a2"/><rect x="60.7" y="492.2" width="0.9" height="0.9" fill="#92c6a2"/><rect x="50.9" y="513.0" width="0.9" height="0.9" fill="#92c6a2"/><rect x="50.6" y="513.7" width="0.9" height="0.9" fill="#92c6a2"/><rect x="50.0" y="515.4" width="0.9" height="0.9" fill="#92c6a2"/><rect x="49.5" y="516.5" width="0.9" height="0.9" fill="#92c6a2"/><rect x="48.3" y="518.3" width="0.9" height="0.9" fill="#92c6a2"/><rect x="48.3" y="519.1" width="0.9" height="0.9" fill="#92c6a2"/><rect x="47.8" y="520.6" width="0.9" height="0.9" fill="#92c6a2"/><rect x="63.9" y="526.0" width="0.9" height="0.9" fill="#92c6a2"/><rect x="73.6" y="490.3" width="0.9" height="0.9" fill="#92c6a2"/><rect x="72.9" y="492.0" width="0.9" height="0.9" fill="#92c6a2"/><rect x="72.3" y="493.5" width="0.9" height="0.9" fill="#92c6a2"/><rect x="72.2" y="494.9" width="0.9" height="0.9" fill="#92c6a2"/><rect x="71.0" y="495.9" width="0.9" height="0.9" fill="#92c6a2"/><rect x="71.1" y="497.0" width="0.9" height="0.9" fill="#92c6a2"/><rect x="70.0" y="498.5" width="0.9" height="0.9" fill="#92c6a2"/><rect x="69.3" y="499.7" width="0.9" height="0.9" fill="#92c6a2"/>
<text x="163.00" y="489.70" font-size="7.2" text-anchor="start" fill="#222">20</text>
<line x1="159.80" y1="487.20" x2="162.20" y2="487.20" stroke="#222" stroke-width="0.6"/>
<text x="163.00" y="497.00" font-size="7.2" text-anchor="start" fill="#e03030">18</text>
<line x1="159.80" y1="494.50" x2="162.20" y2="494.50" stroke="#222" stroke-width="0.6"/>
<text x="163.00" y="508.00" font-size="7.2" text-anchor="start" fill="#222">15</text>
<line x1="159.80" y1="505.50" x2="162.20" y2="505.50" stroke="#222" stroke-width="0.6"/>
<text x="163.00" y="524.10" font-size="7.2" text-anchor="start" fill="#222">10</text>
<line x1="159.80" y1="521.60" x2="162.20" y2="521.60" stroke="#222" stroke-width="0.6"/>
<text x="163.00" y="540.70" font-size="7.2" text-anchor="start" fill="#222">5</text>
<line x1="159.80" y1="538.20" x2="162.20" y2="538.20" stroke="#222" stroke-width="0.6"/>
<text x="179.50" y="518.80" font-size="11.2" text-anchor="middle" fill="#1a1a1a" transform="rotate(-90 179.5 518.8)">Cancer types</text>
<text x="161.40" y="558.50" font-size="6.4" text-anchor="start" fill="#222">1000</text>
<text x="151.20" y="567.70" font-size="6.4" text-anchor="start" fill="#222">800</text>
<text x="142.30" y="578.00" font-size="6.4" text-anchor="start" fill="#222">600</text>
<text x="133.10" y="587.70" font-size="6.4" text-anchor="start" fill="#222">400</text>
<text x="123.40" y="598.20" font-size="6.4" text-anchor="start" fill="#222">200</text>
<text x="114.30" y="608.50" font-size="6.4" text-anchor="start" fill="#222">0</text>
<text x="10.40" y="582.60" font-size="7.9" text-anchor="middle" fill="#222">1000</text>
<text x="29.80" y="588.20" font-size="7.9" text-anchor="middle" fill="#222">800</text>
<text x="50.00" y="594.30" font-size="7.9" text-anchor="middle" fill="#222">600</text>
<text x="68.60" y="599.80" font-size="7.9" text-anchor="middle" fill="#222">400</text>
<text x="88.80" y="604.80" font-size="7.9" text-anchor="middle" fill="#222">200</text>
<text x="104.40" y="609.80" font-size="7.9" text-anchor="middle" fill="#222">0</text>
<text x="21.00" y="597.00" font-size="11" text-anchor="start" fill="#1a1a1a" transform="rotate(17.5 21.0 597.0)">Enrichment</text>
<text x="133.00" y="613.00" font-size="11" text-anchor="start" fill="#1a1a1a" transform="rotate(-47 133.0 613.0)">Exhaustion</text>
<defs><linearGradient id="garr" x1="0" y1="0" x2="0" y2="1"><stop offset="0" stop-color="#e0b020"/><stop offset="0.6" stop-color="#f0c020"/><stop offset="1" stop-color="#e88a28"/></linearGradient><linearGradient id="garr2" x1="0" y1="0" x2="1" y2="0"><stop offset="0" stop-color="#f2e040"/><stop offset="1" stop-color="#e86a2a"/></linearGradient></defs>
<path d="M 97.2,532.2 C 88,546 78.2,575 77.3,605 L 77.3,622.6 L 72.6,625.8 L 89.6,630.8 L 92.6,618 L 83.6,620.6 C 81.6,600 82.4,575 89,553 C 92,544 95,538 97.9,533 Z" fill="url(#garr)" stroke="#111" stroke-width="0.8" stroke-linejoin="round"/>
<text x="193.50" y="461.00" font-size="13" text-anchor="start" fill="#000">E</text>
<path d="M 184.9,533.4 L 200.7,534.4 L 200.7,527.6 L 208.0,538.7 L 200.7,548.9 L 200.7,541.4 L 184.9,540.4 Z" fill="url(#garr2)" stroke="#111" stroke-width="0.9" stroke-linejoin="miter"/>
<rect x="241.60" y="461.60" width="73.49" height="6.70" fill="#63c1b8"/>
<text x="316.89" y="469.60" font-size="9.4" text-anchor="start" fill="#1a1a1a">96</text>
<line x1="234.60" y1="464.95" x2="236.90" y2="464.95" stroke="#000" stroke-width="0.8"/>
<text x="234.00" y="468.30" font-size="9.0" text-anchor="end" fill="#1a1a1a">18</text>
<rect x="241.60" y="469.92" width="111.76" height="6.70" fill="#63c1b8"/>
<text x="355.16" y="477.92" font-size="9.4" text-anchor="start" fill="#1a1a1a">146</text>
<line x1="234.60" y1="473.27" x2="236.90" y2="473.27" stroke="#000" stroke-width="0.8"/>
<text x="234.00" y="476.62" font-size="9.0" text-anchor="end" fill="#1a1a1a">17</text>
<rect x="241.60" y="478.24" width="86.50" height="6.70" fill="#63c1b8"/>
<text x="329.90" y="486.24" font-size="9.4" text-anchor="start" fill="#1a1a1a">113</text>
<line x1="234.60" y1="481.59" x2="236.90" y2="481.59" stroke="#000" stroke-width="0.8"/>
<text x="234.00" y="484.94" font-size="9.0" text-anchor="end" fill="#1a1a1a">16</text>
<rect x="241.60" y="486.56" width="83.44" height="6.70" fill="#63c1b8"/>
<text x="326.84" y="494.56" font-size="9.4" text-anchor="start" fill="#1a1a1a">109</text>
<line x1="234.60" y1="489.91" x2="236.90" y2="489.91" stroke="#000" stroke-width="0.8"/>
<text x="234.00" y="493.26" font-size="9.0" text-anchor="end" fill="#1a1a1a">15</text>
<rect x="241.60" y="494.88" width="61.24" height="6.70" fill="#63c1b8"/>
<text x="304.64" y="502.88" font-size="9.4" text-anchor="start" fill="#1a1a1a">80</text>
<line x1="234.60" y1="498.23" x2="236.90" y2="498.23" stroke="#000" stroke-width="0.8"/>
<text x="234.00" y="501.58" font-size="9.0" text-anchor="end" fill="#1a1a1a">14</text>
<rect x="241.60" y="503.20" width="65.07" height="6.70" fill="#63c1b8"/>
<text x="308.47" y="511.20" font-size="9.4" text-anchor="start" fill="#1a1a1a">85</text>
<line x1="234.60" y1="506.55" x2="236.90" y2="506.55" stroke="#000" stroke-width="0.8"/>
<text x="234.00" y="509.90" font-size="9.0" text-anchor="end" fill="#1a1a1a">13</text>
<rect x="241.60" y="511.52" width="57.41" height="6.70" fill="#63c1b8"/>
<text x="300.81" y="519.52" font-size="9.4" text-anchor="start" fill="#1a1a1a">75</text>
<line x1="234.60" y1="514.87" x2="236.90" y2="514.87" stroke="#000" stroke-width="0.8"/>
<text x="234.00" y="518.22" font-size="9.0" text-anchor="end" fill="#1a1a1a">12</text>
<rect x="241.60" y="519.84" width="50.52" height="6.70" fill="#63c1b8"/>
<text x="293.92" y="527.84" font-size="9.4" text-anchor="start" fill="#1a1a1a">66</text>
<line x1="234.60" y1="523.19" x2="236.90" y2="523.19" stroke="#000" stroke-width="0.8"/>
<text x="234.00" y="526.54" font-size="9.0" text-anchor="end" fill="#1a1a1a">11</text>
<rect x="241.60" y="528.16" width="37.51" height="6.70" fill="#63c1b8"/>
<text x="280.91" y="536.16" font-size="9.4" text-anchor="start" fill="#1a1a1a">49</text>
<line x1="234.60" y1="531.51" x2="236.90" y2="531.51" stroke="#000" stroke-width="0.8"/>
<text x="234.00" y="534.86" font-size="9.0" text-anchor="end" fill="#1a1a1a">10</text>
<rect x="241.60" y="536.48" width="30.62" height="6.70" fill="#63c1b8"/>
<text x="274.02" y="544.48" font-size="9.4" text-anchor="start" fill="#1a1a1a">40</text>
<line x1="234.60" y1="539.83" x2="236.90" y2="539.83" stroke="#000" stroke-width="0.8"/>
<text x="234.00" y="543.18" font-size="9.0" text-anchor="end" fill="#1a1a1a">9</text>
<rect x="241.60" y="544.80" width="22.96" height="6.70" fill="#63c1b8"/>
<text x="266.37" y="552.80" font-size="9.4" text-anchor="start" fill="#1a1a1a">30</text>
<line x1="234.60" y1="548.15" x2="236.90" y2="548.15" stroke="#000" stroke-width="0.8"/>
<text x="234.00" y="551.50" font-size="9.0" text-anchor="end" fill="#1a1a1a">8</text>
<rect x="241.60" y="553.12" width="19.90" height="6.70" fill="#63c1b8"/>
<text x="263.30" y="561.12" font-size="9.4" text-anchor="start" fill="#1a1a1a">26</text>
<line x1="234.60" y1="556.47" x2="236.90" y2="556.47" stroke="#000" stroke-width="0.8"/>
<text x="234.00" y="559.82" font-size="9.0" text-anchor="end" fill="#1a1a1a">7</text>
<rect x="241.60" y="561.44" width="19.14" height="6.70" fill="#63c1b8"/>
<text x="262.54" y="569.44" font-size="9.4" text-anchor="start" fill="#1a1a1a">25</text>
<line x1="234.60" y1="564.79" x2="236.90" y2="564.79" stroke="#000" stroke-width="0.8"/>
<text x="234.00" y="568.14" font-size="9.0" text-anchor="end" fill="#1a1a1a">6</text>
<rect x="241.60" y="569.76" width="11.48" height="6.70" fill="#63c1b8"/>
<text x="254.88" y="577.76" font-size="9.4" text-anchor="start" fill="#1a1a1a">15</text>
<line x1="234.60" y1="573.11" x2="236.90" y2="573.11" stroke="#000" stroke-width="0.8"/>
<text x="234.00" y="576.46" font-size="9.0" text-anchor="end" fill="#1a1a1a">5</text>
<rect x="241.60" y="578.08" width="7.65" height="6.70" fill="#63c1b8"/>
<text x="251.06" y="586.08" font-size="9.4" text-anchor="start" fill="#1a1a1a">10</text>
<line x1="234.60" y1="581.43" x2="236.90" y2="581.43" stroke="#000" stroke-width="0.8"/>
<text x="234.00" y="584.78" font-size="9.0" text-anchor="end" fill="#1a1a1a">4</text>
<rect x="241.60" y="586.40" width="6.89" height="6.70" fill="#63c1b8"/>
<text x="250.29" y="594.40" font-size="9.4" text-anchor="start" fill="#1a1a1a">9</text>
<line x1="234.60" y1="589.75" x2="236.90" y2="589.75" stroke="#000" stroke-width="0.8"/>
<text x="234.00" y="593.10" font-size="9.0" text-anchor="end" fill="#1a1a1a">3</text>
<rect x="241.60" y="594.72" width="6.12" height="6.70" fill="#63c1b8"/>
<text x="249.52" y="602.72" font-size="9.4" text-anchor="start" fill="#1a1a1a">8</text>
<line x1="234.60" y1="598.07" x2="236.90" y2="598.07" stroke="#000" stroke-width="0.8"/>
<text x="234.00" y="601.42" font-size="9.0" text-anchor="end" fill="#1a1a1a">2</text>
<rect x="241.60" y="603.04" width="3.83" height="6.70" fill="#63c1b8"/>
<text x="247.23" y="611.04" font-size="9.4" text-anchor="start" fill="#1a1a1a">5</text>
<line x1="234.60" y1="606.39" x2="236.90" y2="606.39" stroke="#000" stroke-width="0.8"/>
<text x="234.00" y="609.74" font-size="9.0" text-anchor="end" fill="#1a1a1a">1</text>
<line x1="236.90" y1="460.00" x2="236.90" y2="611.20" stroke="#000" stroke-width="1.4"/>
<line x1="236.30" y1="610.50" x2="357.60" y2="610.50" stroke="#000" stroke-width="1.4"/>
<line x1="241.60" y1="610.50" x2="241.60" y2="613.30" stroke="#000" stroke-width="0.9"/>
<text x="241.60" y="621.80" font-size="9.6" text-anchor="middle" fill="#1a1a1a">0</text>
<line x1="279.88" y1="610.50" x2="279.88" y2="613.30" stroke="#000" stroke-width="0.9"/>
<text x="279.88" y="621.80" font-size="9.6" text-anchor="middle" fill="#1a1a1a">50</text>
<line x1="318.15" y1="610.50" x2="318.15" y2="613.30" stroke="#000" stroke-width="0.9"/>
<text x="318.15" y="621.80" font-size="9.6" text-anchor="middle" fill="#1a1a1a">100</text>
<line x1="356.42" y1="610.50" x2="356.42" y2="613.30" stroke="#000" stroke-width="0.9"/>
<text x="356.42" y="621.80" font-size="9.6" text-anchor="middle" fill="#1a1a1a">150</text>
<text x="299.00" y="631.30" font-size="10.4" text-anchor="middle" fill="#1a1a1a">Number of genes</text>
<text x="219.60" y="531.00" font-size="10.8" text-anchor="middle" fill="#1a1a1a" transform="rotate(-90 219.6 531.0)">Number of cancer types</text>
<text x="4.00" y="651.30" font-size="13" text-anchor="start" fill="#000">F</text>
<rect x="34.90" y="661.40" width="124.60" height="126.80" fill="none" stroke="#000" stroke-width="1.4"/>
<line x1="32.00" y1="783.10" x2="34.90" y2="783.10" stroke="#555" stroke-width="0.8"/>
<text x="30.80" y="786.60" font-size="9.8" text-anchor="end" fill="#555">0</text>
<line x1="40.40" y1="788.20" x2="40.40" y2="791.00" stroke="#555" stroke-width="0.8"/>
<text x="40.40" y="798.60" font-size="9.8" text-anchor="middle" fill="#555">0</text>
<line x1="32.00" y1="752.90" x2="34.90" y2="752.90" stroke="#555" stroke-width="0.8"/>
<text x="30.80" y="756.40" font-size="9.8" text-anchor="end" fill="#555">25</text>
<line x1="69.97" y1="788.20" x2="69.97" y2="791.00" stroke="#555" stroke-width="0.8"/>
<text x="69.97" y="798.60" font-size="9.8" text-anchor="middle" fill="#555">25</text>
<line x1="32.00" y1="722.70" x2="34.90" y2="722.70" stroke="#555" stroke-width="0.8"/>
<text x="30.80" y="726.20" font-size="9.8" text-anchor="end" fill="#555">50</text>
<line x1="99.55" y1="788.20" x2="99.55" y2="791.00" stroke="#555" stroke-width="0.8"/>
<text x="99.55" y="798.60" font-size="9.8" text-anchor="middle" fill="#555">50</text>
<line x1="32.00" y1="692.50" x2="34.90" y2="692.50" stroke="#555" stroke-width="0.8"/>
<text x="30.80" y="696.00" font-size="9.8" text-anchor="end" fill="#555">75</text>
<line x1="129.12" y1="788.20" x2="129.12" y2="791.00" stroke="#555" stroke-width="0.8"/>
<text x="129.12" y="798.60" font-size="9.8" text-anchor="middle" fill="#555">75</text>
<line x1="32.00" y1="662.30" x2="34.90" y2="662.30" stroke="#555" stroke-width="0.8"/>
<text x="30.80" y="665.80" font-size="9.8" text-anchor="end" fill="#555">100</text>
<line x1="158.70" y1="788.20" x2="158.70" y2="791.00" stroke="#555" stroke-width="0.8"/>
<text x="158.70" y="798.60" font-size="9.8" text-anchor="middle" fill="#555">100</text>
<text x="97.80" y="810.20" font-size="10.6" text-anchor="middle" fill="#1a1a1a">Enrichment Score</text>
<text x="11.60" y="719.70" font-size="10.5" text-anchor="middle" fill="#1a1a1a" transform="rotate(-90 11.6 719.7)">Exhaustion Score</text>
<circle cx="70.4" cy="676.7" r="2.15" fill="#c3b697"/><circle cx="77.3" cy="685.2" r="2.15" fill="#c3b697"/><circle cx="96.0" cy="691.1" r="2.15" fill="#c3b697"/><circle cx="106.9" cy="696.0" r="2.15" fill="#c3b697"/><circle cx="108.8" cy="698.4" r="2.15" fill="#c3b697"/><circle cx="110.4" cy="704.7" r="2.15" fill="#c3b697"/><circle cx="85.6" cy="705.8" r="2.15" fill="#c3b697"/><circle cx="103.3" cy="709.6" r="2.15" fill="#c3b697"/><circle cx="117.7" cy="708.2" r="2.15" fill="#c3b697"/><circle cx="53.6" cy="710.8" r="2.15" fill="#c3b697"/><circle cx="80.8" cy="712.2" r="2.15" fill="#c3b697"/><circle cx="91.7" cy="714.1" r="2.15" fill="#c3b697"/><circle cx="95.0" cy="715.5" r="2.15" fill="#c3b697"/><circle cx="104.5" cy="716.7" r="2.15" fill="#c3b697"/><circle cx="122.6" cy="713.1" r="2.15" fill="#c3b697"/><circle cx="81.8" cy="719.1" r="2.15" fill="#c3b697"/><circle cx="112.8" cy="720.6" r="2.15" fill="#c3b697"/><circle cx="116.7" cy="718.1" r="2.15" fill="#c3b697"/><circle cx="67.8" cy="724.0" r="2.15" fill="#c3b697"/><circle cx="73.8" cy="723.0" r="2.15" fill="#c3b697"/><circle cx="69.0" cy="726.9" r="2.15" fill="#c3b697"/><circle cx="99.0" cy="725.4" r="2.15" fill="#c3b697"/><circle cx="87.2" cy="727.9" r="2.15" fill="#c3b697"/><circle cx="84.8" cy="729.9" r="2.15" fill="#c3b697"/><circle cx="105.9" cy="728.9" r="2.15" fill="#c3b697"/><circle cx="100.9" cy="731.3" r="2.15" fill="#c3b697"/><circle cx="79.7" cy="732.8" r="2.15" fill="#c3b697"/><circle cx="74.9" cy="733.8" r="2.15" fill="#c3b697"/><circle cx="72.4" cy="734.8" r="2.15" fill="#c3b697"/><circle cx="59.6" cy="736.4" r="2.15" fill="#c3b697"/><circle cx="60.9" cy="737.8" r="2.15" fill="#c3b697"/><circle cx="64.5" cy="740.7" r="2.15" fill="#c3b697"/><circle cx="66.5" cy="743.7" r="2.15" fill="#c3b697"/><circle cx="63.1" cy="744.7" r="2.15" fill="#c3b697"/><circle cx="97.4" cy="739.7" r="2.15" fill="#c3b697"/><circle cx="93.1" cy="742.3" r="2.15" fill="#c3b697"/><circle cx="123.8" cy="738.8" r="2.15" fill="#c3b697"/><circle cx="76.1" cy="746.1" r="2.15" fill="#c3b697"/><circle cx="83.2" cy="747.0" r="2.15" fill="#c3b697"/><circle cx="88.1" cy="748.6" r="2.15" fill="#c3b697"/><circle cx="78.3" cy="751.0" r="2.15" fill="#c3b697"/><circle cx="71.4" cy="753.1" r="2.15" fill="#c3b697"/><circle cx="55.6" cy="752.0" r="2.15" fill="#c3b697"/><circle cx="108.2" cy="749.6" r="2.15" fill="#c3b697"/><circle cx="94.1" cy="754.5" r="2.15" fill="#c3b697"/><circle cx="54.6" cy="756.1" r="2.15" fill="#c3b697"/><circle cx="58.6" cy="757.9" r="2.15" fill="#c3b697"/><circle cx="111.8" cy="756.9" r="2.15" fill="#c3b697"/><circle cx="115.1" cy="759.5" r="2.15" fill="#c3b697"/><circle cx="89.1" cy="760.8" r="2.15" fill="#c3b697"/><circle cx="61.9" cy="761.8" r="2.15" fill="#c3b697"/><circle cx="57.0" cy="764.0" r="2.15" fill="#c3b697"/><circle cx="100.0" cy="763.0" r="2.15" fill="#c3b697"/><circle cx="65.1" cy="766.7" r="2.15" fill="#c3b697"/><circle cx="50.7" cy="765.4" r="2.15" fill="#c3b697"/><circle cx="48.7" cy="768.3" r="2.15" fill="#c3b697"/><circle cx="47.3" cy="770.3" r="2.15" fill="#c3b697"/><circle cx="49.7" cy="771.9" r="2.15" fill="#c3b697"/><circle cx="52.1" cy="774.8" r="2.15" fill="#c3b697"/><circle cx="114.4" cy="768.9" r="2.15" fill="#c3b697"/><circle cx="90.1" cy="772.9" r="2.15" fill="#c3b697"/><circle cx="102.3" cy="773.8" r="2.15" fill="#c3b697"/><circle cx="45.8" cy="775.6" r="2.15" fill="#c3b697"/><circle cx="43.8" cy="777.2" r="2.15" fill="#c3b697"/><circle cx="41.8" cy="779.2" r="2.15" fill="#c3b697"/><circle cx="39.9" cy="781.1" r="2.15" fill="#c3b697"/><circle cx="44.8" cy="779.2" r="2.15" fill="#c3b697"/><circle cx="42.8" cy="781.1" r="2.15" fill="#c3b697"/><circle cx="120.3" cy="680.2" r="2.15" fill="#c3b697"/><circle cx="119.1" cy="688.9" r="2.15" fill="#c3b697"/><circle cx="121.2" cy="695.0" r="2.15" fill="#c3b697"/><circle cx="126.0" cy="693.8" r="2.15" fill="#c3b697"/><circle cx="128.5" cy="690.1" r="2.15" fill="#c3b697"/><circle cx="131.1" cy="692.4" r="2.15" fill="#c3b697"/><circle cx="132.1" cy="686.5" r="2.15" fill="#c3b697"/><circle cx="132.9" cy="697.4" r="2.15" fill="#c3b697"/><circle cx="134.5" cy="700.3" r="2.15" fill="#c3b697"/><circle cx="137.4" cy="702.3" r="2.15" fill="#c3b697"/><circle cx="141.7" cy="706.8" r="2.15" fill="#c3b697"/><circle cx="135.8" cy="721.6" r="2.15" fill="#c3b697"/><circle cx="127.6" cy="703.3" r="2.15" fill="#c3b697"/><circle cx="125.2" cy="699.9" r="2.15" fill="#c3b697"/><circle cx="143.9" cy="687.5" r="2.15" fill="#c3b697"/><circle cx="138.4" cy="670.8" r="2.15" fill="#c3b697"/><circle cx="140.8" cy="673.1" r="2.15" fill="#c3b697"/><circle cx="139.4" cy="679.0" r="2.15" fill="#c3b697"/><circle cx="143.3" cy="681.6" r="2.15" fill="#c3b697"/><circle cx="146.3" cy="682.6" r="2.15" fill="#c3b697"/><circle cx="148.2" cy="675.7" r="2.15" fill="#c3b697"/><circle cx="150.2" cy="677.7" r="2.15" fill="#c3b697"/><circle cx="147.9" cy="668.4" r="2.15" fill="#c3b697"/><circle cx="153.8" cy="667.2" r="2.15" fill="#c3b697"/>
<circle cx="152.6" cy="672.1" r="2.05" fill="#9b2226"/>
<rect x="134.1" y="663.3" width="24.0" height="22.2" fill="none" stroke="#555" stroke-width="0.8" stroke-dasharray="2.4 1.6"/>
<text x="95.00" y="674.70" font-size="10.3" text-anchor="start" font-style="italic" fill="#8b2e2e">SARDH</text>
<text x="191.50" y="651.00" font-size="13" text-anchor="start" fill="#000">G</text>
<text x="252.20" y="683.70" font-size="10.5" text-anchor="start" font-style="italic" fill="#1a1a1a">SARDH</text>
<text x="188.20" y="732.00" font-size="10.5" text-anchor="start" fill="#1a1a1a">CD8 Tex</text>
<text x="319.50" y="694.80" font-size="10.4" text-anchor="start" fill="#1a1a1a">value</text>
<defs><linearGradient id="gval" x1="0" y1="0" x2="0" y2="1"><stop offset="0" stop-color="#741820"/><stop offset="0.22" stop-color="#b82a28"/><stop offset="0.4" stop-color="#d4482e"/><stop offset="0.55" stop-color="#dc7a38"/><stop offset="0.72" stop-color="#e2b050"/><stop offset="0.85" stop-color="#eadc88"/><stop offset="1" stop-color="#f4f6cc"/></linearGradient></defs>
<rect x="320.80" y="702.40" width="11.40" height="55.10" fill="url(#gval)"/>
<text x="335.40" y="706.30" font-size="9.2" text-anchor="start" fill="#1a1a1a">1.5</text>
<line x1="320.80" y1="703.00" x2="322.80" y2="703.00" stroke="#fff" stroke-width="0.7"/>
<line x1="330.20" y1="703.00" x2="332.20" y2="703.00" stroke="#fff" stroke-width="0.7"/>
<text x="335.40" y="719.70" font-size="9.2" text-anchor="start" fill="#1a1a1a">1.0</text>
<line x1="320.80" y1="716.40" x2="322.80" y2="716.40" stroke="#fff" stroke-width="0.7"/>
<line x1="330.20" y1="716.40" x2="332.20" y2="716.40" stroke="#fff" stroke-width="0.7"/>
<text x="335.40" y="733.30" font-size="9.2" text-anchor="start" fill="#1a1a1a">0.5</text>
<line x1="320.80" y1="730.00" x2="322.80" y2="730.00" stroke="#fff" stroke-width="0.7"/>
<line x1="330.20" y1="730.00" x2="332.20" y2="730.00" stroke="#fff" stroke-width="0.7"/>
<text x="335.40" y="747.30" font-size="9.2" text-anchor="start" fill="#1a1a1a">0.0</text>
<line x1="320.80" y1="744.00" x2="322.80" y2="744.00" stroke="#fff" stroke-width="0.7"/>
<line x1="330.20" y1="744.00" x2="332.20" y2="744.00" stroke="#fff" stroke-width="0.7"/>
<text x="335.40" y="760.80" font-size="9.2" text-anchor="start" fill="#1a1a1a">−0.5</text>
<line x1="320.80" y1="757.50" x2="322.80" y2="757.50" stroke="#fff" stroke-width="0.7"/>
<line x1="330.20" y1="757.50" x2="332.20" y2="757.50" stroke="#fff" stroke-width="0.7"/>
<circle cx="264.1" cy="729.7" r="0.5" fill="#cc6a3e"/><circle cx="254.4" cy="762.4" r="0.5" fill="#f1e7b4"/><circle cx="228.1" cy="719.7" r="0.5" fill="#f1e7b4"/><circle cx="267.7" cy="731.9" r="0.5" fill="#ebcb86"/><circle cx="233.1" cy="745.0" r="0.5" fill="#ebcb86"/><circle cx="273.1" cy="730.2" r="0.5" fill="#f1e7b4"/><circle cx="276.7" cy="734.1" r="0.5" fill="#f1e7b4"/><circle cx="244.7" cy="745.3" r="0.5" fill="#f1e7b4"/><circle cx="256.9" cy="725.1" r="0.5" fill="#f1e7b4"/><circle cx="238.6" cy="744.5" r="0.5" fill="#ebcb86"/><circle cx="263.2" cy="765.8" r="0.5" fill="#913028"/><circle cx="253.8" cy="757.5" r="0.5" fill="#ebcb86"/><circle cx="230.5" cy="738.5" r="0.5" fill="#f1e7b4"/><circle cx="284.1" cy="744.4" r="0.5" fill="#913028"/><circle cx="293.8" cy="726.1" r="0.5" fill="#f1e7b4"/><circle cx="278.0" cy="745.9" r="0.5" fill="#ebcb86"/><circle cx="267.9" cy="736.2" r="0.5" fill="#ebcb86"/><circle cx="258.7" cy="750.9" r="0.5" fill="#913028"/><circle cx="251.0" cy="751.2" r="0.5" fill="#f1e7b4"/><circle cx="228.6" cy="721.4" r="0.5" fill="#f1e7b4"/><circle cx="251.4" cy="765.6" r="0.5" fill="#f1e7b4"/><circle cx="224.3" cy="735.7" r="0.5" fill="#f1e7b4"/><circle cx="265.3" cy="766.4" r="0.5" fill="#913028"/><circle cx="241.6" cy="733.3" r="0.5" fill="#ebcb86"/><circle cx="232.7" cy="720.3" r="0.5" fill="#f1e7b4"/><circle cx="237.7" cy="738.2" r="0.5" fill="#cc6a3e"/><circle cx="268.8" cy="722.4" r="0.5" fill="#f1e7b4"/><circle cx="249.5" cy="744.0" r="0.5" fill="#ebcb86"/><circle cx="262.3" cy="747.6" r="0.5" fill="#cc6a3e"/><circle cx="251.6" cy="732.1" r="0.5" fill="#f1e7b4"/><circle cx="226.1" cy="729.6" r="0.5" fill="#cc6a3e"/><circle cx="239.3" cy="728.4" r="0.5" fill="#f1e7b4"/><circle cx="258.0" cy="738.1" r="0.5" fill="#ebcb86"/><circle cx="247.2" cy="722.6" r="0.5" fill="#f1e7b4"/><circle cx="240.1" cy="729.8" r="0.5" fill="#ebcb86"/><circle cx="263.8" cy="759.0" r="0.5" fill="#f1e7b4"/><circle cx="246.1" cy="719.6" r="0.5" fill="#ebcb86"/><circle cx="237.1" cy="740.5" r="0.5" fill="#913028"/><circle cx="239.9" cy="752.9" r="0.5" fill="#f1e7b4"/><circle cx="236.5" cy="719.9" r="0.5" fill="#ebcb86"/><circle cx="271.8" cy="767.6" r="0.5" fill="#f1e7b4"/><circle cx="290.7" cy="737.8" r="0.5" fill="#ebcb86"/><circle cx="274.3" cy="760.5" r="0.5" fill="#f1e7b4"/><circle cx="282.8" cy="737.7" r="0.5" fill="#f1e7b4"/><circle cx="247.9" cy="742.7" r="0.5" fill="#f1e7b4"/><circle cx="263.3" cy="770.0" r="0.5" fill="#f1e7b4"/><circle cx="255.2" cy="765.6" r="0.5" fill="#f1e7b4"/><circle cx="239.3" cy="724.6" r="0.5" fill="#f1e7b4"/><circle cx="238.3" cy="745.4" r="0.5" fill="#cc6a3e"/><circle cx="239.9" cy="733.5" r="0.5" fill="#ebcb86"/><circle cx="248.2" cy="736.3" r="0.5" fill="#f1e7b4"/><circle cx="268.2" cy="767.9" r="0.5" fill="#ebcb86"/><circle cx="254.0" cy="768.8" r="0.5" fill="#f1e7b4"/><circle cx="261.1" cy="741.5" r="0.5" fill="#f1e7b4"/><circle cx="232.3" cy="737.4" r="0.5" fill="#ebcb86"/><circle cx="280.6" cy="743.3" r="0.5" fill="#ebcb86"/><circle cx="245.8" cy="740.6" r="0.5" fill="#ebcb86"/><circle cx="265.8" cy="759.4" r="0.5" fill="#ebcb86"/><circle cx="239.0" cy="723.5" r="0.5" fill="#f1e7b4"/><circle cx="284.8" cy="739.8" r="0.5" fill="#ebcb86"/><circle cx="266.4" cy="757.7" r="0.5" fill="#913028"/><circle cx="270.8" cy="739.6" r="0.5" fill="#cc6a3e"/><circle cx="262.0" cy="752.9" r="0.5" fill="#f1e7b4"/><circle cx="256.8" cy="741.6" r="0.5" fill="#f1e7b4"/><circle cx="259.0" cy="770.5" r="0.5" fill="#f1e7b4"/><circle cx="266.2" cy="770.7" r="0.5" fill="#f1e7b4"/><circle cx="227.9" cy="735.2" r="0.5" fill="#f1e7b4"/><circle cx="223.6" cy="720.9" r="0.5" fill="#f1e7b4"/><circle cx="275.0" cy="714.0" r="0.5" fill="#ebcb86"/><circle cx="252.1" cy="738.4" r="0.5" fill="#f1e7b4"/><circle cx="231.4" cy="734.4" r="0.5" fill="#f1e7b4"/><circle cx="262.3" cy="727.9" r="0.5" fill="#f1e7b4"/><circle cx="234.4" cy="726.4" r="0.5" fill="#ebcb86"/><circle cx="265.7" cy="735.0" r="0.5" fill="#cc6a3e"/><circle cx="271.8" cy="740.1" r="0.5" fill="#ebcb86"/><circle cx="226.4" cy="722.6" r="0.5" fill="#f1e7b4"/><circle cx="254.2" cy="768.4" r="0.5" fill="#ebcb86"/><circle cx="267.1" cy="753.5" r="0.5" fill="#f1e7b4"/><circle cx="277.4" cy="734.0" r="0.5" fill="#ebcb86"/><circle cx="272.7" cy="760.6" r="0.5" fill="#cc6a3e"/><circle cx="256.9" cy="727.9" r="0.5" fill="#913028"/><circle cx="265.6" cy="769.5" r="0.5" fill="#f1e7b4"/><circle cx="263.3" cy="720.7" r="0.5" fill="#f1e7b4"/><circle cx="244.5" cy="725.4" r="0.5" fill="#ebcb86"/><circle cx="281.3" cy="742.9" r="0.5" fill="#f1e7b4"/><circle cx="233.8" cy="737.5" r="0.5" fill="#f1e7b4"/><circle cx="288.8" cy="734.5" r="0.5" fill="#f1e7b4"/><circle cx="260.5" cy="763.0" r="0.5" fill="#f1e7b4"/><circle cx="251.6" cy="739.7" r="0.5" fill="#ebcb86"/><circle cx="279.0" cy="748.9" r="0.5" fill="#f1e7b4"/><circle cx="252.6" cy="728.5" r="0.5" fill="#f1e7b4"/><circle cx="241.9" cy="721.0" r="0.5" fill="#f1e7b4"/><circle cx="242.9" cy="736.4" r="0.5" fill="#f1e7b4"/><circle cx="231.0" cy="735.4" r="0.5" fill="#f1e7b4"/><circle cx="244.3" cy="729.1" r="0.5" fill="#ebcb86"/><circle cx="258.7" cy="739.5" r="0.5" fill="#ebcb86"/><circle cx="234.8" cy="739.6" r="0.5" fill="#f1e7b4"/><circle cx="225.1" cy="732.1" r="0.5" fill="#cc6a3e"/><circle cx="243.9" cy="720.3" r="0.5" fill="#913028"/><circle cx="268.4" cy="741.3" r="0.5" fill="#f1e7b4"/><circle cx="282.9" cy="750.4" r="0.5" fill="#f1e7b4"/><circle cx="251.3" cy="726.9" r="0.5" fill="#f1e7b4"/><circle cx="280.6" cy="749.4" r="0.5" fill="#f1e7b4"/><circle cx="229.4" cy="740.9" r="0.5" fill="#913028"/><circle cx="261.3" cy="763.0" r="0.5" fill="#ebcb86"/><circle cx="268.3" cy="767.1" r="0.5" fill="#ebcb86"/><circle cx="276.9" cy="753.0" r="0.5" fill="#ebcb86"/><circle cx="228.9" cy="729.4" r="0.5" fill="#cc6a3e"/><circle cx="266.1" cy="748.3" r="0.5" fill="#913028"/><circle cx="272.0" cy="752.1" r="0.5" fill="#ebcb86"/><circle cx="261.2" cy="741.7" r="0.5" fill="#f1e7b4"/><circle cx="223.8" cy="722.6" r="0.5" fill="#f1e7b4"/><circle cx="260.4" cy="730.9" r="0.5" fill="#f1e7b4"/><circle cx="259.1" cy="752.3" r="0.5" fill="#ebcb86"/><circle cx="284.3" cy="747.5" r="0.5" fill="#ebcb86"/><circle cx="230.1" cy="721.8" r="0.5" fill="#f1e7b4"/><circle cx="282.2" cy="725.4" r="0.5" fill="#f1e7b4"/><circle cx="222.6" cy="722.9" r="0.5" fill="#f1e7b4"/><circle cx="276.0" cy="752.9" r="0.5" fill="#913028"/><circle cx="276.3" cy="724.4" r="0.5" fill="#ebcb86"/><circle cx="262.4" cy="736.8" r="0.5" fill="#f1e7b4"/><circle cx="256.5" cy="722.9" r="0.5" fill="#f1e7b4"/><circle cx="235.7" cy="745.0" r="0.5" fill="#f1e7b4"/><circle cx="229.7" cy="741.0" r="0.5" fill="#f1e7b4"/><circle cx="289.0" cy="739.9" r="0.5" fill="#ebcb86"/><circle cx="256.7" cy="725.2" r="0.5" fill="#f1e7b4"/><circle cx="229.6" cy="728.2" r="0.5" fill="#f1e7b4"/><circle cx="249.8" cy="731.7" r="0.5" fill="#ebcb86"/><circle cx="248.8" cy="734.2" r="0.5" fill="#f1e7b4"/><circle cx="239.1" cy="722.7" r="0.5" fill="#ebcb86"/><circle cx="281.3" cy="735.8" r="0.5" fill="#f1e7b4"/><circle cx="283.0" cy="749.5" r="0.5" fill="#913028"/><circle cx="258.5" cy="728.2" r="0.5" fill="#f1e7b4"/><circle cx="243.3" cy="756.2" r="0.5" fill="#f1e7b4"/><circle cx="274.6" cy="725.1" r="0.5" fill="#913028"/><circle cx="266.0" cy="731.8" r="0.5" fill="#f1e7b4"/><circle cx="260.7" cy="719.4" r="0.5" fill="#f1e7b4"/><circle cx="238.2" cy="722.1" r="0.5" fill="#f1e7b4"/><circle cx="267.0" cy="766.7" r="0.5" fill="#f1e7b4"/><circle cx="282.8" cy="733.1" r="0.5" fill="#ebcb86"/><circle cx="253.4" cy="741.0" r="0.5" fill="#ebcb86"/><circle cx="250.2" cy="727.8" r="0.5" fill="#f1e7b4"/><circle cx="222.7" cy="723.5" r="0.5" fill="#f1e7b4"/><circle cx="261.3" cy="748.4" r="0.5" fill="#cc6a3e"/><circle cx="241.0" cy="721.4" r="0.5" fill="#cc6a3e"/><circle cx="252.2" cy="735.4" r="0.5" fill="#cc6a3e"/><circle cx="262.9" cy="752.2" r="0.5" fill="#913028"/><circle cx="273.8" cy="758.0" r="0.5" fill="#ebcb86"/><circle cx="257.2" cy="742.9" r="0.5" fill="#cc6a3e"/><circle cx="273.7" cy="725.4" r="0.5" fill="#f1e7b4"/><circle cx="228.4" cy="721.7" r="0.5" fill="#f1e7b4"/><circle cx="272.9" cy="753.3" r="0.5" fill="#cc6a3e"/><circle cx="263.1" cy="745.1" r="0.5" fill="#f1e7b4"/><circle cx="251.2" cy="719.7" r="0.5" fill="#ebcb86"/><circle cx="243.6" cy="736.5" r="0.5" fill="#f1e7b4"/><circle cx="237.8" cy="721.3" r="0.5" fill="#ebcb86"/><circle cx="260.8" cy="751.6" r="0.5" fill="#cc6a3e"/><circle cx="254.0" cy="722.1" r="0.5" fill="#ebcb86"/><circle cx="246.8" cy="733.6" r="0.5" fill="#ebcb86"/><circle cx="276.9" cy="717.9" r="0.5" fill="#f1e7b4"/><circle cx="236.8" cy="733.4" r="0.5" fill="#f1e7b4"/><circle cx="230.1" cy="731.7" r="0.5" fill="#913028"/><circle cx="222.5" cy="731.7" r="0.5" fill="#f1e7b4"/><circle cx="298.7" cy="727.2" r="0.5" fill="#f1e7b4"/><circle cx="275.3" cy="730.7" r="0.5" fill="#f1e7b4"/><circle cx="249.9" cy="727.3" r="0.5" fill="#f1e7b4"/><circle cx="241.7" cy="728.7" r="0.5" fill="#913028"/><circle cx="248.4" cy="762.0" r="0.5" fill="#ebcb86"/><circle cx="289.1" cy="734.5" r="0.5" fill="#913028"/><circle cx="234.1" cy="729.6" r="0.5" fill="#f1e7b4"/><circle cx="253.2" cy="761.3" r="0.5" fill="#cc6a3e"/><circle cx="246.9" cy="723.1" r="0.5" fill="#f1e7b4"/><circle cx="244.9" cy="723.4" r="0.5" fill="#ebcb86"/><circle cx="237.7" cy="737.5" r="0.5" fill="#f1e7b4"/><circle cx="251.0" cy="721.6" r="0.5" fill="#ebcb86"/><circle cx="254.8" cy="738.8" r="0.5" fill="#913028"/><circle cx="270.3" cy="727.1" r="0.5" fill="#ebcb86"/><circle cx="245.2" cy="729.5" r="0.5" fill="#ebcb86"/><circle cx="225.7" cy="739.1" r="0.5" fill="#f1e7b4"/><circle cx="279.3" cy="735.5" r="0.5" fill="#ebcb86"/><circle cx="237.7" cy="733.4" r="0.5" fill="#f1e7b4"/><circle cx="271.5" cy="751.6" r="0.5" fill="#f1e7b4"/><circle cx="275.3" cy="712.4" r="0.5" fill="#f1e7b4"/><circle cx="266.8" cy="730.3" r="0.5" fill="#cc6a3e"/><circle cx="238.9" cy="721.2" r="0.5" fill="#f1e7b4"/><circle cx="267.8" cy="727.0" r="0.5" fill="#f1e7b4"/><circle cx="261.6" cy="720.2" r="0.5" fill="#f1e7b4"/><circle cx="258.8" cy="761.9" r="0.5" fill="#f1e7b4"/><circle cx="293.0" cy="735.7" r="0.5" fill="#ebcb86"/><circle cx="269.4" cy="747.8" r="0.5" fill="#f1e7b4"/><circle cx="236.3" cy="730.0" r="0.5" fill="#f1e7b4"/><circle cx="239.5" cy="746.3" r="0.5" fill="#f1e7b4"/><circle cx="274.2" cy="718.2" r="0.5" fill="#913028"/><circle cx="276.5" cy="717.0" r="0.5" fill="#f1e7b4"/><circle cx="286.8" cy="742.7" r="0.5" fill="#f1e7b4"/><circle cx="251.8" cy="742.8" r="0.5" fill="#ebcb86"/><circle cx="253.1" cy="723.9" r="0.5" fill="#ebcb86"/><circle cx="244.6" cy="744.0" r="0.5" fill="#f1e7b4"/><circle cx="248.5" cy="733.3" r="0.5" fill="#cc6a3e"/><circle cx="249.1" cy="717.8" r="0.5" fill="#913028"/><circle cx="254.3" cy="762.0" r="0.5" fill="#913028"/><circle cx="252.8" cy="766.4" r="0.5" fill="#f1e7b4"/><circle cx="249.7" cy="739.6" r="0.5" fill="#f1e7b4"/><circle cx="230.0" cy="723.9" r="0.5" fill="#ebcb86"/><circle cx="262.8" cy="769.4" r="0.5" fill="#f1e7b4"/><circle cx="226.8" cy="738.6" r="0.5" fill="#913028"/><circle cx="252.6" cy="763.8" r="0.5" fill="#f1e7b4"/><circle cx="236.3" cy="732.2" r="0.5" fill="#ebcb86"/><circle cx="262.5" cy="731.0" r="0.5" fill="#f1e7b4"/><circle cx="228.0" cy="721.3" r="0.5" fill="#ebcb86"/><circle cx="269.7" cy="742.8" r="0.5" fill="#ebcb86"/><circle cx="272.1" cy="725.5" r="0.5" fill="#ebcb86"/><circle cx="254.0" cy="745.1" r="0.5" fill="#913028"/><circle cx="254.5" cy="750.5" r="0.5" fill="#ebcb86"/><circle cx="256.3" cy="734.9" r="0.5" fill="#ebcb86"/><circle cx="260.0" cy="720.5" r="0.5" fill="#f1e7b4"/><circle cx="228.5" cy="734.3" r="0.5" fill="#f1e7b4"/><circle cx="225.3" cy="735.1" r="0.5" fill="#f1e7b4"/><circle cx="261.3" cy="730.6" r="0.5" fill="#ebcb86"/><circle cx="260.3" cy="771.6" r="0.5" fill="#ebcb86"/><circle cx="223.0" cy="728.7" r="0.5" fill="#ebcb86"/><circle cx="261.2" cy="769.0" r="0.5" fill="#f1e7b4"/><circle cx="235.5" cy="722.5" r="0.5" fill="#f1e7b4"/><circle cx="261.5" cy="726.4" r="0.5" fill="#f1e7b4"/><circle cx="227.3" cy="741.4" r="0.5" fill="#913028"/><circle cx="272.9" cy="729.3" r="0.5" fill="#ebcb86"/><circle cx="268.0" cy="766.4" r="0.5" fill="#f1e7b4"/><circle cx="272.3" cy="731.8" r="0.5" fill="#f1e7b4"/><circle cx="248.7" cy="758.0" r="0.5" fill="#f1e7b4"/><circle cx="268.5" cy="750.9" r="0.5" fill="#f1e7b4"/><circle cx="271.1" cy="734.5" r="0.5" fill="#f1e7b4"/><circle cx="262.1" cy="767.3" r="0.5" fill="#f1e7b4"/><circle cx="228.8" cy="719.9" r="0.5" fill="#f1e7b4"/><circle cx="226.6" cy="729.1" r="0.5" fill="#f1e7b4"/><circle cx="236.9" cy="745.2" r="0.5" fill="#f1e7b4"/><circle cx="268.8" cy="718.3" r="0.5" fill="#f1e7b4"/><circle cx="271.8" cy="737.5" r="0.5" fill="#ebcb86"/><circle cx="252.4" cy="722.6" r="0.5" fill="#f1e7b4"/><circle cx="266.4" cy="728.7" r="0.5" fill="#ebcb86"/><circle cx="273.7" cy="735.3" r="0.5" fill="#f1e7b4"/><circle cx="252.7" cy="720.7" r="0.5" fill="#f1e7b4"/><circle cx="234.7" cy="746.9" r="0.5" fill="#f1e7b4"/><circle cx="261.6" cy="749.3" r="0.5" fill="#f1e7b4"/><circle cx="244.3" cy="725.1" r="0.5" fill="#913028"/><circle cx="282.4" cy="736.8" r="0.5" fill="#ebcb86"/><circle cx="282.1" cy="735.9" r="0.5" fill="#ebcb86"/><circle cx="246.6" cy="756.9" r="0.5" fill="#ebcb86"/><circle cx="279.5" cy="722.7" r="0.5" fill="#cc6a3e"/><circle cx="265.7" cy="734.7" r="0.5" fill="#f1e7b4"/><circle cx="286.2" cy="740.9" r="0.5" fill="#913028"/><circle cx="240.5" cy="749.3" r="0.5" fill="#ebcb86"/><circle cx="240.0" cy="720.6" r="0.5" fill="#f1e7b4"/><circle cx="282.5" cy="727.0" r="0.5" fill="#f1e7b4"/><circle cx="294.2" cy="727.1" r="0.5" fill="#ebcb86"/><circle cx="272.4" cy="752.9" r="0.5" fill="#cc6a3e"/><circle cx="258.3" cy="763.3" r="0.5" fill="#f1e7b4"/><circle cx="255.5" cy="755.2" r="0.5" fill="#f1e7b4"/><circle cx="267.1" cy="725.6" r="0.5" fill="#ebcb86"/><circle cx="235.8" cy="747.9" r="0.5" fill="#ebcb86"/><circle cx="277.8" cy="748.7" r="0.5" fill="#f1e7b4"/><circle cx="278.2" cy="756.0" r="0.5" fill="#f1e7b4"/><circle cx="249.0" cy="761.8" r="0.5" fill="#ebcb86"/><circle cx="272.7" cy="762.3" r="0.5" fill="#f1e7b4"/><circle cx="272.5" cy="724.2" r="0.5" fill="#ebcb86"/><circle cx="245.2" cy="733.9" r="0.5" fill="#ebcb86"/><circle cx="242.0" cy="754.5" r="0.5" fill="#f1e7b4"/><circle cx="249.4" cy="726.6" r="0.5" fill="#cc6a3e"/><circle cx="255.4" cy="758.6" r="0.5" fill="#f1e7b4"/><circle cx="247.6" cy="753.8" r="0.5" fill="#ebcb86"/><circle cx="260.2" cy="760.3" r="0.5" fill="#f1e7b4"/><circle cx="233.4" cy="738.9" r="0.5" fill="#ebcb86"/><circle cx="242.1" cy="719.0" r="0.5" fill="#ebcb86"/><circle cx="278.4" cy="739.1" r="0.5" fill="#f1e7b4"/><circle cx="278.2" cy="759.6" r="0.5" fill="#ebcb86"/><circle cx="272.1" cy="729.0" r="0.5" fill="#ebcb86"/><circle cx="252.3" cy="731.8" r="0.5" fill="#f1e7b4"/><circle cx="235.3" cy="722.5" r="0.5" fill="#ebcb86"/><circle cx="250.4" cy="766.5" r="0.5" fill="#cc6a3e"/><circle cx="237.7" cy="736.5" r="0.5" fill="#ebcb86"/><circle cx="263.7" cy="757.3" r="0.5" fill="#ebcb86"/><circle cx="283.1" cy="749.6" r="0.5" fill="#ebcb86"/><circle cx="247.7" cy="727.0" r="0.5" fill="#f1e7b4"/><circle cx="275.1" cy="756.4" r="0.5" fill="#913028"/><circle cx="232.1" cy="734.9" r="0.5" fill="#f1e7b4"/><circle cx="284.9" cy="744.9" r="0.5" fill="#f1e7b4"/><circle cx="228.3" cy="736.6" r="0.5" fill="#f1e7b4"/><circle cx="234.0" cy="725.2" r="0.5" fill="#913028"/><circle cx="238.9" cy="727.0" r="0.5" fill="#f1e7b4"/><circle cx="226.1" cy="731.1" r="0.5" fill="#913028"/><circle cx="281.4" cy="734.6" r="0.5" fill="#f1e7b4"/><circle cx="252.1" cy="759.9" r="0.5" fill="#f1e7b4"/><circle cx="277.9" cy="739.3" r="0.5" fill="#ebcb86"/><circle cx="272.5" cy="736.7" r="0.5" fill="#913028"/><circle cx="252.6" cy="756.3" r="0.5" fill="#f1e7b4"/><circle cx="267.4" cy="756.9" r="0.5" fill="#cc6a3e"/><circle cx="254.1" cy="720.0" r="0.5" fill="#ebcb86"/><circle cx="273.3" cy="736.0" r="0.5" fill="#ebcb86"/><circle cx="244.6" cy="748.3" r="0.5" fill="#f1e7b4"/><circle cx="225.8" cy="733.6" r="0.5" fill="#ebcb86"/><circle cx="272.3" cy="721.6" r="0.5" fill="#cc6a3e"/><circle cx="254.3" cy="736.1" r="0.5" fill="#f1e7b4"/><circle cx="271.6" cy="732.8" r="0.5" fill="#f1e7b4"/><circle cx="285.3" cy="731.4" r="0.5" fill="#f1e7b4"/><circle cx="264.6" cy="754.6" r="0.5" fill="#913028"/><circle cx="262.0" cy="749.1" r="0.5" fill="#ebcb86"/><circle cx="289.7" cy="740.8" r="0.5" fill="#ebcb86"/><circle cx="251.6" cy="757.9" r="0.5" fill="#f1e7b4"/><circle cx="241.2" cy="732.1" r="0.5" fill="#ebcb86"/><circle cx="254.0" cy="753.3" r="0.5" fill="#f1e7b4"/><circle cx="248.0" cy="722.6" r="0.5" fill="#f1e7b4"/><circle cx="251.5" cy="718.9" r="0.5" fill="#f1e7b4"/><circle cx="258.3" cy="743.7" r="0.5" fill="#f1e7b4"/><circle cx="248.1" cy="749.1" r="0.5" fill="#913028"/><circle cx="258.2" cy="724.7" r="0.5" fill="#f1e7b4"/><circle cx="290.1" cy="729.0" r="0.5" fill="#913028"/><circle cx="250.1" cy="721.8" r="0.5" fill="#f1e7b4"/><circle cx="241.8" cy="721.2" r="0.5" fill="#f1e7b4"/><circle cx="243.6" cy="737.8" r="0.5" fill="#f1e7b4"/><circle cx="254.7" cy="749.0" r="0.5" fill="#ebcb86"/><circle cx="274.9" cy="729.5" r="0.5" fill="#913028"/><circle cx="274.6" cy="721.5" r="0.5" fill="#f1e7b4"/><circle cx="270.4" cy="759.2" r="0.5" fill="#f1e7b4"/><circle cx="263.7" cy="756.4" r="0.5" fill="#f1e7b4"/><circle cx="255.6" cy="766.4" r="0.5" fill="#ebcb86"/><circle cx="265.8" cy="722.6" r="0.5" fill="#f1e7b4"/><circle cx="260.2" cy="739.1" r="0.5" fill="#ebcb86"/><circle cx="264.4" cy="765.0" r="0.5" fill="#ebcb86"/><circle cx="258.2" cy="743.7" r="0.5" fill="#ebcb86"/><circle cx="275.4" cy="763.4" r="0.5" fill="#ebcb86"/><circle cx="250.0" cy="733.5" r="0.5" fill="#f1e7b4"/><circle cx="272.9" cy="748.9" r="0.5" fill="#f1e7b4"/><circle cx="261.9" cy="738.2" r="0.5" fill="#913028"/><circle cx="280.0" cy="748.1" r="0.5" fill="#913028"/><circle cx="249.3" cy="737.5" r="0.5" fill="#f1e7b4"/><circle cx="263.2" cy="758.4" r="0.5" fill="#f1e7b4"/><circle cx="235.7" cy="734.7" r="0.5" fill="#ebcb86"/><circle cx="254.2" cy="743.1" r="0.5" fill="#ebcb86"/><circle cx="289.6" cy="732.4" r="0.5" fill="#913028"/><circle cx="261.3" cy="723.1" r="0.5" fill="#913028"/><circle cx="274.5" cy="759.9" r="0.5" fill="#f1e7b4"/><circle cx="246.2" cy="726.3" r="0.5" fill="#f1e7b4"/><circle cx="243.4" cy="745.4" r="0.5" fill="#f1e7b4"/><circle cx="272.7" cy="759.4" r="0.5" fill="#cc6a3e"/><circle cx="221.6" cy="725.1" r="0.5" fill="#cc6a3e"/><circle cx="274.8" cy="759.7" r="0.5" fill="#f1e7b4"/><circle cx="271.2" cy="748.2" r="0.5" fill="#f1e7b4"/><circle cx="278.1" cy="746.1" r="0.5" fill="#ebcb86"/><circle cx="276.8" cy="718.9" r="0.5" fill="#f1e7b4"/><circle cx="275.6" cy="736.3" r="0.5" fill="#f1e7b4"/><circle cx="274.6" cy="730.0" r="0.5" fill="#f1e7b4"/><circle cx="266.4" cy="722.1" r="0.5" fill="#913028"/><circle cx="243.7" cy="733.7" r="0.5" fill="#f1e7b4"/><circle cx="245.1" cy="734.3" r="0.5" fill="#ebcb86"/><circle cx="288.1" cy="744.6" r="0.5" fill="#913028"/><circle cx="273.6" cy="718.9" r="0.5" fill="#ebcb86"/><circle cx="272.2" cy="754.1" r="0.5" fill="#f1e7b4"/><circle cx="257.5" cy="769.9" r="0.5" fill="#f1e7b4"/><circle cx="244.5" cy="755.5" r="0.5" fill="#cc6a3e"/><circle cx="249.4" cy="744.6" r="0.5" fill="#f1e7b4"/><circle cx="255.6" cy="751.8" r="0.5" fill="#f1e7b4"/><circle cx="249.0" cy="749.5" r="0.5" fill="#cc6a3e"/><circle cx="272.3" cy="733.4" r="0.5" fill="#f1e7b4"/><circle cx="251.0" cy="759.5" r="0.5" fill="#f1e7b4"/><circle cx="266.8" cy="724.5" r="0.5" fill="#f1e7b4"/><circle cx="246.3" cy="746.8" r="0.5" fill="#f1e7b4"/><circle cx="269.8" cy="725.7" r="0.5" fill="#ebcb86"/><circle cx="254.7" cy="766.8" r="0.5" fill="#f1e7b4"/><circle cx="250.2" cy="752.3" r="0.5" fill="#f1e7b4"/><circle cx="269.9" cy="767.3" r="0.5" fill="#f1e7b4"/><circle cx="254.2" cy="745.4" r="0.5" fill="#f1e7b4"/><circle cx="267.2" cy="723.2" r="0.5" fill="#f1e7b4"/><circle cx="265.7" cy="760.3" r="0.5" fill="#ebcb86"/><circle cx="270.3" cy="751.8" r="0.5" fill="#f1e7b4"/><circle cx="257.9" cy="718.5" r="0.5" fill="#f1e7b4"/><circle cx="286.5" cy="736.4" r="0.5" fill="#f1e7b4"/><circle cx="267.9" cy="767.4" r="0.5" fill="#913028"/><circle cx="258.9" cy="745.6" r="0.5" fill="#ebcb86"/><circle cx="249.0" cy="743.8" r="0.5" fill="#f1e7b4"/><circle cx="252.4" cy="740.5" r="0.5" fill="#f1e7b4"/><circle cx="269.5" cy="728.3" r="0.5" fill="#f1e7b4"/><circle cx="293.0" cy="738.3" r="0.5" fill="#f1e7b4"/><circle cx="266.8" cy="722.4" r="0.5" fill="#cc6a3e"/><circle cx="285.4" cy="734.0" r="0.5" fill="#f1e7b4"/><circle cx="266.0" cy="765.5" r="0.5" fill="#f1e7b4"/><circle cx="257.3" cy="770.9" r="0.5" fill="#f1e7b4"/><circle cx="269.5" cy="732.0" r="0.5" fill="#ebcb86"/><circle cx="239.7" cy="743.8" r="0.5" fill="#f1e7b4"/><circle cx="275.8" cy="731.7" r="0.5" fill="#f1e7b4"/><circle cx="239.6" cy="728.8" r="0.5" fill="#f1e7b4"/><circle cx="276.4" cy="725.0" r="0.5" fill="#f1e7b4"/><circle cx="269.0" cy="757.5" r="0.5" fill="#f1e7b4"/><circle cx="226.5" cy="726.8" r="0.5" fill="#ebcb86"/><circle cx="229.5" cy="735.5" r="0.5" fill="#913028"/><circle cx="256.8" cy="727.9" r="0.5" fill="#ebcb86"/><circle cx="289.2" cy="737.7" r="0.5" fill="#cc6a3e"/><circle cx="279.6" cy="743.0" r="0.5" fill="#f1e7b4"/><circle cx="240.5" cy="733.0" r="0.5" fill="#f1e7b4"/><circle cx="230.9" cy="723.0" r="0.5" fill="#ebcb86"/><circle cx="290.6" cy="727.5" r="0.5" fill="#cc6a3e"/><circle cx="231.9" cy="738.6" r="0.5" fill="#913028"/><circle cx="275.7" cy="718.8" r="0.5" fill="#ebcb86"/><circle cx="259.0" cy="724.1" r="0.5" fill="#f1e7b4"/><circle cx="225.8" cy="724.3" r="0.5" fill="#913028"/><circle cx="287.8" cy="728.0" r="0.5" fill="#f1e7b4"/><circle cx="290.0" cy="741.1" r="0.5" fill="#ebcb86"/><circle cx="233.5" cy="734.7" r="0.5" fill="#cc6a3e"/><circle cx="279.5" cy="717.8" r="0.5" fill="#f1e7b4"/><circle cx="270.5" cy="738.9" r="0.5" fill="#f1e7b4"/><circle cx="270.8" cy="754.0" r="0.5" fill="#f1e7b4"/><circle cx="288.2" cy="745.1" r="0.5" fill="#f1e7b4"/><circle cx="281.3" cy="732.7" r="0.5" fill="#cc6a3e"/><circle cx="288.1" cy="727.6" r="0.5" fill="#ebcb86"/><circle cx="249.7" cy="746.0" r="0.5" fill="#ebcb86"/><circle cx="256.2" cy="740.4" r="0.5" fill="#f1e7b4"/><circle cx="245.3" cy="754.2" r="0.5" fill="#f1e7b4"/><circle cx="250.6" cy="757.1" r="0.5" fill="#f1e7b4"/><circle cx="262.1" cy="741.4" r="0.5" fill="#f1e7b4"/><circle cx="278.4" cy="717.7" r="0.5" fill="#ebcb86"/><circle cx="267.6" cy="740.9" r="0.5" fill="#ebcb86"/><circle cx="278.7" cy="711.1" r="0.5" fill="#ebcb86"/><circle cx="260.4" cy="739.3" r="0.5" fill="#f1e7b4"/><circle cx="269.0" cy="764.8" r="0.5" fill="#ebcb86"/><circle cx="230.1" cy="744.4" r="0.5" fill="#f1e7b4"/><circle cx="251.2" cy="733.6" r="0.5" fill="#ebcb86"/><circle cx="290.7" cy="741.1" r="0.5" fill="#913028"/><circle cx="285.2" cy="727.8" r="0.5" fill="#f1e7b4"/><circle cx="238.3" cy="727.6" r="0.5" fill="#f1e7b4"/><circle cx="239.1" cy="733.7" r="0.5" fill="#f1e7b4"/><circle cx="272.6" cy="729.7" r="0.5" fill="#f1e7b4"/><circle cx="255.1" cy="739.6" r="0.5" fill="#f1e7b4"/><circle cx="273.3" cy="722.7" r="0.5" fill="#f1e7b4"/><circle cx="276.6" cy="723.2" r="0.5" fill="#ebcb86"/><circle cx="264.7" cy="769.3" r="0.5" fill="#ebcb86"/><circle cx="271.6" cy="721.6" r="0.5" fill="#913028"/><circle cx="262.7" cy="734.6" r="0.5" fill="#f1e7b4"/><circle cx="244.0" cy="749.7" r="0.5" fill="#f1e7b4"/><circle cx="240.7" cy="736.9" r="0.5" fill="#f1e7b4"/><circle cx="242.9" cy="732.6" r="0.5" fill="#f1e7b4"/><circle cx="242.5" cy="721.1" r="0.5" fill="#ebcb86"/><circle cx="267.1" cy="749.9" r="0.5" fill="#ebcb86"/><circle cx="257.5" cy="742.7" r="0.5" fill="#f1e7b4"/><circle cx="270.8" cy="737.1" r="0.5" fill="#f1e7b4"/><circle cx="244.4" cy="721.0" r="0.5" fill="#f1e7b4"/><circle cx="236.6" cy="740.1" r="0.5" fill="#913028"/><circle cx="250.8" cy="745.3" r="0.5" fill="#ebcb86"/><circle cx="265.9" cy="738.6" r="0.5" fill="#f1e7b4"/><circle cx="293.4" cy="735.0" r="0.5" fill="#f1e7b4"/><circle cx="222.7" cy="731.3" r="0.5" fill="#ebcb86"/><circle cx="255.7" cy="755.9" r="0.5" fill="#ebcb86"/><circle cx="226.8" cy="719.8" r="0.5" fill="#f1e7b4"/><circle cx="230.8" cy="727.7" r="0.5" fill="#f1e7b4"/><circle cx="248.1" cy="751.7" r="0.5" fill="#f1e7b4"/><circle cx="271.1" cy="764.0" r="0.5" fill="#f1e7b4"/><circle cx="289.0" cy="740.5" r="0.5" fill="#f1e7b4"/><circle cx="281.8" cy="756.5" r="0.5" fill="#ebcb86"/><circle cx="283.7" cy="737.5" r="0.5" fill="#ebcb86"/><circle cx="284.2" cy="745.3" r="0.5" fill="#f1e7b4"/><circle cx="260.8" cy="772.0" r="0.5" fill="#f1e7b4"/><circle cx="267.3" cy="733.4" r="0.5" fill="#f1e7b4"/><circle cx="270.3" cy="730.7" r="0.5" fill="#ebcb86"/><circle cx="256.8" cy="736.3" r="0.5" fill="#f1e7b4"/><circle cx="251.4" cy="743.2" r="0.5" fill="#f1e7b4"/><circle cx="250.9" cy="726.6" r="0.5" fill="#913028"/><circle cx="260.9" cy="735.3" r="0.5" fill="#ebcb86"/><circle cx="233.4" cy="725.4" r="0.5" fill="#f1e7b4"/><circle cx="229.9" cy="744.6" r="0.5" fill="#cc6a3e"/><circle cx="297.7" cy="726.8" r="0.5" fill="#f1e7b4"/><circle cx="254.5" cy="768.3" r="0.5" fill="#ebcb86"/><circle cx="266.6" cy="739.1" r="0.5" fill="#f1e7b4"/><circle cx="262.5" cy="740.5" r="0.5" fill="#ebcb86"/><circle cx="277.2" cy="731.4" r="0.5" fill="#ebcb86"/><circle cx="248.5" cy="746.0" r="0.5" fill="#ebcb86"/><circle cx="276.4" cy="741.0" r="0.5" fill="#f1e7b4"/><circle cx="225.9" cy="730.4" r="0.5" fill="#f1e7b4"/><circle cx="252.3" cy="743.6" r="0.5" fill="#ebcb86"/><circle cx="267.4" cy="766.2" r="0.5" fill="#f1e7b4"/><circle cx="255.7" cy="748.1" r="0.5" fill="#ebcb86"/><circle cx="263.6" cy="761.6" r="0.5" fill="#f1e7b4"/><circle cx="232.2" cy="726.4" r="0.5" fill="#ebcb86"/><circle cx="294.9" cy="733.7" r="0.5" fill="#ebcb86"/><circle cx="230.9" cy="724.4" r="0.5" fill="#cc6a3e"/><circle cx="262.0" cy="739.6" r="0.5" fill="#913028"/><circle cx="272.3" cy="746.6" r="0.5" fill="#f1e7b4"/><circle cx="253.2" cy="759.6" r="0.5" fill="#ebcb86"/><circle cx="244.1" cy="752.8" r="0.5" fill="#cc6a3e"/><circle cx="275.7" cy="717.8" r="0.5" fill="#f1e7b4"/><circle cx="260.8" cy="743.0" r="0.5" fill="#f1e7b4"/><circle cx="240.5" cy="749.7" r="0.5" fill="#913028"/><circle cx="267.5" cy="733.0" r="0.5" fill="#f1e7b4"/><circle cx="262.9" cy="762.1" r="0.5" fill="#f1e7b4"/><circle cx="270.8" cy="761.0" r="0.5" fill="#ebcb86"/><circle cx="284.6" cy="726.7" r="0.5" fill="#f1e7b4"/><circle cx="279.8" cy="728.9" r="0.5" fill="#f1e7b4"/><circle cx="232.1" cy="722.7" r="0.5" fill="#ebcb86"/><circle cx="268.2" cy="728.6" r="0.5" fill="#f1e7b4"/><circle cx="256.6" cy="731.2" r="0.5" fill="#f1e7b4"/><circle cx="255.7" cy="747.8" r="0.5" fill="#ebcb86"/><circle cx="288.6" cy="725.3" r="0.5" fill="#ebcb86"/><circle cx="260.6" cy="771.1" r="0.5" fill="#f1e7b4"/><circle cx="238.5" cy="731.4" r="0.5" fill="#f1e7b4"/><circle cx="259.6" cy="760.0" r="0.5" fill="#ebcb86"/><circle cx="263.9" cy="731.2" r="0.5" fill="#f1e7b4"/><circle cx="248.0" cy="721.2" r="0.5" fill="#ebcb86"/><circle cx="234.0" cy="723.9" r="0.5" fill="#f1e7b4"/><circle cx="275.3" cy="728.0" r="0.5" fill="#913028"/><circle cx="225.4" cy="722.9" r="0.5" fill="#f1e7b4"/><circle cx="256.0" cy="763.1" r="0.5" fill="#ebcb86"/><circle cx="248.1" cy="755.0" r="0.5" fill="#ebcb86"/><circle cx="261.4" cy="719.9" r="0.5" fill="#f1e7b4"/><circle cx="279.0" cy="722.3" r="0.5" fill="#f1e7b4"/><circle cx="249.4" cy="721.3" r="0.5" fill="#913028"/><circle cx="270.4" cy="718.9" r="0.5" fill="#f1e7b4"/><circle cx="262.1" cy="742.3" r="0.5" fill="#cc6a3e"/><circle cx="250.9" cy="750.4" r="0.5" fill="#f1e7b4"/><circle cx="266.9" cy="725.9" r="0.5" fill="#ebcb86"/><circle cx="245.3" cy="750.8" r="0.5" fill="#ebcb86"/><circle cx="248.9" cy="739.3" r="0.5" fill="#ebcb86"/><circle cx="244.5" cy="719.9" r="0.5" fill="#913028"/><circle cx="241.9" cy="732.4" r="0.5" fill="#ebcb86"/><circle cx="228.8" cy="723.4" r="0.5" fill="#cc6a3e"/><circle cx="275.3" cy="728.7" r="0.5" fill="#f1e7b4"/><circle cx="253.3" cy="750.5" r="0.5" fill="#f1e7b4"/><circle cx="278.4" cy="721.4" r="0.5" fill="#ebcb86"/><circle cx="291.3" cy="728.8" r="0.5" fill="#cc6a3e"/><circle cx="272.2" cy="716.7" r="0.5" fill="#f1e7b4"/><circle cx="281.4" cy="754.3" r="0.5" fill="#cc6a3e"/><circle cx="243.8" cy="730.8" r="0.5" fill="#ebcb86"/><circle cx="273.1" cy="716.6" r="0.5" fill="#f1e7b4"/><circle cx="255.3" cy="752.3" r="0.5" fill="#ebcb86"/><circle cx="221.4" cy="721.2" r="0.5" fill="#f1e7b4"/><circle cx="278.0" cy="731.7" r="0.5" fill="#f1e7b4"/><circle cx="272.2" cy="735.9" r="0.5" fill="#913028"/><circle cx="254.7" cy="740.1" r="0.5" fill="#ebcb86"/><circle cx="278.7" cy="760.9" r="0.5" fill="#f1e7b4"/><circle cx="240.1" cy="742.5" r="0.5" fill="#cc6a3e"/><circle cx="264.8" cy="721.5" r="0.5" fill="#ebcb86"/><circle cx="222.5" cy="729.2" r="0.5" fill="#f1e7b4"/><circle cx="253.2" cy="718.1" r="0.5" fill="#f1e7b4"/><circle cx="279.1" cy="751.3" r="0.5" fill="#f1e7b4"/><circle cx="238.1" cy="721.0" r="0.5" fill="#f1e7b4"/><circle cx="262.3" cy="735.4" r="0.5" fill="#913028"/><circle cx="229.7" cy="743.7" r="0.5" fill="#ebcb86"/><circle cx="265.2" cy="757.7" r="0.5" fill="#ebcb86"/><circle cx="269.6" cy="736.5" r="0.5" fill="#f1e7b4"/><circle cx="227.3" cy="724.3" r="0.5" fill="#ebcb86"/><circle cx="248.8" cy="718.5" r="0.5" fill="#f1e7b4"/><circle cx="222.5" cy="723.7" r="0.5" fill="#913028"/><circle cx="245.6" cy="737.0" r="0.5" fill="#f1e7b4"/><circle cx="226.8" cy="738.5" r="0.5" fill="#f1e7b4"/><circle cx="274.3" cy="721.6" r="0.5" fill="#f1e7b4"/><circle cx="289.4" cy="726.5" r="0.5" fill="#f1e7b4"/><circle cx="249.5" cy="742.9" r="0.5" fill="#ebcb86"/><circle cx="249.5" cy="762.7" r="0.5" fill="#f1e7b4"/><circle cx="266.8" cy="748.3" r="0.5" fill="#913028"/><circle cx="260.5" cy="739.2" r="0.5" fill="#f1e7b4"/><circle cx="231.0" cy="725.1" r="0.5" fill="#f1e7b4"/><circle cx="277.4" cy="715.4" r="0.5" fill="#f1e7b4"/><circle cx="286.0" cy="734.0" r="0.5" fill="#f1e7b4"/><circle cx="242.0" cy="750.7" r="0.5" fill="#cc6a3e"/><circle cx="262.2" cy="733.7" r="0.5" fill="#ebcb86"/><circle cx="246.9" cy="734.9" r="0.5" fill="#f1e7b4"/><circle cx="275.5" cy="762.4" r="0.5" fill="#f1e7b4"/><circle cx="243.1" cy="735.2" r="0.5" fill="#ebcb86"/><circle cx="266.5" cy="728.5" r="0.5" fill="#f1e7b4"/><circle cx="245.6" cy="736.5" r="0.5" fill="#913028"/><circle cx="276.4" cy="747.0" r="0.5" fill="#ebcb86"/><circle cx="243.2" cy="744.3" r="0.5" fill="#cc6a3e"/><circle cx="273.8" cy="725.0" r="0.5" fill="#ebcb86"/><circle cx="276.6" cy="735.5" r="0.5" fill="#f1e7b4"/><circle cx="249.8" cy="745.0" r="0.5" fill="#f1e7b4"/><circle cx="253.7" cy="741.4" r="0.5" fill="#cc6a3e"/><circle cx="266.6" cy="731.9" r="0.5" fill="#ebcb86"/><circle cx="263.7" cy="721.7" r="0.5" fill="#cc6a3e"/><circle cx="260.0" cy="743.1" r="0.5" fill="#f1e7b4"/><circle cx="237.1" cy="744.4" r="0.5" fill="#ebcb86"/><circle cx="227.1" cy="740.2" r="0.5" fill="#ebcb86"/><circle cx="255.7" cy="765.0" r="0.5" fill="#ebcb86"/><circle cx="265.4" cy="754.5" r="0.5" fill="#f1e7b4"/><circle cx="238.0" cy="730.2" r="0.5" fill="#ebcb86"/><circle cx="235.9" cy="725.1" r="0.5" fill="#f1e7b4"/><circle cx="279.1" cy="734.0" r="0.5" fill="#f1e7b4"/><circle cx="247.1" cy="757.9" r="0.5" fill="#ebcb86"/><circle cx="276.7" cy="762.3" r="0.5" fill="#f1e7b4"/><circle cx="228.0" cy="730.3" r="0.5" fill="#ebcb86"/><circle cx="265.2" cy="760.7" r="0.5" fill="#ebcb86"/><circle cx="276.3" cy="721.9" r="0.5" fill="#f1e7b4"/><circle cx="234.1" cy="735.5" r="0.5" fill="#ebcb86"/><circle cx="233.5" cy="743.1" r="0.5" fill="#ebcb86"/><circle cx="242.6" cy="752.5" r="0.5" fill="#ebcb86"/><circle cx="277.5" cy="761.1" r="0.5" fill="#f1e7b4"/><circle cx="261.1" cy="765.7" r="0.5" fill="#ebcb86"/><circle cx="276.7" cy="731.6" r="0.5" fill="#ebcb86"/><circle cx="291.1" cy="731.7" r="0.5" fill="#913028"/><circle cx="223.9" cy="727.2" r="0.5" fill="#ebcb86"/><circle cx="232.1" cy="729.4" r="0.5" fill="#f1e7b4"/><circle cx="258.1" cy="744.7" r="0.5" fill="#ebcb86"/><circle cx="251.2" cy="728.9" r="0.5" fill="#f1e7b4"/><circle cx="275.9" cy="723.2" r="0.5" fill="#ebcb86"/><circle cx="241.2" cy="739.3" r="0.5" fill="#f1e7b4"/><circle cx="240.2" cy="744.1" r="0.5" fill="#ebcb86"/><circle cx="263.4" cy="771.6" r="0.5" fill="#f1e7b4"/><circle cx="266.3" cy="758.4" r="0.5" fill="#f1e7b4"/><circle cx="272.6" cy="748.8" r="0.5" fill="#ebcb86"/><circle cx="249.0" cy="723.8" r="0.5" fill="#ebcb86"/><circle cx="281.9" cy="739.9" r="0.5" fill="#f1e7b4"/><circle cx="272.8" cy="728.7" r="0.5" fill="#f1e7b4"/><circle cx="265.4" cy="732.6" r="0.5" fill="#f1e7b4"/><circle cx="222.5" cy="727.7" r="0.5" fill="#f1e7b4"/><circle cx="259.3" cy="729.9" r="0.5" fill="#ebcb86"/><circle cx="238.5" cy="720.5" r="0.5" fill="#f1e7b4"/><circle cx="256.9" cy="735.4" r="0.5" fill="#f1e7b4"/><circle cx="267.0" cy="725.3" r="0.5" fill="#cc6a3e"/><circle cx="243.6" cy="725.7" r="0.5" fill="#f1e7b4"/><circle cx="280.8" cy="742.9" r="0.5" fill="#f1e7b4"/><circle cx="248.5" cy="758.7" r="0.5" fill="#f1e7b4"/><circle cx="254.7" cy="765.3" r="0.5" fill="#f1e7b4"/><circle cx="231.6" cy="722.8" r="0.5" fill="#f1e7b4"/><circle cx="278.8" cy="719.3" r="0.5" fill="#ebcb86"/><circle cx="252.2" cy="718.0" r="0.5" fill="#f1e7b4"/><circle cx="270.0" cy="765.0" r="0.5" fill="#ebcb86"/><circle cx="273.9" cy="717.8" r="0.5" fill="#ebcb86"/><circle cx="233.7" cy="741.9" r="0.5" fill="#f1e7b4"/><circle cx="245.8" cy="756.9" r="0.5" fill="#cc6a3e"/><circle cx="274.0" cy="732.5" r="0.5" fill="#ebcb86"/><circle cx="276.6" cy="727.8" r="0.5" fill="#f1e7b4"/><circle cx="246.5" cy="738.9" r="0.5" fill="#ebcb86"/><circle cx="269.5" cy="722.0" r="0.5" fill="#ebcb86"/><circle cx="270.9" cy="755.1" r="0.5" fill="#f1e7b4"/><circle cx="288.4" cy="733.8" r="0.5" fill="#f1e7b4"/><circle cx="264.3" cy="745.5" r="0.5" fill="#f1e7b4"/><circle cx="265.8" cy="750.4" r="0.5" fill="#f1e7b4"/><circle cx="269.8" cy="727.3" r="0.5" fill="#f1e7b4"/><circle cx="279.4" cy="757.9" r="0.5" fill="#f1e7b4"/><circle cx="285.1" cy="725.7" r="0.5" fill="#f1e7b4"/><circle cx="256.9" cy="723.5" r="0.5" fill="#f1e7b4"/><circle cx="263.0" cy="770.5" r="0.5" fill="#f1e7b4"/><circle cx="258.8" cy="750.3" r="0.5" fill="#f1e7b4"/><circle cx="284.9" cy="729.5" r="0.5" fill="#f1e7b4"/><circle cx="272.9" cy="728.2" r="0.5" fill="#f1e7b4"/><circle cx="287.2" cy="736.4" r="0.5" fill="#f1e7b4"/><circle cx="252.4" cy="765.0" r="0.5" fill="#ebcb86"/><circle cx="253.1" cy="768.9" r="0.5" fill="#f1e7b4"/><circle cx="236.8" cy="721.7" r="0.5" fill="#ebcb86"/><circle cx="240.2" cy="734.6" r="0.5" fill="#cc6a3e"/><circle cx="283.6" cy="749.4" r="0.5" fill="#ebcb86"/><circle cx="236.2" cy="744.2" r="0.5" fill="#cc6a3e"/><circle cx="242.0" cy="727.3" r="0.5" fill="#913028"/><circle cx="259.7" cy="767.0" r="0.5" fill="#cc6a3e"/><circle cx="269.5" cy="735.9" r="0.5" fill="#ebcb86"/><circle cx="267.9" cy="766.4" r="0.5" fill="#f1e7b4"/><circle cx="248.8" cy="759.1" r="0.5" fill="#913028"/><circle cx="276.9" cy="710.2" r="0.5" fill="#f1e7b4"/><circle cx="261.4" cy="720.2" r="0.5" fill="#cc6a3e"/><circle cx="227.8" cy="738.4" r="0.5" fill="#f1e7b4"/><circle cx="229.1" cy="734.2" r="0.5" fill="#ebcb86"/><circle cx="248.2" cy="739.0" r="0.5" fill="#ebcb86"/><circle cx="297.6" cy="728.6" r="0.5" fill="#f1e7b4"/><circle cx="252.9" cy="743.3" r="0.5" fill="#ebcb86"/><circle cx="277.4" cy="750.1" r="0.5" fill="#ebcb86"/><circle cx="264.8" cy="742.7" r="0.5" fill="#f1e7b4"/><circle cx="252.2" cy="726.4" r="0.5" fill="#cc6a3e"/><circle cx="251.1" cy="731.1" r="0.5" fill="#ebcb86"/><circle cx="270.4" cy="769.5" r="0.5" fill="#f1e7b4"/><circle cx="239.5" cy="747.1" r="0.5" fill="#f1e7b4"/><circle cx="250.2" cy="720.9" r="0.5" fill="#f1e7b4"/><circle cx="277.9" cy="726.8" r="0.5" fill="#ebcb86"/><circle cx="273.7" cy="742.7" r="0.5" fill="#f1e7b4"/><circle cx="291.9" cy="740.0" r="0.5" fill="#ebcb86"/><circle cx="237.8" cy="748.4" r="0.5" fill="#f1e7b4"/><circle cx="282.2" cy="730.7" r="0.5" fill="#f1e7b4"/><circle cx="279.5" cy="731.7" r="0.5" fill="#cc6a3e"/><circle cx="263.3" cy="747.2" r="0.5" fill="#ebcb86"/><circle cx="276.5" cy="726.7" r="0.5" fill="#f1e7b4"/><circle cx="272.2" cy="742.3" r="0.5" fill="#ebcb86"/><circle cx="236.8" cy="747.2" r="0.5" fill="#f1e7b4"/><circle cx="258.6" cy="755.0" r="0.5" fill="#f1e7b4"/><circle cx="262.9" cy="737.6" r="0.5" fill="#ebcb86"/><circle cx="263.1" cy="741.2" r="0.5" fill="#f1e7b4"/><circle cx="257.5" cy="749.2" r="0.5" fill="#913028"/><circle cx="250.6" cy="762.8" r="0.5" fill="#ebcb86"/><circle cx="230.7" cy="721.7" r="0.5" fill="#cc6a3e"/><circle cx="226.2" cy="729.1" r="0.5" fill="#ebcb86"/><circle cx="287.5" cy="740.8" r="0.5" fill="#ebcb86"/><circle cx="278.0" cy="735.7" r="0.5" fill="#913028"/><circle cx="259.1" cy="760.4" r="0.5" fill="#f1e7b4"/><circle cx="276.7" cy="729.8" r="0.5" fill="#cc6a3e"/><circle cx="262.8" cy="720.7" r="0.5" fill="#f1e7b4"/><circle cx="249.7" cy="727.9" r="0.5" fill="#f1e7b4"/><circle cx="234.8" cy="744.3" r="0.5" fill="#f1e7b4"/><circle cx="245.6" cy="721.0" r="0.5" fill="#f1e7b4"/><circle cx="272.9" cy="764.7" r="0.5" fill="#f1e7b4"/><circle cx="234.9" cy="733.8" r="0.5" fill="#cc6a3e"/><circle cx="286.5" cy="747.6" r="0.5" fill="#f1e7b4"/><circle cx="255.9" cy="729.8" r="0.5" fill="#cc6a3e"/><circle cx="279.5" cy="724.8" r="0.5" fill="#f1e7b4"/><circle cx="252.9" cy="749.8" r="0.5" fill="#ebcb86"/><circle cx="288.1" cy="728.8" r="0.5" fill="#ebcb86"/><circle cx="250.9" cy="744.8" r="0.5" fill="#ebcb86"/><circle cx="249.8" cy="751.0" r="0.5" fill="#ebcb86"/><circle cx="283.3" cy="730.7" r="0.5" fill="#f1e7b4"/><circle cx="263.2" cy="739.0" r="0.5" fill="#f1e7b4"/><circle cx="257.7" cy="736.6" r="0.5" fill="#f1e7b4"/><circle cx="290.6" cy="733.2" r="0.5" fill="#f1e7b4"/><circle cx="258.7" cy="766.9" r="0.5" fill="#ebcb86"/><circle cx="255.7" cy="738.6" r="0.5" fill="#ebcb86"/><circle cx="262.0" cy="762.3" r="0.5" fill="#ebcb86"/><circle cx="275.9" cy="756.3" r="0.5" fill="#ebcb86"/><circle cx="276.7" cy="743.1" r="0.5" fill="#f1e7b4"/><circle cx="227.6" cy="719.5" r="0.5" fill="#f1e7b4"/><circle cx="283.1" cy="743.8" r="0.5" fill="#913028"/><circle cx="279.4" cy="738.0" r="0.5" fill="#f1e7b4"/><circle cx="253.8" cy="745.2" r="0.5" fill="#f1e7b4"/><circle cx="246.5" cy="740.5" r="0.5" fill="#ebcb86"/><circle cx="241.3" cy="722.4" r="0.5" fill="#f1e7b4"/><circle cx="244.6" cy="721.9" r="0.5" fill="#f1e7b4"/><circle cx="261.9" cy="733.6" r="0.5" fill="#ebcb86"/><circle cx="221.7" cy="725.4" r="0.5" fill="#f1e7b4"/><circle cx="264.2" cy="730.3" r="0.5" fill="#f1e7b4"/><circle cx="257.8" cy="738.5" r="0.5" fill="#f1e7b4"/><circle cx="268.3" cy="729.7" r="0.5" fill="#f1e7b4"/><circle cx="221.7" cy="726.1" r="0.5" fill="#913028"/><circle cx="263.9" cy="732.8" r="0.5" fill="#f1e7b4"/><circle cx="266.6" cy="726.8" r="0.5" fill="#f1e7b4"/><circle cx="242.7" cy="754.2" r="0.5" fill="#f1e7b4"/><circle cx="287.4" cy="745.8" r="0.5" fill="#cc6a3e"/><circle cx="257.0" cy="770.1" r="0.5" fill="#f1e7b4"/><circle cx="256.1" cy="766.0" r="0.5" fill="#cc6a3e"/><circle cx="287.2" cy="739.1" r="0.5" fill="#f1e7b4"/><circle cx="276.2" cy="751.7" r="0.5" fill="#f1e7b4"/><circle cx="243.0" cy="718.8" r="0.5" fill="#913028"/><circle cx="253.5" cy="750.5" r="0.5" fill="#ebcb86"/><circle cx="277.2" cy="714.8" r="0.5" fill="#cc6a3e"/><circle cx="242.9" cy="720.3" r="0.5" fill="#f1e7b4"/><circle cx="268.1" cy="726.4" r="0.5" fill="#f1e7b4"/><circle cx="297.0" cy="726.8" r="0.5" fill="#913028"/><circle cx="250.5" cy="749.2" r="0.5" fill="#f1e7b4"/><circle cx="236.8" cy="742.5" r="0.5" fill="#f1e7b4"/><circle cx="225.4" cy="736.7" r="0.5" fill="#ebcb86"/><circle cx="280.9" cy="734.3" r="0.5" fill="#f1e7b4"/><circle cx="276.6" cy="711.9" r="0.5" fill="#ebcb86"/><circle cx="242.7" cy="728.5" r="0.5" fill="#f1e7b4"/><circle cx="282.8" cy="739.0" r="0.5" fill="#ebcb86"/><circle cx="259.6" cy="765.0" r="0.5" fill="#ebcb86"/><circle cx="269.5" cy="742.1" r="0.5" fill="#f1e7b4"/><circle cx="246.4" cy="735.7" r="0.5" fill="#ebcb86"/><circle cx="265.5" cy="759.7" r="0.5" fill="#ebcb86"/><circle cx="269.3" cy="736.5" r="0.5" fill="#f1e7b4"/><circle cx="228.8" cy="744.8" r="0.5" fill="#ebcb86"/><circle cx="248.1" cy="730.4" r="0.5" fill="#913028"/><circle cx="275.2" cy="715.4" r="0.5" fill="#f1e7b4"/><circle cx="293.6" cy="737.9" r="0.5" fill="#cc6a3e"/><circle cx="260.6" cy="741.8" r="0.5" fill="#ebcb86"/><circle cx="227.5" cy="737.0" r="0.5" fill="#ebcb86"/><circle cx="231.6" cy="741.8" r="0.5" fill="#ebcb86"/><circle cx="261.6" cy="729.8" r="0.5" fill="#ebcb86"/><circle cx="234.5" cy="732.4" r="0.5" fill="#f1e7b4"/><circle cx="261.1" cy="766.9" r="0.5" fill="#cc6a3e"/><circle cx="260.0" cy="759.9" r="0.5" fill="#f1e7b4"/><circle cx="267.1" cy="752.6" r="0.5" fill="#913028"/><circle cx="230.7" cy="722.6" r="0.5" fill="#913028"/><circle cx="262.5" cy="724.5" r="0.5" fill="#ebcb86"/><circle cx="267.8" cy="720.4" r="0.5" fill="#ebcb86"/><circle cx="269.3" cy="759.4" r="0.5" fill="#ebcb86"/><circle cx="279.4" cy="708.2" r="0.5" fill="#ebcb86"/><circle cx="238.7" cy="746.3" r="0.5" fill="#f1e7b4"/><circle cx="271.3" cy="752.8" r="0.5" fill="#f1e7b4"/><circle cx="288.5" cy="728.1" r="0.5" fill="#ebcb86"/><circle cx="288.1" cy="736.5" r="0.5" fill="#f1e7b4"/><circle cx="276.6" cy="714.5" r="0.5" fill="#f1e7b4"/><circle cx="234.6" cy="719.4" r="0.5" fill="#ebcb86"/><circle cx="259.2" cy="739.1" r="0.5" fill="#f1e7b4"/><circle cx="282.9" cy="748.9" r="0.5" fill="#f1e7b4"/><circle cx="234.7" cy="748.1" r="0.5" fill="#f1e7b4"/><circle cx="268.9" cy="734.7" r="0.5" fill="#f1e7b4"/><circle cx="293.4" cy="725.0" r="0.5" fill="#f1e7b4"/><circle cx="257.3" cy="720.6" r="0.5" fill="#f1e7b4"/><circle cx="260.3" cy="768.2" r="0.5" fill="#ebcb86"/><circle cx="277.2" cy="754.2" r="0.5" fill="#f1e7b4"/><circle cx="251.5" cy="759.4" r="0.5" fill="#f1e7b4"/><circle cx="274.3" cy="763.1" r="0.5" fill="#f1e7b4"/><circle cx="246.9" cy="746.0" r="0.5" fill="#f1e7b4"/><circle cx="288.3" cy="733.5" r="0.5" fill="#cc6a3e"/><circle cx="270.1" cy="736.2" r="0.5" fill="#f1e7b4"/><circle cx="246.6" cy="719.0" r="0.5" fill="#ebcb86"/><circle cx="271.4" cy="724.5" r="0.5" fill="#f1e7b4"/><circle cx="225.0" cy="723.0" r="0.5" fill="#ebcb86"/><circle cx="278.5" cy="735.1" r="0.5" fill="#f1e7b4"/><circle cx="275.0" cy="761.0" r="0.5" fill="#ebcb86"/><circle cx="233.4" cy="723.1" r="0.5" fill="#ebcb86"/><circle cx="270.6" cy="767.2" r="0.5" fill="#f1e7b4"/><circle cx="251.7" cy="739.2" r="0.5" fill="#f1e7b4"/><circle cx="257.0" cy="761.2" r="0.5" fill="#f1e7b4"/><circle cx="239.2" cy="728.8" r="0.5" fill="#cc6a3e"/><circle cx="248.9" cy="750.7" r="0.5" fill="#ebcb86"/><circle cx="272.5" cy="730.5" r="0.5" fill="#f1e7b4"/><circle cx="262.9" cy="751.8" r="0.5" fill="#ebcb86"/><circle cx="277.0" cy="743.3" r="0.5" fill="#f1e7b4"/><circle cx="256.4" cy="757.0" r="0.5" fill="#f1e7b4"/><circle cx="229.9" cy="745.5" r="0.5" fill="#f1e7b4"/><circle cx="251.5" cy="756.8" r="0.5" fill="#f1e7b4"/><circle cx="273.3" cy="723.7" r="0.5" fill="#f1e7b4"/><circle cx="264.8" cy="733.6" r="0.5" fill="#f1e7b4"/><circle cx="279.3" cy="752.8" r="0.5" fill="#ebcb86"/><circle cx="267.5" cy="762.3" r="0.5" fill="#ebcb86"/><circle cx="286.6" cy="728.4" r="0.5" fill="#ebcb86"/><circle cx="229.5" cy="740.4" r="0.5" fill="#f1e7b4"/><circle cx="243.3" cy="731.0" r="0.5" fill="#f1e7b4"/><circle cx="233.6" cy="725.8" r="0.5" fill="#ebcb86"/><circle cx="245.3" cy="734.9" r="0.5" fill="#f1e7b4"/><circle cx="226.7" cy="722.3" r="0.5" fill="#ebcb86"/><circle cx="251.7" cy="731.1" r="0.5" fill="#913028"/><circle cx="256.6" cy="763.1" r="0.5" fill="#ebcb86"/><circle cx="272.9" cy="759.0" r="0.5" fill="#ebcb86"/><circle cx="283.4" cy="737.1" r="0.5" fill="#ebcb86"/><circle cx="266.1" cy="751.3" r="0.5" fill="#f1e7b4"/><circle cx="263.5" cy="724.3" r="0.5" fill="#f1e7b4"/><circle cx="272.3" cy="722.2" r="0.5" fill="#f1e7b4"/><circle cx="289.5" cy="744.0" r="0.5" fill="#f1e7b4"/><circle cx="240.5" cy="721.1" r="0.5" fill="#f1e7b4"/><circle cx="283.1" cy="751.9" r="0.5" fill="#f1e7b4"/><circle cx="253.3" cy="761.1" r="0.5" fill="#f1e7b4"/><circle cx="227.0" cy="725.6" r="0.5" fill="#f1e7b4"/><circle cx="272.7" cy="752.9" r="0.5" fill="#913028"/><circle cx="285.0" cy="731.8" r="0.5" fill="#ebcb86"/><circle cx="247.1" cy="731.6" r="0.5" fill="#ebcb86"/><circle cx="287.7" cy="728.6" r="0.5" fill="#ebcb86"/><circle cx="263.7" cy="740.8" r="0.5" fill="#ebcb86"/><circle cx="228.9" cy="727.8" r="0.5" fill="#913028"/><circle cx="223.0" cy="733.1" r="0.5" fill="#f1e7b4"/><circle cx="261.2" cy="764.2" r="0.5" fill="#f1e7b4"/><circle cx="275.6" cy="744.8" r="0.5" fill="#ebcb86"/><circle cx="252.5" cy="744.5" r="0.5" fill="#ebcb86"/><circle cx="283.2" cy="739.3" r="0.5" fill="#ebcb86"/><circle cx="274.0" cy="766.1" r="0.5" fill="#f1e7b4"/><circle cx="278.8" cy="747.2" r="0.5" fill="#ebcb86"/><circle cx="270.0" cy="762.2" r="0.5" fill="#f1e7b4"/><circle cx="241.1" cy="718.9" r="0.5" fill="#cc6a3e"/><circle cx="287.4" cy="729.3" r="0.5" fill="#f1e7b4"/><circle cx="278.4" cy="708.9" r="0.5" fill="#f1e7b4"/><circle cx="290.6" cy="726.9" r="0.5" fill="#f1e7b4"/><circle cx="229.4" cy="723.3" r="0.5" fill="#913028"/><circle cx="265.8" cy="761.0" r="0.5" fill="#f1e7b4"/><circle cx="226.9" cy="719.7" r="0.5" fill="#f1e7b4"/><circle cx="272.3" cy="727.9" r="0.5" fill="#f1e7b4"/><circle cx="246.2" cy="744.1" r="0.5" fill="#f1e7b4"/><circle cx="287.9" cy="741.9" r="0.5" fill="#f1e7b4"/><circle cx="272.3" cy="755.2" r="0.5" fill="#cc6a3e"/><circle cx="268.4" cy="732.2" r="0.5" fill="#ebcb86"/><circle cx="262.0" cy="745.5" r="0.5" fill="#f1e7b4"/><circle cx="256.9" cy="752.2" r="0.5" fill="#ebcb86"/><circle cx="279.2" cy="736.0" r="0.5" fill="#913028"/><circle cx="252.5" cy="723.9" r="0.5" fill="#cc6a3e"/><circle cx="262.4" cy="734.9" r="0.5" fill="#ebcb86"/><circle cx="234.5" cy="722.7" r="0.5" fill="#f1e7b4"/><circle cx="266.2" cy="753.5" r="0.5" fill="#f1e7b4"/><circle cx="280.4" cy="754.8" r="0.5" fill="#ebcb86"/><circle cx="280.4" cy="748.5" r="0.5" fill="#ebcb86"/><circle cx="240.3" cy="729.0" r="0.5" fill="#f1e7b4"/><circle cx="287.6" cy="736.1" r="0.5" fill="#ebcb86"/><circle cx="258.9" cy="762.1" r="0.5" fill="#f1e7b4"/><circle cx="266.5" cy="739.8" r="0.5" fill="#ebcb86"/><circle cx="235.6" cy="721.7" r="0.5" fill="#f1e7b4"/><circle cx="281.3" cy="731.0" r="0.5" fill="#cc6a3e"/><circle cx="236.0" cy="745.3" r="0.5" fill="#cc6a3e"/><circle cx="223.5" cy="726.7" r="0.5" fill="#ebcb86"/><circle cx="271.9" cy="766.6" r="0.5" fill="#cc6a3e"/><circle cx="259.6" cy="749.1" r="0.5" fill="#ebcb86"/><circle cx="235.2" cy="721.1" r="0.5" fill="#f1e7b4"/><circle cx="296.4" cy="730.9" r="0.5" fill="#f1e7b4"/><circle cx="257.2" cy="745.3" r="0.5" fill="#f1e7b4"/><circle cx="272.9" cy="753.9" r="0.5" fill="#ebcb86"/><circle cx="258.4" cy="732.2" r="0.5" fill="#913028"/><circle cx="276.1" cy="754.4" r="0.5" fill="#f1e7b4"/><circle cx="238.2" cy="749.8" r="0.5" fill="#ebcb86"/><circle cx="277.7" cy="737.3" r="0.5" fill="#f1e7b4"/><circle cx="237.3" cy="731.6" r="0.5" fill="#f1e7b4"/><circle cx="272.7" cy="756.4" r="0.5" fill="#f1e7b4"/><circle cx="231.5" cy="740.1" r="0.5" fill="#ebcb86"/><circle cx="265.8" cy="762.0" r="0.5" fill="#ebcb86"/><circle cx="261.2" cy="747.7" r="0.5" fill="#f1e7b4"/><circle cx="269.2" cy="760.5" r="0.5" fill="#ebcb86"/><circle cx="264.9" cy="724.4" r="0.5" fill="#cc6a3e"/><circle cx="274.1" cy="718.5" r="0.5" fill="#ebcb86"/><circle cx="249.4" cy="725.3" r="0.5" fill="#f1e7b4"/><circle cx="277.8" cy="746.3" r="0.5" fill="#f1e7b4"/><circle cx="262.7" cy="736.1" r="0.5" fill="#f1e7b4"/><circle cx="252.9" cy="747.1" r="0.5" fill="#f1e7b4"/><circle cx="254.9" cy="766.0" r="0.5" fill="#f1e7b4"/><circle cx="255.9" cy="753.9" r="0.5" fill="#ebcb86"/><circle cx="239.3" cy="725.1" r="0.5" fill="#f1e7b4"/><circle cx="247.7" cy="726.8" r="0.5" fill="#913028"/><circle cx="225.5" cy="735.2" r="0.5" fill="#f1e7b4"/><circle cx="239.1" cy="733.1" r="0.5" fill="#f1e7b4"/><circle cx="246.0" cy="758.4" r="0.5" fill="#ebcb86"/><circle cx="286.7" cy="741.5" r="0.5" fill="#ebcb86"/><circle cx="244.7" cy="748.3" r="0.5" fill="#ebcb86"/><circle cx="249.4" cy="741.9" r="0.5" fill="#f1e7b4"/><circle cx="263.7" cy="749.9" r="0.5" fill="#ebcb86"/><circle cx="264.3" cy="770.3" r="0.5" fill="#f1e7b4"/><circle cx="252.9" cy="768.6" r="0.5" fill="#f1e7b4"/><circle cx="225.1" cy="718.9" r="0.5" fill="#f1e7b4"/><circle cx="232.7" cy="734.9" r="0.5" fill="#ebcb86"/><circle cx="277.3" cy="752.8" r="0.5" fill="#ebcb86"/><circle cx="239.0" cy="722.1" r="0.5" fill="#f1e7b4"/><circle cx="235.5" cy="722.2" r="0.5" fill="#f1e7b4"/><circle cx="268.9" cy="750.3" r="0.5" fill="#ebcb86"/><circle cx="269.5" cy="753.1" r="0.5" fill="#ebcb86"/><circle cx="227.1" cy="738.8" r="0.5" fill="#f1e7b4"/><circle cx="243.8" cy="732.8" r="0.5" fill="#f1e7b4"/><circle cx="277.5" cy="735.4" r="0.5" fill="#ebcb86"/><circle cx="298.7" cy="728.1" r="0.5" fill="#ebcb86"/><circle cx="275.9" cy="723.5" r="0.5" fill="#f1e7b4"/><circle cx="274.9" cy="745.4" r="0.5" fill="#cc6a3e"/><circle cx="275.1" cy="716.6" r="0.5" fill="#ebcb86"/><circle cx="274.3" cy="744.2" r="0.5" fill="#f1e7b4"/><circle cx="249.0" cy="755.0" r="0.5" fill="#f1e7b4"/><circle cx="239.3" cy="729.8" r="0.5" fill="#f1e7b4"/><circle cx="242.2" cy="730.8" r="0.5" fill="#ebcb86"/><circle cx="234.2" cy="719.4" r="0.5" fill="#f1e7b4"/><circle cx="250.8" cy="729.7" r="0.5" fill="#f1e7b4"/><circle cx="273.3" cy="737.3" r="0.5" fill="#ebcb86"/><circle cx="275.3" cy="763.1" r="0.5" fill="#ebcb86"/><circle cx="257.5" cy="754.2" r="0.5" fill="#ebcb86"/><circle cx="237.4" cy="735.0" r="0.5" fill="#f1e7b4"/><circle cx="248.8" cy="737.1" r="0.5" fill="#cc6a3e"/><circle cx="223.5" cy="719.6" r="0.5" fill="#f1e7b4"/><circle cx="282.3" cy="743.7" r="0.5" fill="#f1e7b4"/><circle cx="224.5" cy="722.6" r="0.5" fill="#ebcb86"/><circle cx="256.9" cy="726.4" r="0.5" fill="#f1e7b4"/><circle cx="274.3" cy="740.3" r="0.5" fill="#f1e7b4"/><circle cx="282.0" cy="741.9" r="0.5" fill="#f1e7b4"/><circle cx="237.7" cy="739.2" r="0.5" fill="#f1e7b4"/><circle cx="270.1" cy="750.0" r="0.5" fill="#f1e7b4"/><circle cx="292.2" cy="729.9" r="0.5" fill="#f1e7b4"/><circle cx="237.1" cy="746.2" r="0.5" fill="#f1e7b4"/><circle cx="252.4" cy="751.9" r="0.5" fill="#cc6a3e"/><circle cx="237.6" cy="737.6" r="0.5" fill="#f1e7b4"/><circle cx="262.0" cy="771.0" r="0.5" fill="#ebcb86"/><circle cx="271.6" cy="719.2" r="0.5" fill="#f1e7b4"/><circle cx="245.4" cy="732.7" r="0.5" fill="#f1e7b4"/><circle cx="247.3" cy="751.2" r="0.5" fill="#f1e7b4"/><circle cx="239.8" cy="736.0" r="0.5" fill="#ebcb86"/><circle cx="266.4" cy="754.3" r="0.5" fill="#ebcb86"/><circle cx="229.3" cy="720.9" r="0.5" fill="#ebcb86"/><circle cx="262.9" cy="745.0" r="0.5" fill="#ebcb86"/><circle cx="268.4" cy="735.9" r="0.5" fill="#cc6a3e"/><circle cx="253.0" cy="766.8" r="0.5" fill="#f1e7b4"/><circle cx="275.1" cy="764.8" r="0.5" fill="#913028"/><circle cx="242.6" cy="724.3" r="0.5" fill="#f1e7b4"/><circle cx="254.0" cy="741.3" r="0.5" fill="#f1e7b4"/><circle cx="298.9" cy="722.4" r="0.5" fill="#f1e7b4"/><circle cx="294.0" cy="708.9" r="0.5" fill="#f1e7b4"/><circle cx="295.3" cy="717.4" r="0.5" fill="#f1e7b4"/><circle cx="301.2" cy="719.0" r="0.5" fill="#ebcb86"/><circle cx="297.7" cy="712.5" r="0.5" fill="#ebcb86"/><circle cx="288.4" cy="714.2" r="0.5" fill="#f1e7b4"/><circle cx="280.1" cy="715.4" r="0.5" fill="#ebcb86"/><circle cx="290.2" cy="717.4" r="0.5" fill="#f1e7b4"/><circle cx="296.2" cy="718.8" r="0.5" fill="#f1e7b4"/><circle cx="285.6" cy="711.7" r="0.5" fill="#f1e7b4"/><circle cx="285.0" cy="711.2" r="0.5" fill="#f1e7b4"/><circle cx="287.5" cy="716.4" r="0.5" fill="#ebcb86"/><circle cx="284.0" cy="707.7" r="0.5" fill="#f1e7b4"/><circle cx="283.3" cy="710.6" r="0.5" fill="#f1e7b4"/><circle cx="294.4" cy="713.2" r="0.5" fill="#f1e7b4"/><circle cx="291.8" cy="709.3" r="0.5" fill="#f1e7b4"/><circle cx="296.7" cy="722.2" r="0.5" fill="#f1e7b4"/><circle cx="294.1" cy="719.1" r="0.5" fill="#f1e7b4"/><circle cx="283.0" cy="716.8" r="0.5" fill="#cc6a3e"/><circle cx="284.2" cy="718.1" r="0.5" fill="#f1e7b4"/><circle cx="295.4" cy="710.8" r="0.5" fill="#ebcb86"/><circle cx="291.5" cy="718.7" r="0.5" fill="#f1e7b4"/><circle cx="282.8" cy="715.5" r="0.5" fill="#f1e7b4"/><circle cx="286.3" cy="709.1" r="0.5" fill="#f1e7b4"/><circle cx="287.6" cy="714.0" r="0.5" fill="#ebcb86"/><circle cx="289.9" cy="713.9" r="0.5" fill="#f1e7b4"/><circle cx="293.9" cy="718.9" r="0.5" fill="#f1e7b4"/><circle cx="297.8" cy="720.7" r="0.5" fill="#f1e7b4"/><circle cx="293.1" cy="709.9" r="0.5" fill="#f1e7b4"/><circle cx="295.5" cy="708.2" r="0.5" fill="#ebcb86"/><circle cx="297.1" cy="714.5" r="0.5" fill="#f1e7b4"/><circle cx="283.7" cy="717.5" r="0.5" fill="#ebcb86"/><circle cx="281.4" cy="713.2" r="0.5" fill="#f1e7b4"/><circle cx="295.4" cy="721.3" r="0.5" fill="#ebcb86"/><circle cx="287.2" cy="706.4" r="0.5" fill="#f1e7b4"/><circle cx="295.2" cy="709.6" r="0.5" fill="#ebcb86"/><circle cx="295.7" cy="709.3" r="0.5" fill="#f1e7b4"/><circle cx="286.6" cy="709.1" r="0.5" fill="#ebcb86"/><circle cx="291.5" cy="718.7" r="0.5" fill="#ebcb86"/><circle cx="298.7" cy="712.2" r="0.5" fill="#ebcb86"/><circle cx="294.3" cy="719.0" r="0.5" fill="#f1e7b4"/><circle cx="303.1" cy="713.3" r="0.5" fill="#f1e7b4"/><circle cx="297.0" cy="712.3" r="0.5" fill="#f1e7b4"/><circle cx="283.7" cy="717.1" r="0.5" fill="#f1e7b4"/><circle cx="300.0" cy="714.1" r="0.5" fill="#f1e7b4"/><circle cx="299.4" cy="709.5" r="0.5" fill="#ebcb86"/><circle cx="301.3" cy="717.1" r="0.5" fill="#f1e7b4"/><circle cx="282.4" cy="712.1" r="0.5" fill="#f1e7b4"/><circle cx="287.3" cy="717.3" r="0.5" fill="#f1e7b4"/><circle cx="300.5" cy="710.7" r="0.5" fill="#f1e7b4"/><circle cx="289.1" cy="713.8" r="0.5" fill="#f1e7b4"/><circle cx="297.3" cy="711.8" r="0.5" fill="#f1e7b4"/><circle cx="290.2" cy="718.1" r="0.5" fill="#ebcb86"/><circle cx="288.9" cy="713.1" r="0.5" fill="#f1e7b4"/><circle cx="301.9" cy="720.1" r="0.5" fill="#f1e7b4"/><circle cx="290.0" cy="716.7" r="0.5" fill="#f1e7b4"/><circle cx="290.4" cy="716.5" r="0.5" fill="#ebcb86"/><circle cx="292.3" cy="707.8" r="0.5" fill="#f1e7b4"/><circle cx="290.9" cy="720.4" r="0.5" fill="#ebcb86"/><circle cx="282.5" cy="716.6" r="0.5" fill="#ebcb86"/><circle cx="289.6" cy="707.7" r="0.5" fill="#f1e7b4"/><circle cx="284.7" cy="716.9" r="0.5" fill="#f1e7b4"/><circle cx="295.4" cy="712.3" r="0.5" fill="#f1e7b4"/><circle cx="296.0" cy="720.2" r="0.5" fill="#f1e7b4"/><circle cx="289.1" cy="709.7" r="0.5" fill="#ebcb86"/><circle cx="288.6" cy="722.4" r="0.5" fill="#f1e7b4"/><circle cx="301.4" cy="714.7" r="0.5" fill="#f1e7b4"/><circle cx="298.6" cy="714.2" r="0.5" fill="#ebcb86"/><circle cx="288.2" cy="719.3" r="0.5" fill="#f1e7b4"/><circle cx="285.8" cy="719.1" r="0.5" fill="#ebcb86"/><circle cx="286.7" cy="711.0" r="0.5" fill="#ebcb86"/><circle cx="288.8" cy="711.8" r="0.5" fill="#ebcb86"/><circle cx="283.1" cy="719.3" r="0.5" fill="#f1e7b4"/><circle cx="293.2" cy="722.0" r="0.5" fill="#f1e7b4"/><circle cx="296.5" cy="721.8" r="0.5" fill="#ebcb86"/><circle cx="296.2" cy="714.2" r="0.5" fill="#f1e7b4"/><circle cx="282.6" cy="712.7" r="0.5" fill="#f1e7b4"/><circle cx="300.4" cy="714.9" r="0.5" fill="#ebcb86"/><circle cx="296.9" cy="719.5" r="0.5" fill="#f1e7b4"/><circle cx="293.2" cy="714.5" r="0.5" fill="#f1e7b4"/><circle cx="285.5" cy="710.2" r="0.5" fill="#ebcb86"/><circle cx="282.8" cy="709.1" r="0.5" fill="#f1e7b4"/><circle cx="300.4" cy="712.8" r="0.5" fill="#ebcb86"/><circle cx="280.0" cy="715.4" r="0.5" fill="#f1e7b4"/><circle cx="291.3" cy="713.0" r="0.5" fill="#f1e7b4"/><circle cx="303.9" cy="715.3" r="0.5" fill="#f1e7b4"/><circle cx="298.5" cy="713.7" r="0.5" fill="#ebcb86"/><circle cx="295.5" cy="709.2" r="0.5" fill="#f1e7b4"/><circle cx="299.8" cy="717.7" r="0.5" fill="#ebcb86"/><circle cx="287.9" cy="720.3" r="0.5" fill="#f1e7b4"/><circle cx="285.3" cy="710.5" r="0.5" fill="#ebcb86"/><circle cx="302.1" cy="721.5" r="0.5" fill="#f1e7b4"/><circle cx="294.4" cy="714.5" r="0.5" fill="#f1e7b4"/><circle cx="292.0" cy="707.9" r="0.5" fill="#f1e7b4"/><circle cx="298.3" cy="721.9" r="0.5" fill="#f1e7b4"/><circle cx="283.8" cy="716.6" r="0.5" fill="#ebcb86"/><circle cx="290.7" cy="712.5" r="0.5" fill="#f1e7b4"/><circle cx="287.7" cy="710.7" r="0.5" fill="#f1e7b4"/><circle cx="283.8" cy="713.2" r="0.5" fill="#f1e7b4"/><circle cx="291.8" cy="719.4" r="0.5" fill="#f1e7b4"/><circle cx="286.3" cy="720.5" r="0.5" fill="#f1e7b4"/><circle cx="289.9" cy="721.8" r="0.5" fill="#ebcb86"/><circle cx="282.4" cy="714.2" r="0.5" fill="#ebcb86"/><circle cx="289.4" cy="715.9" r="0.5" fill="#913028"/><circle cx="286.7" cy="711.9" r="0.5" fill="#f1e7b4"/><circle cx="293.0" cy="708.2" r="0.5" fill="#f1e7b4"/><circle cx="286.8" cy="717.1" r="0.5" fill="#f1e7b4"/><circle cx="286.5" cy="709.0" r="0.5" fill="#ebcb86"/><circle cx="283.3" cy="714.0" r="0.5" fill="#f1e7b4"/><circle cx="284.0" cy="714.0" r="0.5" fill="#f1e7b4"/><circle cx="296.9" cy="720.1" r="0.5" fill="#f1e7b4"/><circle cx="292.4" cy="707.9" r="0.5" fill="#f1e7b4"/><circle cx="298.2" cy="719.9" r="0.5" fill="#f1e7b4"/><circle cx="290.1" cy="716.8" r="0.5" fill="#f1e7b4"/><circle cx="286.4" cy="717.8" r="0.5" fill="#f1e7b4"/><circle cx="286.0" cy="707.2" r="0.5" fill="#ebcb86"/><circle cx="295.7" cy="712.7" r="0.5" fill="#f1e7b4"/><circle cx="285.1" cy="709.6" r="0.5" fill="#f1e7b4"/><circle cx="284.1" cy="712.1" r="0.5" fill="#ebcb86"/><circle cx="292.6" cy="709.9" r="0.5" fill="#f1e7b4"/><circle cx="284.7" cy="706.9" r="0.5" fill="#f1e7b4"/><circle cx="290.1" cy="711.8" r="0.5" fill="#f1e7b4"/><circle cx="287.2" cy="716.8" r="0.5" fill="#f1e7b4"/><circle cx="298.1" cy="714.3" r="0.5" fill="#ebcb86"/><circle cx="302.6" cy="716.5" r="0.5" fill="#f1e7b4"/><circle cx="286.6" cy="714.2" r="0.5" fill="#ebcb86"/><circle cx="283.7" cy="710.1" r="0.5" fill="#cc6a3e"/><circle cx="298.5" cy="718.5" r="0.5" fill="#ebcb86"/><circle cx="285.7" cy="720.7" r="0.5" fill="#f1e7b4"/><circle cx="290.9" cy="709.1" r="0.5" fill="#f1e7b4"/><circle cx="300.1" cy="722.7" r="0.5" fill="#ebcb86"/><circle cx="287.5" cy="713.2" r="0.5" fill="#f1e7b4"/><circle cx="286.5" cy="720.1" r="0.5" fill="#f1e7b4"/><circle cx="290.5" cy="721.9" r="0.5" fill="#f1e7b4"/><circle cx="292.0" cy="712.1" r="0.5" fill="#ebcb86"/><circle cx="293.1" cy="720.2" r="0.5" fill="#f1e7b4"/><circle cx="289.1" cy="712.1" r="0.5" fill="#f1e7b4"/><circle cx="301.8" cy="718.6" r="0.5" fill="#f1e7b4"/><circle cx="286.1" cy="718.7" r="0.5" fill="#f1e7b4"/><circle cx="301.0" cy="711.6" r="0.5" fill="#f1e7b4"/><circle cx="296.5" cy="720.1" r="0.5" fill="#f1e7b4"/><circle cx="291.7" cy="709.5" r="0.5" fill="#f1e7b4"/><circle cx="301.2" cy="715.8" r="0.5" fill="#f1e7b4"/><circle cx="299.7" cy="721.7" r="0.5" fill="#f1e7b4"/><circle cx="296.9" cy="709.7" r="0.5" fill="#f1e7b4"/><circle cx="283.4" cy="714.2" r="0.5" fill="#f1e7b4"/><circle cx="290.7" cy="712.7" r="0.5" fill="#f1e7b4"/><circle cx="285.4" cy="707.3" r="0.5" fill="#ebcb86"/><circle cx="287.0" cy="717.5" r="0.5" fill="#f1e7b4"/><circle cx="291.6" cy="718.0" r="0.5" fill="#f1e7b4"/><circle cx="288.9" cy="719.0" r="0.5" fill="#f1e7b4"/><circle cx="288.7" cy="720.5" r="0.5" fill="#f1e7b4"/><circle cx="288.3" cy="712.0" r="0.5" fill="#f1e7b4"/><circle cx="295.0" cy="709.7" r="0.5" fill="#f1e7b4"/><circle cx="288.0" cy="717.0" r="0.5" fill="#f1e7b4"/><circle cx="297.8" cy="721.7" r="0.5" fill="#f1e7b4"/><circle cx="288.8" cy="716.9" r="0.5" fill="#ebcb86"/><circle cx="297.9" cy="715.2" r="0.5" fill="#f1e7b4"/><circle cx="295.5" cy="712.8" r="0.5" fill="#f1e7b4"/><circle cx="297.3" cy="713.4" r="0.5" fill="#f1e7b4"/><circle cx="285.4" cy="714.8" r="0.5" fill="#f1e7b4"/><circle cx="300.6" cy="717.4" r="0.5" fill="#f1e7b4"/><circle cx="281.9" cy="716.3" r="0.5" fill="#f1e7b4"/><circle cx="301.4" cy="719.3" r="0.5" fill="#f1e7b4"/><circle cx="300.5" cy="710.7" r="0.5" fill="#f1e7b4"/><circle cx="289.2" cy="718.0" r="0.5" fill="#f1e7b4"/><circle cx="296.7" cy="719.0" r="0.5" fill="#cc6a3e"/><circle cx="290.5" cy="718.3" r="0.5" fill="#f1e7b4"/><circle cx="296.7" cy="712.5" r="0.5" fill="#913028"/><circle cx="292.0" cy="720.3" r="0.5" fill="#ebcb86"/><circle cx="288.9" cy="720.3" r="0.5" fill="#ebcb86"/><circle cx="303.0" cy="717.9" r="0.5" fill="#f1e7b4"/><circle cx="299.7" cy="711.2" r="0.5" fill="#ebcb86"/><circle cx="291.6" cy="719.0" r="0.5" fill="#f1e7b4"/><circle cx="295.8" cy="714.0" r="0.5" fill="#ebcb86"/><circle cx="291.1" cy="714.1" r="0.5" fill="#ebcb86"/><circle cx="298.2" cy="714.1" r="0.5" fill="#f1e7b4"/><circle cx="284.0" cy="707.0" r="0.5" fill="#f1e7b4"/><circle cx="289.7" cy="719.2" r="0.5" fill="#ebcb86"/><circle cx="294.8" cy="716.4" r="0.5" fill="#f1e7b4"/><circle cx="298.4" cy="720.1" r="0.5" fill="#f1e7b4"/><circle cx="285.4" cy="712.3" r="0.5" fill="#f1e7b4"/><circle cx="282.5" cy="715.2" r="0.5" fill="#ebcb86"/><circle cx="291.1" cy="708.9" r="0.5" fill="#cc6a3e"/><circle cx="291.1" cy="714.5" r="0.5" fill="#ebcb86"/><circle cx="288.3" cy="714.7" r="0.5" fill="#f1e7b4"/><circle cx="295.6" cy="710.2" r="0.5" fill="#f1e7b4"/><circle cx="288.7" cy="714.8" r="0.5" fill="#f1e7b4"/><circle cx="283.6" cy="708.6" r="0.5" fill="#ebcb86"/><circle cx="291.1" cy="722.4" r="0.5" fill="#f1e7b4"/><circle cx="286.2" cy="720.9" r="0.5" fill="#f1e7b4"/><circle cx="291.1" cy="720.9" r="0.5" fill="#ebcb86"/><circle cx="287.8" cy="715.5" r="0.5" fill="#f1e7b4"/><circle cx="279.5" cy="712.0" r="0.5" fill="#f1e7b4"/><circle cx="293.8" cy="708.9" r="0.5" fill="#f1e7b4"/><circle cx="295.0" cy="719.1" r="0.5" fill="#f1e7b4"/><circle cx="286.8" cy="714.5" r="0.5" fill="#f1e7b4"/><circle cx="287.7" cy="720.6" r="0.5" fill="#f1e7b4"/><circle cx="284.2" cy="719.1" r="0.5" fill="#f1e7b4"/><circle cx="285.2" cy="720.9" r="0.5" fill="#ebcb86"/><circle cx="299.0" cy="713.1" r="0.5" fill="#f1e7b4"/><circle cx="287.7" cy="716.4" r="0.5" fill="#f1e7b4"/><circle cx="294.1" cy="718.2" r="0.5" fill="#f1e7b4"/><circle cx="297.1" cy="717.4" r="0.5" fill="#f1e7b4"/><circle cx="302.8" cy="714.0" r="0.5" fill="#ebcb86"/><circle cx="285.1" cy="706.7" r="0.5" fill="#ebcb86"/><circle cx="300.9" cy="711.8" r="0.5" fill="#f1e7b4"/><circle cx="293.3" cy="716.4" r="0.5" fill="#f1e7b4"/><circle cx="295.2" cy="707.5" r="0.5" fill="#f1e7b4"/><circle cx="291.2" cy="710.1" r="0.5" fill="#ebcb86"/><circle cx="283.8" cy="718.0" r="0.5" fill="#f1e7b4"/><circle cx="281.9" cy="711.4" r="0.5" fill="#f1e7b4"/><circle cx="286.4" cy="717.8" r="0.5" fill="#ebcb86"/><circle cx="294.3" cy="721.5" r="0.5" fill="#f1e7b4"/><circle cx="289.8" cy="721.6" r="0.5" fill="#f1e7b4"/><circle cx="282.3" cy="709.0" r="0.5" fill="#f1e7b4"/><circle cx="295.8" cy="714.8" r="0.5" fill="#ebcb86"/><circle cx="289.9" cy="721.9" r="0.5" fill="#f1e7b4"/><circle cx="284.2" cy="709.2" r="0.5" fill="#f1e7b4"/><circle cx="300.9" cy="721.3" r="0.5" fill="#f1e7b4"/><circle cx="297.1" cy="710.6" r="0.5" fill="#ebcb86"/><circle cx="280.9" cy="711.6" r="0.5" fill="#f1e7b4"/><circle cx="293.7" cy="709.7" r="0.5" fill="#f1e7b4"/><circle cx="289.4" cy="716.9" r="0.5" fill="#f1e7b4"/><circle cx="285.5" cy="711.2" r="0.5" fill="#f1e7b4"/><circle cx="288.9" cy="709.9" r="0.5" fill="#f1e7b4"/><circle cx="285.4" cy="711.2" r="0.5" fill="#ebcb86"/><circle cx="291.8" cy="708.9" r="0.5" fill="#f1e7b4"/><circle cx="281.9" cy="711.9" r="0.5" fill="#ebcb86"/><circle cx="283.4" cy="715.2" r="0.5" fill="#f1e7b4"/><circle cx="299.7" cy="716.9" r="0.5" fill="#f1e7b4"/><circle cx="293.2" cy="708.9" r="0.5" fill="#f1e7b4"/><circle cx="296.3" cy="717.6" r="0.5" fill="#f1e7b4"/><circle cx="301.1" cy="711.0" r="0.5" fill="#f1e7b4"/><circle cx="280.4" cy="712.8" r="0.5" fill="#f1e7b4"/><circle cx="287.1" cy="716.8" r="0.5" fill="#ebcb86"/><circle cx="296.8" cy="710.5" r="0.5" fill="#f1e7b4"/><circle cx="299.0" cy="710.4" r="0.5" fill="#f1e7b4"/><circle cx="291.7" cy="723.0" r="0.5" fill="#f1e7b4"/><circle cx="302.5" cy="719.3" r="0.5" fill="#f1e7b4"/><circle cx="292.3" cy="714.7" r="0.5" fill="#f1e7b4"/><circle cx="288.6" cy="714.1" r="0.5" fill="#f1e7b4"/><circle cx="286.0" cy="709.2" r="0.5" fill="#f1e7b4"/><circle cx="292.3" cy="713.6" r="0.5" fill="#f1e7b4"/><circle cx="283.9" cy="713.0" r="0.5" fill="#ebcb86"/><circle cx="297.4" cy="720.2" r="0.5" fill="#f1e7b4"/><circle cx="293.4" cy="711.0" r="0.5" fill="#ebcb86"/><circle cx="292.7" cy="713.0" r="0.5" fill="#f1e7b4"/><circle cx="288.4" cy="717.4" r="0.5" fill="#ebcb86"/><circle cx="290.2" cy="718.4" r="0.5" fill="#f1e7b4"/><circle cx="291.3" cy="712.3" r="0.5" fill="#f1e7b4"/><circle cx="287.1" cy="717.8" r="0.5" fill="#f1e7b4"/><circle cx="285.9" cy="708.4" r="0.5" fill="#ebcb86"/><circle cx="294.7" cy="718.8" r="0.5" fill="#f1e7b4"/><circle cx="297.7" cy="712.8" r="0.5" fill="#f1e7b4"/><circle cx="291.6" cy="717.8" r="0.5" fill="#ebcb86"/><circle cx="300.6" cy="712.9" r="0.5" fill="#f1e7b4"/><circle cx="292.1" cy="712.7" r="0.5" fill="#f1e7b4"/><circle cx="290.4" cy="718.1" r="0.5" fill="#f1e7b4"/><circle cx="290.7" cy="713.2" r="0.5" fill="#ebcb86"/><circle cx="301.8" cy="716.7" r="0.5" fill="#f1e7b4"/><circle cx="299.1" cy="715.0" r="0.5" fill="#ebcb86"/><circle cx="302.0" cy="717.0" r="0.5" fill="#f1e7b4"/><circle cx="295.3" cy="711.7" r="0.5" fill="#ebcb86"/><circle cx="289.7" cy="712.1" r="0.5" fill="#f1e7b4"/><circle cx="287.3" cy="718.0" r="0.5" fill="#f1e7b4"/><circle cx="295.6" cy="718.2" r="0.5" fill="#f1e7b4"/><circle cx="295.5" cy="712.5" r="0.5" fill="#ebcb86"/><circle cx="284.8" cy="714.2" r="0.5" fill="#f1e7b4"/><circle cx="289.7" cy="706.2" r="0.5" fill="#ebcb86"/><circle cx="294.8" cy="717.6" r="0.5" fill="#ebcb86"/><circle cx="283.9" cy="707.5" r="0.5" fill="#f1e7b4"/><circle cx="290.4" cy="712.1" r="0.5" fill="#f1e7b4"/><circle cx="283.6" cy="718.5" r="0.5" fill="#f1e7b4"/><circle cx="294.5" cy="713.6" r="0.5" fill="#f1e7b4"/><circle cx="297.6" cy="722.0" r="0.5" fill="#f1e7b4"/><circle cx="298.7" cy="716.6" r="0.5" fill="#ebcb86"/><circle cx="281.4" cy="709.6" r="0.5" fill="#f1e7b4"/><circle cx="293.5" cy="720.2" r="0.5" fill="#ebcb86"/><circle cx="293.5" cy="713.5" r="0.5" fill="#f1e7b4"/><circle cx="287.9" cy="722.2" r="0.5" fill="#f1e7b4"/><circle cx="292.3" cy="710.0" r="0.5" fill="#f1e7b4"/><circle cx="288.9" cy="712.8" r="0.5" fill="#f1e7b4"/><circle cx="285.6" cy="716.5" r="0.5" fill="#f1e7b4"/><circle cx="292.1" cy="714.9" r="0.5" fill="#f1e7b4"/><circle cx="289.1" cy="711.2" r="0.5" fill="#ebcb86"/><circle cx="294.4" cy="711.9" r="0.5" fill="#f1e7b4"/><circle cx="303.6" cy="716.3" r="0.5" fill="#f1e7b4"/><circle cx="295.5" cy="716.6" r="0.5" fill="#f1e7b4"/><circle cx="285.9" cy="719.0" r="0.5" fill="#f1e7b4"/><circle cx="287.5" cy="721.5" r="0.5" fill="#f1e7b4"/><circle cx="291.0" cy="708.8" r="0.5" fill="#f1e7b4"/><circle cx="296.1" cy="715.3" r="0.5" fill="#f1e7b4"/><circle cx="283.8" cy="717.4" r="0.5" fill="#ebcb86"/><circle cx="300.6" cy="715.4" r="0.5" fill="#ebcb86"/><circle cx="291.8" cy="714.4" r="0.5" fill="#ebcb86"/><circle cx="283.0" cy="714.7" r="0.5" fill="#f1e7b4"/><circle cx="285.1" cy="715.3" r="0.5" fill="#f1e7b4"/><circle cx="296.2" cy="710.5" r="0.5" fill="#ebcb86"/><circle cx="287.0" cy="714.3" r="0.5" fill="#913028"/><circle cx="225.7" cy="705.1" r="0.5" fill="#ebcb86"/><circle cx="220.7" cy="705.5" r="0.5" fill="#913028"/><circle cx="228.8" cy="708.7" r="0.5" fill="#913028"/><circle cx="219.0" cy="700.7" r="0.5" fill="#cc6a3e"/><circle cx="227.6" cy="708.0" r="0.5" fill="#913028"/><circle cx="231.8" cy="696.0" r="0.5" fill="#cc6a3e"/><circle cx="219.1" cy="708.6" r="0.5" fill="#cc6a3e"/><circle cx="235.4" cy="704.7" r="0.5" fill="#cc6a3e"/><circle cx="237.3" cy="703.4" r="0.5" fill="#ebcb86"/><circle cx="231.5" cy="704.3" r="0.5" fill="#913028"/><circle cx="217.2" cy="709.3" r="0.5" fill="#913028"/><circle cx="230.9" cy="696.2" r="0.5" fill="#cc6a3e"/><circle cx="221.4" cy="697.8" r="0.5" fill="#cc6a3e"/><circle cx="233.6" cy="698.7" r="0.5" fill="#cc6a3e"/><circle cx="237.9" cy="705.7" r="0.5" fill="#913028"/><circle cx="232.0" cy="703.1" r="0.5" fill="#cc6a3e"/><circle cx="226.1" cy="696.9" r="0.5" fill="#ebcb86"/><circle cx="219.8" cy="706.7" r="0.5" fill="#ebcb86"/><circle cx="219.0" cy="705.6" r="0.5" fill="#ebcb86"/><circle cx="222.8" cy="702.6" r="0.5" fill="#ebcb86"/><circle cx="232.1" cy="711.1" r="0.5" fill="#913028"/><circle cx="219.0" cy="698.8" r="0.5" fill="#913028"/><circle cx="231.0" cy="701.8" r="0.5" fill="#cc6a3e"/><circle cx="225.7" cy="702.9" r="0.5" fill="#913028"/><circle cx="217.6" cy="705.9" r="0.5" fill="#cc6a3e"/><circle cx="220.0" cy="704.6" r="0.5" fill="#cc6a3e"/><circle cx="222.9" cy="703.9" r="0.5" fill="#ebcb86"/><circle cx="235.3" cy="699.4" r="0.5" fill="#cc6a3e"/><circle cx="227.6" cy="705.1" r="0.5" fill="#913028"/><circle cx="215.4" cy="706.7" r="0.5" fill="#913028"/><circle cx="235.5" cy="709.9" r="0.5" fill="#ebcb86"/><circle cx="235.2" cy="703.0" r="0.5" fill="#cc6a3e"/><circle cx="215.8" cy="699.6" r="0.5" fill="#913028"/><circle cx="224.4" cy="695.7" r="0.5" fill="#ebcb86"/><circle cx="229.5" cy="697.3" r="0.5" fill="#913028"/><circle cx="227.7" cy="701.9" r="0.5" fill="#cc6a3e"/><circle cx="228.3" cy="703.9" r="0.5" fill="#cc6a3e"/><circle cx="234.7" cy="700.4" r="0.5" fill="#ebcb86"/><circle cx="218.8" cy="703.2" r="0.5" fill="#cc6a3e"/><circle cx="223.0" cy="702.0" r="0.5" fill="#913028"/><circle cx="229.8" cy="707.2" r="0.5" fill="#cc6a3e"/><circle cx="227.2" cy="707.6" r="0.5" fill="#ebcb86"/><circle cx="215.8" cy="696.5" r="0.5" fill="#913028"/><circle cx="226.9" cy="698.1" r="0.5" fill="#cc6a3e"/><circle cx="225.8" cy="700.3" r="0.5" fill="#cc6a3e"/><circle cx="233.7" cy="696.5" r="0.5" fill="#913028"/><circle cx="222.8" cy="710.8" r="0.5" fill="#913028"/><circle cx="227.0" cy="701.8" r="0.5" fill="#913028"/><circle cx="232.8" cy="710.3" r="0.5" fill="#cc6a3e"/><circle cx="218.0" cy="699.8" r="0.5" fill="#ebcb86"/><circle cx="223.5" cy="705.6" r="0.5" fill="#cc6a3e"/><circle cx="225.2" cy="704.2" r="0.5" fill="#cc6a3e"/><circle cx="227.0" cy="710.1" r="0.5" fill="#913028"/><circle cx="229.1" cy="710.0" r="0.5" fill="#913028"/><circle cx="217.0" cy="697.6" r="0.5" fill="#cc6a3e"/><circle cx="233.5" cy="698.2" r="0.5" fill="#913028"/><circle cx="230.3" cy="706.6" r="0.5" fill="#913028"/><circle cx="225.4" cy="699.3" r="0.5" fill="#ebcb86"/><circle cx="223.1" cy="695.1" r="0.5" fill="#913028"/><circle cx="219.8" cy="707.6" r="0.5" fill="#cc6a3e"/><circle cx="226.8" cy="709.0" r="0.5" fill="#ebcb86"/><circle cx="223.8" cy="696.3" r="0.5" fill="#913028"/><circle cx="226.7" cy="701.3" r="0.5" fill="#913028"/><circle cx="227.7" cy="699.2" r="0.5" fill="#913028"/><circle cx="223.5" cy="701.2" r="0.5" fill="#cc6a3e"/><circle cx="229.5" cy="709.9" r="0.5" fill="#ebcb86"/><circle cx="234.1" cy="699.7" r="0.5" fill="#913028"/><circle cx="218.5" cy="700.6" r="0.5" fill="#913028"/><circle cx="221.4" cy="695.4" r="0.5" fill="#ebcb86"/><circle cx="219.1" cy="703.0" r="0.5" fill="#913028"/><circle cx="220.8" cy="703.7" r="0.5" fill="#cc6a3e"/><circle cx="216.4" cy="697.5" r="0.5" fill="#cc6a3e"/><circle cx="213.7" cy="698.6" r="0.5" fill="#913028"/><circle cx="227.1" cy="693.6" r="0.5" fill="#913028"/><circle cx="228.0" cy="696.1" r="0.5" fill="#cc6a3e"/><circle cx="224.9" cy="697.8" r="0.5" fill="#ebcb86"/><circle cx="223.7" cy="704.4" r="0.5" fill="#cc6a3e"/><circle cx="231.5" cy="705.4" r="0.5" fill="#cc6a3e"/><circle cx="220.4" cy="701.9" r="0.5" fill="#913028"/><circle cx="225.4" cy="698.5" r="0.5" fill="#cc6a3e"/><circle cx="221.6" cy="697.8" r="0.5" fill="#913028"/><circle cx="227.1" cy="697.7" r="0.5" fill="#913028"/><circle cx="226.7" cy="703.0" r="0.5" fill="#913028"/><circle cx="223.3" cy="700.7" r="0.5" fill="#cc6a3e"/><circle cx="234.7" cy="706.4" r="0.5" fill="#cc6a3e"/><circle cx="234.7" cy="705.3" r="0.5" fill="#913028"/><circle cx="237.3" cy="698.2" r="0.5" fill="#913028"/><circle cx="230.5" cy="697.5" r="0.5" fill="#913028"/><circle cx="233.5" cy="696.1" r="0.5" fill="#913028"/><circle cx="215.7" cy="700.8" r="0.5" fill="#913028"/><circle cx="232.9" cy="695.0" r="0.5" fill="#ebcb86"/><circle cx="239.3" cy="702.7" r="0.5" fill="#913028"/><circle cx="222.5" cy="706.1" r="0.5" fill="#cc6a3e"/><circle cx="230.8" cy="701.7" r="0.5" fill="#cc6a3e"/><circle cx="227.8" cy="697.0" r="0.5" fill="#cc6a3e"/><circle cx="218.7" cy="706.5" r="0.5" fill="#913028"/><circle cx="226.3" cy="699.2" r="0.5" fill="#ebcb86"/><circle cx="232.0" cy="697.3" r="0.5" fill="#cc6a3e"/><circle cx="229.2" cy="697.7" r="0.5" fill="#913028"/><circle cx="233.2" cy="698.5" r="0.5" fill="#cc6a3e"/><circle cx="220.8" cy="708.9" r="0.5" fill="#ebcb86"/><circle cx="220.4" cy="699.9" r="0.5" fill="#913028"/><circle cx="225.1" cy="700.4" r="0.5" fill="#ebcb86"/><circle cx="236.7" cy="702.0" r="0.5" fill="#cc6a3e"/><circle cx="214.9" cy="705.3" r="0.5" fill="#cc6a3e"/><circle cx="227.3" cy="698.1" r="0.5" fill="#cc6a3e"/><circle cx="231.3" cy="709.7" r="0.5" fill="#cc6a3e"/><circle cx="226.9" cy="709.1" r="0.5" fill="#913028"/><circle cx="228.2" cy="698.6" r="0.5" fill="#913028"/><circle cx="217.4" cy="705.6" r="0.5" fill="#913028"/><circle cx="233.7" cy="706.5" r="0.5" fill="#913028"/><circle cx="228.8" cy="699.9" r="0.5" fill="#913028"/><circle cx="224.1" cy="694.8" r="0.5" fill="#cc6a3e"/><circle cx="230.9" cy="712.0" r="0.5" fill="#913028"/><circle cx="225.1" cy="702.0" r="0.5" fill="#cc6a3e"/><circle cx="222.6" cy="694.7" r="0.5" fill="#913028"/><circle cx="235.6" cy="699.4" r="0.5" fill="#ebcb86"/><circle cx="216.5" cy="701.3" r="0.5" fill="#913028"/><circle cx="224.1" cy="708.3" r="0.5" fill="#cc6a3e"/><circle cx="226.6" cy="693.5" r="0.5" fill="#913028"/><circle cx="222.8" cy="711.2" r="0.5" fill="#cc6a3e"/><circle cx="235.2" cy="709.7" r="0.5" fill="#913028"/><circle cx="219.9" cy="698.1" r="0.5" fill="#cc6a3e"/><circle cx="223.2" cy="705.3" r="0.5" fill="#cc6a3e"/><circle cx="221.3" cy="704.2" r="0.5" fill="#cc6a3e"/><circle cx="218.8" cy="698.5" r="0.5" fill="#913028"/><circle cx="223.4" cy="709.0" r="0.5" fill="#cc6a3e"/><circle cx="228.6" cy="704.8" r="0.5" fill="#ebcb86"/><circle cx="224.0" cy="697.9" r="0.5" fill="#913028"/><circle cx="214.5" cy="701.9" r="0.5" fill="#ebcb86"/><circle cx="226.5" cy="701.1" r="0.5" fill="#ebcb86"/><circle cx="231.9" cy="709.6" r="0.5" fill="#cc6a3e"/><circle cx="231.6" cy="699.3" r="0.5" fill="#913028"/><circle cx="219.4" cy="703.3" r="0.5" fill="#cc6a3e"/><circle cx="220.1" cy="707.1" r="0.5" fill="#ebcb86"/><circle cx="221.8" cy="703.0" r="0.5" fill="#913028"/><circle cx="227.1" cy="711.1" r="0.5" fill="#cc6a3e"/><circle cx="225.2" cy="703.7" r="0.5" fill="#cc6a3e"/><circle cx="238.9" cy="707.2" r="0.5" fill="#913028"/><circle cx="230.0" cy="704.1" r="0.5" fill="#cc6a3e"/><circle cx="220.5" cy="709.4" r="0.5" fill="#913028"/><circle cx="229.6" cy="709.3" r="0.5" fill="#913028"/><circle cx="224.0" cy="697.2" r="0.5" fill="#cc6a3e"/><circle cx="226.9" cy="705.1" r="0.5" fill="#913028"/><circle cx="227.2" cy="700.8" r="0.5" fill="#cc6a3e"/><circle cx="235.7" cy="698.0" r="0.5" fill="#cc6a3e"/><circle cx="225.0" cy="711.2" r="0.5" fill="#913028"/><circle cx="236.1" cy="702.4" r="0.5" fill="#ebcb86"/><circle cx="222.8" cy="695.6" r="0.5" fill="#913028"/><circle cx="220.5" cy="705.9" r="0.5" fill="#cc6a3e"/><circle cx="215.3" cy="707.1" r="0.5" fill="#913028"/><circle cx="235.7" cy="699.0" r="0.5" fill="#ebcb86"/><circle cx="235.5" cy="710.7" r="0.5" fill="#cc6a3e"/><circle cx="232.9" cy="709.2" r="0.5" fill="#cc6a3e"/><circle cx="220.8" cy="705.7" r="0.5" fill="#913028"/><circle cx="235.8" cy="705.6" r="0.5" fill="#ebcb86"/><circle cx="219.6" cy="702.7" r="0.5" fill="#ebcb86"/><circle cx="218.9" cy="705.6" r="0.5" fill="#ebcb86"/><circle cx="222.3" cy="694.4" r="0.5" fill="#cc6a3e"/><circle cx="234.0" cy="703.4" r="0.5" fill="#ebcb86"/><circle cx="221.2" cy="709.5" r="0.5" fill="#ebcb86"/><circle cx="214.1" cy="706.0" r="0.5" fill="#cc6a3e"/><circle cx="232.2" cy="695.7" r="0.5" fill="#913028"/><circle cx="229.8" cy="710.7" r="0.5" fill="#cc6a3e"/><circle cx="226.4" cy="693.8" r="0.5" fill="#913028"/><circle cx="218.6" cy="707.4" r="0.5" fill="#cc6a3e"/><circle cx="234.1" cy="704.7" r="0.5" fill="#cc6a3e"/><circle cx="216.6" cy="699.2" r="0.5" fill="#ebcb86"/><circle cx="219.8" cy="706.6" r="0.5" fill="#ebcb86"/><circle cx="222.3" cy="698.0" r="0.5" fill="#cc6a3e"/><circle cx="230.3" cy="703.1" r="0.5" fill="#913028"/><circle cx="224.9" cy="704.0" r="0.5" fill="#913028"/><circle cx="220.5" cy="697.3" r="0.5" fill="#913028"/><circle cx="225.7" cy="708.1" r="0.5" fill="#913028"/><circle cx="223.2" cy="712.0" r="0.5" fill="#913028"/><circle cx="224.2" cy="695.2" r="0.5" fill="#913028"/><circle cx="231.8" cy="712.0" r="0.5" fill="#cc6a3e"/><circle cx="221.2" cy="702.4" r="0.5" fill="#913028"/><circle cx="225.1" cy="702.1" r="0.5" fill="#ebcb86"/><circle cx="224.5" cy="711.7" r="0.5" fill="#ebcb86"/><circle cx="222.7" cy="711.9" r="0.5" fill="#cc6a3e"/><circle cx="235.0" cy="710.5" r="0.5" fill="#913028"/><circle cx="236.3" cy="698.8" r="0.5" fill="#913028"/><circle cx="225.9" cy="701.1" r="0.5" fill="#cc6a3e"/><circle cx="234.0" cy="708.6" r="0.5" fill="#cc6a3e"/><circle cx="223.3" cy="700.8" r="0.5" fill="#ebcb86"/><circle cx="230.5" cy="700.9" r="0.5" fill="#913028"/><circle cx="214.6" cy="701.5" r="0.5" fill="#913028"/><circle cx="223.6" cy="711.9" r="0.5" fill="#cc6a3e"/><circle cx="222.6" cy="700.7" r="0.5" fill="#913028"/><circle cx="238.2" cy="711.7" r="0.5" fill="#f1e7b4"/><circle cx="228.8" cy="709.8" r="0.5" fill="#913028"/><circle cx="230.0" cy="710.9" r="0.5" fill="#f1e7b4"/><circle cx="231.3" cy="709.6" r="0.5" fill="#cc6a3e"/><circle cx="223.9" cy="710.3" r="0.5" fill="#ebcb86"/><circle cx="229.1" cy="711.4" r="0.5" fill="#f1e7b4"/><circle cx="233.2" cy="712.2" r="0.5" fill="#f1e7b4"/><circle cx="226.5" cy="708.8" r="0.5" fill="#cc6a3e"/><circle cx="233.0" cy="709.7" r="0.5" fill="#cc6a3e"/><circle cx="232.5" cy="710.0" r="0.5" fill="#ebcb86"/><circle cx="225.2" cy="709.5" r="0.5" fill="#cc6a3e"/><circle cx="236.0" cy="710.9" r="0.5" fill="#cc6a3e"/><circle cx="227.3" cy="712.9" r="0.5" fill="#f1e7b4"/><circle cx="233.0" cy="710.6" r="0.5" fill="#f1e7b4"/><circle cx="233.3" cy="711.4" r="0.5" fill="#f1e7b4"/><circle cx="222.8" cy="710.3" r="0.5" fill="#cc6a3e"/><circle cx="229.1" cy="713.2" r="0.5" fill="#cc6a3e"/><circle cx="234.2" cy="710.1" r="0.5" fill="#913028"/><circle cx="233.9" cy="710.1" r="0.5" fill="#f1e7b4"/><circle cx="227.4" cy="712.6" r="0.5" fill="#913028"/><circle cx="221.5" cy="711.4" r="0.5" fill="#913028"/><circle cx="235.1" cy="710.2" r="0.5" fill="#913028"/><circle cx="235.4" cy="711.5" r="0.5" fill="#cc6a3e"/><circle cx="225.0" cy="711.0" r="0.5" fill="#f1e7b4"/><circle cx="225.7" cy="712.1" r="0.5" fill="#913028"/><circle cx="232.7" cy="710.9" r="0.5" fill="#cc6a3e"/><circle cx="233.3" cy="709.6" r="0.5" fill="#cc6a3e"/><circle cx="231.9" cy="712.5" r="0.5" fill="#ebcb86"/><circle cx="226.7" cy="710.3" r="0.5" fill="#cc6a3e"/><circle cx="227.4" cy="712.5" r="0.5" fill="#913028"/><circle cx="224.1" cy="712.5" r="0.5" fill="#ebcb86"/><circle cx="234.8" cy="709.3" r="0.5" fill="#f1e7b4"/><circle cx="225.6" cy="711.3" r="0.5" fill="#913028"/><circle cx="226.2" cy="712.6" r="0.5" fill="#913028"/><circle cx="231.3" cy="709.8" r="0.5" fill="#cc6a3e"/><circle cx="227.0" cy="710.2" r="0.5" fill="#f1e7b4"/><circle cx="228.9" cy="713.4" r="0.5" fill="#913028"/><circle cx="236.3" cy="710.1" r="0.5" fill="#913028"/><circle cx="237.5" cy="709.9" r="0.5" fill="#ebcb86"/><circle cx="223.1" cy="710.5" r="0.5" fill="#ebcb86"/><circle cx="267.0" cy="705.0" r="0.5" fill="#f1e7b4"/><circle cx="268.5" cy="705.3" r="0.5" fill="#913028"/><circle cx="270.3" cy="708.0" r="0.5" fill="#f1e7b4"/><circle cx="269.1" cy="706.4" r="0.5" fill="#cc6a3e"/><circle cx="269.9" cy="704.9" r="0.5" fill="#cc6a3e"/><circle cx="270.6" cy="705.6" r="0.5" fill="#cc6a3e"/><circle cx="269.7" cy="704.6" r="0.5" fill="#f1e7b4"/><circle cx="268.4" cy="709.7" r="0.5" fill="#ebcb86"/><circle cx="267.5" cy="704.1" r="0.5" fill="#f1e7b4"/><circle cx="268.9" cy="704.5" r="0.5" fill="#f1e7b4"/><circle cx="268.6" cy="709.4" r="0.5" fill="#ebcb86"/><circle cx="268.2" cy="709.5" r="0.5" fill="#ebcb86"/><circle cx="267.1" cy="706.9" r="0.5" fill="#f1e7b4"/><circle cx="270.3" cy="708.2" r="0.5" fill="#f1e7b4"/><circle cx="267.8" cy="707.8" r="0.5" fill="#ebcb86"/><circle cx="268.6" cy="708.6" r="0.5" fill="#f1e7b4"/><circle cx="269.0" cy="703.5" r="0.5" fill="#f1e7b4"/><circle cx="269.8" cy="706.1" r="0.5" fill="#f1e7b4"/><circle cx="268.4" cy="707.2" r="0.5" fill="#f1e7b4"/><circle cx="271.1" cy="705.1" r="0.5" fill="#913028"/><circle cx="270.1" cy="704.7" r="0.5" fill="#cc6a3e"/><circle cx="271.0" cy="707.7" r="0.5" fill="#f1e7b4"/><circle cx="270.7" cy="708.1" r="0.5" fill="#913028"/><circle cx="269.9" cy="706.6" r="0.5" fill="#f1e7b4"/><circle cx="266.8" cy="706.7" r="0.5" fill="#ebcb86"/><circle cx="268.3" cy="705.1" r="0.5" fill="#f1e7b4"/><circle cx="268.6" cy="707.5" r="0.5" fill="#f1e7b4"/><circle cx="270.9" cy="706.7" r="0.5" fill="#f1e7b4"/><circle cx="224.9" cy="764.2" r="0.5" fill="#f1e7b4"/><circle cx="226.8" cy="768.6" r="0.5" fill="#ebcb86"/><circle cx="229.5" cy="767.9" r="0.5" fill="#f1e7b4"/><circle cx="229.5" cy="764.7" r="0.5" fill="#f1e7b4"/><circle cx="228.0" cy="768.0" r="0.5" fill="#f1e7b4"/><circle cx="225.2" cy="768.3" r="0.5" fill="#ebcb86"/><circle cx="229.6" cy="767.3" r="0.5" fill="#f1e7b4"/><circle cx="227.1" cy="766.8" r="0.5" fill="#ebcb86"/><circle cx="228.6" cy="767.3" r="0.5" fill="#f1e7b4"/><circle cx="226.9" cy="767.9" r="0.5" fill="#ebcb86"/><circle cx="222.8" cy="766.0" r="0.5" fill="#f1e7b4"/><circle cx="226.2" cy="766.8" r="0.5" fill="#ebcb86"/><circle cx="225.7" cy="766.0" r="0.5" fill="#f1e7b4"/><circle cx="225.8" cy="766.1" r="0.5" fill="#f1e7b4"/><circle cx="225.5" cy="764.9" r="0.5" fill="#f1e7b4"/><circle cx="224.6" cy="766.2" r="0.5" fill="#f1e7b4"/><circle cx="230.6" cy="764.9" r="0.5" fill="#f1e7b4"/><circle cx="229.1" cy="768.1" r="0.5" fill="#f1e7b4"/><circle cx="225.7" cy="764.8" r="0.5" fill="#f1e7b4"/><circle cx="229.3" cy="766.2" r="0.5" fill="#ebcb86"/><circle cx="222.1" cy="767.8" r="0.5" fill="#cc6a3e"/><circle cx="230.3" cy="767.4" r="0.5" fill="#f1e7b4"/><circle cx="228.2" cy="764.0" r="0.5" fill="#ebcb86"/><circle cx="226.1" cy="764.9" r="0.5" fill="#cc6a3e"/><circle cx="229.5" cy="764.2" r="0.5" fill="#f1e7b4"/><circle cx="225.2" cy="766.8" r="0.5" fill="#f1e7b4"/><circle cx="226.3" cy="768.2" r="0.5" fill="#ebcb86"/><circle cx="229.4" cy="765.4" r="0.5" fill="#f1e7b4"/><circle cx="231.9" cy="765.4" r="0.5" fill="#f1e7b4"/><circle cx="222.6" cy="765.9" r="0.5" fill="#f1e7b4"/><circle cx="228.4" cy="765.5" r="0.5" fill="#cc6a3e"/><circle cx="222.8" cy="766.8" r="0.5" fill="#ebcb86"/><circle cx="224.8" cy="767.1" r="0.5" fill="#f1e7b4"/><circle cx="227.1" cy="765.0" r="0.5" fill="#f1e7b4"/><circle cx="224.4" cy="768.1" r="0.5" fill="#ebcb86"/><circle cx="224.3" cy="766.0" r="0.5" fill="#ebcb86"/><circle cx="223.2" cy="764.6" r="0.5" fill="#f1e7b4"/><circle cx="223.8" cy="765.4" r="0.5" fill="#cc6a3e"/><circle cx="229.8" cy="765.8" r="0.5" fill="#ebcb86"/><circle cx="225.8" cy="768.0" r="0.5" fill="#ebcb86"/><circle cx="208.2" cy="721.0" r="0.5" fill="#ebcb86"/><circle cx="214.3" cy="719.6" r="0.5" fill="#ebcb86"/><circle cx="207.7" cy="718.6" r="0.5" fill="#f1e7b4"/><circle cx="213.2" cy="719.0" r="0.5" fill="#cc6a3e"/><circle cx="208.6" cy="719.6" r="0.5" fill="#f1e7b4"/><circle cx="205.4" cy="718.9" r="0.5" fill="#f1e7b4"/><circle cx="208.2" cy="717.9" r="0.5" fill="#ebcb86"/><circle cx="205.8" cy="720.7" r="0.5" fill="#f1e7b4"/><circle cx="207.1" cy="718.6" r="0.5" fill="#f1e7b4"/><circle cx="206.6" cy="718.9" r="0.5" fill="#913028"/><circle cx="212.2" cy="720.2" r="0.5" fill="#f1e7b4"/><circle cx="210.7" cy="718.1" r="0.5" fill="#ebcb86"/><circle cx="205.3" cy="718.6" r="0.5" fill="#ebcb86"/><circle cx="212.5" cy="719.8" r="0.5" fill="#f1e7b4"/><circle cx="211.8" cy="718.9" r="0.5" fill="#913028"/><circle cx="210.7" cy="718.9" r="0.5" fill="#cc6a3e"/><circle cx="206.7" cy="718.0" r="0.5" fill="#913028"/><circle cx="210.6" cy="720.1" r="0.5" fill="#f1e7b4"/><circle cx="203.9" cy="719.9" r="0.5" fill="#cc6a3e"/><circle cx="205.5" cy="719.2" r="0.5" fill="#f1e7b4"/><circle cx="206.2" cy="718.2" r="0.5" fill="#f1e7b4"/><circle cx="210.7" cy="719.5" r="0.5" fill="#f1e7b4"/>
<circle cx="265.6" cy="799.6" r="0.6" fill="#e8c27a"/><circle cx="280" cy="799.6" r="0.6" fill="#e8c27a"/><circle cx="268" cy="799.8" r="0.5" fill="#efe3a8"/>
<ellipse cx="227.2" cy="703.1" rx="19.3" ry="19.0" fill="none" stroke="#6a3fb0" stroke-width="1.3" stroke-dasharray="2.6 2.2" transform="rotate(12 227.2 703.1)"/>
<text x="393.60" y="609.70" font-size="12.5" text-anchor="start" fill="#000">H</text>
<line x1="436.20" y1="620.60" x2="436.20" y2="697.20" stroke="#000" stroke-width="1.2"/>
<line x1="435.60" y1="696.60" x2="677.60" y2="696.60" stroke="#000" stroke-width="1.2"/>
<line x1="433.00" y1="693.30" x2="436.20" y2="693.30" stroke="#000" stroke-width="0.9"/>
<text x="0" y="0" font-size="9.2" text-anchor="end" fill="#1a1a1a" transform="translate(430.7 696.60) scale(1.3 1)">0.00</text>
<line x1="433.00" y1="675.40" x2="436.20" y2="675.40" stroke="#000" stroke-width="0.9"/>
<text x="0" y="0" font-size="9.2" text-anchor="end" fill="#1a1a1a" transform="translate(430.7 678.70) scale(1.3 1)">0.25</text>
<line x1="433.00" y1="657.50" x2="436.20" y2="657.50" stroke="#000" stroke-width="0.9"/>
<text x="0" y="0" font-size="9.2" text-anchor="end" fill="#1a1a1a" transform="translate(430.7 660.80) scale(1.3 1)">0.50</text>
<line x1="433.00" y1="639.60" x2="436.20" y2="639.60" stroke="#000" stroke-width="0.9"/>
<text x="0" y="0" font-size="9.2" text-anchor="end" fill="#1a1a1a" transform="translate(430.7 642.90) scale(1.3 1)">0.75</text>
<line x1="433.00" y1="621.70" x2="436.20" y2="621.70" stroke="#000" stroke-width="0.9"/>
<text x="0" y="0" font-size="9.2" text-anchor="end" fill="#1a1a1a" transform="translate(430.7 625.00) scale(1.3 1)">1.00</text>
<text x="402.30" y="662.20" font-size="10.2" text-anchor="middle" fill="#1a1a1a" transform="rotate(-90 402.3 662.2)">Log2FC</text>
<rect x="440.50" y="624.56" width="7.20" height="68.74" fill="#1f2a3e"/>
<line x1="444.10" y1="696.60" x2="444.10" y2="699.40" stroke="#000" stroke-width="0.9"/>
<text x="447.80" y="701.30" font-size="10.4" text-anchor="end" fill="#1a1a1a" transform="rotate(-90 447.8 701.3)">HCC</text>
<rect x="453.69" y="635.30" width="7.20" height="58.00" fill="#1f2a3e"/>
<line x1="457.29" y1="696.60" x2="457.29" y2="699.40" stroke="#000" stroke-width="0.9"/>
<text x="460.99" y="701.30" font-size="10.4" text-anchor="end" fill="#1a1a1a" transform="rotate(-90 460.99 701.3)">CRC</text>
<rect x="466.88" y="646.04" width="7.20" height="47.26" fill="#1f2a3e"/>
<line x1="470.48" y1="696.60" x2="470.48" y2="699.40" stroke="#000" stroke-width="0.9"/>
<text x="474.18" y="701.30" font-size="10.4" text-anchor="end" fill="#1a1a1a" transform="rotate(-90 474.18 701.3)">LC</text>
<rect x="480.07" y="657.50" width="7.20" height="35.80" fill="#1f2a3e"/>
<line x1="483.67" y1="696.60" x2="483.67" y2="699.40" stroke="#000" stroke-width="0.9"/>
<text x="487.37" y="701.30" font-size="10.4" text-anchor="end" fill="#1a1a1a" transform="rotate(-90 487.37 701.3)">MELA</text>
<rect x="493.26" y="670.39" width="7.20" height="22.91" fill="#1f2a3e"/>
<line x1="496.86" y1="696.60" x2="496.86" y2="699.40" stroke="#000" stroke-width="0.9"/>
<text x="500.56" y="701.30" font-size="10.4" text-anchor="end" fill="#1a1a1a" transform="rotate(-90 500.56 701.3)">OV</text>
<rect x="506.45" y="674.68" width="7.20" height="18.62" fill="#1f2a3e"/>
<line x1="510.05" y1="696.60" x2="510.05" y2="699.40" stroke="#000" stroke-width="0.9"/>
<text x="513.75" y="701.30" font-size="10.4" text-anchor="end" fill="#1a1a1a" transform="rotate(-90 513.75 701.3)">PACA</text>
<rect x="519.64" y="676.12" width="7.20" height="17.18" fill="#1f2a3e"/>
<line x1="523.24" y1="696.60" x2="523.24" y2="699.40" stroke="#000" stroke-width="0.9"/>
<text x="526.94" y="701.30" font-size="10.4" text-anchor="end" fill="#1a1a1a" transform="rotate(-90 526.94 701.3)">ESCA</text>
<rect x="532.83" y="678.98" width="7.20" height="14.32" fill="#1f2a3e"/>
<line x1="536.43" y1="696.60" x2="536.43" y2="699.40" stroke="#000" stroke-width="0.9"/>
<text x="540.13" y="701.30" font-size="10.4" text-anchor="end" fill="#1a1a1a" transform="rotate(-90 540.1300000000001 701.3)">UCEC</text>
<rect x="546.02" y="679.70" width="7.20" height="13.60" fill="#1f2a3e"/>
<line x1="549.62" y1="696.60" x2="549.62" y2="699.40" stroke="#000" stroke-width="0.9"/>
<text x="553.32" y="701.30" font-size="10.4" text-anchor="end" fill="#1a1a1a" transform="rotate(-90 553.32 701.3)">BCC</text>
<rect x="559.21" y="681.13" width="7.20" height="12.17" fill="#1f2a3e"/>
<line x1="562.81" y1="696.60" x2="562.81" y2="699.40" stroke="#000" stroke-width="0.9"/>
<text x="566.51" y="701.30" font-size="10.4" text-anchor="end" fill="#1a1a1a" transform="rotate(-90 566.5100000000001 701.3)">BC</text>
<rect x="572.40" y="681.13" width="7.20" height="12.17" fill="#1f2a3e"/>
<line x1="576.00" y1="696.60" x2="576.00" y2="699.40" stroke="#000" stroke-width="0.9"/>
<text x="579.70" y="701.30" font-size="10.4" text-anchor="end" fill="#1a1a1a" transform="rotate(-90 579.7 701.3)">STAD</text>
<rect x="585.59" y="681.84" width="7.20" height="11.46" fill="#1f2a3e"/>
<line x1="589.19" y1="696.60" x2="589.19" y2="699.40" stroke="#000" stroke-width="0.9"/>
<text x="592.89" y="701.30" font-size="10.4" text-anchor="end" fill="#1a1a1a" transform="rotate(-90 592.8900000000001 701.3)">CHOL</text>
<rect x="598.78" y="682.56" width="7.20" height="10.74" fill="#1f2a3e"/>
<line x1="602.38" y1="696.60" x2="602.38" y2="699.40" stroke="#000" stroke-width="0.9"/>
<text x="606.08" y="701.30" font-size="10.4" text-anchor="end" fill="#1a1a1a" transform="rotate(-90 606.08 701.3)">THCA</text>
<rect x="611.97" y="683.28" width="7.20" height="10.02" fill="#1f2a3e"/>
<line x1="615.57" y1="696.60" x2="615.57" y2="699.40" stroke="#000" stroke-width="0.9"/>
<text x="619.27" y="701.30" font-size="10.4" text-anchor="end" fill="#1a1a1a" transform="rotate(-90 619.2700000000001 701.3)">SCC</text>
<rect x="625.16" y="683.99" width="7.20" height="9.31" fill="#1f2a3e"/>
<line x1="628.76" y1="696.60" x2="628.76" y2="699.40" stroke="#000" stroke-width="0.9"/>
<text x="632.46" y="701.30" font-size="10.4" text-anchor="end" fill="#1a1a1a" transform="rotate(-90 632.46 701.3)">MM</text>
<rect x="638.35" y="683.99" width="7.20" height="9.31" fill="#1f2a3e"/>
<line x1="641.95" y1="696.60" x2="641.95" y2="699.40" stroke="#000" stroke-width="0.9"/>
<text x="645.65" y="701.30" font-size="10.4" text-anchor="end" fill="#1a1a1a" transform="rotate(-90 645.6500000000001 701.3)">NPC</text>
<rect x="651.54" y="687.93" width="7.20" height="5.37" fill="#1f2a3e"/>
<line x1="655.14" y1="696.60" x2="655.14" y2="699.40" stroke="#000" stroke-width="0.9"/>
<text x="658.84" y="701.30" font-size="10.4" text-anchor="end" fill="#1a1a1a" transform="rotate(-90 658.84 701.3)">RC</text>
<rect x="664.73" y="690.08" width="7.20" height="3.22" fill="#6ba6d6"/>
<line x1="668.33" y1="696.60" x2="668.33" y2="699.40" stroke="#000" stroke-width="0.9"/>
<text x="672.03" y="701.30" font-size="10.4" text-anchor="end" fill="#1a1a1a" transform="rotate(-90 672.0300000000001 701.3)">BCL</text>
<text x="615.00" y="631.80" font-size="10.2" text-anchor="start" fill="#1a1a1a">p value</text>
<defs><linearGradient id="gpv" x1="0" y1="0" x2="0" y2="1"><stop offset="0" stop-color="#78b6e6"/><stop offset="0.45" stop-color="#3a5f88"/><stop offset="1" stop-color="#1d2a40"/></linearGradient></defs>
<rect x="614.70" y="638.00" width="7.00" height="35.50" fill="url(#gpv)"/>
<text x="0" y="0" font-size="9.2" fill="#1a1a1a" transform="translate(623.6 644.80) scale(1.22 1)">4e-06</text>
<line x1="614.70" y1="641.60" x2="616.00" y2="641.60" stroke="#fff" stroke-width="0.6"/>
<line x1="620.40" y1="641.60" x2="621.70" y2="641.60" stroke="#fff" stroke-width="0.6"/>
<text x="0" y="0" font-size="9.2" fill="#1a1a1a" transform="translate(623.6 653.30) scale(1.22 1)">3e-06</text>
<line x1="614.70" y1="650.10" x2="616.00" y2="650.10" stroke="#fff" stroke-width="0.6"/>
<line x1="620.40" y1="650.10" x2="621.70" y2="650.10" stroke="#fff" stroke-width="0.6"/>
<text x="0" y="0" font-size="9.2" fill="#1a1a1a" transform="translate(623.6 661.90) scale(1.22 1)">2e-06</text>
<line x1="614.70" y1="658.70" x2="616.00" y2="658.70" stroke="#fff" stroke-width="0.6"/>
<line x1="620.40" y1="658.70" x2="621.70" y2="658.70" stroke="#fff" stroke-width="0.6"/>
<text x="0" y="0" font-size="9.2" fill="#1a1a1a" transform="translate(623.6 670.10) scale(1.22 1)">1e-06</text>
<line x1="614.70" y1="666.90" x2="616.00" y2="666.90" stroke="#fff" stroke-width="0.6"/>
<line x1="620.40" y1="666.90" x2="621.70" y2="666.90" stroke="#fff" stroke-width="0.6"/>
<text x="393.80" y="739.90" font-size="12.5" text-anchor="start" fill="#000">I</text>
<line x1="407.70" y1="782.70" x2="424.60" y2="773.00" stroke="#1a1a1a" stroke-width="0.9"/>
<text x="429.40" y="775.00" font-size="10.0" text-anchor="middle" fill="#1a1a1a">N</text>
<text x="429.40" y="765.00" font-size="10.0" text-anchor="middle" fill="#1a1a1a">H</text>
<line x1="434.20" y1="773.20" x2="451.50" y2="782.70" stroke="#1a1a1a" stroke-width="0.9"/>
<line x1="451.50" y1="782.70" x2="467.30" y2="773.50" stroke="#1a1a1a" stroke-width="0.9"/>
<line x1="466.20" y1="773.50" x2="466.20" y2="761.20" stroke="#1a1a1a" stroke-width="0.9"/>
<line x1="468.40" y1="773.50" x2="468.40" y2="761.20" stroke="#1a1a1a" stroke-width="0.9"/>
<text x="467.60" y="759.80" font-size="10.0" text-anchor="middle" fill="#1a1a1a">O</text>
<line x1="467.30" y1="773.50" x2="476.30" y2="778.40" stroke="#1a1a1a" stroke-width="0.9"/>
<text x="476.30" y="785.60" font-size="10.0" text-anchor="start" fill="#1a1a1a">OH</text>
<text x="515.00" y="768.00" font-size="10.0" text-anchor="middle" fill="#1a1a1a">SARDH</text>
<line x1="495.70" y1="773.50" x2="531.50" y2="773.50" stroke="#1a1a1a" stroke-width="0.9"/>
<path d="M 534.2 773.5 L 529.8 771.3 L 530.8 773.5 L 529.8 775.7 Z" fill="#1a1a1a"/>
<text x="447.50" y="810.70" font-size="10.3" text-anchor="middle" fill="#1a1a1a">Sarcosine</text>
<text x="542.80" y="777.60" font-size="10.0" text-anchor="start" fill="#1a1a1a">H</text>
<text x="549.90" y="780.00" font-size="6.6" text-anchor="start" fill="#1a1a1a">2</text>
<text x="553.40" y="777.60" font-size="10.0" text-anchor="start" fill="#1a1a1a">N</text>
<line x1="561.00" y1="774.60" x2="578.80" y2="784.40" stroke="#1a1a1a" stroke-width="0.9"/>
<line x1="578.80" y1="784.40" x2="594.60" y2="774.60" stroke="#1a1a1a" stroke-width="0.9"/>
<line x1="593.50" y1="774.60" x2="593.50" y2="763.20" stroke="#1a1a1a" stroke-width="0.9"/>
<line x1="595.70" y1="774.60" x2="595.70" y2="763.20" stroke="#1a1a1a" stroke-width="0.9"/>
<text x="595.00" y="762.10" font-size="10.0" text-anchor="middle" fill="#1a1a1a">O</text>
<line x1="594.60" y1="774.60" x2="603.30" y2="779.80" stroke="#1a1a1a" stroke-width="0.9"/>
<text x="603.00" y="787.20" font-size="10.0" text-anchor="start" fill="#1a1a1a">OH</text>
<text x="581.20" y="810.70" font-size="10.3" text-anchor="middle" fill="#1a1a1a">Glycine</text>
<text x="628.30" y="777.00" font-size="10.5" text-anchor="middle" fill="#1a1a1a">+</text>
<line x1="658.10" y1="774.60" x2="658.10" y2="763.20" stroke="#1a1a1a" stroke-width="0.9"/>
<line x1="660.30" y1="774.60" x2="660.30" y2="763.20" stroke="#1a1a1a" stroke-width="0.9"/>
<text x="659.20" y="762.10" font-size="10.0" text-anchor="middle" fill="#1a1a1a">O</text>
<line x1="659.20" y1="774.60" x2="646.90" y2="781.00" stroke="#1a1a1a" stroke-width="0.9"/>
<line x1="659.20" y1="774.60" x2="671.70" y2="781.00" stroke="#1a1a1a" stroke-width="0.9"/>
<text x="642.40" y="788.00" font-size="10.0" text-anchor="middle" fill="#1a1a1a">H</text>
<text x="676.40" y="788.00" font-size="10.0" text-anchor="middle" fill="#1a1a1a">H</text>
<text x="660.30" y="810.70" font-size="10.3" text-anchor="middle" fill="#1a1a1a">FA</text>
</svg></body></html>
